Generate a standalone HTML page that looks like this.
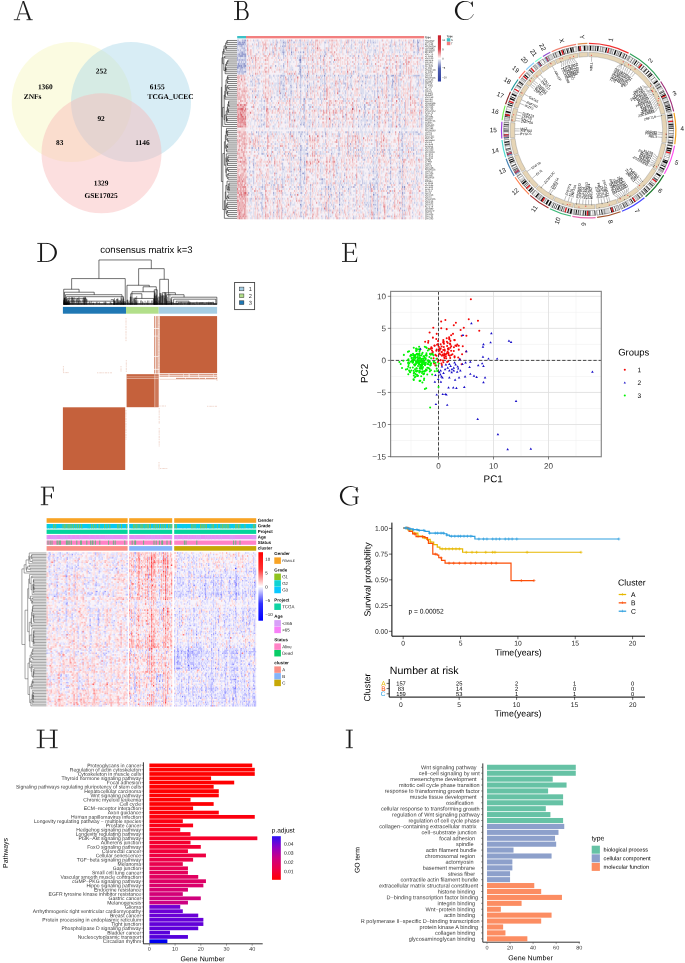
<!DOCTYPE html>
<html><head><meta charset="utf-8"><title>Figure</title>
<style>html,body{margin:0;padding:0;background:#fff}svg{display:block;will-change:transform}text{white-space:pre;text-rendering:geometricPrecision}</style></head>
<body><svg width="685" height="963" viewBox="0 0 685 963" font-family="Liberation Sans, sans-serif">
<rect width="685" height="963" fill="#fff"/>
<g id="panel_a">
<g>
<circle cx="71.7" cy="102" r="60" fill="#f7f7c0" fill-opacity="0.48"/>
<circle cx="131" cy="102" r="60" fill="#a8d8e8" fill-opacity="0.45"/>
<circle cx="101.5" cy="153.3" r="60" fill="#f8b8b8" fill-opacity="0.45"/>
</g>
<g font-family="Liberation Serif" font-weight="bold" font-size="7.4" text-anchor="middle">
<text x="45.3" y="89.2" transform="rotate(0.03 45.3 89.2)">1360</text>
<text x="32.6" y="98.9" transform="rotate(0.03 32.6 98.9)">ZNFs</text>
<text x="101.4" y="73.4" transform="rotate(0.03 101.4 73.4)">252</text>
<text x="157.2" y="89.2" transform="rotate(0.03 157.2 89.2)">6155</text>
<text x="170.6" y="98.9" transform="rotate(0.03 170.6 98.9)">TCGA_UCEC</text>
<text x="101.1" y="121.1" transform="rotate(0.03 101.1 121.1)">92</text>
<text x="59.8" y="144.9" transform="rotate(0.03 59.8 144.9)">83</text>
<text x="142.4" y="144.9" transform="rotate(0.03 142.4 144.9)">1146</text>
<text x="101.1" y="185.6" transform="rotate(0.03 101.1 185.6)">1329</text>
<text x="101.1" y="198" transform="rotate(0.03 101.1 198)">GSE17025</text>
</g>
</g>
<g id="panel_b">
<rect x="237.2" y="39.5" width="187" height="179.8" fill="#f6f0f6"/>
<path d="M239.2 42.43h1m2 0h1m1 0h1m38 0h1M291.2 52.2h1m11 0h1M324.2 56.11h1M299.2 60.02h2M300.2 61.98h1M238.2 63.93h1M239.2 65.88h1m1 0h1m3 0h1M237.2 67.84h1M300.2 69.79h1M307.2 75.66h1m16 0h1M280.2 93.24h1M304.2 99.11h1M389.2 132.33h1M307.2 153.83h1M300.2 159.69h1M300.2 169.46h1M328.2 187.05h1m73 0h1m1 0h1M402.2 192.92h1M373.2 194.87h1M300.2 204.64h1m38 0h1" stroke="#717cbe" stroke-width="1.99" fill="none"/>
<path d="M242.2 40.48h1m1 0h2m45 0h1m121 0h1m3 0h1M238.2 42.43h1m1 0h1m2 0h1m44 0h1m57 0h1m20 0h1m5 0h1m39 0h1m3 0h2M237.2 44.39h7m32 0h1m30 0h1m109 0h1M241.2 46.34h1m40 0h1m130 0h1m3 0h1M244.2 48.29h1m173 0h1M240.2 50.25h1m87 0h1m89 0h1M241.2 52.2h2m30 0h1m8 0h2m16 0h1M238.2 54.16h2m1 0h5m37 0h1m7 0h1m33 0h1M239.2 56.11h4m1 0h2m54 0h1m19 0h1m37 0h1M237.2 58.07h1m62 0h1M237.2 60.02h1m1 0h1m2 0h1M241.2 61.98h1m3 0h1M243.2 63.93h2M237.2 65.88h2m1 0h1m2 0h2m30 0h1m7 0h1m15 0h1M238.2 67.84h1m1 0h3m1 0h1m55 0h1m19 0h1M240.2 69.79h1M237.2 71.75h1m1 0h1m4 0h2m53 0h2m52 0h1M300.2 73.7h1m6 0h1m92 0h1M252.2 75.66h1m28 0h1m18 0h1m15 0h1m17 0h1m3 0h1m12 0h1m6 0h1m3 0h1m11 0h1m5 0h1m6 0h1m3 0h3m1 0h1m22 0h1M280.2 77.61h1m69 0h1m14 0h1m11 0h1M291.2 79.56h1m47 0h1m52 0h1M307.2 81.52h1m50 0h1m3 0h1m29 0h2M365.2 83.47h1m26 0h1m2 0h1M283.2 85.43h1m6 0h1m16 0h1m53 0h1m30 0h1M296.2 87.38h1m3 0h1m6 0h1m40 0h1M252.2 91.29h1m38 0h1m8 0h1m6 0h1m16 0h1m14 0h1m37 0h1M284.2 95.2h1m22 0h1m87 0h1m2 0h1M271.2 97.15h1M364.2 99.11h1M264.2 101.06h1m123 0h1M421.2 103.02h1M303.2 104.97h1m60 0h1M274.2 106.93h1m89 0h1m12 0h1M340.2 108.88h1m23 0h1M395.2 112.79h1m25 0h1M261.2 114.74h1m47 0h1m35 0h1m18 0h1m9 0h1M318.2 116.7h1m24 0h1m13 0h1m6 0h1M421.2 118.65h1M261.2 120.61h1m112 0h1m13 0h1m10 0h1m4 0h1M377.2 122.56h1M263.2 124.51h1m36 0h1m2 0h1m28 0h1m36 0h1m4 0h1m24 0h1m21 0h1M309.2 126.47h1m28 0h1m19 0h1M256.2 132.33h1m33 0h1m34 0h1m27 0h1m28 0h1m16 0h1M290.2 134.29h1m16 0h1m17 0h1m45 0h1m46 0h1M300.2 136.24h1m21 0h1m79 0h1M401.2 140.15h1M350.2 144.06h1M300.2 146.01h1M252.2 147.97h1m5 0h1M293.2 149.92h1m6 0h1m57 0h1m18 0h1m6 0h1m17 0h1m10 0h1M348.2 151.88h1m33 0h1M262.2 153.83h1m21 0h1m3 0h1m42 0h1m6 0h1m38 0h1m35 0h1M307.2 155.78h1m64 0h1M249.2 157.74h1m43 0h1m6 0h1m89 0h1m8 0h1M253.2 159.69h1m61 0h1m48 0h1m37 0h1M304.2 161.65h1M253.2 163.6h1m50 0h1m85 0h1M253.2 165.56h1m50 0h1m97 0h1M249.2 167.51h1m50 0h1m89 0h1m8 0h1m2 0h1M300.2 171.42h1m72 0h1m16 0h1m8 0h2m1 0h1M302.2 173.37h2m86 0h1m30 0h1M300.2 175.33h1m43 0h1M304.2 177.28h1M304.2 179.24h1m16 0h2m50 0h1m16 0h1M269.2 183.14h1m120 0h1m8 0h1m7 0h1M310.2 185.1h1m59 0h1M251.2 187.05h1m10 0h1m19 0h1m42 0h1m16 0h1m10 0h1m16 0h1m2 0h1m13 0h1M328.2 189.01h1m1 0h1m17 0h1m55 0h1M248.2 192.92h1m24 0h1m27 0h1m37 0h1m47 0h1M262.2 194.87h1m27 0h1m30 0h1m6 0h1m2 0h1m9 0h1m35 0h1m24 0h1M370.2 196.83h1M310.2 198.78h1m17 0h1m10 0h1m62 0h1M301.2 200.73h1m37 0h1m33 0h1M273.2 202.69h1M373.2 204.64h1m28 0h1M325.2 206.6h1M310.2 208.55h1m22 0h1m43 0h1m22 0h1M282.2 210.51h1m45 0h1m25 0h1m22 0h1m24 0h1m1 0h1M273.2 212.46h1m65 0h1M387.2 216.37h1M353.2 218.32h1m25 0h1m22 0h1" stroke="#99a0d0" stroke-width="1.99" fill="none"/>
<path d="M237.2 40.48h2m4 0h1m9 0h1m3 0h1m18 0h1m3 0h1m2 0h1m15 0h2m10 0h1m36 0h1m2 0h1m16 0h1m1 0h1m20 0h1m7 0h1m19 0h1m3 0h1M237.2 42.43h1m3 0h1m3 0h1m12 0h1m14 0h1m2 0h2m6 0h2m7 0h2m5 0h1m6 0h1m2 0h1m2 0h1m10 0h2m2 0h1m19 0h1m5 0h1m4 0h1m1 0h1m8 0h1m4 0h1m15 0h1m10 0h1m6 0h1M244.2 44.39h2m6 0h1m5 0h1m11 0h1m12 0h1m1 0h1m14 0h1m2 0h1m7 0h1m39 0h1m15 0h1m22 0h1m4 0h1m3 0h1m2 0h1m20 0h1M237.2 46.34h1m1 0h2m1 0h1m1 0h1m1 0h1m11 0h1m17 0h1m3 0h1m2 0h3m2 0h1m11 0h1m12 0h1m29 0h1m7 0h1m9 0h1m5 0h1m1 0h1m7 0h1m11 0h2m4 0h1m22 0h1M237.2 48.29h1m3 0h3m39 0h1m4 0h1m2 0h1m4 0h1m10 0h1m20 0h1m22 0h1m9 0h1m55 0h1m5 0h1M237.2 50.25h2m4 0h3m26 0h1m3 0h1m3 0h1m1 0h2m5 0h1m1 0h1m15 0h1m3 0h1m1 0h1m10 0h1m21 0h1m12 0h1m14 0h2m26 0h1m14 0h1M239.2 52.2h2m2 0h2m13 0h1m13 0h1m11 0h1m8 0h1m4 0h1m8 0h1m5 0h1m10 0h2m20 0h1m1 0h1m7 0h1m2 0h1m1 0h1m6 0h1m6 0h1m5 0h1m10 0h1m6 0h1m6 0h1m6 0h2m2 0h2m4 0h1M237.2 54.16h1m2 0h1m15 0h1m16 0h1m93 0h1m5 0h1m43 0h1m3 0h1M237.2 56.11h2m4 0h1m4 0h1m5 0h1m23 0h1m4 0h1m1 0h1m17 0h1m3 0h1m23 0h1m18 0h1m2 0h1m15 0h1m19 0h1m5 0h1m4 0h1M240.2 58.07h1m3 0h2m32 0h1m4 0h1m13 0h1m1 0h1m3 0h1m16 0h1m37 0h1M238.2 60.02h1m1 0h2m1 0h3m6 0h1m28 0h1m38 0h1m48 0h1m19 0h1m30 0h1M238.2 61.98h2m3 0h1m8 0h1m46 0h1m13 0h1m10 0h1m5 0h1m2 0h1m61 0h1m4 0h1M237.2 63.93h1m1 0h4m2 0h1m37 0h1m16 0h1m23 0h1m33 0h1m4 0h1m7 0h1m17 0h1M242.2 65.88h1m18 0h1m35 0h2m1 0h1m3 0h1m2 0h1m5 0h1m6 0h1m25 0h1m48 0h1m3 0h2m22 0h1M239.2 67.84h1m3 0h1m1 0h1m37 0h1m15 0h1m5 0h1m1 0h1m3 0h1m1 0h1m20 0h1m6 0h1m16 0h1m24 0h2m10 0h1m3 0h2m15 0h1m6 0h1M237.2 69.79h1m1 0h1m1 0h2m2 0h1m46 0h1m6 0h1m20 0h1m9 0h1m27 0h1M238.2 71.75h1m1 0h4m80 0h1m16 0h1m58 0h1M238.2 73.7h2m1 0h3m16 0h1m31 0h1m5 0h2m13 0h1m10 0h2m24 0h1m2 0h1m4 0h1m18 0h1m21 0h1M250.2 75.66h1m18 0h1m3 0h1m4 0h1m1 0h1m1 0h3m5 0h2m1 0h1m2 0h1m4 0h2m2 0h1m14 0h1m1 0h1m5 0h1m1 0h1m14 0h1m19 0h1m1 0h1m2 0h1m6 0h1m4 0h1m5 0h1m9 0h3m3 0h1m8 0h5m1 0h1M256.2 77.61h1m12 0h1m13 0h1m4 0h1m1 0h1m9 0h2m2 0h1m2 0h1m1 0h1m6 0h1m4 0h1m2 0h1m20 0h1m14 0h1m5 0h2m1 0h1m4 0h1m13 0h1m6 0h1m13 0h1m6 0h1M252.2 79.56h1m1 0h1m2 0h2m24 0h1m3 0h2m11 0h1m4 0h1m14 0h1m3 0h1m18 0h1m1 0h1m28 0h1m2 0h1m17 0h1m2 0h1m19 0h1m1 0h1m2 0h1M250.2 81.52h2m6 0h1m21 0h2m2 0h1m3 0h1m1 0h1m9 0h1m12 0h1m10 0h1m14 0h1m3 0h1m21 0h1m11 0h1m10 0h1m9 0h1m19 0h1m4 0h1M252.2 83.47h1m5 0h2m18 0h1m1 0h2m1 0h1m12 0h1m3 0h1m8 0h1m3 0h1m8 0h1m1 0h2m6 0h1m5 0h1m4 0h3m4 0h1m23 0h1m2 0h1m4 0h1m5 0h1m9 0h1m18 0h2m4 0h1M247.2 85.43h1m4 0h1m1 0h1m14 0h1m10 0h1m1 0h1m1 0h1m6 0h1m4 0h1m2 0h2m3 0h1m4 0h1m6 0h1m3 0h1m3 0h1m9 0h1m10 0h1m4 0h2m22 0h1m16 0h1m3 0h1m2 0h1m1 0h1m16 0h1M283.2 87.38h1m6 0h2m21 0h1m1 0h1m8 0h1m5 0h1m8 0h1m4 0h1m6 0h1m13 0h1m3 0h1m7 0h1m2 0h1m10 0h2M250.2 89.34h1m31 0h3m39 0h1m14 0h1m8 0h1m28 0h1m3 0h2m4 0h1m7 0h1M254.2 91.29h1m3 0h1m18 0h1m8 0h1m3 0h1m5 0h1m16 0h1m8 0h1m2 0h1m8 0h1m3 0h1m6 0h1m22 0h1m3 0h1m1 0h1m3 0h1m3 0h1m5 0h1m6 0h1m21 0h1m5 0h1M283.2 93.24h1m6 0h2m8 0h1m6 0h1m12 0h1m3 0h1m9 0h1m10 0h1m5 0h1m9 0h1m12 0h1m2 0h1m4 0h1m12 0h1m2 0h1M252.2 95.2h1m3 0h2m4 0h1m14 0h1m4 0h1m5 0h1m2 0h1m8 0h1m19 0h1m3 0h1m14 0h1m10 0h1m14 0h1m8 0h1m2 0h1m4 0h1m5 0h2m2 0h1m25 0h1M252.2 97.15h1m21 0h1m7 0h1m17 0h1m19 0h1m21 0h1m22 0h1m8 0h1m2 0h1m14 0h1m23 0h2M261.2 99.11h1m8 0h1m9 0h1m3 0h1m2 0h1m2 0h1m2 0h1m6 0h1m2 0h1m5 0h3m6 0h1m1 0h1m17 0h1m4 0h1m13 0h1m7 0h1m10 0h1m14 0h1m6 0h2m2 0h1M261.2 101.06h1m9 0h1m21 0h1m6 0h1m2 0h2m16 0h1m21 0h1m1 0h1m2 0h1m15 0h1m9 0h1m16 0h1m7 0h1m21 0h1M254.2 103.02h1m45 0h1m3 0h1m16 0h1m47 0h1m6 0h1m27 0h1M290.2 104.97h1m13 0h1m3 0h1m25 0h1m22 0h1m11 0h2m6 0h1m10 0h1m2 0h1m7 0h1m4 0h1m13 0h1m2 0h1M251.2 106.93h1m11 0h2m6 0h1m21 0h1m7 0h1m1 0h2m4 0h2m17 0h1m9 0h1m1 0h1m2 0h1m1 0h1m7 0h1m4 0h1m1 0h1m4 0h1m8 0h1m16 0h1m7 0h1m4 0h1m16 0h2M261.2 108.88h1m1 0h2m10 0h1m9 0h1m14 0h1m2 0h2m4 0h1m8 0h1m9 0h1m14 0h1m9 0h1m7 0h1m7 0h1m18 0h1m10 0h1M261.2 110.83h1m31 0h1m6 0h1m2 0h2m16 0h1m43 0h1m11 0h1m10 0h1m6 0h1m15 0h1m9 0h1M283.2 112.79h1m9 0h1m9 0h1m60 0h2m11 0h1M254.2 114.74h1m3 0h1m5 0h1m22 0h1m2 0h1m13 0h1m13 0h1m15 0h1m18 0h1m13 0h1m18 0h1m1 0h1m8 0h1m1 0h2m7 0h1m12 0h1M264.2 116.7h1m6 0h1m4 0h1m16 0h1m4 0h1m4 0h2m4 0h1m11 0h1m31 0h1m7 0h1m12 0h1m1 0h2m12 0h2m12 0h1M301.2 118.65h1m1 0h2m29 0h1m39 0h1m2 0h1m10 0h1m10 0h1m18 0h1M255.2 120.61h1m2 0h1m11 0h1m6 0h1m13 0h1m8 0h1m9 0h1m21 0h1m12 0h1m7 0h1m4 0h1m2 0h1m4 0h2m22 0h1m20 0h1m9 0h1M264.2 122.56h1m20 0h1m15 0h1m1 0h2m4 0h1m3 0h1m4 0h1m15 0h1m5 0h1m12 0h1m28 0h1m12 0h1m25 0h1M261.2 124.51h1m2 0h1m25 0h1m2 0h1m7 0h1m2 0h1m33 0h1m4 0h1m14 0h1m2 0h1m2 0h2m1 0h1m9 0h1m13 0h1m6 0h1m5 0h1M258.2 126.47h2m1 0h1m11 0h1m19 0h1m10 0h1m13 0h1m9 0h1m3 0h1m31 0h1m9 0h1m13 0h1m2 0h1m3 0h1m3 0h2m3 0h1m12 0h1m3 0h1M251.2 132.33h1m6 0h1m2 0h2m2 0h1m4 0h1m5 0h1m11 0h1m4 0h1m4 0h2m1 0h2m1 0h1m2 0h1m7 0h1m6 0h1m15 0h1m6 0h2m1 0h1m7 0h1m1 0h1m15 0h1m13 0h1m12 0h1m3 0h2m6 0h1m1 0h3m2 0h1M251.2 134.29h2m5 0h1m12 0h1m11 0h1m9 0h1m6 0h2m13 0h2m21 0h2m8 0h1m7 0h1m1 0h1m18 0h1m21 0h1m1 0h2m1 0h1m4 0h1m3 0h1m5 0h1M258.2 136.24h1m2 0h1m6 0h1m15 0h1m5 0h1m13 0h1m20 0h1m12 0h2m8 0h1m4 0h1m14 0h1m8 0h1M251.2 138.19h1m12 0h1m25 0h1m2 0h1m2 0h1m18 0h1m85 0h2m10 0h1M252.2 140.15h1m40 0h1m8 0h1m3 0h2m17 0h1m32 0h1m12 0h1m41 0h1M258.2 142.1h1m6 0h1m41 0h1m17 0h1m12 0h1m6 0h1m12 0h1m18 0h1m24 0h1m17 0h1M258.2 144.06h1m12 0h1m3 0h1m12 0h1m17 0h2m30 0h1m22 0h1m15 0h1m1 0h1m21 0h2m10 0h1M301.2 146.01h1m36 0h1m9 0h1m9 0h1m18 0h1m11 0h1m11 0h2m10 0h1M251.2 147.97h1m11 0h1m11 0h1m1 0h1m5 0h1m4 0h1m7 0h1m3 0h2m4 0h2m14 0h1m2 0h1m12 0h2m10 0h1m2 0h1m6 0h1m1 0h1m11 0h1m24 0h1m7 0h1m3 0h1m1 0h1M256.2 149.92h1m1 0h1m5 0h1m10 0h1m7 0h1m6 0h1m10 0h1m3 0h2m18 0h1m5 0h1m6 0h2m8 0h1m1 0h1m2 0h1m2 0h1m3 0h1m1 0h1m11 0h1m7 0h1m5 0h2m6 0h1m4 0h1m9 0h1m8 0h1M271.2 151.88h1m7 0h1m16 0h1m3 0h1m14 0h1m4 0h1m7 0h1m24 0h1m7 0h1m8 0h1m2 0h1m15 0h1m12 0h1m13 0h1M258.2 153.83h1m2 0h1m1 0h1m2 0h1m4 0h1m5 0h1m12 0h1m9 0h1m4 0h2m8 0h2m3 0h1m18 0h1m6 0h1m1 0h1m1 0h1m5 0h1m1 0h1m3 0h1m7 0h1m3 0h1m4 0h1m4 0h1m4 0h2m5 0h1m2 0h1m2 0h1m13 0h1M290.2 155.78h1m9 0h1m30 0h1m6 0h1m14 0h1m4 0h1m2 0h1m37 0h1m1 0h1m5 0h1m5 0h1M271.2 157.74h1m19 0h1m6 0h1m5 0h1m15 0h1m9 0h1m27 0h1m3 0h1m4 0h1m5 0h1m2 0h1m12 0h1m12 0h1m4 0h1m8 0h1M271.2 159.69h1m10 0h2m7 0h1m9 0h1m2 0h1m25 0h1m5 0h1m21 0h1m4 0h1m26 0h1m25 0h1m4 0h1M249.2 161.65h1m3 0h1m46 0h1m72 0h1m16 0h1M249.2 163.6h1m5 0h1m25 0h2m5 0h1m11 0h1m19 0h1m16 0h1m6 0h1m18 0h1m9 0h1m22 0h1m2 0h1m2 0h1M271.2 165.56h1m10 0h1m16 0h1m5 0h1m9 0h1m19 0h2m39 0h1m39 0h1M253.2 167.51h1m28 0h1m1 0h1m14 0h1m4 0h1m39 0h1m13 0h1m1 0h1m1 0h1m7 0h1m2 0h1m2 0h1m4 0h1m24 0h1M282.2 169.46h2m9 0h1m26 0h1m15 0h1m8 0h1m22 0h1m4 0h1m13 0h1m12 0h1m1 0h1M247.2 171.42h1m2 0h1m1 0h2m36 0h2m7 0h1m4 0h1m4 0h1m10 0h1m9 0h1m5 0h1m23 0h1m11 0h1m3 0h1m30 0h1m8 0h1m1 0h1m2 0h1M249.2 173.37h1m3 0h1m21 0h2m23 0h1m3 0h1m6 0h1m16 0h1m7 0h2m6 0h1m24 0h1m3 0h1m3 0h1m11 0h1m9 0h1m2 0h1M262.2 175.33h1m28 0h1m4 0h1m7 0h1m50 0h1m7 0h1m12 0h2m12 0h1m11 0h1M247.2 177.28h1m5 0h1m18 0h1m6 0h1m4 0h1m15 0h1m34 0h1m4 0h1m35 0h1m13 0h1m7 0h1m17 0h1M249.2 179.24h1m3 0h1m8 0h1m12 0h1m5 0h2m5 0h1m2 0h1m4 0h1m3 0h1m19 0h1m3 0h1m19 0h1m17 0h1m9 0h1m1 0h1m2 0h1m24 0h1m13 0h1M253.2 181.19h1m8 0h1m1 0h1m7 0h1m3 0h1m5 0h1m8 0h1m8 0h1m2 0h1m18 0h1m12 0h1m4 0h1m21 0h1m13 0h1m10 0h1m11 0h1m11 0h1m1 0h1m3 0h1M249.2 183.14h1m3 0h1m22 0h1m5 0h1m16 0h2m2 0h2m8 0h1m1 0h1m5 0h2m7 0h1m4 0h1m4 0h1m3 0h1m1 0h1m15 0h1m1 0h1m4 0h2m1 0h1m2 0h3m3 0h1m11 0h1m6 0h1m1 0h1m13 0h1m4 0h1M262.2 185.1h1m8 0h1m1 0h2m3 0h1m3 0h1m17 0h1m27 0h1m2 0h1m7 0h1m1 0h1m12 0h2m4 0h2m12 0h1m2 0h1m24 0h1m9 0h1m4 0h1M261.2 187.05h1m2 0h1m8 0h1m4 0h1m4 0h1m6 0h1m3 0h1m2 0h2m1 0h2m8 0h1m22 0h1m5 0h1m3 0h1m7 0h1m2 0h1m13 0h1m5 0h1m2 0h1m10 0h2m2 0h1M262.2 189.01h1m1 0h1m8 0h1m1 0h1m2 0h1m19 0h1m2 0h1m8 0h1m10 0h1m3 0h1m8 0h1m30 0h1m2 0h1m1 0h1m2 0h2m2 0h1m2 0h1m1 0h1m4 0h1m14 0h1m10 0h1M325.2 190.96h1m4 0h1m17 0h1m16 0h1m4 0h1m18 0h1m2 0h1m9 0h1M260.2 192.92h2m20 0h1m7 0h1m9 0h1m9 0h1m10 0h1m3 0h1m2 0h1m7 0h1m5 0h1m7 0h1m22 0h1m1 0h1m13 0h1m8 0h1m5 0h1m7 0h1m9 0h1M251.2 194.87h1m9 0h1m11 0h1m8 0h1m11 0h1m9 0h1m5 0h1m14 0h1m4 0h1m8 0h1m2 0h1m31 0h1M262.2 196.83h1m68 0h1m5 0h1m1 0h1m33 0h1m3 0h1m9 0h1m16 0h1M250.2 198.78h2m4 0h1m1 0h1m2 0h2m10 0h2m3 0h1m3 0h1m31 0h1m6 0h1m12 0h1m18 0h1m10 0h1m8 0h1m3 0h1m9 0h1m7 0h1m8 0h1m7 0h1M250.2 200.73h1m49 0h1m9 0h1m17 0h1m14 0h1m9 0h1m3 0h1m12 0h1m4 0h1m1 0h1m12 0h1m11 0h1M256.2 202.69h1m3 0h2m28 0h1m13 0h1m5 0h1m8 0h1m5 0h1m4 0h1m8 0h1m8 0h1m15 0h1m2 0h1m2 0h1m6 0h1m15 0h1m6 0h1m1 0h1m11 0h1m6 0h1M256.2 204.64h1m1 0h1m2 0h1m28 0h1m10 0h1m7 0h2m10 0h1m1 0h1m1 0h1m2 0h1m2 0h1m1 0h1m8 0h1m10 0h1m1 0h1m9 0h2m1 0h1m1 0h1m3 0h2m1 0h1m2 0h1m8 0h1m14 0h1m11 0h1m4 0h1M261.2 206.6h2m37 0h2m5 0h1m2 0h1m17 0h1m4 0h1m14 0h1m19 0h1m1 0h1m6 0h1m9 0h1m14 0h1m1 0h1M261.2 208.55h2m15 0h1m3 0h1m17 0h1m6 0h1m5 0h1m7 0h1m3 0h1m2 0h1m10 0h1m17 0h1m16 0h2m11 0h1m1 0h1M258.2 210.51h1m2 0h1m16 0h1m16 0h1m14 0h1m10 0h1m3 0h1m4 0h1m8 0h1m2 0h1m49 0h1M262.2 212.46h1m6 0h1m8 0h1m3 0h1m2 0h1m8 0h1m5 0h2m2 0h1m23 0h1m39 0h1m4 0h1m3 0h1m2 0h1m21 0h1m9 0h1M262.2 214.41h1m10 0h1m20 0h1m5 0h1m6 0h1m20 0h1m10 0h1m8 0h1m21 0h1m2 0h2m2 0h1m24 0h1m1 0h1M273.2 216.37h1m4 0h1m9 0h1m11 0h2m1 0h1m17 0h1m3 0h1m2 0h1m1 0h1m22 0h1m11 0h1m7 0h1m14 0h2m6 0h1m5 0h1m9 0h1m8 0h1M269.2 218.32h1m20 0h1m12 0h1m6 0h1m14 0h1m2 0h1m10 0h1m33 0h2m2 0h1m26 0h1" stroke="#bcc1e1" stroke-width="1.99" fill="none"/>
<path d="M240.2 40.48h2m14 0h1m1 0h1m10 0h1m2 0h2m7 0h2m2 0h1m2 0h1m7 0h1m10 0h2m16 0h2m1 0h1m11 0h2m4 0h1m6 0h1m5 0h1m7 0h1m4 0h2m1 0h1m1 0h1m3 0h1m27 0h1m4 0h1m3 0h1M254.2 42.43h1m5 0h1m9 0h1m1 0h1m7 0h3m3 0h1m3 0h2m4 0h1m1 0h2m2 0h2m1 0h2m1 0h1m2 0h1m21 0h2m5 0h2m9 0h1m1 0h1m4 0h1m1 0h1m2 0h1m4 0h1m2 0h2m1 0h1m2 0h1m7 0h1m3 0h2m4 0h2m2 0h1m5 0h2m7 0h2m4 0h1m2 0h1M267.2 44.39h1m4 0h2m6 0h1m1 0h1m5 0h1m2 0h1m6 0h1m3 0h1m1 0h1m15 0h1m3 0h1m3 0h1m11 0h1m7 0h1m12 0h1m9 0h1m1 0h1m17 0h1m21 0h1m4 0h1m2 0h1M238.2 46.34h1m4 0h1m1 0h1m3 0h1m3 0h1m2 0h2m2 0h2m7 0h1m2 0h1m17 0h2m1 0h1m3 0h3m3 0h2m2 0h2m2 0h1m12 0h1m3 0h2m3 0h1m7 0h1m4 0h1m1 0h1m1 0h1m2 0h1m5 0h1m6 0h1m3 0h1m2 0h2m1 0h1m5 0h1m1 0h1m6 0h2m3 0h1m1 0h3m1 0h1m1 0h1m16 0h1m1 0h1M239.2 48.29h2m11 0h2m2 0h1m1 0h1m8 0h1m1 0h1m3 0h1m2 0h1m3 0h3m10 0h1m6 0h1m2 0h1m4 0h1m2 0h1m4 0h1m7 0h2m11 0h1m2 0h2m1 0h1m2 0h1m3 0h1m3 0h1m2 0h1m1 0h1m7 0h2m2 0h1m3 0h1m4 0h1m9 0h2m3 0h1m4 0h1m1 0h1m10 0h2M239.2 50.25h1m1 0h2m3 0h1m6 0h1m15 0h1m3 0h1m5 0h1m1 0h1m2 0h2m2 0h1m11 0h1m2 0h1m2 0h1m7 0h1m10 0h1m15 0h1m9 0h1m1 0h1m2 0h1m4 0h1m6 0h4m1 0h1m3 0h1m11 0h4m2 0h5m13 0h1M237.2 52.2h2m6 0h1m7 0h1m9 0h2m2 0h1m2 0h1m5 0h1m3 0h2m3 0h1m2 0h1m7 0h1m5 0h1m5 0h1m1 0h2m8 0h1m1 0h1m3 0h1m1 0h1m10 0h3m7 0h2m3 0h1m3 0h1m6 0h1m1 0h1m2 0h1m2 0h2m3 0h1m1 0h1m6 0h1m1 0h1m1 0h1m3 0h1m1 0h1m4 0h1m1 0h1m2 0h2m7 0h1M260.2 54.16h1m3 0h1m2 0h1m2 0h1m1 0h1m3 0h1m4 0h2m1 0h1m8 0h1m5 0h2m2 0h1m3 0h2m11 0h1m2 0h2m18 0h1m4 0h1m2 0h1m3 0h1m5 0h1m6 0h1m6 0h2m1 0h1m12 0h1m7 0h1m13 0h2M252.2 56.11h1m10 0h1m8 0h1m17 0h1m1 0h1m1 0h1m2 0h3m1 0h1m9 0h1m1 0h1m2 0h1m5 0h1m2 0h1m4 0h1m1 0h1m16 0h1m2 0h1m9 0h1m7 0h1m1 0h2m3 0h1m5 0h2m2 0h2m2 0h1m7 0h1m1 0h2m4 0h1m4 0h2M238.2 58.07h2m1 0h3m6 0h1m9 0h1m14 0h1m4 0h1m4 0h1m4 0h2m15 0h1m3 0h1m1 0h1m2 0h1m7 0h1m5 0h2m21 0h1m8 0h2m5 0h2m3 0h1m4 0h1m9 0h1m4 0h1m18 0h1m2 0h1m1 0h3M246.2 60.02h1m44 0h1m4 0h1m1 0h1m4 0h2m2 0h1m3 0h1m1 0h1m2 0h1m7 0h1m6 0h1m5 0h1m8 0h1m11 0h1m4 0h1m6 0h1m6 0h1m5 0h1m11 0h1m3 0h2m3 0h1m5 0h1m12 0h1M237.2 61.98h1m2 0h1m1 0h1m1 0h1m1 0h1m13 0h1m2 0h1m10 0h2m1 0h2m5 0h2m3 0h2m2 0h1m10 0h1m2 0h1m3 0h1m4 0h1m3 0h1m1 0h1m12 0h1m14 0h1m2 0h1m4 0h1m3 0h4m3 0h1m1 0h1m5 0h1m11 0h1m9 0h1m2 0h1m4 0h1m11 0h1m3 0h1M246.2 63.93h1m31 0h1m5 0h1m4 0h1m8 0h2m9 0h1m1 0h1m4 0h1m13 0h2m5 0h1m11 0h1m3 0h1m30 0h1m2 0h1m12 0h3m17 0h1M247.2 65.88h2m1 0h1m1 0h3m5 0h1m9 0h2m6 0h1m1 0h2m7 0h1m1 0h1m9 0h3m1 0h1m10 0h2m6 0h2m2 0h1m10 0h1m10 0h1m2 0h1m3 0h2m3 0h1m1 0h1m1 0h1m2 0h4m2 0h1m1 0h1m6 0h1m5 0h1m10 0h1m2 0h2m6 0h2m4 0h1m1 0h1m1 0h1M252.2 67.84h1m1 0h1m6 0h1m7 0h1m5 0h1m5 0h1m2 0h1m5 0h3m11 0h1m4 0h1m4 0h1m2 0h1m3 0h2m1 0h1m5 0h1m8 0h1m2 0h1m3 0h1m3 0h1m2 0h2m2 0h1m1 0h1m1 0h1m2 0h1m4 0h1m3 0h1m15 0h1m12 0h1m11 0h1m5 0h1M238.2 69.79h1m4 0h2m1 0h1m1 0h1m29 0h1m1 0h2m1 0h1m5 0h3m6 0h1m2 0h1m1 0h1m3 0h1m14 0h1m1 0h2m9 0h1m5 0h1m4 0h1m10 0h1m1 0h2m1 0h3m5 0h1m6 0h1m10 0h2m11 0h1m14 0h1m1 0h1m1 0h2m1 0h1M252.2 71.75h1m8 0h1m13 0h1m4 0h1m2 0h1m4 0h1m14 0h1m3 0h1m3 0h1m8 0h1m4 0h1m4 0h1m14 0h1m8 0h1m3 0h1m4 0h1m5 0h2m13 0h1m2 0h1m11 0h1m1 0h2m2 0h1m14 0h1M237.2 73.7h1m2 0h1m4 0h1m6 0h1m14 0h1m14 0h3m5 0h1m5 0h1m7 0h1m4 0h1m6 0h1m13 0h1m1 0h1m12 0h2m2 0h1m2 0h1m6 0h1m1 0h1m19 0h1m2 0h1m17 0h1m15 0h1m2 0h2M246.2 75.66h1m9 0h4m2 0h1m1 0h1m5 0h1m3 0h1m1 0h2m9 0h3m14 0h1m4 0h1m1 0h1m1 0h1m4 0h1m2 0h1m3 0h1m6 0h1m2 0h1m3 0h5m2 0h1m1 0h3m6 0h1m3 0h1m2 0h1m1 0h1m5 0h2m5 0h1m10 0h1m6 0h1m10 0h2m1 0h2m8 0h3M252.2 77.61h1m1 0h1m6 0h1m8 0h2m2 0h1m2 0h1m3 0h1m2 0h1m6 0h1m1 0h1m2 0h1m5 0h1m2 0h1m5 0h1m1 0h1m18 0h3m3 0h2m1 0h1m1 0h2m3 0h1m12 0h1m17 0h1m2 0h2m3 0h1m1 0h1m2 0h2m4 0h1m15 0h1m2 0h2m2 0h1M246.2 79.56h1m3 0h1m8 0h1m11 0h1m3 0h1m1 0h2m1 0h3m1 0h1m5 0h1m2 0h1m7 0h1m2 0h1m2 0h1m1 0h1m1 0h1m1 0h1m1 0h3m3 0h2m2 0h1m4 0h1m3 0h1m15 0h2m9 0h1m3 0h2m3 0h1m9 0h1m7 0h2m7 0h1m1 0h1m7 0h1m8 0h2m3 0h1M252.2 81.52h1m1 0h1m11 0h1m2 0h1m3 0h1m3 0h2m3 0h1m6 0h1m1 0h1m1 0h1m2 0h1m2 0h1m20 0h3m2 0h1m2 0h1m5 0h1m2 0h2m10 0h3m2 0h1m5 0h2m1 0h1m2 0h1m1 0h3m2 0h2m4 0h1m7 0h1m2 0h2m3 0h1m4 0h2m4 0h1m8 0h1m5 0h1M246.2 83.47h1m3 0h1m3 0h1m1 0h2m4 0h1m6 0h1m1 0h1m2 0h4m4 0h1m1 0h1m3 0h4m1 0h1m1 0h1m2 0h1m3 0h1m1 0h1m6 0h1m4 0h1m3 0h1m2 0h1m6 0h2m2 0h1m4 0h1m2 0h1m8 0h1m6 0h1m3 0h1m5 0h3m8 0h2m6 0h1m1 0h1m3 0h1m5 0h2m3 0h2m2 0h2m6 0h1m4 0h2M250.2 85.43h2m6 0h1m3 0h1m8 0h1m1 0h3m1 0h2m22 0h2m2 0h1m5 0h1m1 0h1m1 0h1m5 0h1m9 0h1m1 0h1m4 0h3m7 0h2m6 0h1m1 0h1m6 0h1m1 0h1m4 0h2m1 0h1m1 0h1m1 0h1m1 0h1m2 0h1m2 0h2m10 0h1m4 0h1m3 0h2m3 0h1m2 0h1m1 0h1m4 0h1M257.2 87.38h2m12 0h1m2 0h1m2 0h2m1 0h1m1 0h1m6 0h1m3 0h1m5 0h1m5 0h1m3 0h1m1 0h1m4 0h1m8 0h1m5 0h2m1 0h1m3 0h1m4 0h1m6 0h1m7 0h1m1 0h2m4 0h1m3 0h2m2 0h1m7 0h1m4 0h3m3 0h1m1 0h1m2 0h1m10 0h1m3 0h1m1 0h2m1 0h1m1 0h1m1 0h2M252.2 89.34h1m9 0h1m9 0h2m1 0h1m1 0h2m1 0h2m6 0h4m4 0h1m3 0h1m3 0h4m3 0h1m1 0h1m6 0h2m3 0h1m7 0h2m8 0h1m14 0h1m1 0h4m6 0h2m18 0h4m4 0h2m2 0h1m3 0h1m6 0h1m4 0h1m3 0h1M256.2 91.29h1m3 0h1m1 0h1m6 0h1m3 0h1m2 0h1m1 0h1m1 0h5m3 0h1m4 0h1m7 0h1m2 0h2m3 0h1m1 0h1m3 0h2m16 0h1m8 0h1m1 0h1m5 0h1m9 0h4m1 0h1m5 0h1m8 0h1m10 0h2m5 0h1m1 0h1m7 0h2m4 0h1m1 0h1m1 0h1M248.2 93.24h1m5 0h1m2 0h2m12 0h1m1 0h2m1 0h2m3 0h2m1 0h1m3 0h1m4 0h1m11 0h1m5 0h1m13 0h1m4 0h1m7 0h1m4 0h1m11 0h1m2 0h1m1 0h1m1 0h2m1 0h3m4 0h1m6 0h1m7 0h1m3 0h2m6 0h1m2 0h1m10 0h1m3 0h2M248.2 95.2h1m5 0h1m3 0h1m12 0h1m4 0h1m1 0h1m1 0h1m2 0h1m3 0h1m1 0h2m2 0h1m2 0h1m4 0h1m3 0h1m6 0h1m3 0h1m4 0h2m2 0h1m4 0h1m2 0h2m3 0h1m1 0h2m2 0h2m2 0h1m2 0h1m1 0h1m7 0h2m3 0h1m1 0h3m9 0h1m9 0h2m1 0h1m6 0h1m4 0h1m3 0h1m3 0h2m1 0h2m5 0h1M257.2 97.15h2m2 0h1m16 0h1m1 0h1m2 0h1m3 0h1m2 0h2m1 0h1m10 0h2m1 0h1m16 0h1m5 0h1m3 0h1m4 0h1m1 0h1m3 0h1m5 0h1m1 0h1m4 0h1m2 0h3m4 0h1m1 0h2m10 0h1m4 0h2m2 0h1m3 0h1m2 0h1m1 0h1m8 0h1m4 0h2m6 0h1M248.2 99.11h1m3 0h1m1 0h1m9 0h1m9 0h1m6 0h1m3 0h1m8 0h1m1 0h3m2 0h1m5 0h2m4 0h1m3 0h1m3 0h3m1 0h1m8 0h1m9 0h2m7 0h1m4 0h2m1 0h1m4 0h2m1 0h3m1 0h2m2 0h1m3 0h1m1 0h1m2 0h1m1 0h1m15 0h1m3 0h2m7 0h1m2 0h3M249.2 101.06h1m1 0h1m1 0h3m3 0h2m2 0h1m13 0h1m2 0h1m1 0h4m4 0h1m5 0h1m11 0h2m5 0h1m2 0h1m6 0h1m2 0h1m5 0h1m9 0h1m4 0h1m3 0h1m3 0h3m10 0h1m6 0h1m9 0h1m2 0h1m11 0h1m5 0h1m13 0h1M261.2 103.02h1m2 0h1m4 0h1m2 0h1m12 0h1m4 0h1m12 0h1m9 0h1m1 0h1m2 0h1m9 0h1m14 0h1m1 0h1m7 0h1m6 0h1m1 0h1m2 0h1m5 0h2m4 0h1m6 0h1m3 0h1m2 0h1m3 0h1m2 0h1m1 0h1m7 0h1m7 0h3M259.2 104.97h4m1 0h1m4 0h1m1 0h1m7 0h2m1 0h1m8 0h1m1 0h1m4 0h1m1 0h1m8 0h3m1 0h1m14 0h1m3 0h1m5 0h1m6 0h1m7 0h1m6 0h1m1 0h1m2 0h1m1 0h1m6 0h1m1 0h1m9 0h1m8 0h1m2 0h1m9 0h1m8 0h1M254.2 106.93h1m3 0h1m1 0h2m7 0h1m2 0h1m2 0h1m4 0h1m3 0h2m1 0h1m2 0h1m4 0h1m1 0h1m13 0h1m1 0h1m1 0h2m1 0h2m1 0h1m12 0h1m9 0h1m6 0h1m11 0h1m6 0h1m2 0h1m7 0h1m2 0h1m2 0h1m2 0h1m4 0h1m2 0h1m1 0h1m1 0h1M246.2 108.88h1m7 0h1m3 0h1m9 0h3m2 0h1m2 0h2m2 0h1m1 0h1m3 0h2m2 0h4m4 0h1m2 0h1m6 0h1m1 0h1m2 0h1m1 0h1m1 0h1m1 0h2m2 0h1m7 0h1m2 0h1m10 0h1m2 0h1m1 0h1m3 0h1m12 0h2m3 0h3m2 0h1m4 0h1m7 0h2m3 0h1m7 0h2m3 0h2m1 0h1m6 0h1m2 0h1M255.2 110.83h1m2 0h1m5 0h1m6 0h1m12 0h1m3 0h1m12 0h1m7 0h1m7 0h2m6 0h1m2 0h1m9 0h2m5 0h1m1 0h2m9 0h1m2 0h1m2 0h1m11 0h1m14 0h1m7 0h1m2 0h1m1 0h1m12 0h2M254.2 112.79h1m8 0h1m16 0h1m7 0h1m1 0h1m9 0h1m3 0h1m2 0h1m2 0h1m7 0h1m15 0h1m8 0h1m14 0h1m15 0h1m1 0h1m17 0h1m4 0h1m2 0h3M248.2 114.74h1m7 0h1m2 0h2m15 0h2m2 0h1m4 0h1m2 0h1m2 0h1m1 0h1m2 0h1m1 0h1m1 0h1m12 0h1m18 0h1m4 0h1m12 0h1m7 0h1m3 0h1m7 0h1m10 0h1m7 0h1m1 0h1m3 0h1m11 0h1m3 0h1m4 0h2m2 0h1M258.2 116.7h1m1 0h2m1 0h1m13 0h1m1 0h1m5 0h1m4 0h1m5 0h2m2 0h1m7 0h1m2 0h1m1 0h1m1 0h1m3 0h1m5 0h1m1 0h2m5 0h1m3 0h1m5 0h2m14 0h1m1 0h1m2 0h2m2 0h2m9 0h1m3 0h1m3 0h1m9 0h3m1 0h1m6 0h1m7 0h2m2 0h3M251.2 118.65h2m1 0h1m5 0h1m3 0h1m15 0h1m2 0h1m3 0h1m2 0h1m2 0h1m1 0h1m1 0h2m16 0h1m9 0h1m2 0h1m9 0h1m5 0h2m7 0h1m1 0h1m2 0h1m3 0h4m3 0h1m1 0h1m26 0h1m21 0h1m2 0h1M251.2 120.61h1m2 0h1m5 0h1m1 0h1m8 0h2m1 0h1m5 0h1m4 0h1m1 0h1m5 0h1m1 0h1m1 0h1m3 0h4m2 0h3m3 0h1m1 0h1m2 0h1m9 0h1m2 0h1m4 0h1m1 0h2m14 0h1m5 0h1m1 0h4m3 0h3m4 0h2m3 0h2m3 0h1m2 0h1m5 0h1m2 0h1m1 0h1m1 0h1m3 0h1m1 0h1m7 0h2M248.2 122.56h1m1 0h1m3 0h1m5 0h1m2 0h1m7 0h1m4 0h1m3 0h1m3 0h1m2 0h1m3 0h1m1 0h1m6 0h1m1 0h1m4 0h2m1 0h2m3 0h1m12 0h1m9 0h1m4 0h2m13 0h1m1 0h2m2 0h2m4 0h2m2 0h1m1 0h1m11 0h1m2 0h1m7 0h1m2 0h1m1 0h1m3 0h1m8 0h1m4 0h2M250.2 124.51h1m3 0h1m4 0h1m2 0h1m11 0h2m4 0h1m10 0h1m5 0h1m8 0h1m2 0h2m2 0h1m1 0h1m2 0h2m1 0h1m3 0h1m2 0h1m18 0h1m2 0h1m2 0h1m1 0h2m11 0h1m7 0h1m11 0h3m4 0h1m20 0h2m4 0h1M252.2 126.47h1m3 0h1m3 0h1m3 0h1m4 0h1m2 0h1m1 0h1m12 0h1m2 0h2m5 0h2m1 0h1m5 0h3m6 0h1m4 0h2m12 0h1m5 0h1m2 0h1m1 0h1m2 0h2m3 0h1m6 0h1m1 0h2m2 0h1m2 0h1m3 0h1m2 0h2m5 0h1m5 0h2m12 0h1m2 0h1m1 0h1m9 0h1m3 0h1M250.2 128.42h1m1 0h1m11 0h1m4 0h1m3 0h2m1 0h1m2 0h1m1 0h2m2 0h2m1 0h1m4 0h1m3 0h1m1 0h1m6 0h2m1 0h1m1 0h2m1 0h2m8 0h2m3 0h1m1 0h1m4 0h1m1 0h1m9 0h1m4 0h1m2 0h1m3 0h1m1 0h1m2 0h1m7 0h2m2 0h1m12 0h1m4 0h1m2 0h1m2 0h6m5 0h1m8 0h1M253.2 130.38h1m14 0h1m38 0h1m3 0h1m12 0h2m10 0h1m11 0h1m11 0h2m3 0h1m3 0h1m3 0h1m3 0h1m2 0h2m6 0h1m1 0h1m1 0h1m8 0h1m2 0h1m6 0h1m2 0h1m2 0h1M247.2 132.33h1m16 0h1m1 0h1m2 0h1m1 0h1m1 0h3m2 0h2m1 0h1m4 0h2m4 0h1m1 0h1m1 0h1m3 0h1m4 0h1m5 0h1m4 0h1m2 0h1m4 0h1m2 0h1m1 0h1m1 0h1m7 0h1m17 0h1m2 0h3m1 0h3m1 0h3m6 0h3m4 0h1m2 0h1m4 0h1m9 0h1m4 0h1m1 0h4m1 0h1M260.2 134.29h2m1 0h2m4 0h2m3 0h1m1 0h2m1 0h1m2 0h1m13 0h1m1 0h1m3 0h1m2 0h2m12 0h1m2 0h1m5 0h1m2 0h1m1 0h2m2 0h1m2 0h1m9 0h1m10 0h2m2 0h1m1 0h1m4 0h1m1 0h1m4 0h1m4 0h1m4 0h1m10 0h1m6 0h1m3 0h1m3 0h3m2 0h3M251.2 136.24h1m4 0h1m12 0h1m1 0h1m2 0h1m1 0h1m11 0h1m4 0h1m2 0h1m4 0h1m27 0h1m1 0h1m1 0h1m16 0h1m7 0h1m2 0h2m3 0h1m7 0h1m12 0h1m2 0h1m8 0h1m1 0h1m1 0h1m3 0h1m5 0h1M258.2 138.19h1m15 0h2m1 0h1m1 0h1m3 0h2m3 0h1m9 0h1m1 0h2m2 0h2m1 0h1m10 0h1m3 0h1m5 0h1m5 0h1m2 0h3m5 0h2m1 0h1m1 0h1m2 0h1m4 0h1m2 0h1m12 0h1m4 0h1m19 0h1m4 0h2m1 0h1m7 0h1m3 0h1M251.2 140.15h1m9 0h1m28 0h1m7 0h1m1 0h1m3 0h1m10 0h2m12 0h1m8 0h1m6 0h1m2 0h1m12 0h2m11 0h1m13 0h2m12 0h1M252.2 142.1h1m7 0h3m10 0h1m1 0h1m3 0h1m2 0h3m10 0h2m1 0h1m1 0h1m2 0h1m42 0h1m1 0h1m7 0h1m5 0h1m11 0h2m3 0h1m21 0h1m3 0h1m3 0h1m1 0h1m1 0h1m1 0h3M262.2 144.06h1m1 0h1m9 0h1m2 0h1m1 0h1m4 0h1m5 0h1m2 0h1m4 0h1m1 0h1m18 0h1m2 0h4m4 0h1m1 0h1m12 0h1m2 0h1m4 0h1m2 0h1m1 0h1m5 0h1m3 0h2m2 0h1m1 0h1m7 0h1m1 0h1m1 0h1m1 0h2m6 0h1m2 0h1m4 0h2m1 0h1m7 0h1m4 0h1M251.2 146.01h2m13 0h1m4 0h1m7 0h1m4 0h1m3 0h1m7 0h1m1 0h1m5 0h1m2 0h1m8 0h1m3 0h1m1 0h1m1 0h1m25 0h1m2 0h1m2 0h1m4 0h1m12 0h1m9 0h1m5 0h1m8 0h1m5 0h1m1 0h1m7 0h1m2 0h1M246.2 147.97h1m7 0h1m6 0h1m2 0h2m5 0h1m2 0h1m1 0h1m2 0h1m2 0h1m10 0h1m1 0h1m3 0h1m2 0h1m1 0h1m6 0h1m7 0h1m8 0h1m2 0h4m6 0h1m3 0h1m2 0h1m7 0h1m1 0h1m2 0h1m3 0h2m1 0h1m3 0h2m1 0h1m1 0h1m1 0h1m4 0h1m3 0h3m5 0h1m3 0h1m1 0h2m1 0h1m3 0h2m1 0h1m2 0h2m5 0h1M251.2 149.92h2m1 0h1m6 0h2m2 0h1m5 0h1m2 0h1m1 0h1m1 0h2m4 0h1m4 0h1m6 0h1m1 0h1m3 0h3m6 0h1m1 0h1m1 0h3m4 0h1m1 0h1m3 0h2m4 0h1m2 0h1m3 0h1m3 0h1m5 0h1m9 0h1m3 0h1m4 0h3m2 0h1m3 0h1m7 0h1m3 0h2m1 0h1m4 0h2m4 0h3m4 0h1m2 0h1m1 0h1m1 0h1m2 0h2M251.2 151.88h1m6 0h1m2 0h2m14 0h1m6 0h1m3 0h1m9 0h2m1 0h1m1 0h2m2 0h1m8 0h1m2 0h1m2 0h1m2 0h1m5 0h2m1 0h1m3 0h2m5 0h1m10 0h1m1 0h1m3 0h2m13 0h1m9 0h1m2 0h1m8 0h1m1 0h1m3 0h1m14 0h1M251.2 153.83h1m12 0h1m4 0h1m9 0h1m3 0h1m14 0h2m1 0h4m3 0h1m2 0h1m7 0h1m1 0h5m6 0h2m3 0h1m2 0h1m12 0h1m7 0h1m1 0h2m1 0h1m1 0h1m3 0h2m1 0h1m6 0h1m2 0h1m2 0h1m4 0h1m7 0h1m2 0h4m1 0h1m1 0h1m5 0h4m1 0h1M256.2 155.78h1m7 0h2m5 0h1m1 0h2m1 0h1m11 0h1m4 0h1m2 0h1m4 0h1m2 0h1m20 0h1m17 0h1m1 0h1m2 0h1m1 0h1m5 0h1m11 0h1m8 0h1m6 0h1m4 0h1m10 0h1m1 0h1m6 0h1M247.2 157.74h2m4 0h2m10 0h1m3 0h1m3 0h1m2 0h1m5 0h1m5 0h1m1 0h1m10 0h1m1 0h1m17 0h2m8 0h1m4 0h2m2 0h1m1 0h1m1 0h1m6 0h1m1 0h1m10 0h2m3 0h1m7 0h1m16 0h1m3 0h1m1 0h1m5 0h1m10 0h1m1 0h1m1 0h1M248.2 159.69h1m15 0h1m4 0h1m11 0h1m4 0h1m3 0h1m2 0h1m1 0h2m1 0h2m3 0h1m1 0h1m3 0h1m1 0h1m8 0h1m18 0h1m4 0h1m3 0h1m8 0h1m4 0h1m9 0h2m1 0h2m4 0h1m5 0h1m18 0h1m2 0h1m5 0h1m4 0h1M251.2 161.65h2m18 0h1m25 0h1m4 0h1m28 0h1m4 0h2m6 0h1m21 0h1m5 0h1m1 0h2m1 0h1m20 0h2m2 0h1m13 0h1M261.2 163.6h1m14 0h1m13 0h2m1 0h1m5 0h1m1 0h1m13 0h1m5 0h2m12 0h1m4 0h1m4 0h1m13 0h2m11 0h1m2 0h1m1 0h1m3 0h1m2 0h1m21 0h1m9 0h1m4 0h1M248.2 165.56h1m9 0h1m5 0h1m4 0h1m3 0h1m2 0h1m13 0h2m9 0h1m1 0h1m9 0h1m6 0h2m2 0h1m6 0h1m5 0h2m5 0h1m3 0h1m13 0h1m4 0h1m1 0h1m2 0h1m1 0h1m9 0h1m5 0h1m5 0h1m2 0h1m21 0h1M254.2 167.51h1m3 0h1m1 0h1m2 0h1m5 0h4m8 0h1m1 0h1m4 0h1m1 0h2m1 0h2m1 0h1m5 0h2m1 0h1m5 0h1m1 0h1m1 0h1m4 0h3m1 0h2m6 0h1m2 0h3m2 0h1m4 0h1m2 0h1m2 0h1m2 0h2m1 0h1m1 0h1m1 0h1m2 0h1m1 0h2m1 0h1m5 0h1m7 0h1m2 0h2m5 0h1m4 0h1m1 0h1m3 0h1m2 0h1m7 0h3m2 0h2M248.2 169.46h1m4 0h1m18 0h1m3 0h1m7 0h1m5 0h2m4 0h1m7 0h1m10 0h1m6 0h1m1 0h1m5 0h2m3 0h1m2 0h1m19 0h1m13 0h1m2 0h2m13 0h1m8 0h1m6 0h1m8 0h3m3 0h1M249.2 171.42h1m9 0h1m2 0h1m6 0h2m1 0h2m2 0h1m5 0h2m1 0h2m6 0h1m2 0h1m5 0h1m12 0h1m6 0h1m19 0h1m5 0h1m8 0h3m2 0h2m5 0h1m5 0h1m1 0h1m3 0h1m1 0h1m14 0h1m10 0h1m1 0h1m1 0h1m3 0h1M252.2 173.37h1m12 0h1m4 0h3m8 0h2m1 0h1m6 0h1m1 0h1m11 0h1m9 0h1m4 0h3m7 0h1m8 0h2m7 0h1m10 0h1m2 0h2m1 0h1m2 0h1m1 0h1m1 0h1m1 0h3m4 0h1m5 0h2m8 0h2m1 0h1m6 0h1m3 0h3m2 0h1m5 0h1M249.2 175.33h1m3 0h1m4 0h1m2 0h1m2 0h1m11 0h1m5 0h1m1 0h1m8 0h1m5 0h1m1 0h1m11 0h1m1 0h1m4 0h1m9 0h1m1 0h1m3 0h2m1 0h2m19 0h1m1 0h1m10 0h1m19 0h1m2 0h2m1 0h2m6 0h1m7 0h1m1 0h1m3 0h1M252.2 177.28h1m6 0h1m2 0h1m6 0h1m1 0h1m3 0h2m4 0h2m7 0h1m6 0h1m3 0h2m12 0h1m4 0h2m9 0h1m4 0h1m2 0h1m4 0h1m5 0h1m3 0h1m2 0h1m3 0h2m3 0h1m2 0h1m4 0h2m1 0h1m3 0h1m2 0h1m2 0h1m12 0h1m1 0h1m6 0h1m11 0h1M247.2 179.24h2m2 0h1m6 0h1m2 0h1m2 0h1m4 0h1m1 0h1m4 0h1m1 0h1m4 0h2m2 0h1m2 0h1m2 0h1m5 0h1m3 0h1m7 0h1m3 0h1m7 0h1m4 0h1m1 0h2m5 0h1m1 0h1m7 0h1m5 0h3m2 0h1m2 0h1m13 0h1m5 0h1m13 0h1m2 0h4m2 0h1m1 0h1m2 0h1m8 0h1m1 0h1M248.2 181.19h4m18 0h2m9 0h1m1 0h2m5 0h1m1 0h2m2 0h1m2 0h1m1 0h1m2 0h1m4 0h1m3 0h1m1 0h1m5 0h1m1 0h2m6 0h1m4 0h1m4 0h1m2 0h1m2 0h2m8 0h4m3 0h1m1 0h1m2 0h2m2 0h1m1 0h1m1 0h2m4 0h1m4 0h1m1 0h1m1 0h1m5 0h1m3 0h1m3 0h1m9 0h1m3 0h1m2 0h1M247.2 183.14h2m6 0h1m2 0h2m2 0h1m1 0h1m3 0h1m2 0h2m2 0h1m1 0h1m5 0h2m3 0h1m1 0h2m1 0h1m4 0h1m6 0h1m13 0h2m3 0h2m2 0h1m2 0h1m5 0h3m2 0h1m4 0h2m1 0h1m4 0h1m1 0h3m3 0h1m1 0h2m6 0h2m14 0h1m8 0h1m9 0h1m4 0h1m3 0h1M251.2 185.1h1m1 0h1m4 0h1m5 0h1m26 0h1m1 0h1m7 0h1m2 0h1m6 0h1m8 0h1m4 0h1m4 0h1m2 0h1m4 0h1m4 0h1m4 0h1m1 0h1m14 0h2m1 0h1m4 0h1m1 0h1m6 0h1m4 0h1m10 0h1m5 0h1m9 0h2M248.2 187.05h1m1 0h1m5 0h1m1 0h3m9 0h2m2 0h1m5 0h1m8 0h1m12 0h2m3 0h1m5 0h1m7 0h1m1 0h2m2 0h1m2 0h2m2 0h1m10 0h1m2 0h3m6 0h1m2 0h3m1 0h3m8 0h2m3 0h1m9 0h1m5 0h1m2 0h1m11 0h5M250.2 189.01h2m6 0h1m2 0h1m9 0h1m10 0h2m2 0h1m4 0h2m2 0h1m4 0h1m2 0h1m10 0h1m4 0h1m2 0h2m3 0h1m3 0h1m1 0h1m4 0h2m1 0h2m3 0h1m2 0h2m4 0h1m2 0h1m1 0h2m2 0h1m1 0h1m8 0h1m12 0h1m9 0h1m18 0h1m4 0h1M250.2 190.96h2m4 0h1m3 0h1m12 0h1m10 0h1m15 0h2m1 0h1m6 0h1m3 0h1m3 0h1m2 0h1m6 0h1m2 0h1m2 0h1m3 0h2m3 0h1m3 0h1m2 0h1m2 0h3m1 0h1m10 0h1m5 0h1m2 0h1m2 0h1m19 0h1m3 0h1m7 0h1m3 0h1M251.2 192.92h3m2 0h1m1 0h2m2 0h1m6 0h1m4 0h2m2 0h1m5 0h2m11 0h2m3 0h1m4 0h1m1 0h1m3 0h1m4 0h1m1 0h1m9 0h1m2 0h1m7 0h1m4 0h1m1 0h1m6 0h1m4 0h1m3 0h2m2 0h1m1 0h1m3 0h1m2 0h1m4 0h1m9 0h2m6 0h1m13 0h1m1 0h2m3 0h1m1 0h1M248.2 194.87h1m4 0h2m1 0h1m3 0h1m2 0h1m10 0h2m9 0h3m3 0h2m5 0h1m2 0h1m4 0h1m8 0h1m2 0h1m14 0h1m4 0h1m4 0h1m6 0h2m1 0h1m1 0h1m2 0h1m1 0h1m3 0h3m1 0h1m6 0h2m5 0h1m4 0h1m2 0h1m7 0h1m11 0h1m1 0h1m3 0h1m4 0h1m1 0h1M251.2 196.83h1m8 0h1m2 0h1m26 0h1m4 0h1m4 0h1m3 0h1m4 0h2m10 0h3m4 0h1m9 0h1m3 0h2m3 0h2m6 0h1m4 0h1m5 0h1m1 0h2m4 0h1m4 0h2m1 0h1m6 0h1m6 0h1m3 0h1m1 0h1m3 0h1m9 0h1M249.2 198.78h1m3 0h1m9 0h2m4 0h1m1 0h1m8 0h1m3 0h1m3 0h1m6 0h1m4 0h3m1 0h1m4 0h1m3 0h1m11 0h1m4 0h2m1 0h1m7 0h2m3 0h1m1 0h1m1 0h1m3 0h1m5 0h1m5 0h1m1 0h1m1 0h1m3 0h1m1 0h1m2 0h1m12 0h1m13 0h1m6 0h2m2 0h1m2 0h2M249.2 200.73h1m1 0h1m2 0h1m3 0h1m2 0h2m1 0h1m3 0h1m3 0h1m1 0h1m7 0h1m9 0h1m25 0h1m12 0h1m10 0h1m5 0h1m5 0h1m5 0h2m2 0h2m2 0h1m5 0h1m1 0h1m10 0h1m16 0h1m9 0h1m6 0h1M248.2 202.69h1m1 0h2m10 0h1m19 0h2m3 0h1m3 0h1m2 0h1m5 0h2m1 0h1m14 0h1m9 0h1m4 0h2m6 0h1m1 0h1m1 0h1m3 0h1m5 0h1m1 0h1m2 0h1m4 0h2m1 0h2m3 0h3m4 0h1m1 0h1m2 0h1m1 0h1m1 0h1m14 0h1m1 0h1m5 0h1m3 0h2m2 0h1M248.2 204.64h2m1 0h1m2 0h1m7 0h1m6 0h1m3 0h1m4 0h1m5 0h1m7 0h3m7 0h2m14 0h3m20 0h1m6 0h1m1 0h1m6 0h2m1 0h1m3 0h1m11 0h1m2 0h1m1 0h1m10 0h1m3 0h1m1 0h1m1 0h1m11 0h1m4 0h1m2 0h1m1 0h1M256.2 206.6h1m16 0h1m4 0h1m11 0h1m22 0h1m7 0h1m8 0h1m1 0h1m1 0h1m4 0h1m2 0h1m10 0h2m9 0h2m1 0h1m5 0h2m1 0h1m3 0h1m8 0h1m22 0h1m3 0h1m3 0h1M250.2 208.55h2m1 0h2m5 0h1m12 0h1m10 0h1m7 0h1m8 0h1m6 0h1m10 0h1m2 0h2m10 0h1m6 0h1m6 0h1m1 0h2m14 0h2m2 0h1m2 0h1m5 0h2m9 0h1m11 0h1m1 0h1m1 0h1m7 0h1M253.2 210.51h1m8 0h1m1 0h1m4 0h1m3 0h3m9 0h1m6 0h1m1 0h1m5 0h1m1 0h1m4 0h1m3 0h1m6 0h1m4 0h1m7 0h1m2 0h1m3 0h1m2 0h1m6 0h2m3 0h1m1 0h1m4 0h1m3 0h1m2 0h2m1 0h1m2 0h3m2 0h1m1 0h1m1 0h1m3 0h3m9 0h1m7 0h1m5 0h1m2 0h1m5 0h1M248.2 212.46h4m1 0h1m10 0h1m19 0h1m25 0h2m1 0h1m7 0h1m9 0h1m1 0h1m8 0h2m3 0h2m4 0h1m3 0h2m1 0h2m3 0h1m3 0h2m3 0h3m9 0h2m12 0h1m3 0h1m11 0h1m3 0h1m1 0h1M250.2 214.41h1m2 0h1m4 0h1m2 0h1m16 0h1m3 0h1m7 0h1m10 0h1m8 0h1m7 0h1m6 0h1m4 0h1m1 0h1m10 0h1m21 0h1m2 0h1m16 0h1m6 0h1m13 0h1m6 0h1M251.2 216.37h1m1 0h2m1 0h1m4 0h2m1 0h1m5 0h1m3 0h1m9 0h1m1 0h1m3 0h1m1 0h1m2 0h1m35 0h1m16 0h1m6 0h2m7 0h1m1 0h1m3 0h1m3 0h1m2 0h1m4 0h1m7 0h1m1 0h1m7 0h1m2 0h2m10 0h1m1 0h1M250.2 218.32h2m2 0h1m1 0h1m1 0h1m3 0h1m10 0h1m8 0h2m11 0h1m17 0h1m7 0h2m10 0h1m8 0h2m4 0h1m1 0h1m3 0h2m4 0h1m7 0h1m7 0h1m3 0h1m1 0h1m8 0h2m19 0h1m4 0h1m3 0h1" stroke="#dbdeef" stroke-width="1.99" fill="none"/>
<path d="M250.2 40.48h1m4 0h1m5 0h1m2 0h4m7 0h1m14 0h1m6 0h1m3 0h2m3 0h1m5 0h1m6 0h1m1 0h3m3 0h1m2 0h1m2 0h3m3 0h1m5 0h1m3 0h1m2 0h1m2 0h1m1 0h1m4 0h1m23 0h2m6 0h1m3 0h1m2 0h1m1 0h1m4 0h1m1 0h2m8 0h1m1 0h1M247.2 42.43h1m11 0h1m3 0h1m11 0h1m3 0h1m9 0h1m14 0h1m4 0h1m2 0h1m4 0h1m3 0h1m5 0h1m3 0h2m3 0h2m4 0h1m1 0h2m9 0h1m6 0h1m16 0h1m8 0h1m23 0h1M248.2 44.39h1m5 0h1m5 0h1m1 0h1m3 0h1m1 0h1m18 0h1m2 0h1m1 0h1m1 0h2m1 0h1m1 0h1m1 0h1m3 0h1m4 0h1m2 0h1m5 0h1m9 0h3m2 0h1m2 0h2m6 0h1m1 0h1m6 0h1m2 0h1m2 0h1m7 0h2m9 0h1m2 0h1m2 0h1m6 0h2m6 0h2m6 0h1m3 0h1m3 0h1m3 0h1m1 0h1M250.2 46.34h2m16 0h1m17 0h2m6 0h1m10 0h2m7 0h2m2 0h1m13 0h1m4 0h1m1 0h1m4 0h1m17 0h1m5 0h1m10 0h1m3 0h1m4 0h1m8 0h1m7 0h1m4 0h1m1 0h1m2 0h1M259.2 48.29h1m2 0h1m15 0h1m6 0h3m4 0h1m4 0h1m3 0h2m3 0h1m6 0h1m13 0h1m1 0h2m1 0h1m2 0h2m10 0h1m1 0h1m10 0h1m1 0h1m10 0h1m2 0h1m2 0h1m3 0h1m1 0h2m1 0h1m5 0h1m3 0h1m4 0h1m1 0h2m4 0h1m3 0h1m3 0h1M248.2 50.25h1m2 0h1m5 0h1m5 0h1m10 0h1m18 0h1m2 0h2m6 0h2m3 0h1m5 0h2m1 0h2m1 0h1m1 0h1m2 0h2m3 0h2m6 0h1m2 0h1m4 0h2m1 0h1m1 0h1m5 0h1m3 0h1m16 0h1m2 0h1m11 0h1m5 0h1m9 0h3m3 0h1m5 0h1M249.2 52.2h1m1 0h1m7 0h1m2 0h1m2 0h1m3 0h1m1 0h1m2 0h1m3 0h1m10 0h1m5 0h1m9 0h1m3 0h1m2 0h1m6 0h1m7 0h1m1 0h1m2 0h1m9 0h1m12 0h1m4 0h1m1 0h2m15 0h1m3 0h2m3 0h1m5 0h1m27 0h1M248.2 54.16h1m2 0h1m3 0h1m1 0h1m4 0h1m8 0h1m3 0h1m3 0h1m14 0h2m8 0h1m4 0h1m5 0h1m1 0h3m1 0h1m9 0h1m1 0h2m3 0h2m2 0h1m4 0h1m4 0h1m1 0h1m3 0h1m4 0h3m8 0h1m2 0h1m1 0h1m3 0h1m2 0h1m1 0h1m3 0h3m13 0h1m1 0h1m8 0h1m2 0h1M250.2 56.11h2m1 0h1m5 0h1m6 0h1m6 0h1m3 0h1m1 0h1m7 0h1m7 0h1m6 0h1m9 0h1m1 0h2m2 0h1m4 0h1m3 0h1m9 0h1m1 0h1m5 0h1m15 0h1m2 0h2m24 0h1m2 0h1m10 0h1m1 0h1m1 0h3m4 0h1m6 0h1M248.2 58.07h2m7 0h1m3 0h2m2 0h2m1 0h1m2 0h2m3 0h1m7 0h1m1 0h2m5 0h2m10 0h2m3 0h1m4 0h1m1 0h2m7 0h1m7 0h1m1 0h1m1 0h1m6 0h1m2 0h1m8 0h1m1 0h1m7 0h1m8 0h1m4 0h1m3 0h2m3 0h1m2 0h1m2 0h1m1 0h1m12 0h1m3 0h1M251.2 60.02h1m1 0h1m2 0h3m1 0h1m2 0h2m1 0h1m1 0h1m5 0h1m1 0h1m6 0h1m1 0h1m9 0h1m6 0h1m3 0h1m3 0h1m6 0h1m4 0h1m2 0h1m13 0h2m3 0h2m1 0h1m1 0h1m10 0h1m5 0h1m1 0h1m3 0h2m1 0h1m2 0h1m2 0h2m4 0h2m2 0h1m1 0h2m1 0h1m1 0h1m4 0h1m4 0h1m2 0h1m5 0h1m1 0h1m2 0h1M249.2 61.98h2m2 0h1m2 0h1m2 0h1m5 0h1m2 0h1m4 0h1m2 0h1m19 0h1m9 0h1m5 0h1m8 0h1m5 0h1m9 0h2m1 0h1m1 0h1m1 0h1m10 0h1m1 0h1m10 0h1m7 0h1m9 0h1m3 0h1m3 0h1m3 0h1m12 0h1m1 0h1m2 0h1M249.2 63.93h2m2 0h1m3 0h3m1 0h2m1 0h1m1 0h3m3 0h2m5 0h1m5 0h1m10 0h1m11 0h1m1 0h1m1 0h1m1 0h2m2 0h1m3 0h1m3 0h2m1 0h1m3 0h2m1 0h1m3 0h1m1 0h1m1 0h2m2 0h1m11 0h2m2 0h1m4 0h1m10 0h1m1 0h1m2 0h1m7 0h1m2 0h2m6 0h1m2 0h1m2 0h1m2 0h3m3 0h1M251.2 65.88h1m5 0h1m1 0h1m2 0h1m5 0h1m3 0h1m22 0h2m11 0h1m6 0h1m5 0h1m1 0h1m3 0h1m7 0h1m2 0h1m1 0h1m6 0h1m3 0h2m2 0h1m17 0h1m2 0h1m11 0h1m3 0h1m4 0h2m4 0h1m6 0h2m5 0h1M246.2 67.84h2m3 0h1m4 0h1m1 0h1m5 0h1m3 0h1m2 0h1m5 0h1m1 0h1m7 0h1m1 0h1m18 0h1m3 0h1m2 0h1m2 0h1m8 0h1m5 0h1m9 0h2m2 0h1m1 0h1m10 0h1m7 0h1m2 0h1m4 0h1m1 0h1m6 0h1m4 0h1m7 0h1m4 0h2m5 0h2m5 0h1M247.2 69.79h1m3 0h1m1 0h1m1 0h1m1 0h2m6 0h1m5 0h1m4 0h2m4 0h1m3 0h2m20 0h1m8 0h3m16 0h3m1 0h1m14 0h1m12 0h1m4 0h1m1 0h2m9 0h1m4 0h1m11 0h1m5 0h2m2 0h1m8 0h1M249.2 71.75h1m1 0h1m3 0h1m1 0h1m4 0h3m2 0h1m4 0h1m6 0h1m5 0h1m1 0h1m2 0h2m1 0h1m8 0h1m2 0h1m4 0h1m3 0h1m2 0h1m3 0h1m4 0h2m1 0h1m3 0h1m2 0h4m2 0h3m12 0h1m8 0h3m2 0h1m3 0h2m6 0h1m1 0h1m5 0h2m3 0h1m16 0h1m1 0h1m5 0h1M247.2 73.7h1m5 0h1m2 0h1m2 0h1m3 0h1m1 0h2m1 0h1m19 0h1m6 0h1m10 0h1m7 0h1m6 0h1m1 0h1m15 0h2m1 0h3m3 0h1m7 0h1m8 0h2m9 0h1m1 0h1m3 0h1m2 0h1m4 0h1m1 0h1m1 0h1m3 0h1m2 0h1m3 0h2m2 0h3m2 0h1m2 0h1M237.2 75.66h1m1 0h1m2 0h1m1 0h2m9 0h1m5 0h1m1 0h1m1 0h1m29 0h1m7 0h1m4 0h1m18 0h1m1 0h1m29 0h1m26 0h1m7 0h1m1 0h1m4 0h1M242.2 77.61h2m3 0h2m2 0h1m1 0h1m11 0h1m2 0h1m10 0h1m12 0h1m2 0h1m2 0h1m9 0h1m3 0h1m2 0h1m1 0h1m9 0h1m1 0h1m5 0h1m1 0h1m14 0h1m6 0h1m3 0h1m4 0h1m1 0h2m4 0h1m1 0h1m18 0h1m5 0h1m1 0h1m6 0h1m2 0h1m3 0h2M237.2 79.56h1m2 0h1m2 0h1m1 0h1m1 0h1m5 0h1m1 0h1m7 0h1m2 0h3m10 0h1m15 0h1m14 0h1m1 0h1m1 0h1m8 0h1m5 0h1m1 0h2m2 0h1m1 0h1m8 0h2m6 0h2m7 0h1m17 0h1m1 0h2m9 0h1m11 0h1m1 0h1m1 0h2M240.2 81.52h2m1 0h2m3 0h1m7 0h2m6 0h1m2 0h1m11 0h1m5 0h3m15 0h1m2 0h1m1 0h1m17 0h2m1 0h1m3 0h1m8 0h1m4 0h1m5 0h1m2 0h1m10 0h1m7 0h2m20 0h1m13 0h1m7 0h1M238.2 83.47h2m2 0h2m11 0h1m14 0h1m14 0h1m11 0h1m5 0h1m3 0h1m6 0h1m11 0h1m9 0h1m9 0h1m7 0h2m3 0h1m4 0h1m19 0h2m4 0h1m3 0h1m1 0h1m6 0h1m3 0h1m11 0h2M237.2 85.43h1m5 0h2m4 0h1m13 0h3m2 0h1m10 0h1m17 0h1m16 0h1m2 0h1m4 0h2m5 0h1m6 0h1m17 0h1m31 0h1m2 0h1m4 0h1m2 0h1m3 0h1m1 0h1m1 0h1m1 0h1M238.2 87.38h3m1 0h2m1 0h1m8 0h1m1 0h1m6 0h1m2 0h3m3 0h1m2 0h1m9 0h2m10 0h1m14 0h1m1 0h1m2 0h2m2 0h1m4 0h1m6 0h1m2 0h1m4 0h1m4 0h1m5 0h1m2 0h1m3 0h1m3 0h1m4 0h1m3 0h1m2 0h1m2 0h2m1 0h1m2 0h1m9 0h1m6 0h3m3 0h2m2 0h1m9 0h1M238.2 89.34h1m2 0h2m2 0h3m1 0h1m1 0h1m1 0h2m8 0h1m1 0h1m1 0h2m1 0h1m5 0h1m8 0h1m11 0h1m10 0h1m5 0h1m2 0h3m8 0h1m2 0h2m2 0h2m1 0h1m16 0h1m3 0h1m7 0h1m1 0h1m3 0h1m9 0h2m12 0h1m6 0h2m1 0h1m4 0h1M238.2 91.29h2m7 0h2m4 0h1m12 0h3m3 0h1m21 0h2m1 0h1m10 0h1m1 0h1m3 0h1m2 0h1m5 0h1m5 0h1m5 0h1m11 0h1m6 0h4m18 0h1m6 0h3m10 0h2m3 0h1m1 0h1m1 0h1m1 0h1m4 0h1m6 0h1M241.2 93.24h1m1 0h2m4 0h1m1 0h1m1 0h1m10 0h1m2 0h1m2 0h1m1 0h1m19 0h1m2 0h1m1 0h1m1 0h1m2 0h1m9 0h1m1 0h1m8 0h1m8 0h1m2 0h1m6 0h1m4 0h1m2 0h1m3 0h1m1 0h2m23 0h1m1 0h4m7 0h1m1 0h1m4 0h1m1 0h4m3 0h1m8 0h1M238.2 95.2h1m1 0h1m4 0h2m8 0h1m3 0h1m4 0h1m3 0h3m39 0h1m6 0h2m10 0h1m1 0h1m3 0h1m11 0h1m6 0h4m20 0h1m18 0h1m3 0h1m5 0h2m6 0h1m3 0h1m2 0h1M242.2 97.15h1m2 0h1m2 0h1m10 0h1m4 0h1m1 0h3m1 0h1m14 0h1m6 0h1m1 0h1m2 0h2m4 0h1m4 0h1m1 0h2m7 0h1m3 0h1m3 0h3m7 0h1m9 0h1m4 0h1m14 0h1m5 0h1m6 0h1m23 0h2m1 0h1m4 0h1M241.2 99.11h1m1 0h1m5 0h1m7 0h1m7 0h1m13 0h1m12 0h1m19 0h1m1 0h1m14 0h1m3 0h1m12 0h1m2 0h1m1 0h1m4 0h1m18 0h1m2 0h2m5 0h1m19 0h3m4 0h3M237.2 101.06h2m4 0h1m3 0h1m8 0h1m8 0h1m12 0h2m1 0h1m4 0h1m5 0h1m1 0h1m4 0h1m12 0h1m1 0h1m1 0h1m6 0h1m7 0h1m1 0h1m2 0h2m1 0h3m5 0h1m3 0h1m11 0h1m2 0h1m2 0h1m2 0h1m5 0h2m5 0h2m20 0h1m2 0h1m4 0h1m3 0h2m2 0h1M237.2 103.02h1m2 0h2m1 0h3m1 0h1m2 0h3m2 0h1m1 0h1m8 0h1m1 0h1m1 0h1m2 0h1m2 0h1m4 0h3m4 0h1m3 0h1m1 0h2m3 0h1m14 0h1m1 0h1m5 0h1m1 0h1m5 0h1m2 0h1m1 0h2m5 0h1m4 0h1m8 0h1m6 0h1m4 0h1m4 0h1m1 0h1m2 0h1m1 0h1m4 0h3m6 0h1m6 0h2m4 0h1m5 0h1m5 0h1M239.2 104.97h1m15 0h1m10 0h1m3 0h1m4 0h1m1 0h1m3 0h1m3 0h2m5 0h1m3 0h1m17 0h1m1 0h1m2 0h1m2 0h1m4 0h1m2 0h1m4 0h1m1 0h1m1 0h1m2 0h1m4 0h1m2 0h1m4 0h2m1 0h1m16 0h1m2 0h1m4 0h2m2 0h1m13 0h1m5 0h1m14 0h1M267.2 106.93h1m5 0h1m8 0h1m6 0h1m4 0h1m4 0h1m5 0h1m17 0h1m5 0h1m3 0h1m5 0h1m2 0h1m40 0h1m8 0h1m3 0h2m9 0h1m2 0h1m3 0h1m4 0h1m3 0h1M244.2 108.88h1m8 0h1m8 0h1m11 0h1m4 0h1m3 0h1m13 0h1m16 0h1m1 0h1m10 0h1m1 0h2m6 0h1m1 0h1m2 0h1m1 0h1m1 0h1m28 0h1m2 0h2m12 0h1m4 0h1m3 0h1m5 0h1m2 0h1m1 0h4m3 0h1m3 0h1M246.2 110.83h1m2 0h1m1 0h2m4 0h1m1 0h2m7 0h1m1 0h1m4 0h1m3 0h1m1 0h1m4 0h1m2 0h1m2 0h1m1 0h1m2 0h1m7 0h1m5 0h1m3 0h2m2 0h1m2 0h1m4 0h1m4 0h1m13 0h1m3 0h1m12 0h1m3 0h2m4 0h1m1 0h1m2 0h1m1 0h3m1 0h2m4 0h1m1 0h1m1 0h1m2 0h2m2 0h1m21 0h1M246.2 112.79h4m2 0h2m4 0h1m12 0h1m2 0h2m1 0h1m3 0h2m1 0h1m1 0h1m18 0h2m1 0h2m2 0h3m2 0h1m2 0h1m4 0h1m5 0h2m4 0h1m1 0h1m8 0h1m1 0h1m3 0h1m1 0h1m12 0h1m3 0h1m12 0h1m1 0h1m3 0h1m3 0h2m15 0h4m6 0h1M249.2 114.74h1m3 0h1m3 0h1m7 0h2m1 0h1m9 0h1m2 0h1m4 0h1m5 0h1m1 0h1m4 0h1m5 0h1m6 0h1m1 0h1m2 0h1m9 0h1m2 0h1m20 0h1m2 0h1m4 0h1m3 0h1m8 0h1m2 0h1m2 0h2m2 0h1m2 0h1m6 0h2m2 0h1m8 0h1m3 0h2m1 0h4M247.2 116.7h2m1 0h1m1 0h1m1 0h1m1 0h2m9 0h1m1 0h1m4 0h1m11 0h1m7 0h1m10 0h2m5 0h1m1 0h1m1 0h1m3 0h1m2 0h1m5 0h2m4 0h2m14 0h2m1 0h1m8 0h1m4 0h1m4 0h1m4 0h1m8 0h1m1 0h1m2 0h2m11 0h1m1 0h1m5 0h1m5 0h1M247.2 118.65h1m8 0h1m8 0h1m2 0h1m1 0h1m1 0h1m2 0h1m1 0h2m2 0h1m12 0h1m4 0h1m2 0h1m3 0h1m5 0h1m1 0h1m4 0h2m6 0h1m7 0h2m2 0h1m2 0h2m3 0h1m6 0h1m4 0h1m8 0h1m12 0h1m3 0h1m7 0h1m6 0h1m6 0h1m2 0h1m1 0h1m1 0h2m6 0h1M249.2 120.61h1m6 0h1m2 0h1m3 0h1m41 0h2m5 0h1m16 0h1m3 0h1m7 0h2m3 0h1m5 0h1m22 0h1m3 0h1m5 0h1m1 0h1m4 0h1m14 0h1m5 0h1m5 0h1M247.2 122.56h1m9 0h1m1 0h1m13 0h1m14 0h2m2 0h1m1 0h1m4 0h1m5 0h1m8 0h1m10 0h1m3 0h1m3 0h1m2 0h1m5 0h1m3 0h2m2 0h3m3 0h1m9 0h1m5 0h1m5 0h1m1 0h1m2 0h2m8 0h1m2 0h1m1 0h1m1 0h1m5 0h2m1 0h2m1 0h4m3 0h1M248.2 124.51h1m8 0h1m9 0h1m1 0h2m7 0h2m12 0h1m14 0h1m9 0h1m4 0h3m1 0h1m3 0h1m2 0h1m5 0h1m6 0h1m2 0h1m29 0h1m4 0h2m7 0h1m2 0h1m5 0h1m9 0h1m6 0h2M246.2 126.47h2m2 0h1m2 0h1m31 0h1m8 0h1m10 0h1m8 0h1m1 0h1m5 0h3m2 0h1m2 0h1m4 0h1m1 0h1m4 0h1m3 0h1m7 0h1m16 0h1m12 0h2m8 0h1m6 0h1m3 0h1m4 0h1m1 0h1m2 0h1M237.2 128.42h1m3 0h5m10 0h1m2 0h1m12 0h1m68 0h1m30 0h1m5 0h1m4 0h1M237.2 130.38h8m14 0h1m2 0h1m28 0h1m13 0h1m3 0h1m7 0h1m9 0h1m7 0h1m1 0h1m3 0h2m9 0h1m19 0h1m10 0h2m35 0h1M241.2 132.33h2m10 0h1m13 0h1m4 0h1m35 0h1m3 0h1m5 0h1m2 0h1m4 0h1m13 0h1m2 0h1m7 0h1m3 0h1m16 0h1m35 0h1m12 0h1M238.2 134.29h1m1 0h1m5 0h1m1 0h1m1 0h1m30 0h1m3 0h1m5 0h2m16 0h1m3 0h1m3 0h2m8 0h1m7 0h1m6 0h1m4 0h1m3 0h1m2 0h2m1 0h1m6 0h1m4 0h1m6 0h1m3 0h1m2 0h1m2 0h1m1 0h1m2 0h1m11 0h1M238.2 136.24h1m6 0h3m2 0h1m3 0h2m1 0h1m2 0h1m9 0h1m1 0h1m5 0h1m3 0h1m2 0h1m3 0h1m24 0h1m11 0h2m4 0h1m2 0h2m5 0h1m1 0h1m6 0h1m4 0h1m2 0h1m7 0h1m1 0h4m2 0h1m4 0h2m22 0h1m3 0h1m1 0h1m1 0h1m5 0h1m2 0h1m1 0h1M237.2 138.19h2m1 0h1m5 0h3m5 0h1m1 0h2m1 0h1m6 0h1m1 0h1m1 0h2m1 0h1m4 0h1m2 0h1m4 0h1m2 0h1m2 0h1m1 0h1m2 0h1m18 0h2m1 0h1m7 0h1m5 0h1m7 0h2m1 0h1m14 0h1m10 0h1m5 0h1m1 0h1m1 0h1m5 0h1m7 0h1m8 0h1m2 0h1m3 0h1m3 0h1m1 0h1m1 0h1m2 0h3M238.2 140.15h1m3 0h1m2 0h1m2 0h1m1 0h1m8 0h1m2 0h1m7 0h1m11 0h1m2 0h2m2 0h1m1 0h2m2 0h1m1 0h1m7 0h1m2 0h1m4 0h1m9 0h1m2 0h1m3 0h1m6 0h1m1 0h2m3 0h1m4 0h1m1 0h1m1 0h2m2 0h1m5 0h1m14 0h1m6 0h1m1 0h1m5 0h1m1 0h1m1 0h1m8 0h1m2 0h1m11 0h1M241.2 142.1h1m3 0h2m1 0h1m5 0h1m4 0h1m3 0h1m5 0h1m2 0h1m5 0h1m6 0h3m1 0h1m1 0h1m5 0h1m7 0h2m2 0h6m1 0h1m1 0h1m4 0h1m2 0h1m1 0h1m3 0h1m1 0h1m2 0h1m2 0h1m1 0h1m1 0h1m4 0h1m2 0h1m7 0h1m2 0h1m3 0h1m10 0h1m4 0h1m1 0h1m5 0h1m1 0h3m4 0h1m3 0h1m1 0h1m1 0h1m1 0h1m1 0h1m8 0h1m1 0h1M238.2 144.06h1m8 0h1m2 0h1m1 0h1m2 0h1m1 0h1m1 0h1m10 0h1m9 0h3m2 0h1m8 0h2m1 0h1m10 0h1m1 0h1m1 0h1m2 0h1m1 0h1m10 0h1m2 0h1m9 0h2m1 0h1m6 0h2m1 0h1m4 0h2m2 0h1m16 0h2m1 0h1m3 0h1m2 0h1m19 0h1m1 0h1m5 0h1M237.2 146.01h2m2 0h1m1 0h1m2 0h1m2 0h1m4 0h1m2 0h3m2 0h2m5 0h2m1 0h2m3 0h1m8 0h1m5 0h2m1 0h1m9 0h1m3 0h1m9 0h1m3 0h1m2 0h1m3 0h1m6 0h1m2 0h2m4 0h1m4 0h2m2 0h1m6 0h1m3 0h2m12 0h1m4 0h1m2 0h1m2 0h1m1 0h1m3 0h2m4 0h1m4 0h3m3 0h1m1 0h1m6 0h1M237.2 147.97h2m3 0h2m4 0h1m10 0h1m8 0h1m16 0h2m5 0h1m4 0h1m20 0h1m2 0h1m13 0h2m5 0h1m1 0h1m12 0h1m5 0h1m12 0h1m3 0h2m1 0h1m2 0h1m19 0h1m14 0h1M237.2 149.92h1m2 0h1m4 0h1m20 0h2m12 0h1m11 0h1m1 0h2m1 0h1m12 0h1m1 0h1m1 0h1m15 0h1m9 0h1m1 0h1m4 0h1m4 0h1m23 0h1m18 0h1m1 0h1m16 0h1m3 0h1M238.2 151.88h3m4 0h1m4 0h1m6 0h1m5 0h1m14 0h1m1 0h1m1 0h1m3 0h2m4 0h1m16 0h1m3 0h1m3 0h2m4 0h1m3 0h1m14 0h1m1 0h1m4 0h1m1 0h1m5 0h1m1 0h2m4 0h1m1 0h2m7 0h1m1 0h1m2 0h1m3 0h1m7 0h1m1 0h1m1 0h1m8 0h1m5 0h1m5 0h1m2 0h1M240.2 153.83h3m1 0h1m1 0h1m3 0h1m16 0h2m4 0h1m6 0h1m4 0h1m31 0h1m18 0h1m5 0h1m1 0h1m9 0h2m11 0h1m1 0h1m6 0h1m3 0h1m14 0h1m1 0h1m10 0h1M237.2 155.78h2m1 0h3m2 0h1m1 0h3m3 0h1m1 0h1m12 0h1m3 0h1m4 0h1m3 0h1m7 0h1m1 0h1m11 0h1m2 0h1m6 0h1m4 0h1m2 0h1m1 0h1m2 0h1m2 0h2m1 0h1m3 0h1m5 0h1m1 0h1m6 0h2m1 0h1m9 0h1m1 0h1m2 0h1m4 0h3m5 0h1m2 0h1m7 0h1m9 0h1m1 0h1m4 0h1m1 0h1m1 0h1m6 0h1M237.2 157.74h1m5 0h1m13 0h1m2 0h1m7 0h1m8 0h1m2 0h1m5 0h1m2 0h1m4 0h1m11 0h1m5 0h1m1 0h1m2 0h1m9 0h1m1 0h1m4 0h1m6 0h1m1 0h1m4 0h1m1 0h1m4 0h2m11 0h1m9 0h2m2 0h1m1 0h1m1 0h1m9 0h2m11 0h1m3 0h2m8 0h1M239.2 159.69h2m2 0h1m2 0h1m5 0h1m6 0h2m14 0h1m3 0h1m5 0h1m3 0h1m4 0h1m2 0h1m8 0h1m3 0h1m1 0h1m3 0h1m2 0h1m7 0h1m4 0h1m1 0h1m8 0h1m10 0h1m1 0h1m10 0h2m2 0h1m8 0h1m1 0h2m1 0h1m3 0h1m1 0h4m5 0h1m9 0h1m1 0h2m8 0h1M246.2 161.65h1m3 0h1m5 0h4m1 0h1m1 0h4m3 0h1m4 0h3m3 0h1m5 0h1m1 0h1m2 0h1m3 0h1m1 0h1m2 0h1m11 0h1m2 0h2m1 0h1m1 0h1m1 0h1m1 0h1m16 0h2m2 0h1m2 0h2m10 0h1m2 0h1m2 0h2m11 0h1m2 0h1m1 0h2m6 0h1m1 0h1m1 0h1m2 0h2m7 0h4m5 0h1m2 0h1m1 0h1M237.2 163.6h3m12 0h1m3 0h2m1 0h2m4 0h1m4 0h1m4 0h1m1 0h1m1 0h2m13 0h1m3 0h1m4 0h1m4 0h1m17 0h2m3 0h2m1 0h1m3 0h1m2 0h1m10 0h3m15 0h1m3 0h1m3 0h2m5 0h3m3 0h2m8 0h1m1 0h2m7 0h1m1 0h1M237.2 165.56h1m7 0h2m8 0h2m2 0h3m1 0h1m14 0h2m9 0h1m2 0h1m1 0h1m12 0h2m1 0h1m1 0h1m4 0h1m7 0h1m6 0h1m1 0h1m6 0h1m3 0h1m1 0h1m2 0h4m1 0h1m5 0h1m2 0h1m15 0h1m4 0h2m10 0h1m7 0h1m3 0h1m1 0h2m2 0h1m2 0h2m3 0h1M238.2 167.51h3m3 0h1m11 0h1m18 0h1m3 0h2m5 0h1m8 0h1m2 0h1m7 0h1m5 0h1m13 0h2m13 0h1m4 0h2m8 0h1m23 0h1m13 0h1m8 0h1m19 0h1M240.2 169.46h1m5 0h1m8 0h3m2 0h1m4 0h1m2 0h1m5 0h1m2 0h1m1 0h1m7 0h3m7 0h1m3 0h1m5 0h1m1 0h1m3 0h2m3 0h1m4 0h1m5 0h1m4 0h1m6 0h1m1 0h1m3 0h1m4 0h1m6 0h1m11 0h1m2 0h1m2 0h1m10 0h1m2 0h1m1 0h4m4 0h1m1 0h3m2 0h1m9 0h1m3 0h1M239.2 171.42h4m2 0h1m15 0h1m4 0h3m6 0h1m1 0h1m9 0h1m6 0h1m11 0h1m10 0h2m4 0h1m7 0h1m1 0h1m12 0h1m9 0h1m4 0h1m9 0h1m6 0h2m2 0h1m5 0h1m6 0h1m5 0h1m3 0h2m7 0h1M238.2 173.37h1m1 0h1m3 0h3m9 0h1m2 0h2m7 0h1m29 0h1m7 0h1m7 0h1m1 0h1m2 0h1m5 0h1m3 0h1m11 0h1m3 0h2m3 0h1m28 0h1m5 0h1m5 0h3m7 0h1m1 0h2m5 0h1m3 0h1m2 0h1m1 0h1M239.2 175.33h1m4 0h1m1 0h1m9 0h1m3 0h1m2 0h1m3 0h2m10 0h2m8 0h1m2 0h1m4 0h1m8 0h2m4 0h1m3 0h1m1 0h1m4 0h2m1 0h1m2 0h1m11 0h1m4 0h1m2 0h1m1 0h2m15 0h1m2 0h1m6 0h2m6 0h2m4 0h1m2 0h1m5 0h1m3 0h1m3 0h1m2 0h1m1 0h1m4 0h1m3 0h1M243.2 177.28h1m13 0h2m1 0h2m1 0h1m4 0h1m17 0h1m2 0h1m4 0h2m31 0h1m1 0h1m8 0h1m2 0h1m18 0h1m7 0h1m11 0h1m1 0h1m2 0h1m6 0h1m2 0h1m7 0h1m4 0h1m1 0h1m3 0h1m8 0h1M242.2 179.24h1m13 0h2m2 0h1m5 0h3m1 0h1m8 0h1m6 0h1m15 0h1m4 0h1m4 0h1m16 0h1m3 0h1m7 0h1m1 0h1m2 0h1m4 0h2m15 0h1m11 0h1m5 0h1m1 0h1m14 0h1m1 0h1m5 0h4m8 0h1M259.2 181.19h1m5 0h2m7 0h1m2 0h1m2 0h1m8 0h1m4 0h1m12 0h2m7 0h1m10 0h1m1 0h2m3 0h1m3 0h1m7 0h1m2 0h1m1 0h2m3 0h1m23 0h1m5 0h1m2 0h1m4 0h1m8 0h2m10 0h1M239.2 183.14h1m6 0h1m7 0h1m2 0h1m2 0h1m19 0h1m8 0h1m7 0h1m12 0h1m1 0h1m1 0h1m1 0h1m10 0h1m1 0h1m2 0h1m8 0h1m29 0h1m7 0h2m1 0h1m3 0h1m8 0h1m5 0h1m1 0h1m1 0h1m3 0h1m2 0h1m2 0h1m2 0h2M243.2 185.1h1m2 0h1m3 0h1m6 0h1m1 0h1m6 0h1m1 0h2m10 0h1m7 0h1m3 0h1m3 0h1m8 0h1m2 0h1m7 0h1m9 0h2m4 0h1m2 0h1m1 0h1m8 0h1m2 0h1m6 0h1m2 0h1m7 0h1m3 0h1m6 0h2m5 0h1m7 0h1m7 0h1m8 0h2m6 0h1m4 0h1M247.2 187.05h1m7 0h1m11 0h1m4 0h1m2 0h1m3 0h1m16 0h1m8 0h1m2 0h1m3 0h1m2 0h1m19 0h2m15 0h1m6 0h1m3 0h1m3 0h1m1 0h1m1 0h1m6 0h1m4 0h2m6 0h1m9 0h1m3 0h1m1 0h4m6 0h2M239.2 189.01h1m2 0h1m1 0h1m1 0h1m23 0h1m1 0h1m6 0h1m1 0h1m2 0h1m11 0h1m2 0h1m8 0h1m7 0h1m7 0h1m10 0h2m3 0h1m3 0h1m11 0h1m2 0h1m3 0h1m8 0h1m5 0h1m4 0h1m1 0h1m17 0h1m1 0h2m1 0h1m1 0h1m4 0h1M246.2 190.96h2m11 0h1m8 0h3m5 0h1m1 0h1m1 0h1m7 0h1m7 0h1m2 0h1m2 0h1m13 0h1m2 0h2m3 0h1m1 0h2m1 0h1m5 0h1m1 0h1m4 0h1m2 0h1m3 0h1m9 0h1m3 0h1m5 0h1m12 0h1m1 0h1m8 0h1m7 0h1m3 0h1m1 0h3m1 0h1m6 0h1m1 0h1M239.2 192.92h1m2 0h1m4 0h1m6 0h1m2 0h1m9 0h1m2 0h1m5 0h2m1 0h2m10 0h1m1 0h1m1 0h1m10 0h1m5 0h1m2 0h1m1 0h1m8 0h2m3 0h1m11 0h1m5 0h1m9 0h1m3 0h1m7 0h1m4 0h1m1 0h1m2 0h1m12 0h2m1 0h1m3 0h1m9 0h1m6 0h1M237.2 194.87h2m16 0h1m1 0h1m10 0h2m7 0h1m1 0h1m1 0h1m23 0h1m2 0h1m3 0h1m6 0h1m2 0h1m3 0h1m2 0h1m2 0h1m2 0h3m2 0h1m3 0h1m4 0h1m12 0h1m8 0h1m9 0h1m14 0h1m4 0h1m7 0h1m4 0h1m4 0h1M240.2 196.83h1m5 0h1m7 0h1m4 0h1m7 0h1m7 0h1m1 0h1m1 0h1m1 0h1m7 0h1m6 0h1m5 0h2m1 0h1m1 0h2m2 0h2m1 0h1m5 0h1m5 0h1m32 0h1m3 0h1m8 0h1m12 0h1m7 0h1m1 0h1m3 0h1m8 0h1m3 0h1m1 0h1m4 0h1m3 0h1M238.2 198.78h1m7 0h1m5 0h1m4 0h1m2 0h1m7 0h1m3 0h1m3 0h1m4 0h1m11 0h1m5 0h1m5 0h4m6 0h1m1 0h1m1 0h1m4 0h1m1 0h2m1 0h1m5 0h1m1 0h1m6 0h1m7 0h1m3 0h1m1 0h1m4 0h1m7 0h1m8 0h1m2 0h1m4 0h1m4 0h2m1 0h1m2 0h1m1 0h1m5 0h2m2 0h1m3 0h1m2 0h2M246.2 200.73h1m5 0h2m1 0h1m1 0h1m7 0h1m4 0h1m4 0h1m5 0h1m3 0h1m1 0h2m15 0h2m2 0h1m3 0h1m2 0h1m4 0h1m3 0h1m1 0h1m2 0h1m2 0h1m1 0h2m1 0h1m6 0h1m4 0h1m2 0h1m6 0h1m2 0h2m2 0h1m4 0h1m9 0h1m1 0h2m13 0h1m2 0h1m3 0h1m1 0h1m1 0h2m5 0h1m2 0h1m2 0h2M244.2 202.69h1m2 0h1m7 0h1m1 0h1m6 0h1m2 0h2m1 0h1m1 0h1m2 0h2m3 0h1m5 0h1m1 0h1m8 0h1m1 0h1m5 0h2m1 0h2m2 0h1m9 0h3m4 0h1m2 0h1m2 0h3m21 0h1m1 0h1m9 0h2m5 0h1m2 0h1m2 0h1m24 0h3M255.2 204.64h1m1 0h1m10 0h1m3 0h1m6 0h3m4 0h2m17 0h2m15 0h1m1 0h1m7 0h1m11 0h1m4 0h1m2 0h1m3 0h1m5 0h2m14 0h1m6 0h1m7 0h1m1 0h1m3 0h1m1 0h1m6 0h2m3 0h1m4 0h1M247.2 206.6h1m1 0h2m3 0h2m1 0h1m12 0h1m8 0h1m5 0h1m3 0h1m5 0h1m7 0h1m2 0h1m4 0h1m10 0h3m20 0h1m6 0h1m3 0h1m4 0h1m7 0h1m2 0h1m5 0h1m6 0h1m2 0h1m3 0h2m1 0h1m1 0h2m2 0h1m1 0h1m1 0h1m1 0h2m10 0h1m3 0h1M239.2 208.55h1m24 0h1m1 0h2m2 0h1m5 0h2m2 0h1m6 0h2m4 0h1m3 0h2m3 0h3m1 0h1m2 0h1m5 0h2m1 0h1m8 0h1m1 0h1m5 0h1m1 0h1m6 0h2m1 0h1m1 0h1m6 0h1m14 0h2m5 0h1m4 0h1m7 0h1m4 0h2m9 0h1m5 0h1m5 0h1M243.2 210.51h1m2 0h2m7 0h1m1 0h1m5 0h1m1 0h3m2 0h1m1 0h1m3 0h1m4 0h1m11 0h1m2 0h1m8 0h1m10 0h1m3 0h1m3 0h1m2 0h1m4 0h2m1 0h2m3 0h1m6 0h1m4 0h1m5 0h2m9 0h1m13 0h1m1 0h1m5 0h1m5 0h1m3 0h1m7 0h1m3 0h1m3 0h2M242.2 212.46h2m2 0h2m6 0h2m1 0h1m5 0h1m15 0h1m7 0h1m1 0h1m2 0h1m2 0h1m2 0h1m3 0h1m3 0h1m5 0h1m1 0h1m1 0h1m3 0h1m3 0h1m2 0h1m1 0h1m11 0h1m3 0h1m16 0h1m4 0h1m10 0h2m5 0h1m8 0h1m4 0h1m3 0h1m3 0h1m9 0h1M246.2 214.41h1m7 0h2m10 0h1m1 0h1m3 0h1m2 0h2m2 0h1m4 0h1m3 0h1m2 0h2m2 0h1m2 0h1m10 0h1m5 0h2m19 0h3m1 0h1m8 0h1m2 0h1m3 0h1m1 0h2m2 0h1m6 0h1m6 0h1m1 0h2m8 0h1m8 0h1m3 0h1m5 0h1m7 0h1m2 0h1m2 0h1M247.2 216.37h1m4 0h1m2 0h1m3 0h1m3 0h1m2 0h1m5 0h1m4 0h1m9 0h1m3 0h1m2 0h1m1 0h2m17 0h1m1 0h1m4 0h1m14 0h1m5 0h1m1 0h1m1 0h1m1 0h1m11 0h1m5 0h1m1 0h1m1 0h2m5 0h1m2 0h1m1 0h4m8 0h1m1 0h3m1 0h1m8 0h1m9 0h1M243.2 218.32h1m2 0h2m4 0h1m2 0h1m3 0h1m3 0h1m2 0h2m2 0h1m1 0h1m3 0h2m10 0h1m4 0h1m2 0h1m14 0h1m3 0h1m1 0h2m7 0h1m2 0h1m8 0h1m8 0h1m4 0h1m3 0h1m1 0h2m3 0h2m7 0h1m20 0h1m1 0h2m2 0h1m3 0h1m5 0h2m7 0h1m4 0h1" stroke="#f6d8da" stroke-width="1.99" fill="none"/>
<path d="M287.2 40.48h1m7 0h1m8 0h1m10 0h3m11 0h1m1 0h2m3 0h1m10 0h1m16 0h1m17 0h1m22 0h1M262.2 42.43h1m2 0h1m21 0h1m27 0h1m3 0h1m27 0h1m16 0h1m29 0h1m13 0h1M247.2 44.39h1m8 0h1m6 0h3m5 0h1m3 0h1m13 0h1m19 0h1m2 0h1m2 0h1m1 0h1m14 0h1m3 0h1m7 0h1m10 0h1m6 0h1m20 0h1m2 0h1m7 0h1m10 0h1m4 0h2M247.2 46.34h1m15 0h1m1 0h1m8 0h1m14 0h1m27 0h1m13 0h1m2 0h1m29 0h1m46 0h1M263.2 48.29h1m1 0h1m6 0h1m1 0h2m3 0h1m15 0h1m8 0h2m6 0h1m2 0h1m3 0h1m6 0h1m4 0h1m10 0h1m1 0h1m10 0h1m8 0h1m17 0h1m27 0h1m9 0h1M250.2 50.25h1m11 0h1m2 0h1m9 0h1m10 0h1m30 0h1m2 0h1m15 0h1m28 0h1m39 0h1m13 0h1M247.2 52.2h1m2 0h1m36 0h1m27 0h1m14 0h2m15 0h1M247.2 54.16h1m2 0h1m12 0h1m10 0h1m3 0h1m8 0h1m1 0h1m15 0h1m6 0h1m13 0h1m5 0h1m3 0h1m45 0h1m20 0h1m1 0h1M255.2 56.11h1m8 0h2m2 0h1m5 0h1m35 0h1m22 0h1m20 0h1m12 0h1m6 0h1m3 0h1m3 0h1m3 0h1m9 0h2m13 0h1M253.2 58.07h1m4 0h1m8 0h1m27 0h1m6 0h1m1 0h1m3 0h1m3 0h1m6 0h1m3 0h1m5 0h1m7 0h1m2 0h1m1 0h1m4 0h1m4 0h1m2 0h1m8 0h1m1 0h1m8 0h1m2 0h1m13 0h1m10 0h1m2 0h1m1 0h3m3 0h1m2 0h1m3 0h2M247.2 60.02h1m1 0h1m17 0h1m11 0h1m7 0h1m20 0h1m27 0h1m1 0h1m16 0h1m24 0h1m5 0h1m3 0h1m14 0h2M255.2 61.98h1m61 0h1m5 0h1m5 0h1m17 0h1m4 0h1m14 0h1m10 0h1m6 0h1m19 0h2m2 0h1m7 0h1M247.2 63.93h1m7 0h1m9 0h1m21 0h1m18 0h1m10 0h1m5 0h1m23 0h1m6 0h1m11 0h2m18 0h1m5 0h1m15 0h1m8 0h1M255.2 65.88h1m31 0h1m24 0h1m13 0h1m10 0h1m40 0h1m1 0h1m15 0h1m9 0h1M253.2 67.84h1m1 0h1m9 0h2m35 0h1m26 0h1m25 0h1m11 0h1m24 0h1m3 0h1m9 0h1m1 0h1M249.2 69.79h1m14 0h1m3 0h1m10 0h1m32 0h1m2 0h1m10 0h1m2 0h1m17 0h1m1 0h1m28 0h1m6 0h1m4 0h1m15 0h1m1 0h1m2 0h1M259.2 71.75h1m6 0h1m1 0h1m5 0h1m9 0h1m1 0h1m8 0h1m16 0h1m2 0h1m7 0h1m10 0h1m16 0h1m3 0h1m17 0h2m7 0h1m3 0h1m3 0h1m12 0h1m2 0h1m1 0h1m1 0h2m5 0h1M249.2 73.7h1m7 0h1m29 0h1m3 0h1m16 0h1m3 0h1m20 0h1m13 0h1m3 0h1m44 0h1m6 0h1m4 0h1M238.2 75.66h1m1 0h2m1 0h1M238.2 77.61h2m1 0h1m2 0h1m61 0h1m11 0h2m6 0h1m20 0h1m9 0h1m36 0h1m1 0h1m5 0h1m5 0h1m1 0h1M238.2 79.56h1m26 0h1m19 0h2m7 0h1m2 0h1m28 0h1m32 0h1m15 0h1m20 0h1m3 0h2M237.2 81.52h3m2 0h1m12 0h1m5 0h1m1 0h1m1 0h1m2 0h1m25 0h1m2 0h1m19 0h2m16 0h2m3 0h1m14 0h1m1 0h1m23 0h1m4 0h1m7 0h1m1 0h1m6 0h1m6 0h1M237.2 83.47h1m2 0h1m3 0h2m19 0h1m2 0h1m3 0h1m6 0h1m6 0h1m50 0h1m3 0h1m5 0h1m27 0h1m10 0h1m23 0h1M238.2 85.43h2m2 0h1m12 0h1m70 0h1m8 0h1m11 0h1m62 0h1m8 0h1M237.2 87.38h1m6 0h1m1 0h1m32 0h1m30 0h1m16 0h1m1 0h1m17 0h1m38 0h1m9 0h1m13 0h1m1 0h1M240.2 89.34h1m2 0h2m10 0h1m23 0h1m6 0h1m23 0h1m12 0h1m3 0h1m9 0h1m8 0h1m9 0h2m28 0h1m7 0h1m1 0h1m6 0h1m4 0h1m1 0h1m4 0h1M237.2 91.29h1m3 0h3m1 0h2m8 0h1m7 0h1m6 0h1m41 0h1m14 0h1m9 0h1m43 0h1m4 0h1m23 0h1M237.2 93.24h3m2 0h1m2 0h1m17 0h1m1 0h1m2 0h1m10 0h1m26 0h1m3 0h1m6 0h1m8 0h2m1 0h1m77 0h1M239.2 95.2h1m1 0h4m2 0h1m17 0h1m19 0h1m11 0h1m8 0h1m7 0h1m8 0h1m2 0h2m31 0h1m25 0h2m9 0h1m6 0h1m6 0h1m1 0h1M237.2 97.15h5m1 0h2m2 0h1m1 0h1m13 0h1m15 0h1m6 0h1m8 0h1m3 0h1m6 0h1m7 0h1m11 0h1m13 0h1m43 0h1m9 0h1m1 0h2m3 0h1M237.2 99.11h4m3 0h2m20 0h1m22 0h1m57 0h1m4 0h1m39 0h1m25 0h1M241.2 101.06h2m1 0h2m6 0h1m13 0h2m19 0h1m17 0h1m23 0h2m11 0h1m11 0h1m1 0h1m14 0h1m20 0h1m8 0h1m3 0h1m6 0h1m1 0h1M238.2 103.02h2m27 0h1m18 0h1m2 0h1m15 0h1m6 0h1m13 0h2m1 0h1m1 0h1m7 0h1m1 0h1m4 0h1m2 0h1m17 0h1m11 0h1m2 0h1m13 0h1m8 0h1m4 0h1m1 0h1m1 0h2M242.2 104.97h2m2 0h1m6 0h1m35 0h1m12 0h1m17 0h1m5 0h1m6 0h1m17 0h2m15 0h1m10 0h1m5 0h1m6 0h2m11 0h1m8 0h1m5 0h1M237.2 106.93h5m2 0h2m6 0h1m13 0h1m12 0h1m46 0h1m19 0h1m5 0h1m3 0h1m21 0h2m5 0h1m19 0h1m9 0h1M247.2 108.88h1m9 0h1m44 0h1m23 0h1m8 0h1m20 0h1m39 0h1m8 0h1M238.2 110.83h2m3 0h1m23 0h1m4 0h1m4 0h2m4 0h1m22 0h1m5 0h1m7 0h1m8 0h1m5 0h2m3 0h3m8 0h2m1 0h1m1 0h1m15 0h1m13 0h1m9 0h1m8 0h1m4 0h1m1 0h1m6 0h2M238.2 112.79h2m1 0h1m2 0h2m20 0h3m3 0h1m6 0h1m14 0h2m3 0h1m24 0h1m11 0h1m3 0h1m1 0h1m3 0h1m2 0h1m1 0h2m6 0h1m3 0h1m8 0h1m5 0h3m12 0h1m7 0h1m3 0h1m1 0h1m2 0h3M237.2 114.74h1m1 0h1m2 0h2m1 0h1m1 0h1m19 0h1m21 0h1m32 0h2m5 0h1m3 0h1m8 0h1m41 0h1m34 0h1M239.2 116.7h1m4 0h1m21 0h1m14 0h1m20 0h1m23 0h1m19 0h1m3 0h1m21 0h1m12 0h1m10 0h2m14 0h1M253.2 118.65h1m3 0h1m8 0h2m37 0h1m16 0h2m2 0h1m6 0h1m3 0h1m8 0h1m1 0h1m2 0h1m4 0h1m15 0h1m5 0h2m12 0h1m3 0h1m6 0h1m1 0h1m13 0h1M239.2 120.61h1m3 0h1m1 0h1m20 0h2m21 0h1m2 0h1m21 0h1m11 0h1m3 0h1m53 0h1m11 0h1m8 0h1m8 0h1M237.2 122.56h1m28 0h1m1 0h1m9 0h1m2 0h1m30 0h1m9 0h2m2 0h1m3 0h1m18 0h1m29 0h1m12 0h1m12 0h1M238.2 124.51h2m1 0h2m23 0h1m22 0h1m39 0h1m5 0h1m6 0h1m9 0h1m25 0h1m13 0h1m12 0h1m1 0h1M243.2 126.47h2m22 0h2m9 0h1m10 0h1m2 0h1m3 0h1m15 0h1m13 0h1m2 0h1m38 0h1m9 0h2m12 0h1m20 0h1m5 0h1M237.2 132.33h2m1 0h1m2 0h3m68 0h1m32 0h1m28 0h1m4 0h1M239.2 134.29h1m1 0h5m3 0h1m3 0h1m13 0h1m4 0h1m2 0h1m13 0h1m36 0h1m5 0h1m48 0h1m13 0h1m2 0h1m11 0h1M237.2 136.24h1m2 0h3m1 0h1m14 0h1m13 0h1m38 0h1m5 0h1m2 0h1m15 0h1m9 0h1m1 0h1m2 0h1m1 0h1m2 0h1m18 0h1m21 0h1M241.2 138.19h3m1 0h1m3 0h1m5 0h1m29 0h1m23 0h2m1 0h1m1 0h1m25 0h1m6 0h1m4 0h1m2 0h1m11 0h1m13 0h1m1 0h2m12 0h2M240.2 140.15h2m1 0h2m1 0h1m2 0h1m3 0h1m3 0h1m9 0h2m8 0h1m3 0h1m12 0h1m14 0h2m6 0h2m28 0h1m4 0h1m2 0h1m3 0h1m5 0h1m1 0h1m1 0h1m5 0h2m4 0h1m4 0h1m7 0h1m5 0h1m22 0h1M237.2 142.1h3m2 0h3m4 0h1m3 0h1m1 0h1m1 0h1m9 0h2m25 0h1m22 0h1m17 0h1m11 0h1m3 0h1m7 0h1m16 0h1m3 0h2m4 0h1m11 0h1M237.2 144.06h1m1 0h1m1 0h3m1 0h2m2 0h1m3 0h2m12 0h1m31 0h1m14 0h1m11 0h1m28 0h1m15 0h1m4 0h1m21 0h1m9 0h1M240.2 146.01h1m1 0h1m1 0h2m7 0h1m1 0h1m4 0h1m7 0h1m12 0h2m2 0h1m8 0h1m2 0h1m12 0h1m1 0h1m1 0h1m3 0h1m8 0h1m8 0h1m5 0h1m1 0h1m2 0h1m1 0h1m7 0h1m5 0h1m12 0h1m6 0h1m2 0h1m19 0h1M239.2 147.97h1m1 0h1m3 0h1m3 0h1m5 0h1m16 0h1m41 0h1m11 0h1m20 0h1m6 0h2m42 0h1M239.2 149.92h1m2 0h1m1 0h1m136 0h1m1 0h1m14 0h1m9 0h1m12 0h1M237.2 151.88h1m3 0h4m1 0h1m2 0h1m4 0h1m12 0h1m17 0h1m3 0h1m22 0h1m1 0h1m11 0h1m20 0h1m7 0h1m24 0h1m2 0h1m10 0h1m8 0h1m6 0h1M238.2 153.83h2m51 0h1m22 0h1m32 0h1m35 0h1M239.2 155.78h1m4 0h1m9 0h1m2 0h1m24 0h1m2 0h1m1 0h1m4 0h1m1 0h2m14 0h1m6 0h1m1 0h1m27 0h1m1 0h1m7 0h1m1 0h1m21 0h1m9 0h1m3 0h1m1 0h1m10 0h1m14 0h1M238.2 157.74h2m2 0h1m1 0h2m10 0h1m17 0h1m51 0h1m5 0h2m18 0h1m8 0h1m8 0h1M242.2 159.69h1m1 0h1m16 0h1m6 0h1m5 0h1m12 0h1m26 0h1m11 0h1m2 0h1m3 0h1m7 0h1m4 0h1m2 0h1m28 0h2m23 0h3m5 0h1m7 0h1M237.2 161.65h3m1 0h2m2 0h1m14 0h1m6 0h1m11 0h1m27 0h1m1 0h2m1 0h1m1 0h1m12 0h1m4 0h1m8 0h1m10 0h1m3 0h1m14 0h1m6 0h2m4 0h1m3 0h1m15 0h1m3 0h1m5 0h1m4 0h1M241.2 163.6h6m21 0h1m20 0h1m7 0h1m8 0h2m4 0h1m3 0h2m5 0h1m9 0h1m12 0h1m2 0h1m60 0h1M238.2 165.56h4m1 0h2m12 0h1m9 0h1m6 0h1m2 0h1m28 0h1m2 0h1m8 0h1m10 0h1m3 0h1m9 0h1m12 0h1m22 0h1m23 0h1M237.2 167.51h1m3 0h2m2 0h1m43 0h1m27 0h1m11 0h1m3 0h1m4 0h1m13 0h1m25 0h1m12 0h1m5 0h1m21 0h1M237.2 169.46h3m1 0h3m23 0h1m12 0h1m17 0h1m9 0h1m1 0h1m1 0h1m4 0h1m7 0h3m4 0h2m15 0h1m6 0h1m22 0h1m3 0h1m2 0h1m5 0h1m17 0h1m3 0h1M237.2 171.42h2m4 0h1m16 0h1m28 0h1m20 0h1m1 0h1m21 0h1m68 0h1M237.2 173.37h1m3 0h3m17 0h1m4 0h1m59 0h1m6 0h1m18 0h1m3 0h1m4 0h1m24 0h1M237.2 175.33h2m2 0h3m1 0h1m4 0h2m5 0h1m1 0h1m6 0h1m7 0h1m12 0h1m29 0h1m16 0h1m34 0h1m15 0h1m17 0h1M237.2 177.28h1m2 0h3m1 0h3m9 0h1m8 0h1m1 0h1m19 0h2m17 0h3m8 0h1m8 0h1m6 0h1m15 0h1m2 0h1m25 0h1m22 0h1m3 0h1M237.2 179.24h2m1 0h1m3 0h2m28 0h1m2 0h1m41 0h1m36 0h1m28 0h1M240.2 181.19h2m1 0h3m10 0h1m28 0h1m1 0h1m18 0h1m19 0h1m58 0h1M238.2 183.14h1m2 0h2m1 0h1m21 0h1m7 0h1m31 0h1m10 0h1m8 0h1m6 0h2m17 0h1m3 0h1M237.2 185.1h1m1 0h2m1 0h1m4 0h1m17 0h1m1 0h1m9 0h1m3 0h1m3 0h1m13 0h1m12 0h1m59 0h1m11 0h1m6 0h1m2 0h1m13 0h2M237.2 187.05h3m1 0h1m23 0h1m11 0h1m3 0h1m137 0h1M241.2 189.01h1m10 0h1m2 0h1m3 0h1m5 0h1m10 0h2m11 0h1m15 0h1m6 0h1m13 0h1m67 0h1m6 0h1m16 0h1M238.2 190.96h2m1 0h2m1 0h1m10 0h1m1 0h1m8 0h1m10 0h1m16 0h1m11 0h1m5 0h1m31 0h1m11 0h1m15 0h1m5 0h1m2 0h1m1 0h1m2 0h1m12 0h1m10 0h1M246.2 192.92h1m18 0h1m15 0h1m23 0h1m29 0h1m20 0h1m31 0h1m20 0h2M242.2 194.87h1m3 0h1m48 0h1m21 0h1m2 0h1m42 0h1m30 0h1M238.2 196.83h1m4 0h1m1 0h1m9 0h1m1 0h1m7 0h2m9 0h1m47 0h1m11 0h1m19 0h1m5 0h1m8 0h1m6 0h1m2 0h1m1 0h1m10 0h1m6 0h1m1 0h1m5 0h1M237.2 198.78h1m1 0h1m1 0h2m1 0h1m2 0h1m11 0h1m5 0h3m19 0h1m8 0h1m23 0h1m51 0h1m11 0h1m1 0h1m22 0h1M240.2 200.73h3m1 0h1m2 0h1m29 0h1m12 0h1m7 0h2m27 0h1m8 0h1m8 0h1m10 0h1m15 0h1m5 0h1m15 0h1m2 0h1m13 0h1M238.2 202.69h1m1 0h2m1 0h1m33 0h1m1 0h1m76 0h1m5 0h1m20 0h1m10 0h1m2 0h1m3 0h1M237.2 204.64h2m1 0h4m1 0h1m19 0h1m11 0h1m34 0h1m13 0h1m44 0h1m11 0h2m9 0h1M237.2 206.6h1m1 0h4m1 0h1m21 0h1m9 0h1m4 0h1m4 0h1m18 0h1m20 0h1m8 0h1m11 0h1m23 0h1M237.2 208.55h1m3 0h3m1 0h1m9 0h1m1 0h1m5 0h1m1 0h1m15 0h1m30 0h1m4 0h1m8 0h1m35 0h1m31 0h1m3 0h1m9 0h3M240.2 210.51h1m1 0h1m2 0h1m3 0h1m27 0h1m1 0h1m7 0h1m18 0h1m10 0h1m8 0h1m2 0h1m7 0h1m6 0h1m11 0h1m14 0h1m36 0h1M237.2 212.46h2m2 0h1m3 0h1m19 0h1m4 0h1m5 0h2m3 0h1m23 0h1m11 0h1m18 0h1m7 0h1m27 0h1m32 0h1m3 0h1m9 0h1M240.2 214.41h3m2 0h1m11 0h1m1 0h1m7 0h1m2 0h1m6 0h1m3 0h1m3 0h1m10 0h1m6 0h1m1 0h2m5 0h2m3 0h1m17 0h1m9 0h1m17 0h1m7 0h1m12 0h1m9 0h1m4 0h1m3 0h1m1 0h1m3 0h1m9 0h1M238.2 216.37h1m2 0h1m2 0h1m1 0h1m10 0h1m2 0h1m6 0h2m7 0h1m2 0h1m1 0h1m7 0h1m9 0h1m5 0h1m10 0h1m9 0h1m8 0h2m22 0h1m3 0h1m27 0h1M237.2 218.32h2m1 0h1m1 0h1m2 0h1m11 0h1m7 0h1m13 0h1m1 0h1m5 0h1m20 0h1m3 0h1m14 0h1m8 0h2m8 0h1m15 0h1m15 0h1m4 0h1m10 0h1m6 0h1m3 0h1m13 0h1" stroke="#edb6ba" stroke-width="1.99" fill="none"/>
<path d="M247.2 40.48h1m41 0h1M247.2 48.29h1m18 0h1m22 0h1m132 0h1M247.2 50.25h1m47 0h1m87 0h1M334.2 52.2h1M269.2 54.16h1M251.2 58.07h1m3 0h1M255.2 60.02h1m9 0h1m46 0h1m10 0h1m43 0h1M287.2 61.98h1m108 0h1m11 0h1M375.2 63.93h1m27 0h1m2 0h1M249.2 67.84h1m9 0h1m10 0h1m115 0h2M323.2 69.79h1m72 0h1M265.2 71.75h1m42 0h1M255.2 73.7h1m33 0h1m4 0h1m91 0h1M237.2 77.61h1m47 0h1m100 0h1M244.2 79.56h1m141 0h1M335.2 83.47h1M265.2 87.38h1m53 0h1M237.2 89.34h1m1 0h1m86 0h1m25 0h1M244.2 91.29h1m34 0h1m46 0h1M285.2 93.24h1M237.2 95.2h1M265.2 97.15h1m120 0h1M267.2 99.11h1m56 0h1m1 0h1m83 0h1M240.2 101.06h1m48 0h1m45 0h1m39 0h1M246.2 103.02h1m31 0h1m73 0h1m13 0h1M238.2 104.97h1m2 0h1m3 0h1m83 0h1m80 0h1M242.2 106.93h2m9 0h1m58 0h1M237.2 108.88h3m3 0h1m22 0h2m10 0h1m10 0h1M237.2 110.83h1m2 0h2m3 0h1m68 0h1m8 0h1m2 0h1m6 0h1m45 0h1m34 0h1M237.2 112.79h1m4 0h2m45 0h1m2 0h1m30 0h1m2 0h1m2 0h1m3 0h1m1 0h1m32 0h1m16 0h1m1 0h1m31 0h1M244.2 114.74h1m101 0h1M238.2 116.7h1m1 0h1m2 0h1m45 0h1m52 0h1m36 0h1M237.2 118.65h6m1 0h1m44 0h1m62 0h1M237.2 120.61h2m1 0h2m2 0h1M238.2 122.56h8m139 0h1M237.2 124.51h1m2 0h1m2 0h2m67 0h1M237.2 126.47h3m1 0h2m2 0h1m20 0h1m85 0h1M239.2 132.33h1m155 0h1M239.2 136.24h1m27 0h1m23 0h2m62 0h1m27 0h1M244.2 138.19h1m22 0h1m89 0h1M237.2 140.15h1m1 0h1m15 0h1m56 0h1m1 0h1m21 0h1m61 0h1M250.2 142.1h1m85 0h1m18 0h1M244.2 144.06h1m102 0h1M239.2 146.01h1m27 0h1m12 0h1m100 0h1M244.2 147.97h1m22 0h1m44 0h1M238.2 149.92h1m2 0h1M272.2 151.88h1m135 0h1M237.2 153.83h1m5 0h1m68 0h1M243.2 155.78h1m26 0h1m41 0h1m1 0h1m40 0h1m27 0h1m14 0h1M240.2 157.74h2M237.2 159.69h1m7 0h1m71 0h1m34 0h1m65 0h1M243.2 161.65h2m24 0h1m4 0h1m51 0h1m2 0h1m3 0h2m68 0h1M274.2 163.6h1M266.2 165.56h1m59 0h1M244.2 169.46h2m13 0h1m34 0h1m11 0h1m39 0h1M244.2 171.42h1m81 0h1m2 0h1M274.2 173.37h1M240.2 175.33h1m92 0h1m22 0h1M238.2 177.28h2m106 0h1m9 0h1M239.2 179.24h1m1 0h1m1 0h1m51 0h1m10 0h1M237.2 181.19h3m103 0h1M237.2 183.14h1m2 0h1m4 0h1M238.2 185.1h1m2 0h1m2 0h1M240.2 187.05h1m1 0h4M240.2 189.01h1m2 0h1m1 0h1m125 0h1M237.2 190.96h1m2 0h1m2 0h1m1 0h1m8 0h1m10 0h1m13 0h1m1 0h1m89 0h1m18 0h1m3 0h1m24 0h1M237.2 192.92h2m1 0h2m1 0h1M240.2 194.87h1m2 0h3m1 0h1m17 0h1M237.2 196.83h1m1 0h1m1 0h2m1 0h1m46 0h1m37 0h1m54 0h1m25 0h1M240.2 198.78h1m2 0h1m1 0h1m9 0h1M238.2 200.73h1m6 0h1m21 0h1m11 0h1m16 0h1M237.2 202.69h1m1 0h1m2 0h1m2 0h1m19 0h1m50 0h1m9 0h1m72 0h1M239.2 204.64h1m4 0h1m43 0h1M238.2 206.6h1m4 0h1m1 0h1m19 0h1m11 0h1m81 0h1m23 0h2m9 0h1m14 0h1M238.2 208.55h1m1 0h1m3 0h1m139 0h1M237.2 210.51h3m1 0h1m2 0h1m67 0h1m71 0h1m14 0h1M240.2 212.46h1m3 0h1m48 0h1m38 0h1m38 0h1m12 0h1M238.2 214.41h1m4 0h2m20 0h1m106 0h1M237.2 216.37h1m1 0h2m1 0h2m1 0h1m19 0h1m46 0h1m81 0h1M241.2 218.32h1m2 0h1m126 0h1m12 0h1" stroke="#e49096" stroke-width="1.99" fill="none"/>
<path d="M317.2 48.29h1M334.2 60.02h1M347.2 71.75h1M297.2 77.61h1M241.2 79.56h1M337.2 93.24h1M255.2 97.15h1m122 0h1m31 0h1M396.2 101.06h1M237.2 104.97h1m2 0h1m3 0h1M240.2 108.88h3m2 0h1M242.2 110.83h1m1 0h1m21 0h1m92 0h1M240.2 112.79h1m9 0h1M238.2 114.74h1m1 0h2M237.2 116.7h1m3 0h2m2 0h1M243.2 118.65h1m1 0h1M242.2 120.61h1m51 0h1M245.2 124.51h1M240.2 126.47h1m155 0h1M309.2 136.24h1m7 0h1M363.2 138.19h1M383.2 140.15h1M267.2 155.78h1M240.2 161.65h1m65 0h1m11 0h1M310.2 163.6h1M242.2 181.19h1M237.2 189.01h1M244.2 192.92h2M239.2 194.87h1m1 0h1m55 0h1M237.2 200.73h1M324.2 208.55h1M239.2 212.46h1M239.2 214.41h1M239.2 218.32h1" stroke="#da656d" stroke-width="1.99" fill="none"/>
<path d="M352.2 108.88h1M329.2 118.65h1" stroke="#cc2e39" stroke-width="1.99" fill="none"/>
<rect x="237.2" y="36" width="8.8" height="2.4" fill="#3cc0c6"/>
<rect x="246" y="36" width="178.2" height="2.4" fill="#f27f7f"/>
<path d="M237 40.48H227.04V42.43H237M227.04 41.45H226.8V44.39H237M237 46.34H226.4V48.29H237M226.4 47.32H225.96V50.25H237M226.8 42.92H225.63V48.78H225.96M225.63 45.85H224.14V52.2H237M224.14 49.03H223.57V54.16H237M237 56.11H224.78V58.07H237M237 60.02H227.91V61.98H237M227.91 61H227.27V63.93H237M227.27 62.46H226.53V65.88H237M237 67.84H226.07V69.79H237M226.07 68.82H225.84V71.75H237M226.53 64.17H225.53V70.28H225.84M225.53 67.23H225.17V73.7H237M224.78 57.09H223.85V70.46H225.17M223.57 51.59H222.66V63.78H223.85M237 77.61H228.13V79.56H237M237 75.66H227.65V78.59H228.13M237 81.52H227.57V83.47H237M227.65 77.12H227.16V82.5H227.57M237 87.38H228.74V89.34H237M237 85.43H227.74V88.36H228.74M237 91.29H227.72V93.24H237M227.72 92.27H227.46V95.2H237M227.74 86.89H226.84V93.73H227.46M227.16 79.81H226.04V90.31H226.84M226.04 85.06H225.3V97.15H237M225.3 91.11H224.86V99.11H237M237 101.06H228.66V103.02H237M237 104.97H228.99V106.93H237M228.66 102.04H228.53V105.95H228.99M237 110.83H228.39V112.79H237M237 108.88H228.26V111.81H228.39M228.53 103.99H227.77V110.35H228.26M227.77 107.17H227.27V114.74H237M237 118.65H227.26V120.61H237M227.26 119.63H226.7V122.56H237M237 116.7H226.49V121.09H226.7M227.27 110.96H226.25V118.9H226.49M226.25 114.93H224.83V124.51H237M224.86 95.11H224.17V119.72H224.83M224.17 107.41H222.66V126.47H237M222.66 57.68H221.97V116.94H222.66M237 130.38H227.74V132.33H237M237 134.29H227.55V136.24H237M227.74 131.35H227.22V135.26H227.55M237 128.42H226.47V133.31H227.22M237 140.15H228.12V142.1H237M237 138.19H227.4V141.13H228.12M226.47 130.87H226.19V139.66H227.4M237 146.01H227.54V147.97H237M237 144.06H227.03V146.99H227.54M237 149.92H226.82V151.88H237M227.03 145.52H226.35V150.9H226.82M226.19 135.26H225.38V148.21H226.35M237 155.78H228.04V157.74H237M237 159.69H228.5V161.65H237M228.04 156.76H227.79V160.67H228.5M237 163.6H227.46V165.56H237M227.79 158.72H227.26V164.58H227.46M237 153.83H226.31V161.65H227.26M237 169.46H228.52V171.42H237M237 167.51H227.47V170.44H228.52M237 173.37H228.25V175.33H237M237 177.28H228.03V179.24H237M228.25 174.35H227.18V178.26H228.03M227.47 168.98H226.21V176.3H227.18M226.31 157.74H225.91V172.64H226.21M225.38 141.74H224.42V165.19H225.91M237 183.14H228.95V185.1H237M237 189.01H229.07V190.96H237M237 187.05H228.95V189.98H229.07M228.95 184.12H228.83V188.52H228.95M228.83 186.32H228.01V192.92H237M237 181.19H227.04V189.62H228.01M237 196.83H228.61V198.78H237M237 194.87H227.89V197.8H228.61M227.89 196.34H227.04V200.73H237M227.04 185.4H225.88V198.54H227.04M237 202.69H227.12V204.64H237M237 206.6H227.76V208.55H237M227.12 203.67H226.85V207.57H227.76M237 210.51H227.45V212.46H237M237 214.41H227.95V216.37H237M227.45 211.48H226.89V215.39H227.95M226.85 205.62H226.09V213.44H226.89M225.88 191.97H225.29V209.53H226.09M225.29 200.75H224.39V218.32H237M224.42 153.46H222.83V209.54H224.39M221.97 87.31H221.4V181.5H222.83" stroke="#111" stroke-width="0.55" fill="none"/>
<g font-family="Liberation Sans" font-size="2.3" fill="#1a1a1a">
<text x="424.9" y="38.2" font-weight="bold" font-size="2.7" transform="rotate(0.03 424.9 38.2)">Type</text>
<text x="424.9" y="41.38" transform="rotate(0.03 424.9 41.38)">PRDM50</text>
<text x="424.9" y="43.33" transform="rotate(0.03 424.9 43.33)">ZNF362</text>
<text x="424.9" y="45.29" transform="rotate(0.03 424.9 45.29)">KLF149</text>
<text x="424.9" y="47.24" transform="rotate(0.03 424.9 47.24)">PRDM304</text>
<text x="424.9" y="49.19" transform="rotate(0.03 424.9 49.19)">ZBTB842</text>
<text x="424.9" y="51.15" transform="rotate(0.03 424.9 51.15)">ZBTB399</text>
<text x="424.9" y="53.1" transform="rotate(0.03 424.9 53.1)">KLF697</text>
<text x="424.9" y="55.06" transform="rotate(0.03 424.9 55.06)">ZNF771</text>
<text x="424.9" y="57.01" transform="rotate(0.03 424.9 57.01)">ZFP413</text>
<text x="424.9" y="58.97" transform="rotate(0.03 424.9 58.97)">ZNF100</text>
<text x="424.9" y="60.92" transform="rotate(0.03 424.9 60.92)">ZBTB76</text>
<text x="424.9" y="62.88" transform="rotate(0.03 424.9 62.88)">ZIC788</text>
<text x="424.9" y="64.83" transform="rotate(0.03 424.9 64.83)">GLI172</text>
<text x="424.9" y="66.78" transform="rotate(0.03 424.9 66.78)">KLF680</text>
<text x="424.9" y="68.74" transform="rotate(0.03 424.9 68.74)">ZFP94</text>
<text x="424.9" y="70.69" transform="rotate(0.03 424.9 70.69)">PRDM708</text>
<text x="424.9" y="72.65" transform="rotate(0.03 424.9 72.65)">ZFP205</text>
<text x="424.9" y="74.6" transform="rotate(0.03 424.9 74.6)">ZNF41</text>
<text x="424.9" y="76.56" transform="rotate(0.03 424.9 76.56)">ZNF59</text>
<text x="424.9" y="78.51" transform="rotate(0.03 424.9 78.51)">PRDM156</text>
<text x="424.9" y="80.46" transform="rotate(0.03 424.9 80.46)">ZNF525</text>
<text x="424.9" y="82.42" transform="rotate(0.03 424.9 82.42)">GLI394</text>
<text x="424.9" y="84.37" transform="rotate(0.03 424.9 84.37)">ZNF28</text>
<text x="424.9" y="86.33" transform="rotate(0.03 424.9 86.33)">ZFP382</text>
<text x="424.9" y="88.28" transform="rotate(0.03 424.9 88.28)">KLF79</text>
<text x="424.9" y="90.24" transform="rotate(0.03 424.9 90.24)">ZIC76</text>
<text x="424.9" y="92.19" transform="rotate(0.03 424.9 92.19)">ZNF60</text>
<text x="424.9" y="94.14" transform="rotate(0.03 424.9 94.14)">ZFP402</text>
<text x="424.9" y="96.1" transform="rotate(0.03 424.9 96.1)">GLI532</text>
<text x="424.9" y="98.05" transform="rotate(0.03 424.9 98.05)">ZNF169</text>
<text x="424.9" y="100.01" transform="rotate(0.03 424.9 100.01)">GLI733</text>
<text x="424.9" y="101.96" transform="rotate(0.03 424.9 101.96)">GLI700</text>
<text x="424.9" y="103.92" transform="rotate(0.03 424.9 103.92)">PRDM106</text>
<text x="424.9" y="105.87" transform="rotate(0.03 424.9 105.87)">ZBTB483</text>
<text x="424.9" y="107.83" transform="rotate(0.03 424.9 107.83)">ZNF316</text>
<text x="424.9" y="109.78" transform="rotate(0.03 424.9 109.78)">ZNF706</text>
<text x="424.9" y="111.73" transform="rotate(0.03 424.9 111.73)">PRDM152</text>
<text x="424.9" y="113.69" transform="rotate(0.03 424.9 113.69)">SALL76</text>
<text x="424.9" y="115.64" transform="rotate(0.03 424.9 115.64)">ZNF78</text>
<text x="424.9" y="117.6" transform="rotate(0.03 424.9 117.6)">ZBTB94</text>
<text x="424.9" y="119.55" transform="rotate(0.03 424.9 119.55)">GLI358</text>
<text x="424.9" y="121.51" transform="rotate(0.03 424.9 121.51)">PRDM731</text>
<text x="424.9" y="123.46" transform="rotate(0.03 424.9 123.46)">GLI825</text>
<text x="424.9" y="125.41" transform="rotate(0.03 424.9 125.41)">SALL115</text>
<text x="424.9" y="127.37" transform="rotate(0.03 424.9 127.37)">ZNF363</text>
<text x="424.9" y="129.32" transform="rotate(0.03 424.9 129.32)">ZNF346</text>
<text x="424.9" y="131.28" transform="rotate(0.03 424.9 131.28)">PRDM569</text>
<text x="424.9" y="133.23" transform="rotate(0.03 424.9 133.23)">ZNF82</text>
<text x="424.9" y="135.19" transform="rotate(0.03 424.9 135.19)">ZNF83</text>
<text x="424.9" y="137.14" transform="rotate(0.03 424.9 137.14)">SALL332</text>
<text x="424.9" y="139.09" transform="rotate(0.03 424.9 139.09)">ZNF737</text>
<text x="424.9" y="141.05" transform="rotate(0.03 424.9 141.05)">ZBTB534</text>
<text x="424.9" y="143" transform="rotate(0.03 424.9 143)">ZNF60</text>
<text x="424.9" y="144.96" transform="rotate(0.03 424.9 144.96)">KLF444</text>
<text x="424.9" y="146.91" transform="rotate(0.03 424.9 146.91)">SALL61</text>
<text x="424.9" y="148.87" transform="rotate(0.03 424.9 148.87)">ZNF638</text>
<text x="424.9" y="150.82" transform="rotate(0.03 424.9 150.82)">ZNF360</text>
<text x="424.9" y="152.78" transform="rotate(0.03 424.9 152.78)">ZBTB504</text>
<text x="424.9" y="154.73" transform="rotate(0.03 424.9 154.73)">KLF461</text>
<text x="424.9" y="156.68" transform="rotate(0.03 424.9 156.68)">KLF652</text>
<text x="424.9" y="158.64" transform="rotate(0.03 424.9 158.64)">KLF491</text>
<text x="424.9" y="160.59" transform="rotate(0.03 424.9 160.59)">ZIC66</text>
<text x="424.9" y="162.55" transform="rotate(0.03 424.9 162.55)">ZFP69</text>
<text x="424.9" y="164.5" transform="rotate(0.03 424.9 164.5)">ZIC81</text>
<text x="424.9" y="166.46" transform="rotate(0.03 424.9 166.46)">ZNF22</text>
<text x="424.9" y="168.41" transform="rotate(0.03 424.9 168.41)">ZNF228</text>
<text x="424.9" y="170.36" transform="rotate(0.03 424.9 170.36)">PRDM105</text>
<text x="424.9" y="172.32" transform="rotate(0.03 424.9 172.32)">ZNF617</text>
<text x="424.9" y="174.27" transform="rotate(0.03 424.9 174.27)">ZNF308</text>
<text x="424.9" y="176.23" transform="rotate(0.03 424.9 176.23)">ZBTB97</text>
<text x="424.9" y="178.18" transform="rotate(0.03 424.9 178.18)">PRDM26</text>
<text x="424.9" y="180.14" transform="rotate(0.03 424.9 180.14)">ZIC77</text>
<text x="424.9" y="182.09" transform="rotate(0.03 424.9 182.09)">ZIC182</text>
<text x="424.9" y="184.04" transform="rotate(0.03 424.9 184.04)">ZFP618</text>
<text x="424.9" y="186" transform="rotate(0.03 424.9 186)">ZNF635</text>
<text x="424.9" y="187.95" transform="rotate(0.03 424.9 187.95)">KLF480</text>
<text x="424.9" y="189.91" transform="rotate(0.03 424.9 189.91)">SALL70</text>
<text x="424.9" y="191.86" transform="rotate(0.03 424.9 191.86)">KLF12</text>
<text x="424.9" y="193.82" transform="rotate(0.03 424.9 193.82)">GLI70</text>
<text x="424.9" y="195.77" transform="rotate(0.03 424.9 195.77)">ZNF818</text>
<text x="424.9" y="197.73" transform="rotate(0.03 424.9 197.73)">ZNF87</text>
<text x="424.9" y="199.68" transform="rotate(0.03 424.9 199.68)">PRDM156</text>
<text x="424.9" y="201.63" transform="rotate(0.03 424.9 201.63)">ZNF154</text>
<text x="424.9" y="203.59" transform="rotate(0.03 424.9 203.59)">ZNF642</text>
<text x="424.9" y="205.54" transform="rotate(0.03 424.9 205.54)">ZNF875</text>
<text x="424.9" y="207.5" transform="rotate(0.03 424.9 207.5)">KLF279</text>
<text x="424.9" y="209.45" transform="rotate(0.03 424.9 209.45)">ZBTB80</text>
<text x="424.9" y="211.41" transform="rotate(0.03 424.9 211.41)">SALL670</text>
<text x="424.9" y="213.36" transform="rotate(0.03 424.9 213.36)">ZNF26</text>
<text x="424.9" y="215.31" transform="rotate(0.03 424.9 215.31)">ZNF438</text>
<text x="424.9" y="217.27" transform="rotate(0.03 424.9 217.27)">ZNF116</text>
<text x="424.9" y="219.22" transform="rotate(0.03 424.9 219.22)">ZNF283</text>
</g>
<defs><linearGradient id="bg" x1="0" y1="0" x2="0" y2="1"><stop offset="0" stop-color="#c8202c"/><stop offset="0.3" stop-color="#d84048"/><stop offset="0.5" stop-color="#fff"/><stop offset="0.72" stop-color="#5060b0"/><stop offset="1" stop-color="#2e3ea0"/></linearGradient></defs>
<rect x="437.9" y="35.3" width="3.1" height="46.2" fill="url(#bg)"/>
<g font-family="Liberation Sans" font-size="2.6" fill="#111">
<text x="442.2" y="41.05" transform="rotate(0.03 442.2 41.05)">10</text>
<text x="442.2" y="50.35" transform="rotate(0.03 442.2 50.35)">5</text>
<text x="442.2" y="59.55" transform="rotate(0.03 442.2 59.55)">0</text>
<text x="442.2" y="68.85" transform="rotate(0.03 442.2 68.85)">−5</text>
<text x="442.2" y="78.15" transform="rotate(0.03 442.2 78.15)">−10</text>
<text x="446.8" y="37.3" font-weight="bold" font-size="2.7" transform="rotate(0.03 446.8 37.3)">Type</text>
<text x="451" y="40.9" transform="rotate(0.03 451 40.9)">N</text><text x="451" y="44.5" transform="rotate(0.03 451 44.5)">T</text>
</g>
<rect x="446.8" y="38.2" width="3.5" height="3.4" fill="#3cc0c6"/>
<rect x="446.8" y="41.8" width="3.5" height="3.4" fill="#f27f7f"/>
</g>
<g id="panel_c">
<path d="M588.87 43.45A87.2 87.2 0 0 1 628.58 53.13" stroke="#f03030" stroke-width="1.2" fill="none"/>
<path d="M629.9 53.82A87.2 87.2 0 0 1 659.8 80.24" stroke="#2e9e58" stroke-width="1.2" fill="none"/>
<path d="M660.66 81.47A87.2 87.2 0 0 1 673.69 111.36" stroke="#a0307a" stroke-width="1.2" fill="none"/>
<path d="M674.01 112.82A87.2 87.2 0 0 1 674.78 144.28" stroke="#f0a020" stroke-width="1.2" fill="none"/>
<path d="M674.53 145.75A87.2 87.2 0 0 1 664.41 173.82" stroke="#ff48f0" stroke-width="1.2" fill="none"/>
<path d="M663.66 175.11A87.2 87.2 0 0 1 645.55 196.73" stroke="#1e7a2e" stroke-width="1.2" fill="none"/>
<path d="M644.41 197.69A87.2 87.2 0 0 1 621.94 211.25" stroke="#4848ff" stroke-width="1.2" fill="none"/>
<path d="M620.55 211.8A87.2 87.2 0 0 1 597.11 217.44" stroke="#a0522d" stroke-width="1.2" fill="none"/>
<path d="M595.63 217.57A87.2 87.2 0 0 1 572.37 216.32" stroke="#e868b0" stroke-width="1.2" fill="none"/>
<path d="M570.91 216.03A87.2 87.2 0 0 1 549.83 208.73" stroke="#3cb878" stroke-width="1.2" fill="none"/>
<path d="M548.5 208.06A87.2 87.2 0 0 1 530.17 195.34" stroke="#a83232" stroke-width="1.2" fill="none"/>
<path d="M529.08 194.33A87.2 87.2 0 0 1 514.96 177.27" stroke="#ff8050" stroke-width="1.2" fill="none"/>
<path d="M514.17 176.01A87.2 87.2 0 0 1 506.11 158.78" stroke="#4682b4" stroke-width="1.2" fill="none"/>
<path d="M505.64 157.37A87.2 87.2 0 0 1 501.96 140.06" stroke="#48dcd0" stroke-width="1.2" fill="none"/>
<path d="M501.81 138.57A87.2 87.2 0 0 1 501.91 121.7" stroke="#a040e0" stroke-width="1.2" fill="none"/>
<path d="M502.08 120.22A87.2 87.2 0 0 1 505.11 105.64" stroke="#70f050" stroke-width="1.2" fill="none"/>
<path d="M505.55 104.22A87.2 87.2 0 0 1 510.59 91.79" stroke="#8b3030" stroke-width="1.2" fill="none"/>
<path d="M511.26 90.46A87.2 87.2 0 0 1 518.05 79.48" stroke="#209898" stroke-width="1.2" fill="none"/>
<path d="M518.93 78.28A87.2 87.2 0 0 1 525.23 70.81" stroke="#ff7060" stroke-width="1.2" fill="none"/>
<path d="M526.26 69.73A87.2 87.2 0 0 1 533.98 62.72" stroke="#87cefa" stroke-width="1.2" fill="none"/>
<path d="M535.15 61.79A87.2 87.2 0 0 1 541.64 57.2" stroke="#7fffd4" stroke-width="1.2" fill="none"/>
<path d="M542.91 56.41A87.2 87.2 0 0 1 550.3 52.33" stroke="#9050d0" stroke-width="1.2" fill="none"/>
<path d="M551.65 51.69A87.2 87.2 0 0 1 576.16 44.35" stroke="#f08070" stroke-width="1.2" fill="none"/>
<path d="M577.64 44.15A87.2 87.2 0 0 1 587.38 43.46" stroke="#e09050" stroke-width="1.2" fill="none"/>
<path d="M589.25 48.1A82.55 82.55 0 0 1 589.93 48.11M591.25 48.14A82.55 82.55 0 0 1 592.37 48.18M596.17 48.44A82.55 82.55 0 0 1 597.11 48.53M598.51 48.69A82.55 82.55 0 0 1 599.85 48.86M601.1 49.04A82.55 82.55 0 0 1 601.81 49.16M603.39 49.43A82.55 82.55 0 0 1 603.87 49.52M604.35 49.61A82.55 82.55 0 0 1 605.47 49.83M606.75 50.11A82.55 82.55 0 0 1 608.33 50.48M613.11 51.81A82.55 82.55 0 0 1 614.41 52.22M615.8 52.69A82.55 82.55 0 0 1 616.6 52.98M617.72 53.39A82.55 82.55 0 0 1 618.25 53.59M621.12 54.76A82.55 82.55 0 0 1 622.09 55.18M624.39 56.24A82.55 82.55 0 0 1 625.51 56.79M626.1 57.08A82.55 82.55 0 0 1 626.45 57.26M629.56 58.95A82.55 82.55 0 0 1 630.12 59.27M630.87 59.71A82.55 82.55 0 0 1 631.34 59.99M631.92 60.35A82.55 82.55 0 0 1 633.04 61.05M634.32 61.88A82.55 82.55 0 0 1 635.01 62.35M635.85 62.93A82.55 82.55 0 0 1 636.94 63.7M637.4 64.03A82.55 82.55 0 0 1 638.51 64.86M639.41 65.55A82.55 82.55 0 0 1 640.08 66.08M640.89 66.73A82.55 82.55 0 0 1 641.85 67.53M642.79 68.34A82.55 82.55 0 0 1 643.81 69.23M644.18 69.57A82.55 82.55 0 0 1 644.6 69.95M645.77 71.05A82.55 82.55 0 0 1 646.92 72.18M647.64 72.9A82.55 82.55 0 0 1 648.67 73.98M649.66 75.04A82.55 82.55 0 0 1 650.04 75.46M650.74 76.25A82.55 82.55 0 0 1 651.48 77.11M651.73 77.4A82.55 82.55 0 0 1 652.69 78.56M653.11 79.08A82.55 82.55 0 0 1 654.03 80.26M660.44 89.9A82.55 82.55 0 0 1 661.18 91.24M661.43 91.69A82.55 82.55 0 0 1 661.64 92.08M662.16 93.08A82.55 82.55 0 0 1 662.66 94.08M662.86 94.49A82.55 82.55 0 0 1 663.14 95.08M663.77 96.42A82.55 82.55 0 0 1 664.19 97.36M665.66 100.92A82.55 82.55 0 0 1 665.9 101.55M667.63 106.64A82.55 82.55 0 0 1 667.83 107.29M668.12 108.31A82.55 82.55 0 0 1 668.36 109.18M668.95 111.49A82.55 82.55 0 0 1 669.15 112.39M669.46 113.77A82.55 82.55 0 0 1 669.65 114.74M669.92 116.19A82.55 82.55 0 0 1 670.02 116.76M670.28 118.38A82.55 82.55 0 0 1 670.5 119.92M670.59 120.65A82.55 82.55 0 0 1 670.66 121.2M671.05 125.69A82.55 82.55 0 0 1 671.08 126.14M671.18 128.94A82.55 82.55 0 0 1 671.2 130.1M671.2 131.31A82.55 82.55 0 0 1 671.17 132.88M671.13 134.11A82.55 82.55 0 0 1 671.1 134.78M671.07 135.31A82.55 82.55 0 0 1 671.01 136.26M670.98 136.63A82.55 82.55 0 0 1 670.95 137.09M670.86 138.1A82.55 82.55 0 0 1 670.71 139.66M670.53 141.15A82.55 82.55 0 0 1 670.43 141.87M669.73 146.15A82.55 82.55 0 0 1 669.42 147.69M669.08 149.23A82.55 82.55 0 0 1 668.92 149.91M667.68 154.51A82.55 82.55 0 0 1 667.48 155.16M667.33 155.62A82.55 82.55 0 0 1 666.89 156.98M666.77 157.33A82.55 82.55 0 0 1 666.38 158.45M666.18 158.99A82.55 82.55 0 0 1 665.81 159.99M663.64 165.15A82.55 82.55 0 0 1 663.42 165.63M663.07 166.38A82.55 82.55 0 0 1 662.39 167.75M659.66 172.74A82.55 82.55 0 0 1 658.85 174.08M657.98 175.45A82.55 82.55 0 0 1 657.16 176.71M656.82 177.2A82.55 82.55 0 0 1 656.04 178.33M654.5 180.43A82.55 82.55 0 0 1 653.6 181.6M653.22 182.08A82.55 82.55 0 0 1 652.71 182.72M652.3 183.22A82.55 82.55 0 0 1 651.73 183.89M649.64 186.28A82.55 82.55 0 0 1 648.57 187.44M647.53 188.51A82.55 82.55 0 0 1 647.11 188.93M646.82 189.22A82.55 82.55 0 0 1 646.24 189.79M644.5 191.43A82.55 82.55 0 0 1 643.56 192.29M642.78 192.98A82.55 82.55 0 0 1 642.51 193.21M640.23 195.1A82.55 82.55 0 0 1 639.27 195.86M635.24 198.8A82.55 82.55 0 0 1 634.23 199.48M633.19 200.15A82.55 82.55 0 0 1 632.21 200.77M631.45 201.24A82.55 82.55 0 0 1 630.81 201.62M630.02 202.09A82.55 82.55 0 0 1 629.18 202.57M624.65 204.94A82.55 82.55 0 0 1 624.21 205.15M623.1 205.67A82.55 82.55 0 0 1 621.82 206.24M616.44 208.38A82.55 82.55 0 0 1 615.5 208.71M614.97 208.89A82.55 82.55 0 0 1 613.53 209.36M610.67 210.21A82.55 82.55 0 0 1 609.62 210.49M601.44 212.2A82.55 82.55 0 0 1 600.13 212.4M599.2 212.52A82.55 82.55 0 0 1 597.76 212.7M594.54 212.99A82.55 82.55 0 0 1 593.26 213.07M592.55 213.11A82.55 82.55 0 0 1 591.03 213.17M590.49 213.18A82.55 82.55 0 0 1 589.63 213.19M588.36 213.2A82.55 82.55 0 0 1 587.46 213.19M586.39 213.17A82.55 82.55 0 0 1 585.95 213.16M582.77 212.99A82.55 82.55 0 0 1 581.19 212.86M577.75 212.48A82.55 82.55 0 0 1 576.77 212.34M573.77 211.85A82.55 82.55 0 0 1 573.24 211.75M567.71 210.5A82.55 82.55 0 0 1 567.25 210.38M566.74 210.24A82.55 82.55 0 0 1 566.16 210.08M565.34 209.84A82.55 82.55 0 0 1 564.43 209.57M563.15 209.16A82.55 82.55 0 0 1 562.46 208.94M559.9 208.03A82.55 82.55 0 0 1 559.29 207.8M558.01 207.3A82.55 82.55 0 0 1 556.77 206.8M556.2 206.56A82.55 82.55 0 0 1 555.14 206.09M554.66 205.88A82.55 82.55 0 0 1 553.67 205.42M552.8 205.01A82.55 82.55 0 0 1 551.9 204.57M549.22 203.17A82.55 82.55 0 0 1 548.02 202.51M546.63 201.7A82.55 82.55 0 0 1 545.67 201.13M543.48 199.74A82.55 82.55 0 0 1 543.07 199.47M538.09 195.91A82.55 82.55 0 0 1 537.79 195.67M536.68 194.79A82.55 82.55 0 0 1 535.97 194.2M535.06 193.44A82.55 82.55 0 0 1 534.09 192.6M531.55 190.27A82.55 82.55 0 0 1 531 189.73M529.98 188.72A82.55 82.55 0 0 1 529.47 188.2M527.67 186.29A82.55 82.55 0 0 1 527 185.55M526.6 185.1A82.55 82.55 0 0 1 526.07 184.48M523.86 181.8A82.55 82.55 0 0 1 523.44 181.27M521.34 178.43A82.55 82.55 0 0 1 520.54 177.3M520.13 176.68A82.55 82.55 0 0 1 519.43 175.63M518.14 173.59A82.55 82.55 0 0 1 517.61 172.69M516.78 171.26A82.55 82.55 0 0 1 516.38 170.54M514.57 167.08A82.55 82.55 0 0 1 514 165.9M513.46 164.72A82.55 82.55 0 0 1 512.8 163.22M512.51 162.54A82.55 82.55 0 0 1 512.28 161.99M511.8 160.8A82.55 82.55 0 0 1 511.55 160.14M511.17 159.13A82.55 82.55 0 0 1 510.77 158.01M510.6 157.54A82.55 82.55 0 0 1 510.51 157.28M510.07 155.94A82.55 82.55 0 0 1 509.83 155.18M509.63 154.52A82.55 82.55 0 0 1 509.48 154.03M508.83 151.71A82.55 82.55 0 0 1 508.48 150.34M508.37 149.88A82.55 82.55 0 0 1 508.25 149.38M508 148.26A82.55 82.55 0 0 1 507.72 146.92M507.13 143.64A82.55 82.55 0 0 1 506.96 142.56M506.81 141.42A82.55 82.55 0 0 1 506.61 139.84M506.39 137.59A82.55 82.55 0 0 1 506.31 136.52M506.28 136.16A82.55 82.55 0 0 1 506.21 134.9M506.17 134.17A82.55 82.55 0 0 1 506.15 133.43M506.11 132.16A82.55 82.55 0 0 1 506.11 131.71M506.13 128.59A82.55 82.55 0 0 1 506.18 127.05M506.38 123.89A82.55 82.55 0 0 1 506.46 122.96M508.38 111.4A82.55 82.55 0 0 1 508.7 110.09M508.95 109.15A82.55 82.55 0 0 1 509.36 107.66M510.29 104.68A82.55 82.55 0 0 1 510.6 103.76M510.86 103.01A82.55 82.55 0 0 1 511.37 101.63M511.69 100.79A82.55 82.55 0 0 1 511.96 100.11M512.49 98.8A82.55 82.55 0 0 1 512.86 97.92M513.14 97.29A82.55 82.55 0 0 1 513.81 95.82M515.98 91.49A82.55 82.55 0 0 1 516.54 90.46M516.85 89.92A82.55 82.55 0 0 1 517.63 88.57M519.3 85.87A82.55 82.55 0 0 1 520 84.8M520.6 83.91A82.55 82.55 0 0 1 520.88 83.52M521.43 82.73A82.55 82.55 0 0 1 521.81 82.2M524.22 79.04A82.55 82.55 0 0 1 525.13 77.92M526.79 75.99A82.55 82.55 0 0 1 527.78 74.89M529.59 72.98A82.55 82.55 0 0 1 530.56 72M533.35 69.36A82.55 82.55 0 0 1 534.46 68.38M538 65.46A82.55 82.55 0 0 1 538.68 64.94M539.01 64.69A82.55 82.55 0 0 1 540.04 63.93M540.74 63.43A82.55 82.55 0 0 1 541.56 62.85M541.99 62.55A82.55 82.55 0 0 1 543.22 61.72M543.63 61.45A82.55 82.55 0 0 1 543.95 61.25M545.35 60.37A82.55 82.55 0 0 1 546.52 59.66M547.21 59.25A82.55 82.55 0 0 1 548.25 58.66M552.11 56.63A82.55 82.55 0 0 1 552.35 56.51M558.8 53.69A82.55 82.55 0 0 1 559.34 53.48M560.77 52.95A82.55 82.55 0 0 1 561.51 52.69M562.21 52.45A82.55 82.55 0 0 1 563.08 52.16M564.08 51.84A82.55 82.55 0 0 1 564.64 51.67M565.74 51.34A82.55 82.55 0 0 1 566.86 51.03M569.14 50.44A82.55 82.55 0 0 1 570.33 50.16M571.83 49.83A82.55 82.55 0 0 1 572.27 49.74M573.89 49.43A82.55 82.55 0 0 1 575.06 49.23M576.3 49.03A82.55 82.55 0 0 1 576.83 48.95M581.17 48.44A82.55 82.55 0 0 1 582.81 48.31" stroke="#ffffff" stroke-width="4.9" fill="none"/>
<path d="M592.77 48.2A82.55 82.55 0 0 1 593.43 48.24M593.83 48.26A82.55 82.55 0 0 1 595.11 48.35M608.78 50.59A82.55 82.55 0 0 1 610.16 50.95M611.62 51.36A82.55 82.55 0 0 1 612.68 51.67M618.84 53.82A82.55 82.55 0 0 1 620.02 54.29M622.61 55.41A82.55 82.55 0 0 1 623.26 55.7M608.9 50.62A82.55 82.55 0 0 1 611.27 51.26M627.7 57.92A82.55 82.55 0 0 1 628.26 58.22M630.12 59.27A82.55 82.55 0 0 1 630.87 59.71M654.03 80.26A82.55 82.55 0 0 1 654.32 80.63M654.32 80.63A82.55 82.55 0 0 1 655.17 81.77M655.96 82.86A82.55 82.55 0 0 1 656.01 82.93M656.82 84.09A82.55 82.55 0 0 1 657.4 84.96M657.9 85.72A82.55 82.55 0 0 1 658.74 87.04M659.39 88.11A82.55 82.55 0 0 1 659.84 88.86M659.84 88.86A82.55 82.55 0 0 1 660.44 89.9M664.67 98.48A82.55 82.55 0 0 1 665.08 99.46M665.08 99.46A82.55 82.55 0 0 1 665.66 100.92M666.39 102.88A82.55 82.55 0 0 1 666.55 103.33M666.85 104.2A82.55 82.55 0 0 1 667.13 105.05M667.26 105.46A82.55 82.55 0 0 1 667.39 105.87M668.6 110.11A82.55 82.55 0 0 1 668.83 111.02M670.5 119.92A82.55 82.55 0 0 1 670.59 120.65M670.73 121.84A82.55 82.55 0 0 1 670.84 122.95M670.88 123.39A82.55 82.55 0 0 1 670.92 123.82M670.99 124.79A82.55 82.55 0 0 1 671.02 125.23M671.13 127.37A82.55 82.55 0 0 1 671.17 128.26M670.22 143.3A82.55 82.55 0 0 1 670.19 143.55M668.6 151.2A82.55 82.55 0 0 1 668.42 151.89M668.26 152.5A82.55 82.55 0 0 1 668.09 153.1M668.09 153.1A82.55 82.55 0 0 1 667.68 154.51M666.38 158.45A82.55 82.55 0 0 1 666.18 158.99M665.42 161.01A82.55 82.55 0 0 1 665.25 161.43M664.66 162.85A82.55 82.55 0 0 1 664.09 164.17M661.82 168.86A82.55 82.55 0 0 1 661.44 169.58M660.72 170.91A82.55 82.55 0 0 1 660.37 171.52M655.22 179.46A82.55 82.55 0 0 1 654.8 180.03M653.6 181.6A82.55 82.55 0 0 1 653.22 182.08M650.77 185.02A82.55 82.55 0 0 1 650.23 185.63M645.58 190.43A82.55 82.55 0 0 1 644.95 191.02M638.25 196.64A82.55 82.55 0 0 1 637.43 197.25M636.71 197.77A82.55 82.55 0 0 1 635.67 198.5M629.18 202.57A82.55 82.55 0 0 1 628.1 203.16M628.1 203.16A82.55 82.55 0 0 1 626.87 203.82M626.36 204.09A82.55 82.55 0 0 1 625.71 204.41M621.46 206.4A82.55 82.55 0 0 1 620.16 206.95M618.43 207.64A82.55 82.55 0 0 1 617.02 208.17M612.22 209.76A82.55 82.55 0 0 1 611.66 209.93M609.62 210.49A82.55 82.55 0 0 1 608.7 210.73M608.7 210.73A82.55 82.55 0 0 1 607.51 211.02M607.51 211.02A82.55 82.55 0 0 1 606.4 211.27M606.4 211.27A82.55 82.55 0 0 1 605.27 211.51M603.78 211.8A82.55 82.55 0 0 1 602.37 212.05M597.76 212.7A82.55 82.55 0 0 1 596.66 212.81M585.09 213.12A82.55 82.55 0 0 1 583.62 213.05M579.86 212.73A82.55 82.55 0 0 1 578.81 212.61M575.85 212.2A82.55 82.55 0 0 1 575 212.06M586.8 213.18A82.55 82.55 0 0 1 584.35 213.09M570.26 211.13A82.55 82.55 0 0 1 568.76 210.77M567.25 210.38A82.55 82.55 0 0 1 566.74 210.24M561.81 208.72A82.55 82.55 0 0 1 560.9 208.4M544.73 200.55A82.55 82.55 0 0 1 543.99 200.08M541.85 198.65A82.55 82.55 0 0 1 540.71 197.86M539.6 197.05A82.55 82.55 0 0 1 538.76 196.42M535.97 194.2A82.55 82.55 0 0 1 535.06 193.44M533.65 192.21A82.55 82.55 0 0 1 533.29 191.89M529.47 188.2A82.55 82.55 0 0 1 529 187.71M529 187.71A82.55 82.55 0 0 1 528.25 186.92M525.55 183.87A82.55 82.55 0 0 1 524.85 183.04M522.84 180.48A82.55 82.55 0 0 1 522.09 179.48M522.09 179.48A82.55 82.55 0 0 1 521.34 178.43M516.04 169.92A82.55 82.55 0 0 1 515.73 169.34M515.44 168.8A82.55 82.55 0 0 1 514.84 167.62M509.83 155.18A82.55 82.55 0 0 1 509.63 154.52M509.24 153.19A82.55 82.55 0 0 1 508.94 152.12M507.72 146.92A82.55 82.55 0 0 1 507.54 146M507.54 146A82.55 82.55 0 0 1 507.4 145.26M506.31 136.52A82.55 82.55 0 0 1 506.28 136.16M506.15 133.43A82.55 82.55 0 0 1 506.11 132.16M506.1 130.15A82.55 82.55 0 0 1 506.11 129.24M506.2 126.6A82.55 82.55 0 0 1 506.28 125.21M506.69 120.78A82.55 82.55 0 0 1 506.82 119.78M506.82 119.78A82.55 82.55 0 0 1 506.95 118.86M507.01 118.45A82.55 82.55 0 0 1 507.21 117.15M507.33 116.48A82.55 82.55 0 0 1 507.44 115.83M507.71 114.41A82.55 82.55 0 0 1 508.05 112.79M508.7 110.09A82.55 82.55 0 0 1 508.95 109.15M507.72 114.35A82.55 82.55 0 0 1 508.24 111.96M511.37 101.63A82.55 82.55 0 0 1 511.69 100.79M514.44 94.48A82.55 82.55 0 0 1 514.75 93.86M515.39 92.6A82.55 82.55 0 0 1 515.59 92.22M515.59 92.22A82.55 82.55 0 0 1 515.98 91.49M517.63 88.57A82.55 82.55 0 0 1 518.41 87.28M518.41 87.28A82.55 82.55 0 0 1 518.68 86.84M522.65 81.07A82.55 82.55 0 0 1 523.43 80.04M525.57 77.41A82.55 82.55 0 0 1 526.12 76.75M531.58 71A82.55 82.55 0 0 1 532.53 70.11M532.53 70.11A82.55 82.55 0 0 1 533.35 69.36M535.26 67.69A82.55 82.55 0 0 1 535.87 67.18M536.52 66.64A82.55 82.55 0 0 1 536.9 66.34M538.68 64.94A82.55 82.55 0 0 1 539.01 64.69M543.22 61.72A82.55 82.55 0 0 1 543.63 61.45M549.54 57.95A82.55 82.55 0 0 1 550.95 57.21M550.95 57.21A82.55 82.55 0 0 1 552.11 56.63M554.22 55.62A82.55 82.55 0 0 1 555.73 54.95M556.17 54.76A82.55 82.55 0 0 1 557.41 54.24M557.41 54.24A82.55 82.55 0 0 1 558.8 53.69M567.83 50.77A82.55 82.55 0 0 1 568.47 50.6M575.06 49.23A82.55 82.55 0 0 1 576.3 49.03M579.68 48.59A82.55 82.55 0 0 1 580.35 48.52M583.2 48.28A82.55 82.55 0 0 1 583.91 48.24M585.39 48.16A82.55 82.55 0 0 1 586.93 48.12" stroke="#d4d4d4" stroke-width="4.9" fill="none"/>
<path d="M599.85 48.86A82.55 82.55 0 0 1 601.1 49.04M601.81 49.16A82.55 82.55 0 0 1 603.39 49.43M603.87 49.52A82.55 82.55 0 0 1 604.35 49.61M610.16 50.95A82.55 82.55 0 0 1 611.62 51.36M616.6 52.98A82.55 82.55 0 0 1 617.72 53.39M622.09 55.18A82.55 82.55 0 0 1 622.61 55.41M628.26 58.22A82.55 82.55 0 0 1 629.56 58.95M633.04 61.05A82.55 82.55 0 0 1 634.32 61.88M638.51 64.86A82.55 82.55 0 0 1 639.41 65.55M643.81 69.23A82.55 82.55 0 0 1 644.18 69.57M651.48 77.11A82.55 82.55 0 0 1 651.73 77.4M666.55 103.33A82.55 82.55 0 0 1 666.85 104.2M670.84 122.95A82.55 82.55 0 0 1 670.88 123.39M671.2 130.1A82.55 82.55 0 0 1 671.2 131.31M671.17 132.88A82.55 82.55 0 0 1 671.13 134.11M670.71 139.66A82.55 82.55 0 0 1 670.53 141.15M668.42 151.89A82.55 82.55 0 0 1 668.26 152.5M667.48 155.16A82.55 82.55 0 0 1 667.33 155.62M664.09 164.17A82.55 82.55 0 0 1 663.64 165.15M661.44 169.58A82.55 82.55 0 0 1 660.72 170.91M657.16 176.71A82.55 82.55 0 0 1 656.82 177.2M650.23 185.63A82.55 82.55 0 0 1 649.64 186.28M647.11 188.93A82.55 82.55 0 0 1 646.82 189.22M641.44 194.12A82.55 82.55 0 0 1 640.23 195.1M637.43 197.25A82.55 82.55 0 0 1 636.71 197.77M635.67 198.5A82.55 82.55 0 0 1 635.24 198.8M630.81 201.62A82.55 82.55 0 0 1 630.02 202.09M625.71 204.41A82.55 82.55 0 0 1 624.65 204.94M618.85 207.48A82.55 82.55 0 0 1 618.43 207.64M617.02 208.17A82.55 82.55 0 0 1 616.44 208.38M605.27 211.51A82.55 82.55 0 0 1 603.78 211.8M593.26 213.07A82.55 82.55 0 0 1 592.55 213.11M587.46 213.19A82.55 82.55 0 0 1 586.39 213.17M581.19 212.86A82.55 82.55 0 0 1 579.86 212.73M575 212.06A82.55 82.55 0 0 1 573.77 211.85M564.43 209.57A82.55 82.55 0 0 1 563.15 209.16M560.9 208.4A82.55 82.55 0 0 1 559.9 208.03M545.67 201.13A82.55 82.55 0 0 1 544.73 200.55M540.71 197.86A82.55 82.55 0 0 1 539.6 197.05M538.76 196.42A82.55 82.55 0 0 1 538.09 195.91M520.54 177.3A82.55 82.55 0 0 1 520.13 176.68M519.43 175.63A82.55 82.55 0 0 1 518.89 174.79M517.61 172.69A82.55 82.55 0 0 1 516.78 171.26M512.8 163.22A82.55 82.55 0 0 1 512.51 162.54M506.46 122.96A82.55 82.55 0 0 1 506.54 122.18M506.95 118.86A82.55 82.55 0 0 1 507.01 118.45M509.36 107.66A82.55 82.55 0 0 1 509.57 106.97M520 84.8A82.55 82.55 0 0 1 520.6 83.91M523.43 80.04A82.55 82.55 0 0 1 524.22 79.04M527.78 74.89A82.55 82.55 0 0 1 528.61 74M534.46 68.38A82.55 82.55 0 0 1 535.26 67.69M535.87 67.18A82.55 82.55 0 0 1 536.52 66.64M541.56 62.85A82.55 82.55 0 0 1 541.99 62.55M546.52 59.66A82.55 82.55 0 0 1 547.21 59.25M548.25 58.66A82.55 82.55 0 0 1 549.54 57.95M561.51 52.69A82.55 82.55 0 0 1 562.21 52.45M564.64 51.67A82.55 82.55 0 0 1 565.74 51.34M582.81 48.31A82.55 82.55 0 0 1 583.2 48.28" stroke="#9a9a9a" stroke-width="4.9" fill="none"/>
<path d="M588.86 48.1A82.55 82.55 0 0 1 589.25 48.1M592.37 48.18A82.55 82.55 0 0 1 592.77 48.2M593.43 48.24A82.55 82.55 0 0 1 593.83 48.26M595.11 48.35A82.55 82.55 0 0 1 596.17 48.44M608.33 50.48A82.55 82.55 0 0 1 608.78 50.59M612.68 51.67A82.55 82.55 0 0 1 613.11 51.81M618.25 53.59A82.55 82.55 0 0 1 618.84 53.82M623.26 55.7A82.55 82.55 0 0 1 624.39 56.24M631.34 59.99A82.55 82.55 0 0 1 631.92 60.35M641.85 67.53A82.55 82.55 0 0 1 642.79 68.34M644.6 69.95A82.55 82.55 0 0 1 645.77 71.05M648.67 73.98A82.55 82.55 0 0 1 649.66 75.04M652.69 78.56A82.55 82.55 0 0 1 653.11 79.08M657.4 84.96A82.55 82.55 0 0 1 657.9 85.72M658.74 87.04A82.55 82.55 0 0 1 659.39 88.11M661.18 91.24A82.55 82.55 0 0 1 661.43 91.69M661.64 92.08A82.55 82.55 0 0 1 662.16 93.08M664.19 97.36A82.55 82.55 0 0 1 664.67 98.48M665.9 101.55A82.55 82.55 0 0 1 666.39 102.88M670.02 116.76A82.55 82.55 0 0 1 670.28 118.38M671.08 126.14A82.55 82.55 0 0 1 671.13 127.37M671.1 134.78A82.55 82.55 0 0 1 671.07 135.31M670.43 141.87A82.55 82.55 0 0 1 670.22 143.3M669.95 144.94A82.55 82.55 0 0 1 669.73 146.15M656.04 178.33A82.55 82.55 0 0 1 655.22 179.46M652.71 182.72A82.55 82.55 0 0 1 652.3 183.22M651.73 183.89A82.55 82.55 0 0 1 650.77 185.02M648.57 187.44A82.55 82.55 0 0 1 647.53 188.51M643.56 192.29A82.55 82.55 0 0 1 642.78 192.98M639.27 195.86A82.55 82.55 0 0 1 638.25 196.64M624.21 205.15A82.55 82.55 0 0 1 623.1 205.67M621.82 206.24A82.55 82.55 0 0 1 621.46 206.4M613.53 209.36A82.55 82.55 0 0 1 612.22 209.76M600.13 212.4A82.55 82.55 0 0 1 599.2 212.52M591.03 213.17A82.55 82.55 0 0 1 590.49 213.18M578.81 212.61A82.55 82.55 0 0 1 577.75 212.48M566.16 210.08A82.55 82.55 0 0 1 565.34 209.84M553.67 205.42A82.55 82.55 0 0 1 552.8 205.01M543.99 200.08A82.55 82.55 0 0 1 543.48 199.74M534.09 192.6A82.55 82.55 0 0 1 533.65 192.21M532.25 190.93A82.55 82.55 0 0 1 531.55 190.27M527 185.55A82.55 82.55 0 0 1 526.6 185.1M526.07 184.48A82.55 82.55 0 0 1 525.55 183.87M523.44 181.27A82.55 82.55 0 0 1 522.84 180.48M516.38 170.54A82.55 82.55 0 0 1 516.04 169.92M514.84 167.62A82.55 82.55 0 0 1 514.57 167.08M514 165.9A82.55 82.55 0 0 1 513.46 164.72M508.48 150.34A82.55 82.55 0 0 1 508.37 149.88M508.25 149.38A82.55 82.55 0 0 1 508 148.26M507.4 145.26A82.55 82.55 0 0 1 507.13 143.64M506.61 139.84A82.55 82.55 0 0 1 506.58 139.56M506.21 134.9A82.55 82.55 0 0 1 506.17 134.17M506.11 131.71A82.55 82.55 0 0 1 506.1 130.15M506.28 125.21A82.55 82.55 0 0 1 506.38 123.89M518.68 86.84A82.55 82.55 0 0 1 519.3 85.87M530.56 72A82.55 82.55 0 0 1 531.58 71M553.62 55.9A82.55 82.55 0 0 1 554.22 55.62M568.47 50.6A82.55 82.55 0 0 1 569.14 50.44M572.27 49.74A82.55 82.55 0 0 1 573.89 49.43M580.35 48.52A82.55 82.55 0 0 1 581.17 48.44M586.93 48.12A82.55 82.55 0 0 1 587.45 48.11" stroke="#555555" stroke-width="4.9" fill="none"/>
<path d="M589.93 48.11A82.55 82.55 0 0 1 591.25 48.14M597.11 48.53A82.55 82.55 0 0 1 598.51 48.69M605.47 49.83A82.55 82.55 0 0 1 606.75 50.11M614.41 52.22A82.55 82.55 0 0 1 615.8 52.69M620.02 54.29A82.55 82.55 0 0 1 621.12 54.76M625.51 56.79A82.55 82.55 0 0 1 626.1 57.08M635.01 62.35A82.55 82.55 0 0 1 635.85 62.93M636.94 63.7A82.55 82.55 0 0 1 637.4 64.03M640.08 66.08A82.55 82.55 0 0 1 640.89 66.73M646.92 72.18A82.55 82.55 0 0 1 647.64 72.9M650.04 75.46A82.55 82.55 0 0 1 650.74 76.25M655.17 81.77A82.55 82.55 0 0 1 655.96 82.86M662.66 94.08A82.55 82.55 0 0 1 662.86 94.49M663.14 95.08A82.55 82.55 0 0 1 663.77 96.42M667.13 105.05A82.55 82.55 0 0 1 667.26 105.46M667.39 105.87A82.55 82.55 0 0 1 667.63 106.64M667.83 107.29A82.55 82.55 0 0 1 668.12 108.31M668.36 109.18A82.55 82.55 0 0 1 668.6 110.11M668.83 111.02A82.55 82.55 0 0 1 668.95 111.49M669.65 114.74A82.55 82.55 0 0 1 669.92 116.19M670.66 121.2A82.55 82.55 0 0 1 670.73 121.84M670.92 123.82A82.55 82.55 0 0 1 670.99 124.79M671.02 125.23A82.55 82.55 0 0 1 671.05 125.69M671.17 128.26A82.55 82.55 0 0 1 671.18 128.94M671.01 136.26A82.55 82.55 0 0 1 670.98 136.63M670.95 137.09A82.55 82.55 0 0 1 670.86 138.1M669.42 147.69A82.55 82.55 0 0 1 669.08 149.23M668.92 149.91A82.55 82.55 0 0 1 668.6 151.2M666.89 156.98A82.55 82.55 0 0 1 666.77 157.33M665.81 159.99A82.55 82.55 0 0 1 665.42 161.01M665.25 161.43A82.55 82.55 0 0 1 664.66 162.85M663.42 165.63A82.55 82.55 0 0 1 663.07 166.38M662.39 167.75A82.55 82.55 0 0 1 661.82 168.86M658.85 174.08A82.55 82.55 0 0 1 657.98 175.45M654.8 180.03A82.55 82.55 0 0 1 654.5 180.43M646.24 189.79A82.55 82.55 0 0 1 645.58 190.43M644.95 191.02A82.55 82.55 0 0 1 644.5 191.43M634.23 199.48A82.55 82.55 0 0 1 633.19 200.15M632.21 200.77A82.55 82.55 0 0 1 631.45 201.24M626.87 203.82A82.55 82.55 0 0 1 626.36 204.09M615.5 208.71A82.55 82.55 0 0 1 614.97 208.89M611.66 209.93A82.55 82.55 0 0 1 610.67 210.21M602.37 212.05A82.55 82.55 0 0 1 601.44 212.2M595.25 212.94A82.55 82.55 0 0 1 594.54 212.99M589.63 213.19A82.55 82.55 0 0 1 588.36 213.2M585.95 213.16A82.55 82.55 0 0 1 585.09 213.12M583.62 213.05A82.55 82.55 0 0 1 582.77 212.99M576.77 212.34A82.55 82.55 0 0 1 575.85 212.2M571.85 211.47A82.55 82.55 0 0 1 570.26 211.13M568.76 210.77A82.55 82.55 0 0 1 567.71 210.5M562.46 208.94A82.55 82.55 0 0 1 561.81 208.72M559.29 207.8A82.55 82.55 0 0 1 558.01 207.3M556.77 206.8A82.55 82.55 0 0 1 556.2 206.56M555.14 206.09A82.55 82.55 0 0 1 554.66 205.88M550.64 203.93A82.55 82.55 0 0 1 549.22 203.17M548.02 202.51A82.55 82.55 0 0 1 546.63 201.7M543.07 199.47A82.55 82.55 0 0 1 541.85 198.65M537.79 195.67A82.55 82.55 0 0 1 536.68 194.79M531 189.73A82.55 82.55 0 0 1 529.98 188.72M528.25 186.92A82.55 82.55 0 0 1 527.67 186.29M524.85 183.04A82.55 82.55 0 0 1 523.86 181.8M515.73 169.34A82.55 82.55 0 0 1 515.44 168.8M512.28 161.99A82.55 82.55 0 0 1 511.8 160.8M511.55 160.14A82.55 82.55 0 0 1 511.17 159.13M510.77 158.01A82.55 82.55 0 0 1 510.6 157.54M509.48 154.03A82.55 82.55 0 0 1 509.24 153.19M508.94 152.12A82.55 82.55 0 0 1 508.83 151.71M506.96 142.56A82.55 82.55 0 0 1 506.81 141.42M506.44 138.15A82.55 82.55 0 0 1 506.39 137.59M506.11 129.24A82.55 82.55 0 0 1 506.13 128.59M506.18 127.05A82.55 82.55 0 0 1 506.2 126.6M507.21 117.15A82.55 82.55 0 0 1 507.33 116.48M507.44 115.83A82.55 82.55 0 0 1 507.71 114.41M508.05 112.79A82.55 82.55 0 0 1 508.38 111.4M509.98 105.63A82.55 82.55 0 0 1 510.29 104.68M510.6 103.76A82.55 82.55 0 0 1 510.86 103.01M511.96 100.11A82.55 82.55 0 0 1 512.49 98.8M512.86 97.92A82.55 82.55 0 0 1 513.14 97.29M513.81 95.82A82.55 82.55 0 0 1 514.44 94.48M516.54 90.46A82.55 82.55 0 0 1 516.85 89.92M520.88 83.52A82.55 82.55 0 0 1 521.43 82.73M525.13 77.92A82.55 82.55 0 0 1 525.57 77.41M526.12 76.75A82.55 82.55 0 0 1 526.79 75.99M540.04 63.93A82.55 82.55 0 0 1 540.74 63.43M543.95 61.25A82.55 82.55 0 0 1 544.15 61.12M555.73 54.95A82.55 82.55 0 0 1 556.17 54.76M559.34 53.48A82.55 82.55 0 0 1 560.77 52.95M563.08 52.16A82.55 82.55 0 0 1 564.08 51.84M566.86 51.03A82.55 82.55 0 0 1 567.83 50.77M570.33 50.16A82.55 82.55 0 0 1 571.83 49.83M578.22 48.76A82.55 82.55 0 0 1 579.68 48.59M583.91 48.24A82.55 82.55 0 0 1 585.39 48.16" stroke="#0a0a0a" stroke-width="4.9" fill="none"/>
<path d="M607.57 50.3A82.55 82.55 0 0 1 608.83 50.6M639.59 65.69A82.55 82.55 0 0 1 640.6 66.5M663.54 95.93A82.55 82.55 0 0 1 664.08 97.11M670.61 120.81A82.55 82.55 0 0 1 670.76 122.1M668.45 151.79A82.55 82.55 0 0 1 668.1 153.05M654.82 180.01A82.55 82.55 0 0 1 654.04 181.04M634.57 199.25A82.55 82.55 0 0 1 633.48 199.96M612.76 209.6A82.55 82.55 0 0 1 611.52 209.97M588.17 213.2A82.55 82.55 0 0 1 586.87 213.18M566.31 210.12A82.55 82.55 0 0 1 565.07 209.76M543.88 200A82.55 82.55 0 0 1 542.79 199.29M528.69 187.39A82.55 82.55 0 0 1 527.81 186.44M517.1 171.82A82.55 82.55 0 0 1 516.46 170.69M517.37 172.29A82.55 82.55 0 0 1 517.05 171.73M509.47 154A82.55 82.55 0 0 1 509.11 152.75M509.62 154.5A82.55 82.55 0 0 1 509.44 153.88M506.26 135.77A82.55 82.55 0 0 1 506.19 134.47M506.32 136.64A82.55 82.55 0 0 1 506.27 136M507.47 115.7A82.55 82.55 0 0 1 507.71 114.42M511 102.63A82.55 82.55 0 0 1 511.45 101.41M516.35 90.8A82.55 82.55 0 0 1 516.99 89.67M524.82 78.3A82.55 82.55 0 0 1 525.65 77.31M532.23 70.39A82.55 82.55 0 0 1 533.18 69.51M539.16 64.58A82.55 82.55 0 0 1 540.21 63.81M539.21 64.55A82.55 82.55 0 0 1 539.73 64.16M546.78 59.51A82.55 82.55 0 0 1 547.9 58.86M546.64 59.59A82.55 82.55 0 0 1 547.2 59.26M561.8 52.59A82.55 82.55 0 0 1 563.03 52.18M579.51 48.61A82.55 82.55 0 0 1 580.8 48.47" stroke="#ee1c24" stroke-width="4.9" fill="none"/>
<path d="M517.77 172.97A82.55 82.55 0 0 1 517.41 172.35M516.97 171.6A82.55 82.55 0 0 1 516.69 171.1M509.85 155.26A82.55 82.55 0 0 1 509.64 154.57M509.39 153.74A82.55 82.55 0 0 1 509.24 153.19M506.38 137.43A82.55 82.55 0 0 1 506.32 136.72M506.26 135.85A82.55 82.55 0 0 1 506.23 135.28M538.57 65.02A82.55 82.55 0 0 1 539.15 64.59M539.84 64.07A82.55 82.55 0 0 1 540.31 63.73M545.96 60A82.55 82.55 0 0 1 546.58 59.63M547.32 59.19A82.55 82.55 0 0 1 547.82 58.9" stroke="#4a7fc0" stroke-width="4.9" fill="none"/>
<path d="M588.86 50.55A80.1 80.1 0 0 1 625.33 59.44M588.87 45.65A85 85 0 0 1 627.57 55.09M588.86 50.55L588.87 45.65M625.33 59.44L627.57 55.09M626.54 60.08A80.1 80.1 0 0 1 654.01 84.35M628.86 55.76A85 85 0 0 1 658.01 81.51M626.54 60.08L628.86 55.76M654.01 84.35L658.01 81.51M654.79 85.47A80.1 80.1 0 0 1 666.77 112.93M658.84 82.71A85 85 0 0 1 671.54 111.85M654.79 85.47L658.84 82.71M666.77 112.93L671.54 111.85M667.06 114.27A80.1 80.1 0 0 1 667.77 143.17M671.85 113.27A85 85 0 0 1 672.61 143.93M667.06 114.27L671.85 113.27M667.77 143.17L672.61 143.93M667.54 144.52A80.1 80.1 0 0 1 658.24 170.31M672.37 145.37A85 85 0 0 1 662.5 172.73M667.54 144.52L672.37 145.37M658.24 170.31L662.5 172.73M657.56 171.49A80.1 80.1 0 0 1 640.91 191.35M661.77 173.99A85 85 0 0 1 644.11 195.06M657.56 171.49L661.77 173.99M640.91 191.35L644.11 195.06M639.87 192.23A80.1 80.1 0 0 1 619.23 204.68M643 196A85 85 0 0 1 621.1 209.21M639.87 192.23L643 196M619.23 204.68L621.1 209.21M617.96 205.2A80.1 80.1 0 0 1 596.42 210.37M619.75 209.76A85 85 0 0 1 596.9 215.25M617.96 205.2L619.75 209.76M596.42 210.37L596.9 215.25M595.06 210.49A80.1 80.1 0 0 1 573.69 209.34M595.45 215.38A85 85 0 0 1 572.78 214.16M595.06 210.49L595.45 215.38M573.69 209.34L572.78 214.16M572.35 209.07A80.1 80.1 0 0 1 552.99 202.37M571.35 213.87A85 85 0 0 1 550.81 206.76M572.35 209.07L571.35 213.87M552.99 202.37L550.81 206.76M551.77 201.75A80.1 80.1 0 0 1 534.94 190.07M549.51 206.1A85 85 0 0 1 531.65 193.71M551.77 201.75L549.51 206.1M534.94 190.07L531.65 193.71M533.93 189.14A80.1 80.1 0 0 1 520.96 173.48M530.58 192.72A85 85 0 0 1 516.82 176.1M533.93 189.14L530.58 192.72M520.96 173.48L516.82 176.1M520.24 172.31A80.1 80.1 0 0 1 512.83 156.49M516.05 174.86A85 85 0 0 1 508.2 158.07M520.24 172.31L516.05 174.86M512.83 156.49L508.2 158.07M512.4 155.19A80.1 80.1 0 0 1 509.02 139.29M507.74 156.69A85 85 0 0 1 504.15 139.82M512.4 155.19L507.74 156.69M509.02 139.29L504.15 139.82M508.88 137.93A80.1 80.1 0 0 1 508.97 122.43M504 138.38A85 85 0 0 1 504.1 121.93M508.88 137.93L504 138.38M508.97 122.43L504.1 121.93M509.12 121.07A80.1 80.1 0 0 1 511.91 107.68M504.26 120.48A85 85 0 0 1 507.22 106.27M509.12 121.07L504.26 120.48M511.91 107.68L507.22 106.27M512.32 106.37A80.1 80.1 0 0 1 516.94 94.95M507.65 104.88A85 85 0 0 1 512.56 92.77M512.32 106.37L507.65 104.88M516.94 94.95L512.56 92.77M517.56 93.73A80.1 80.1 0 0 1 523.79 83.64M513.22 91.48A85 85 0 0 1 519.83 80.77M517.56 93.73L513.22 91.48M523.79 83.64L519.83 80.77M524.61 82.54A80.1 80.1 0 0 1 530.39 75.68M520.69 79.6A85 85 0 0 1 526.83 72.32M524.61 82.54L520.69 79.6M530.39 75.68L526.83 72.32M531.34 74.69A80.1 80.1 0 0 1 538.43 68.25M527.83 71.27A85 85 0 0 1 535.36 64.43M531.34 74.69L527.83 71.27M538.43 68.25L535.36 64.43M539.51 67.4A80.1 80.1 0 0 1 545.47 63.18M536.5 63.53A85 85 0 0 1 542.83 59.06M539.51 67.4L536.5 63.53M545.47 63.18L542.83 59.06M546.63 62.46A80.1 80.1 0 0 1 553.43 58.71M544.06 58.28A85 85 0 0 1 551.27 54.31M546.63 62.46L544.06 58.28M553.43 58.71L551.27 54.31M554.66 58.12A80.1 80.1 0 0 1 577.18 51.38M552.58 53.68A85 85 0 0 1 576.47 46.53M554.66 58.12L552.58 53.68M577.18 51.38L576.47 46.53M578.53 51.19A80.1 80.1 0 0 1 587.49 50.56M577.91 46.33A85 85 0 0 1 587.41 45.66M578.53 51.19L577.91 46.33M587.49 50.56L587.41 45.66" stroke="#222" stroke-width="0.3" fill="none"/>
<path d="M588.71 54.4A76.25 76.25 0 0 1 623.68 62.93M624.6 63.41A76.25 76.25 0 0 1 650.95 86.68M651.54 87.53A76.25 76.25 0 0 1 663.04 113.91M663.26 114.93A76.25 76.25 0 0 1 663.94 142.7M663.77 143.72A76.25 76.25 0 0 1 654.83 168.52M654.31 169.41A76.25 76.25 0 0 1 638.3 188.52M637.51 189.19A76.25 76.25 0 0 1 617.63 201.18M616.67 201.56A76.25 76.25 0 0 1 595.92 206.55M594.88 206.64A76.25 76.25 0 0 1 574.28 205.53M573.26 205.33A76.25 76.25 0 0 1 554.58 198.87M553.66 198.4A76.25 76.25 0 0 1 537.42 187.13M536.66 186.42A76.25 76.25 0 0 1 524.14 171.3M523.6 170.42A76.25 76.25 0 0 1 516.43 155.12M516.11 154.14A76.25 76.25 0 0 1 512.83 138.74M512.73 137.71A76.25 76.25 0 0 1 512.82 122.69M512.93 121.66A76.25 76.25 0 0 1 515.64 108.65M515.95 107.66A76.25 76.25 0 0 1 520.45 96.55M520.92 95.63A76.25 76.25 0 0 1 526.99 85.79M527.61 84.96A76.25 76.25 0 0 1 533.28 78.22M534 77.48A76.25 76.25 0 0 1 540.95 71.16M541.76 70.52A76.25 76.25 0 0 1 547.66 66.36M548.54 65.8A76.25 76.25 0 0 1 555.24 62.11M556.17 61.66A76.25 76.25 0 0 1 577.86 55.17M578.89 55.03A76.25 76.25 0 0 1 587.67 54.41" stroke="#e6d5b6" stroke-width="4.4" fill="none"/>
<path d="M588.71 56.6A74.05 74.05 0 0 1 622.67 64.88M588.71 52.2A78.45 78.45 0 0 1 624.7 60.97M588.71 56.6L588.71 52.2M622.67 64.88L624.7 60.97M623.57 65.35A74.05 74.05 0 0 1 649.15 87.95M625.64 61.47A78.45 78.45 0 0 1 652.74 85.41M623.57 65.35L625.64 61.47M649.15 87.95L652.74 85.41M649.72 88.78A74.05 74.05 0 0 1 660.89 114.4M653.35 86.29A78.45 78.45 0 0 1 665.19 113.43M649.72 88.78L653.35 86.29M660.89 114.4L665.19 113.43M661.11 115.38A74.05 74.05 0 0 1 661.77 142.35M665.41 114.47A78.45 78.45 0 0 1 666.11 143.05M661.11 115.38L665.41 114.47M661.77 142.35L666.11 143.05M661.6 143.35A74.05 74.05 0 0 1 652.92 167.42M665.94 144.1A78.45 78.45 0 0 1 656.74 169.61M661.6 143.35L665.94 144.1M652.92 167.42L656.74 169.61M652.42 168.29A74.05 74.05 0 0 1 636.87 186.85M656.21 170.53A78.45 78.45 0 0 1 639.73 190.19M652.42 168.29L656.21 170.53M636.87 186.85L639.73 190.19M636.1 187.5A74.05 74.05 0 0 1 616.8 199.14M638.92 190.88A78.45 78.45 0 0 1 618.47 203.21M636.1 187.5L638.92 190.88M616.8 199.14L618.47 203.21M615.86 199.52A74.05 74.05 0 0 1 595.71 204.36M617.48 203.61A78.45 78.45 0 0 1 596.13 208.74M615.86 199.52L617.48 203.61M595.71 204.36L596.13 208.74M594.7 204.45A74.05 74.05 0 0 1 574.7 203.37M595.06 208.84A78.45 78.45 0 0 1 573.87 207.69M594.7 204.45L595.06 208.84M574.7 203.37L573.87 207.69M573.71 203.18A74.05 74.05 0 0 1 555.57 196.9M572.82 207.49A78.45 78.45 0 0 1 553.6 200.84M573.71 203.18L572.82 207.49M555.57 196.9L553.6 200.84M554.67 196.44A74.05 74.05 0 0 1 538.9 185.5M552.65 200.35A78.45 78.45 0 0 1 535.94 188.75M554.67 196.44L552.65 200.35M538.9 185.5L535.94 188.75M538.16 184.81A74.05 74.05 0 0 1 526 170.13M535.16 188.03A78.45 78.45 0 0 1 522.28 172.48M538.16 184.81L535.16 188.03M526 170.13L522.28 172.48M525.47 169.28A74.05 74.05 0 0 1 518.52 154.42M521.72 171.57A78.45 78.45 0 0 1 514.35 155.83M525.47 169.28L521.72 171.57M518.52 154.42L514.35 155.83M518.2 153.46A74.05 74.05 0 0 1 515.02 138.51M514.02 154.82A78.45 78.45 0 0 1 510.64 138.98M518.2 153.46L514.02 154.82M515.02 138.51L510.64 138.98M514.92 137.51A74.05 74.05 0 0 1 515 122.92M510.54 137.92A78.45 78.45 0 0 1 510.63 122.46M514.92 137.51L510.54 137.92M515 122.92L510.63 122.46M515.12 121.92A74.05 74.05 0 0 1 517.75 109.29M510.75 121.4A78.45 78.45 0 0 1 513.54 108.02M515.12 121.92L510.75 121.4M517.75 109.29L513.54 108.02M518.05 108.33A74.05 74.05 0 0 1 522.42 97.54M513.85 107A78.45 78.45 0 0 1 518.48 95.57M518.05 108.33L513.85 107M522.42 97.54L518.48 95.57M522.87 96.64A74.05 74.05 0 0 1 528.77 87.09M518.97 94.62A78.45 78.45 0 0 1 525.21 84.5M522.87 96.64L518.97 94.62M528.77 87.09L525.21 84.5M529.37 86.28A74.05 74.05 0 0 1 534.88 79.74M525.84 83.64A78.45 78.45 0 0 1 531.69 76.71M529.37 86.28L525.84 83.64M534.88 79.74L531.69 76.71M535.58 79.01A74.05 74.05 0 0 1 542.33 72.88M532.42 75.94A78.45 78.45 0 0 1 539.57 69.45M535.58 79.01L532.42 75.94M542.33 72.88L539.57 69.45M543.12 72.25A74.05 74.05 0 0 1 548.84 68.21M540.41 68.78A78.45 78.45 0 0 1 546.48 64.5M543.12 72.25L540.41 68.78M548.84 68.21L546.48 64.5M549.69 67.67A74.05 74.05 0 0 1 556.2 64.09M547.38 63.93A78.45 78.45 0 0 1 554.27 60.13M549.69 67.67L547.38 63.93M556.2 64.09L554.27 60.13M557.11 63.65A74.05 74.05 0 0 1 578.17 57.35M555.24 59.67A78.45 78.45 0 0 1 577.55 52.99M557.11 63.65L555.24 59.67M578.17 57.35L577.55 52.99M579.17 57.21A74.05 74.05 0 0 1 587.7 56.61M578.61 52.85A78.45 78.45 0 0 1 587.65 52.21M579.17 57.21L578.61 52.85M587.7 56.61L587.65 52.21" stroke="#6a6a6a" stroke-width="0.3" fill="none"/>
<path d="M591.63 56.91L591.57 58.51L591.49 60.51L591.44 61.71M620.25 63.96L619.57 65.41L617.13 66.48L616.64 67.58M621.2 64.41L620.49 65.85L619.13 67.41L618.61 68.49M621.98 64.8L621.26 66.23L621.1 68.4L620.54 69.46M624.46 66.12L623.68 67.52L623.04 69.45L622.45 70.5M626.53 67.31L625.7 68.68L624.94 70.56L624.32 71.59M628.27 68.38L627.41 69.73L626.82 71.73L626.16 72.74M630.54 69.89L629.63 71.21L628.65 72.96L627.96 73.95M633.03 71.68L632.06 72.96L630.86 74.56L630.14 75.52M634.91 73.15L633.9 74.39L632.65 75.95L631.9 76.89M647.46 86.07L646.19 87.03L642.69 85.84L641.76 86.6M648.27 87.16L646.98 88.1L644.07 87.56L643.12 88.29M650.21 89.95L648.88 90.83L645.39 89.32L644.42 90.03M650.82 90.88L649.47 91.74L646.66 91.12L645.67 91.8M651.55 92.05L650.19 92.89L647.88 92.97L646.86 93.61M652.55 93.72L651.16 94.52L649.03 94.84L648 95.46M653.1 94.69L651.7 95.47L650.13 96.76L649.08 97.34M653.89 96.15L652.48 96.9L651.16 98.71L650.09 99.25M654.9 98.13L653.46 98.84L652.13 100.69L651.05 101.2M655.73 99.89L654.28 100.55L653.04 102.7L651.94 103.18M656.52 101.66L655.05 102.29L653.89 104.73L652.78 105.18M657.36 103.72L655.87 104.3L654.67 106.8L653.54 107.2M657.95 105.28L656.45 105.83L655.39 108.88L654.25 109.25M658.77 107.64L657.25 108.14L656.04 110.99L654.89 111.33M660.94 115.82L659.38 116.14L657.42 116.54L656.24 116.78M662.42 132.59L660.83 132.55L658.83 132.16L657.63 132.13M662.36 134.2L660.77 134.12L658.75 134.36L657.55 134.3M662.14 137.4L660.55 137.26L658.56 137.07L657.36 136.96M657.64 156.87L656.14 156.3L654.77 154.23L653.64 153.83M656.99 158.52L655.5 157.92L654 156.3L652.88 155.86M656.19 160.39L654.73 159.74L653.16 158.34L652.06 157.87M655.35 162.24L653.9 161.55L652.26 160.35L651.17 159.84M654.68 163.61L653.25 162.89L651.29 162.34L650.22 161.79M653.99 164.96L652.57 164.22L650.27 164.29L649.21 163.71M653.27 166.3L651.87 165.53L649.18 166.21L648.14 165.6M642.35 181.28L641.18 180.18L640.35 178.14L639.47 177.32M641.35 182.31L640.21 181.19L638.83 179.74L637.98 178.9M639.99 183.67L638.88 182.52L637.27 181.29L636.43 180.43M638.6 184.98L637.51 183.8L635.65 182.79L634.85 181.9M628.66 192.67L627.79 191.32L628.41 188.5L627.73 187.52M627.15 193.61L626.31 192.25L626.57 189.73L625.92 188.72M625.61 194.53L624.81 193.14L624.7 190.89L624.08 189.86M624.45 195.19L623.67 193.79L622.79 191.99L622.2 190.94M622.88 196.03L622.14 194.61L620.84 193.03L620.29 191.97M621.29 196.84L620.58 195.4L618.87 194.01L618.35 192.93M619.68 197.61L619.01 196.16L616.86 194.93L616.38 193.83M618.05 198.34L617.42 196.87L614.83 195.79L614.38 194.67M609.85 201.34L609.39 199.81L608.94 197.85L608.59 196.71M607.88 201.9L607.46 200.36L606.82 198.46L606.51 197.3M604.9 202.64L604.55 201.08L604.11 199.13L603.84 197.96M601.89 203.25L601.6 201.68L601.25 199.71L601.03 198.53M598.86 203.74L598.64 202.16L598.36 200.17L598.2 198.99M591.59 204.39L591.53 202.79L591.45 200.79L591.4 199.6M588.63 204.45L588.63 202.85L588.63 200.85L588.63 199.65M585.66 204.39L585.73 202.79L585.81 200.79L585.86 199.59M582.7 204.21L582.83 202.62L582.99 200.62L583.09 199.43M579.17 203.84L579.37 202.25L579.63 200.27L579.78 199.08M576.43 203.43L576.69 201.85L577.02 199.88L577.22 198.7M570.86 202.27L571.25 200.72L571.73 198.78L572.02 197.62M568.12 201.54L568.57 200L569.12 198.08L569.46 196.93M564.52 200.39L565.04 198.88L565.69 196.99L566.08 195.86M550.54 193.85L551.37 192.48L552.57 190.87L553.19 189.84M548.93 192.85L549.79 191.5L550.7 189.71L551.35 188.7M541.3 187.26L542.33 186.03L543.61 184.5L544.38 183.58M532.28 178.28L533.5 177.25L535.03 175.96L535.95 175.18M527.1 171.37L528.43 170.49L530.1 169.38L531.1 168.72M514.95 134.5L516.55 134.42L518.55 134.32L519.74 134.25M514.85 130.93L516.45 130.92L518.45 131L519.65 130.99M514.87 128.79L516.47 128.83L518.47 128.79L519.67 128.82M515.54 120.57L517.13 120.79L519.11 121.06L520.3 121.23M515.93 118.08L517.51 118.35L519.48 118.69L520.66 118.9M516.53 114.98L518.1 115.32L520.05 115.75L521.22 116M517.27 111.91L518.82 112.32L520.75 112.83L521.91 113.13M520.04 103.47L521.53 104.05L523.39 104.79L524.5 105.23M521.6 99.81L523.06 100.48L524.87 101.32L525.96 101.82M524.46 94.23L525.85 95.02L527.59 96.01L528.63 96.6M530.15 85.67L531.41 86.64L532.72 88.22L533.68 88.95M531.17 84.37L532.41 85.37L534.08 86.49L535.01 87.24M532.76 82.46L533.97 83.5L535.5 84.79L536.41 85.58M534.13 80.91L535.31 81.99L536.96 83.15L537.85 83.96M537.73 77.23L538.84 78.39L540.22 79.83L541.04 80.7M540.35 74.85L541.39 76.06L542.7 77.57L543.49 78.48M552.4 66.37L553.19 67.76L554.17 69.5L554.76 70.55M561.32 62.1L561.91 63.58L561.44 65.94L561.91 67.04M563.35 61.32L563.9 62.82L563.49 65.11L563.92 66.24M565.4 60.61L565.91 62.12L565.56 64.36L565.95 65.49M567.06 60.08L567.53 61.61L567.65 63.66L568.01 64.81M568.52 59.65L568.96 61.19L569.77 63.04L570.09 64.19M570.2 59.19L570.6 60.74L571.9 62.48L572.19 63.64M572.1 58.73L572.46 60.29L574.05 61.98L574.3 63.16M573.8 58.36L574.12 59.93L576.22 61.56L576.43 62.74" stroke="#222" stroke-width="0.3" fill="none"/>
<g font-family="Liberation Sans" font-size="3.35" fill="#000">
<text x="591.42" y="62.21" text-anchor="end" transform="rotate(-87.68 591.42 62.21)" dy="1.15">NBL1</text>
<text x="616.44" y="68.04" text-anchor="end" transform="rotate(-66.07 616.44 68.04)" dy="1.15">ZBTB623</text>
<text x="618.39" y="68.94" text-anchor="end" transform="rotate(-64.27 618.39 68.94)" dy="1.15">KLF226</text>
<text x="620.31" y="69.91" text-anchor="end" transform="rotate(-62.47 620.31 69.91)" dy="1.15">ZBTB637</text>
<text x="622.21" y="70.93" text-anchor="end" transform="rotate(-60.67 622.21 70.93)" dy="1.15">ZFP696</text>
<text x="624.06" y="72.02" text-anchor="end" transform="rotate(-58.87 624.06 72.02)" dy="1.15">ZNF645</text>
<text x="625.89" y="73.16" text-anchor="end" transform="rotate(-57.07 625.89 73.16)" dy="1.15">ZNF644</text>
<text x="627.68" y="74.36" text-anchor="end" transform="rotate(-55.27 627.68 74.36)" dy="1.15">ZNF318</text>
<text x="629.84" y="75.92" text-anchor="end" transform="rotate(-53.04 629.84 75.92)" dy="1.15">PRDM36</text>
<text x="631.59" y="77.28" text-anchor="end" transform="rotate(-51.19 631.59 77.28)" dy="1.15">KLF751</text>
<text x="641.38" y="86.92" text-anchor="end" transform="rotate(-39.67 641.38 86.92)" dy="1.15">ZNF94</text>
<text x="642.73" y="88.6" text-anchor="end" transform="rotate(-37.87 642.73 88.6)" dy="1.15">ZFP336</text>
<text x="644.02" y="90.32" text-anchor="end" transform="rotate(-36.07 644.02 90.32)" dy="1.15">ZSCAN181</text>
<text x="645.26" y="92.08" text-anchor="end" transform="rotate(-34.27 645.26 92.08)" dy="1.15">ZBTB137</text>
<text x="646.44" y="93.88" text-anchor="end" transform="rotate(-32.47 646.44 93.88)" dy="1.15">KLF545</text>
<text x="647.57" y="95.71" text-anchor="end" transform="rotate(-30.67 647.57 95.71)" dy="1.15">ZFP852</text>
<text x="648.64" y="97.58" text-anchor="end" transform="rotate(-28.87 648.64 97.58)" dy="1.15">ZNF265</text>
<text x="649.65" y="99.48" text-anchor="end" transform="rotate(-27.07 649.65 99.48)" dy="1.15">PRDM827</text>
<text x="650.6" y="101.41" text-anchor="end" transform="rotate(-25.26 650.6 101.41)" dy="1.15">ZFP766</text>
<text x="651.49" y="103.37" text-anchor="end" transform="rotate(-23.46 651.49 103.37)" dy="1.15">KLF825</text>
<text x="652.31" y="105.36" text-anchor="end" transform="rotate(-21.66 652.31 105.36)" dy="1.15">ZNF481</text>
<text x="653.07" y="107.37" text-anchor="end" transform="rotate(-19.86 653.07 107.37)" dy="1.15">ZNF146</text>
<text x="653.77" y="109.41" text-anchor="end" transform="rotate(-18.06 653.77 109.41)" dy="1.15">ZBTB882</text>
<text x="654.41" y="111.47" text-anchor="end" transform="rotate(-16.26 654.41 111.47)" dy="1.15">ZSCAN868</text>
<text x="655.75" y="116.88" text-anchor="end" transform="rotate(-11.59 655.75 116.88)" dy="1.15">ZNF718</text>
<text x="657.13" y="132.12" text-anchor="end" transform="rotate(1.23 657.13 132.12)" dy="1.15">PRDM5</text>
<text x="657.05" y="134.27" text-anchor="end" transform="rotate(3.03 657.05 134.27)" dy="1.15">PRDM8</text>
<text x="656.86" y="136.92" text-anchor="end" transform="rotate(5.25 656.86 136.92)" dy="1.15">RBL3</text>
<text x="653.17" y="153.66" text-anchor="end" transform="rotate(19.63 653.17 153.66)" dy="1.15">KLF94</text>
<text x="652.41" y="155.68" text-anchor="end" transform="rotate(21.43 652.41 155.68)" dy="1.15">ZSCAN16</text>
<text x="651.6" y="157.67" text-anchor="end" transform="rotate(23.23 651.6 157.67)" dy="1.15">ZFP551</text>
<text x="650.72" y="159.63" text-anchor="end" transform="rotate(25.03 650.72 159.63)" dy="1.15">ZNF467</text>
<text x="649.77" y="161.57" text-anchor="end" transform="rotate(26.83 649.77 161.57)" dy="1.15">KLF690</text>
<text x="648.77" y="163.47" text-anchor="end" transform="rotate(28.63 648.77 163.47)" dy="1.15">ZFP600</text>
<text x="647.71" y="165.35" text-anchor="end" transform="rotate(30.43 647.71 165.35)" dy="1.15">ZSCAN844</text>
<text x="639.1" y="176.99" text-anchor="end" transform="rotate(42.57 639.1 176.99)" dy="1.15">PLAGL1</text>
<text x="637.62" y="178.55" text-anchor="end" transform="rotate(44.37 637.62 178.55)" dy="1.15">ZBTB2</text>
<text x="636.09" y="180.06" text-anchor="end" transform="rotate(46.17 636.09 180.06)" dy="1.15">ZC3H12D</text>
<text x="634.51" y="181.53" text-anchor="end" transform="rotate(47.97 634.51 181.53)" dy="1.15">ZNF451</text>
<text x="627.45" y="187.1" text-anchor="end" transform="rotate(55.5 627.45 187.1)" dy="1.15">KLF112</text>
<text x="625.65" y="188.29" text-anchor="end" transform="rotate(57.3 625.65 188.29)" dy="1.15">ZBTB484</text>
<text x="623.83" y="189.43" text-anchor="end" transform="rotate(59.1 623.83 189.43)" dy="1.15">ZNF636</text>
<text x="621.96" y="190.5" text-anchor="end" transform="rotate(60.9 621.96 190.5)" dy="1.15">KLF626</text>
<text x="620.06" y="191.52" text-anchor="end" transform="rotate(62.7 620.06 191.52)" dy="1.15">ZBTB665</text>
<text x="618.14" y="192.48" text-anchor="end" transform="rotate(64.5 618.14 192.48)" dy="1.15">ZNF652</text>
<text x="616.18" y="193.38" text-anchor="end" transform="rotate(66.3 616.18 193.38)" dy="1.15">PRDM719</text>
<text x="614.19" y="194.21" text-anchor="end" transform="rotate(68.11 614.19 194.21)" dy="1.15">ZFP666</text>
<text x="608.45" y="196.23" text-anchor="end" transform="rotate(73.2 608.45 196.23)" dy="1.15">ZSCAN121</text>
<text x="606.38" y="196.82" text-anchor="end" transform="rotate(75 606.38 196.82)" dy="1.15">ZNF48</text>
<text x="603.73" y="197.47" text-anchor="end" transform="rotate(77.28 603.73 197.47)" dy="1.15">ZNF313</text>
<text x="600.94" y="198.04" text-anchor="end" transform="rotate(79.66 600.94 198.04)" dy="1.15">PRDM120</text>
<text x="598.13" y="198.49" text-anchor="end" transform="rotate(82.05 598.13 198.49)" dy="1.15">ZNF242</text>
<text x="591.38" y="199.1" text-anchor="end" transform="rotate(87.71 591.38 199.1)" dy="1.15">ZNF399</text>
<text x="588.63" y="199.15" text-anchor="start" transform="rotate(-89.98 588.63 199.15)" dy="1.15">PRDM381</text>
<text x="585.88" y="199.09" text-anchor="start" transform="rotate(-87.68 585.88 199.09)" dy="1.15">ZSCAN603</text>
<text x="583.13" y="198.93" text-anchor="start" transform="rotate(-85.38 583.13 198.93)" dy="1.15">ZNF426</text>
<text x="579.85" y="198.58" text-anchor="start" transform="rotate(-82.62 579.85 198.58)" dy="1.15">ZNF855</text>
<text x="577.31" y="198.2" text-anchor="start" transform="rotate(-80.47 577.31 198.2)" dy="1.15">PRDM632</text>
<text x="572.14" y="197.13" text-anchor="start" transform="rotate(-76.06 572.14 197.13)" dy="1.15">ZNF33A</text>
<text x="569.6" y="196.45" text-anchor="start" transform="rotate(-73.85 569.6 196.45)" dy="1.15">KLF6</text>
<text x="566.25" y="195.38" text-anchor="start" transform="rotate(-70.91 566.25 195.38)" dy="1.15">ZNF37A</text>
<text x="553.45" y="189.41" text-anchor="start" transform="rotate(-59.08 553.45 189.41)" dy="1.15">KLF3</text>
<text x="551.62" y="188.28" text-anchor="start" transform="rotate(-57.27 551.62 188.28)" dy="1.15">ZNF214</text>
<text x="544.7" y="183.19" text-anchor="start" transform="rotate(-50.09 544.7 183.19)" dy="1.15">ZC3H12C</text>
<text x="536.33" y="174.86" text-anchor="start" transform="rotate(-40.2 536.33 174.86)" dy="1.15">GLI1</text>
<text x="531.52" y="168.45" text-anchor="start" transform="rotate(-33.49 531.52 168.45)" dy="1.15">RNF10</text>
<text x="520.24" y="134.23" text-anchor="start" transform="rotate(-2.99 520.24 134.23)" dy="1.15">PYGO1</text>
<text x="520.15" y="130.99" text-anchor="start" transform="rotate(-0.29 520.15 130.99)" dy="1.15">ZNF592</text>
<text x="520.17" y="128.84" text-anchor="start" transform="rotate(1.52 520.17 128.84)" dy="1.15">MAZ</text>
<text x="520.79" y="121.3" text-anchor="start" transform="rotate(7.85 520.79 121.3)" dy="1.15">ZNF75A</text>
<text x="521.15" y="118.98" text-anchor="start" transform="rotate(9.81 521.15 118.98)" dy="1.15">SALL1</text>
<text x="521.71" y="116.11" text-anchor="start" transform="rotate(12.26 521.71 116.11)" dy="1.15">ZFPM1</text>
<text x="522.39" y="113.26" text-anchor="start" transform="rotate(14.71 522.39 113.26)" dy="1.15">ZNF423</text>
<text x="524.97" y="105.42" text-anchor="start" transform="rotate(21.61 524.97 105.42)" dy="1.15">IKZF3</text>
<text x="526.42" y="102.03" text-anchor="start" transform="rotate(24.7 526.42 102.03)" dy="1.15">ZNF750</text>
<text x="529.07" y="96.85" text-anchor="start" transform="rotate(29.57 529.07 96.85)" dy="1.15">GATA6</text>
<text x="534.08" y="89.25" text-anchor="start" transform="rotate(37.18 534.08 89.25)" dy="1.15">ZNF57</text>
<text x="535.4" y="87.56" text-anchor="start" transform="rotate(38.98 535.4 87.56)" dy="1.15">KLF1</text>
<text x="536.78" y="85.9" text-anchor="start" transform="rotate(40.79 536.78 85.9)" dy="1.15">ZNF536</text>
<text x="538.22" y="84.3" text-anchor="start" transform="rotate(42.59 538.22 84.3)" dy="1.15">ZNF677</text>
<text x="541.39" y="81.07" text-anchor="start" transform="rotate(46.37 541.39 81.07)" dy="1.15">ZNF217</text>
<text x="543.82" y="78.86" text-anchor="start" transform="rotate(49.12 543.82 78.86)" dy="1.15">SALL4</text>
<text x="555" y="70.98" text-anchor="start" transform="rotate(60.58 555 70.98)" dy="1.15">ARVCF</text>
<text x="562.1" y="67.5" text-anchor="start" transform="rotate(67.19 562.1 67.5)" dy="1.15">ZSCAN288</text>
<text x="564.1" y="66.7" text-anchor="start" transform="rotate(69 564.1 66.7)" dy="1.15">ZNF708</text>
<text x="566.12" y="65.96" text-anchor="start" transform="rotate(70.8 566.12 65.96)" dy="1.15">KLF224</text>
<text x="568.16" y="65.29" text-anchor="start" transform="rotate(72.6 568.16 65.29)" dy="1.15">PRDM457</text>
<text x="570.23" y="64.67" text-anchor="start" transform="rotate(74.4 570.23 64.67)" dy="1.15">ZBTB877</text>
<text x="572.31" y="64.13" text-anchor="start" transform="rotate(76.2 572.31 64.13)" dy="1.15">KLF103</text>
<text x="574.41" y="63.65" text-anchor="start" transform="rotate(78 574.41 63.65)" dy="1.15">KLF559</text>
<text x="576.52" y="63.23" text-anchor="start" transform="rotate(79.8 576.52 63.23)" dy="1.15">KLF64</text>
</g>
<g fill="#ee1c24"><circle cx="591.3" cy="55.37" r="0.5"/><circle cx="623.18" cy="61.82" r="0.5"/><circle cx="628.42" cy="64.75" r="0.5"/><circle cx="630.73" cy="65.5" r="0.5"/><circle cx="635.03" cy="69.18" r="0.5"/><circle cx="650.5" cy="86.12" r="0.5"/><circle cx="652.03" cy="90.36" r="0.5"/><circle cx="652.77" cy="91.46" r="0.5"/><circle cx="658.7" cy="98.41" r="0.5"/><circle cx="658.14" cy="100.69" r="0.5"/><circle cx="659.23" cy="105.08" r="0.5"/><circle cx="665.95" cy="133.88" r="0.5"/><circle cx="660.83" cy="157.93" r="0.5"/><circle cx="656.55" cy="166.82" r="0.5"/><circle cx="639.64" cy="185.58" r="0.5"/><circle cx="627.84" cy="195.26" r="0.5"/><circle cx="620.25" cy="198.82" r="0.5"/><circle cx="609.25" cy="205.07" r="0.5"/><circle cx="585.76" cy="206.26" r="0.5"/><circle cx="578.92" cy="207.01" r="0.5"/><circle cx="569.95" cy="204.82" r="0.5"/><circle cx="567.25" cy="204.58" r="0.5"/><circle cx="512.33" cy="119.96" r="0.5"/><circle cx="513.68" cy="114.87" r="0.5"/><circle cx="521.97" cy="93.02" r="0.5"/><circle cx="530.51" cy="81.03" r="0.5"/><circle cx="536.95" cy="76.1" r="0.5"/><circle cx="550.99" cy="63.86" r="0.5"/><circle cx="559.96" cy="58.71" r="0.5"/><circle cx="562.26" cy="58.31" r="0.5"/><circle cx="570.02" cy="57.68" r="0.5"/><circle cx="573.62" cy="56.33" r="0.5"/></g>
<g fill="#111"><circle cx="621.9" cy="64.21" r="0.42"/><circle cx="624.91" cy="65.8" r="0.42"/><circle cx="630.58" cy="69.32" r="0.42"/><circle cx="635.08" cy="68.35" r="0.42"/><circle cx="650.57" cy="83.72" r="0.42"/><circle cx="651.4" cy="84.83" r="0.42"/><circle cx="653.62" cy="88.03" r="0.42"/><circle cx="651.16" cy="90.49" r="0.42"/><circle cx="655.91" cy="91.74" r="0.42"/><circle cx="653.67" cy="94.69" r="0.42"/><circle cx="658.54" cy="96.7" r="0.42"/><circle cx="657.92" cy="103.78" r="0.42"/><circle cx="661.42" cy="115.65" r="0.42"/><circle cx="666.27" cy="134.26" r="0.42"/><circle cx="666.04" cy="137.54" r="0.42"/><circle cx="658.34" cy="165" r="0.42"/><circle cx="654.3" cy="165.45" r="0.42"/><circle cx="653.61" cy="166.71" r="0.42"/><circle cx="642.78" cy="181.55" r="0.42"/><circle cx="644.01" cy="185.17" r="0.42"/><circle cx="630.78" cy="195.94" r="0.42"/><circle cx="629.45" cy="196.78" r="0.42"/><circle cx="624.76" cy="195.58" r="0.42"/><circle cx="624.37" cy="199.65" r="0.42"/><circle cx="619.98" cy="198.02" r="0.42"/><circle cx="607.74" cy="202.46" r="0.42"/><circle cx="602.05" cy="203.73" r="0.42"/><circle cx="599.13" cy="207.64" r="0.42"/><circle cx="591.81" cy="204.88" r="0.42"/><circle cx="585.97" cy="204.9" r="0.42"/><circle cx="576.62" cy="203.97" r="0.42"/><circle cx="562.96" cy="203.98" r="0.42"/><circle cx="550.3" cy="194.29" r="0.42"/><circle cx="541.1" cy="187.74" r="0.42"/><circle cx="529.52" cy="181.06" r="0.42"/><circle cx="511.68" cy="120.04" r="0.42"/><circle cx="512.15" cy="117.03" r="0.42"/><circle cx="516.38" cy="102.11" r="0.42"/><circle cx="520.98" cy="92.46" r="0.42"/><circle cx="529.61" cy="80.14" r="0.42"/><circle cx="531.33" cy="78.2" r="0.42"/><circle cx="550.26" cy="63.1" r="0.42"/><circle cx="560.89" cy="61.73" r="0.42"/></g>
<g font-family="Liberation Sans" font-size="6.4" fill="#111">
<text x="610.39" y="41.46" text-anchor="start" transform="rotate(-76.3 610.39 41.46)" dy="2.25">1</text>
<text x="649.43" y="61.85" text-anchor="start" transform="rotate(-48.54 649.43 61.85)" dy="2.25">2</text>
<text x="672.8" y="93.96" text-anchor="start" transform="rotate(-23.56 672.8 93.96)" dy="2.25">3</text>
<text x="680.42" y="128.4" text-anchor="start" transform="rotate(-1.4 680.42 128.4)" dy="2.25">4</text>
<text x="675.01" y="161.78" text-anchor="start" transform="rotate(19.82 675.01 161.78)" dy="2.25">5</text>
<text x="659.01" y="189.61" text-anchor="start" transform="rotate(39.96 659.01 189.61)" dy="2.25">6</text>
<text x="636.06" y="209.26" text-anchor="start" transform="rotate(58.9 636.06 209.26)" dy="2.25">7</text>
<text x="610.1" y="219.91" text-anchor="start" transform="rotate(76.49 610.1 219.91)" dy="2.25">8</text>
<text x="583.71" y="222.32" text-anchor="end" transform="rotate(-86.91 583.71 222.32)" dy="2.25">9</text>
<text x="558.63" y="217.4" text-anchor="end" transform="rotate(-70.91 558.63 217.4)" dy="2.25">10</text>
<text x="536.31" y="206.06" text-anchor="end" transform="rotate(-55.24 536.31 206.06)" dy="2.25">11</text>
<text x="517.93" y="189.18" text-anchor="end" transform="rotate(-39.61 517.93 189.18)" dy="2.25">12</text>
<text x="505.51" y="169.56" text-anchor="end" transform="rotate(-25.08 505.51 169.56)" dy="2.25">13</text>
<text x="498.86" y="149.76" text-anchor="end" transform="rotate(-12.02 498.86 149.76)" dy="2.25">14</text>
<text x="496.85" y="130.11" text-anchor="end" transform="rotate(0.34 496.85 130.11)" dy="2.25">15</text>
<text x="498.78" y="111.93" text-anchor="end" transform="rotate(11.77 498.78 111.93)" dy="2.25">16</text>
<text x="503.57" y="96.18" text-anchor="end" transform="rotate(22.06 503.57 96.18)" dy="2.25">17</text>
<text x="510.54" y="82.43" text-anchor="end" transform="rotate(31.69 510.54 82.43)" dy="2.25">18</text>
<text x="518.46" y="71.49" text-anchor="end" transform="rotate(40.13 518.46 71.49)" dy="2.25">19</text>
<text x="526.92" y="62.7" text-anchor="end" transform="rotate(47.75 526.92 62.7)" dy="2.25">20</text>
<text x="535.69" y="55.67" text-anchor="end" transform="rotate(54.77 535.69 55.67)" dy="2.25">21</text>
<text x="544.33" y="50.25" text-anchor="end" transform="rotate(61.14 544.33 50.25)" dy="2.25">22</text>
<text x="562.31" y="42.71" text-anchor="end" transform="rotate(73.33 562.31 42.71)" dy="2.25">X</text>
<text x="582.18" y="39.08" text-anchor="end" transform="rotate(85.96 582.18 39.08)" dy="2.25">Y</text>
</g>
</g>
<g id="panel_d">
<text x="146.4" y="252.9" font-size="9.5" text-anchor="middle" transform="rotate(0.03 146.4 252.9)">consensus matrix k=3</text>
<rect x="62.9" y="306.9" width="63.1" height="6.8" fill="#1f78b4"/>
<rect x="126" y="306.9" width="32.7" height="6.8" fill="#b2df8a"/>
<rect x="158.7" y="306.9" width="58.4" height="6.8" fill="#a6cee3"/>
<rect x="159.7" y="316.1" width="57.4" height="57.1" fill="#c5613c"/>
<rect x="62.9" y="407.3" width="62.3" height="62.7" fill="#c5613c"/>
<rect x="126.6" y="374.2" width="32" height="33" fill="#c5613c"/>
<path d="M126.6 378.3H158.6M154.9 374.2V407.2" stroke="#fff" stroke-width="0.55" fill="none"/>
<path d="M126.6 376.4H158.6M157 374.2V407.2" stroke="#fff" stroke-width="0.3" fill="none"/>
<path d="M159.7 374.6H217.1M159.7 376.2H217.1M176 378.4H217.1" stroke="#c5613c" stroke-width="0.7" stroke-dasharray="9 0.6 14 0.4 5 0.8" fill="none"/>
<path d="M159.7 379.3H217.1" stroke="#c5613c" stroke-width="0.4" stroke-opacity="0.6" fill="none"/>
<path d="M154.6 316.1V373.5M156.3 316.1V373.5M157.8 316.1V373.5" stroke="#c5613c" stroke-width="0.7" stroke-dasharray="12 0.7 7 0.5 20 0.6" fill="none"/>
<path d="M126 318V342M126.3 360V372M63.4 366V372M63 372.6H69M97 372.8H112M121 366V372M159.3 406H166M207 406.3H217M126 410V440M159.2 408V424M159.2 428V447M159 462V470M160 468.5H168M158.9 316V373M217 377V381" stroke="#c5613c" stroke-width="0.45" stroke-opacity="0.55" stroke-dasharray="1.4 0.9 2.5 0.6" fill="none"/>
<path d="M98.93 259.96H151.3M98.93 259.96V278.58M151.3 259.96V268.65M71.63 278.58H125.24M71.63 278.58V289.25M125.24 278.58V304.64M63.69 289.25H79.08M63.69 289.25V304.64M79.08 289.25V292.23M64.43 292.23H94.22M94.22 292.23V294.71M64.43 292.23V304.64M65.42 294.71H122.01M122.01 294.71V304.64M65.42 294.71V304.64M66.42 296.7H123.5M123.5 296.7V304.64M66.42 296.7V304.64M67.41 298.68H86.03M86.03 298.68V301.17M69.89 301.17H114.57M114.57 301.17V304.64M113.58 299.68V304.64M110.85 299.68H113.58M138.64 268.65H164.21M138.64 268.65V285.28M164.21 268.65V279.32M126.98 285.28H149.32M126.98 285.28V304.64M149.32 285.28V286.77M143.11 286.77H156.27M143.11 286.77V291.73M156.27 286.77V304.64M131.94 291.73H154.78M131.94 291.73V304.64M154.78 291.73V304.64M130.7 293.72H141.87M130.7 293.72V304.64M141.87 293.72V298.44M134.42 298.44H153.78M134.42 298.44V304.64M153.78 298.44V304.64M154.28 289.75H157.26M154.28 289.75V304.64M157.26 289.75V304.64M159.74 279.32H168.43M159.74 279.32V304.64M168.43 279.32V292.73M162.22 292.73H175.38M162.22 292.73V304.64M175.38 292.73V294.71M166.69 294.71H184.06M166.69 294.71V304.64M184.06 294.71V297.19M171.65 297.19H216.83M171.65 297.19V304.64M216.83 297.19V304.64M173.64 299.18H215.83M173.64 299.18V304.64M215.83 299.18V304.64M176.12 301.17H189.03M176.12 301.17V304.64M189.03 301.17V304.64M177.86 302.65H213.85M177.86 302.65V304.64M213.85 302.65V304.64" stroke="#000" stroke-width="0.55" fill="none"/>
<path d="M63.69 299.78V304.64M63.86 301.89V304.64M64.02 301.15V304.64M64.25 298.06V304.64M64.53 297.93V304.64M64.79 298.14V304.64M64.95 300.43V304.64M65.32 298.49V304.64M65.52 301.74V304.64M65.93 301.41V304.64M66.17 303.99V304.64M66.32 303.23V304.64M66.54 298.62V304.64M66.7 299.68V304.64M67.07 298.86V304.64M67.37 301.81V304.64M67.61 301.23V304.64M67.76 298.08V304.64M67.95 302.08V304.64M68.21 299.72V304.64M68.51 300.61V304.64M68.73 302.82V304.64M69.07 299.27V304.64M69.37 301.08V304.64M69.75 302.4V304.64M63.69 304V304.64M64 299.81V304.64M64.66 297.83V304.64M65.17 296.99V304.64M65.78 302.39V304.64M66.34 303.22V304.64M66.76 301.87V304.64M67.33 301.02V304.64M67.83 302.95V304.64M68.59 300.23V304.64M69.2 297.15V304.64M69.83 301.52V304.64M70.61 302.82V304.64M71.02 299.57V304.64M71.63 296.87V304.64M72.13 297.95V304.64M72.44 297.14V304.64M73.1 297.66V304.64M73.49 299.61V304.64M74.21 297.3V304.64M74.7 300.79V304.64M75.43 302.8V304.64M76.15 298.77V304.64M76.62 299.37V304.64M77.35 303.83V304.64M77.68 298.01V304.64M78.05 298.44V304.64M78.56 301.08V304.64M78.95 296.73V304.64M79.43 299.45V304.64M79.99 303.79V304.64M80.61 300.54V304.64M81.19 301.73V304.64M81.47 303.4V304.64M82.14 303.21V304.64M82.82 299.62V304.64M83.29 297.47V304.64M83.88 297.16V304.64M84.16 298.25V304.64M84.5 299.23V304.64M84.78 296.7V304.64M85.11 297.45V304.64M85.55 296.89V304.64M86.28 301.27V304.64M86.61 298.58V304.64M87.04 299.41V304.64M87.27 303.69V304.64M88.67 302.55V304.64M89.57 301.42V304.64M90.11 302.19V304.64M90.81 303.63V304.64M91.41 301.23V304.64M92.77 302.74V304.64M93.35 302.78V304.64M93.82 302.74V304.64M95.2 303.74V304.64M96.32 301.94V304.64M97.11 301.66V304.64M98.3 302.75V304.64M99.49 302.15V304.64M100.15 303.58V304.64M101.54 303.7V304.64M102.76 303.6V304.64M103.91 301.84V304.64M104.85 302.22V304.64M105.32 301.25V304.64M106.04 301.94V304.64M107.14 304.01V304.64M108.02 303.96V304.64M109.41 304.01V304.64M110.21 301.82V304.64M110.87 301.75V304.64M111.5 303.02V304.64M112.81 303.67V304.64M113.72 303.11V304.64M114.93 301.42V304.64M116.01 303.87V304.64M117.21 303.4V304.64M118.11 301.7V304.64M119.31 302.16V304.64M120.53 304.06V304.64M121.35 302.36V304.64M122.71 303.32V304.64M123.31 301.54V304.64M123.9 303.86V304.64M125.12 301.6V304.64M113.58 304.01V304.64M114.06 299.63V304.64M114.5 298.1V304.64M114.7 303.94V304.64M115.18 300.85V304.64M115.79 300.21V304.64M116.36 302.94V304.64M116.65 298.94V304.64M116.98 298.87V304.64M117.43 299V304.64M117.81 298.11V304.64M118.41 299.65V304.64M118.8 301.25V304.64M119.4 300.12V304.64M119.99 300.68V304.64M120.42 300.83V304.64M120.63 300.25V304.64M120.91 297.22V304.64M121.45 298.39V304.64M121.86 302.23V304.64M122.3 299.46V304.64M122.72 301.05V304.64M123.26 297.93V304.64M123.7 298.92V304.64M124.02 302.56V304.64M124.44 301.1V304.64M124.97 303.54V304.64M125.36 301.45V304.64M126.98 300.15V304.64M127.48 299.66V304.64M127.91 299.87V304.64M128.52 301.68V304.64M129.09 303.67V304.64M129.41 300.54V304.64M130.01 302.83V304.64M130.27 296.95V304.64M130.66 296.55V304.64M130.97 296.55V304.64M131.46 302.37V304.64M132.04 297.22V304.64M132.55 301.36V304.64M132.81 303.18V304.64M133.43 297.75V304.64M134.04 299.22V304.64M134.46 304.06V304.64M135.02 297.28V304.64M135.4 300.18V304.64M135.75 297.56V304.64M136.08 301.87V304.64M136.29 300.49V304.64M136.68 296.1V304.64M136.91 302.65V304.64M137.84 300.43V304.64M139.23 303.3V304.64M140.61 300.59V304.64M141.31 300.33V304.64M142.5 301.25V304.64M143.07 301.85V304.64M144.39 303.42V304.64M145.08 300.77V304.64M146.41 302.44V304.64M147.53 300.53V304.64M148.02 302.91V304.64M148.88 300.46V304.64M150.22 302.69V304.64M151.44 300.51V304.64M152.71 300.44V304.64M153.98 301.97V304.64M153.78 298.82V304.64M154.28 295.42V304.64M154.5 298.51V304.64M154.75 293.53V304.64M154.97 292.83V304.64M155.21 295.95V304.64M155.49 301.28V304.64M155.76 298.19V304.64M155.99 296.36V304.64M156.16 295.21V304.64M156.33 300.96V304.64M156.7 294.49V304.64M157.03 303.37V304.64M157.24 301.99V304.64M157.56 298.13V304.64M158.03 296.91V304.64M158.37 300.42V304.64M158.9 296.31V304.64M159.36 300.65V304.64M159.76 297.05V304.64M160.05 292.88V304.64M160.26 293.07V304.64M160.7 295.28V304.64M160.92 293.24V304.64M161.39 302.6V304.64M161.8 295.59V304.64M162.05 295.72V304.64M162.38 294.11V304.64M162.71 295.37V304.64M163.22 303.82V304.64M163.59 295.14V304.64M164.1 295.92V304.64M164.4 292.24V304.64M164.7 297.88V304.64M165.05 294.62V304.64M165.4 292.29V304.64M165.66 293.3V304.64M165.97 292.73V304.64M166.14 295.85V304.64M166.39 299.21V304.64M166.75 301.17V304.64M167.15 300.76V304.64M167.63 296.87V304.64M167.92 303.96V304.64M168.14 300.86V304.64M168.54 292.75V304.64M169 302.86V304.64M169.4 300.97V304.64M169.86 293.89V304.64M170.21 298.24V304.64M170.68 301.82V304.64M171.14 299.19V304.64M171.63 300.37V304.64M171.65 302.23V304.64M172.18 301.99V304.64M173.07 301.92V304.64M174.48 303.05V304.64M175.65 303.22V304.64M176.89 302.88V304.64M177.39 303.64V304.64M178.7 302.91V304.64M179.78 303.3V304.64M180.34 303.49V304.64M181.12 301.85V304.64M181.9 303.47V304.64M182.62 303.5V304.64M184.17 302.89V304.64M185.09 302.85V304.64M186.33 303.57V304.64M187.49 303.26V304.64M188.07 302.03V304.64M188.84 303.51V304.64M189.67 303.07V304.64M190.18 301.81V304.64M190.97 303.33V304.64M192.22 303.34V304.64M193.03 302.94V304.64M194.03 302.82V304.64M194.66 303.88V304.64M195.37 304.09V304.64M196.88 301.71V304.64M197.88 303.7V304.64M199.42 302.78V304.64M200.21 302.18V304.64M201.74 302.18V304.64M202.86 302.01V304.64M203.93 304.03V304.64M204.57 303.7V304.64M205.62 303.86V304.64M206.88 302.24V304.64M208.35 302.87V304.64M208.87 301.67V304.64M209.9 302.78V304.64M210.73 302.01V304.64M211.6 302.45V304.64M213.01 301.67V304.64M214.32 303.74V304.64M214.94 303.96V304.64M216.22 303.9V304.64" stroke="#000" stroke-width="0.4" fill="none"/>
<path d="M63.69 304.02H216.83" stroke="#000" stroke-width="1.5" stroke-opacity="0.8"/>
<rect x="234.6" y="282.5" width="20" height="27.1" fill="#fff" stroke="#444" stroke-width="0.9"/>
<rect x="239.4" y="287.1" width="4.5" height="3.7" fill="#a6cee3" stroke="#222" stroke-width="0.45"/>
<text x="248.7" y="291.05" font-size="5.7" fill="#3a3a3a" transform="rotate(0.03 248.7 291.05)">1</text>
<rect x="239.4" y="293.95" width="4.5" height="3.7" fill="#b2df8a" stroke="#222" stroke-width="0.45"/>
<text x="248.7" y="297.9" font-size="5.7" fill="#3a3a3a" transform="rotate(0.03 248.7 297.9)">2</text>
<rect x="239.4" y="300.8" width="4.5" height="3.7" fill="#1f78b4" stroke="#222" stroke-width="0.45"/>
<text x="248.7" y="304.75" font-size="5.7" fill="#3a3a3a" transform="rotate(0.03 248.7 304.75)">3</text>
</g>
<g id="panel_e">
<path d="M411 291.4V456.7M466 291.4V456.7M521 291.4V456.7M576 291.4V456.7M390.6 440.52H601.3M390.6 408.47H601.3M390.6 376.42H601.3M390.6 344.38H601.3M390.6 312.32H601.3" stroke="#ececec" stroke-width="0.5" fill="none"/>
<path d="M438.5 291.4V456.7M493.5 291.4V456.7M548.5 291.4V456.7M390.6 456.55H601.3M390.6 424.5H601.3M390.6 392.45H601.3M390.6 360.4H601.3M390.6 328.35H601.3M390.6 296.3H601.3" stroke="#dfdfdf" stroke-width="0.85" fill="none"/>
<path d="M438.5 291.4V456.7 M390.6 360.4H601.3" stroke="#000" stroke-width="0.7" stroke-dasharray="3.3 1.9" fill="none"/>
<g fill="#f40808">
<circle cx="470.86" cy="299.18" r="1.02"/>
<circle cx="468.76" cy="319.15" r="1.02"/>
<circle cx="477.96" cy="320.73" r="1.02"/>
<circle cx="479.27" cy="330.71" r="1.02"/>
<circle cx="445.38" cy="319.94" r="1.02"/>
<circle cx="441.17" cy="321.51" r="1.02"/>
<circle cx="455.89" cy="322.83" r="1.02"/>
<circle cx="453.78" cy="325.19" r="1.02"/>
<circle cx="433.29" cy="327.82" r="1.02"/>
<circle cx="446.69" cy="329.13" r="1.02"/>
<circle cx="463.77" cy="327.82" r="1.02"/>
<circle cx="460.61" cy="329.92" r="1.02"/>
<circle cx="429.61" cy="332.55" r="1.02"/>
<circle cx="436.71" cy="333.86" r="1.02"/>
<circle cx="453" cy="333.86" r="1.02"/>
<circle cx="451.16" cy="335.18" r="1.02"/>
<circle cx="461.67" cy="335.7" r="1.02"/>
<circle cx="466.4" cy="335.7" r="1.02"/>
<circle cx="425.14" cy="341.74" r="1.02"/>
<circle cx="438.02" cy="340.96" r="1.02"/>
<circle cx="446.69" cy="338.33" r="1.02"/>
<circle cx="449.32" cy="339.12" r="1.02"/>
<circle cx="454.31" cy="339.91" r="1.02"/>
<circle cx="443.27" cy="342.53" r="1.02"/>
<circle cx="440.65" cy="344.37" r="1.02"/>
<circle cx="447.74" cy="343.06" r="1.02"/>
<circle cx="434.6" cy="345.69" r="1.02"/>
<circle cx="443.8" cy="347" r="1.02"/>
<circle cx="458.78" cy="345.69" r="1.02"/>
<circle cx="466.13" cy="351.47" r="1.02"/>
<circle cx="458.78" cy="349.63" r="1.02"/>
<circle cx="428.82" cy="348.84" r="1.02"/>
<circle cx="431.98" cy="350.42" r="1.02"/>
<circle cx="436.71" cy="349.63" r="1.02"/>
<circle cx="440.65" cy="348.84" r="1.02"/>
<circle cx="444.59" cy="349.63" r="1.02"/>
<circle cx="448.53" cy="348.31" r="1.02"/>
<circle cx="453.78" cy="350.94" r="1.02"/>
<circle cx="431.45" cy="353.57" r="1.02"/>
<circle cx="435.39" cy="354.88" r="1.02"/>
<circle cx="439.33" cy="353.57" r="1.02"/>
<circle cx="441.96" cy="355.67" r="1.02"/>
<circle cx="445.9" cy="354.36" r="1.02"/>
<circle cx="449.84" cy="355.67" r="1.02"/>
<circle cx="454.57" cy="356.2" r="1.02"/>
<circle cx="458.25" cy="357.51" r="1.02"/>
<circle cx="433.55" cy="358.3" r="1.02"/>
<circle cx="437.23" cy="358.82" r="1.02"/>
<circle cx="440.65" cy="360.14" r="1.02"/>
<circle cx="444.59" cy="358.3" r="1.02"/>
<circle cx="438.02" cy="361.98" r="1.02"/>
<circle cx="434.08" cy="363.55" r="1.02"/>
<circle cx="435.39" cy="365.39" r="1.02"/>
<circle cx="441.43" cy="363.55" r="1.02"/>
<circle cx="459.83" cy="359.35" r="1.02"/>
<circle cx="432.84" cy="352.11" r="1.02"/>
<circle cx="450.33" cy="344.39" r="1.02"/>
<circle cx="432.01" cy="348.27" r="1.02"/>
<circle cx="446.25" cy="358.36" r="1.02"/>
<circle cx="432.9" cy="337.63" r="1.02"/>
<circle cx="448.05" cy="352.95" r="1.02"/>
<circle cx="454.58" cy="357.36" r="1.02"/>
<circle cx="441.68" cy="346.46" r="1.02"/>
<circle cx="462.75" cy="346.33" r="1.02"/>
<circle cx="436.3" cy="338.97" r="1.02"/>
<circle cx="443.24" cy="350.1" r="1.02"/>
<circle cx="439.77" cy="348.3" r="1.02"/>
<circle cx="444.64" cy="354.84" r="1.02"/>
<circle cx="451.13" cy="350.66" r="1.02"/>
<circle cx="431.3" cy="347.35" r="1.02"/>
<circle cx="430.87" cy="348.86" r="1.02"/>
<circle cx="436.35" cy="350.69" r="1.02"/>
<circle cx="449.12" cy="337.36" r="1.02"/>
<circle cx="440.22" cy="354.58" r="1.02"/>
<circle cx="441.76" cy="352.05" r="1.02"/>
<circle cx="443.3" cy="340.11" r="1.02"/>
<circle cx="446.93" cy="341.8" r="1.02"/>
<circle cx="457.24" cy="344.46" r="1.02"/>
<circle cx="447.89" cy="348.86" r="1.02"/>
<circle cx="449.99" cy="343.62" r="1.02"/>
<circle cx="450.36" cy="347.76" r="1.02"/>
<circle cx="452.44" cy="354.25" r="1.02"/>
<circle cx="443.6" cy="342.07" r="1.02"/>
<circle cx="448.54" cy="352.9" r="1.02"/>
<circle cx="455.43" cy="345.57" r="1.02"/>
<circle cx="446.86" cy="353.24" r="1.02"/>
<circle cx="444.72" cy="350.65" r="1.02"/>
<circle cx="443.92" cy="343.65" r="1.02"/>
<circle cx="434.49" cy="345.4" r="1.02"/>
<circle cx="447.14" cy="361.94" r="1.02"/>
<circle cx="450.19" cy="357.97" r="1.02"/>
<circle cx="448.61" cy="354.89" r="1.02"/>
<circle cx="443.93" cy="355.53" r="1.02"/>
<circle cx="456.47" cy="346" r="1.02"/>
<circle cx="444.41" cy="357.26" r="1.02"/>
<circle cx="449.37" cy="338.99" r="1.02"/>
<circle cx="461.67" cy="364.24" r="1.02"/>
<circle cx="443.88" cy="355.36" r="1.02"/>
<circle cx="443.49" cy="341.17" r="1.02"/>
<circle cx="441.6" cy="352.08" r="1.02"/>
<circle cx="451.28" cy="354.99" r="1.02"/>
<circle cx="442.95" cy="360.59" r="1.02"/>
<circle cx="436.49" cy="355.71" r="1.02"/>
<circle cx="451.25" cy="346.31" r="1.02"/>
<circle cx="428.37" cy="340.98" r="1.02"/>
<circle cx="444.35" cy="353.42" r="1.02"/>
<circle cx="454.69" cy="340.13" r="1.02"/>
<circle cx="442.5" cy="354.46" r="1.02"/>
<circle cx="441.24" cy="328.29" r="1.02"/>
<circle cx="450.4" cy="340.88" r="1.02"/>
<circle cx="439.23" cy="350.76" r="1.02"/>
<circle cx="462.1" cy="354.19" r="1.02"/>
<circle cx="443.38" cy="362.34" r="1.02"/>
<circle cx="441.84" cy="364.98" r="1.02"/>
<circle cx="437.09" cy="344.72" r="1.02"/>
<circle cx="448.17" cy="361.19" r="1.02"/>
<circle cx="447.64" cy="351.45" r="1.02"/>
<circle cx="428.13" cy="342.66" r="1.02"/>
<circle cx="437.67" cy="344.21" r="1.02"/>
<circle cx="447.11" cy="345.93" r="1.02"/>
<circle cx="448.69" cy="349.55" r="1.02"/>
<circle cx="439.86" cy="349.86" r="1.02"/>
<circle cx="445.87" cy="356.28" r="1.02"/>
<circle cx="438.72" cy="346.82" r="1.02"/>
<circle cx="453.93" cy="347.29" r="1.02"/>
</g>
<g fill="#00f400">
<circle cx="424.88" cy="389.04" r="1.02"/>
<circle cx="426.2" cy="388.25" r="1.02"/>
<circle cx="438.54" cy="386.94" r="1.02"/>
<circle cx="430.14" cy="407.43" r="1.02"/>
<circle cx="399.4" cy="361.98" r="1.02"/>
<circle cx="400.71" cy="364.08" r="1.02"/>
<circle cx="403.86" cy="354.88" r="1.02"/>
<circle cx="402.02" cy="368.02" r="1.02"/>
<circle cx="438.81" cy="363.55" r="1.02"/>
<circle cx="416.9" cy="353.81" r="1.02"/>
<circle cx="421.67" cy="365.18" r="1.02"/>
<circle cx="436.47" cy="365.49" r="1.02"/>
<circle cx="430.78" cy="365.05" r="1.02"/>
<circle cx="408.58" cy="364.97" r="1.02"/>
<circle cx="428.65" cy="368.06" r="1.02"/>
<circle cx="419.13" cy="346.69" r="1.02"/>
<circle cx="419.49" cy="351.3" r="1.02"/>
<circle cx="424.8" cy="346.69" r="1.02"/>
<circle cx="413.74" cy="373.17" r="1.02"/>
<circle cx="432.51" cy="354.24" r="1.02"/>
<circle cx="409.13" cy="370.48" r="1.02"/>
<circle cx="426.69" cy="355.78" r="1.02"/>
<circle cx="415.31" cy="358.08" r="1.02"/>
<circle cx="411.66" cy="358.19" r="1.02"/>
<circle cx="429.62" cy="368.99" r="1.02"/>
<circle cx="435.55" cy="362.87" r="1.02"/>
<circle cx="419.42" cy="355.81" r="1.02"/>
<circle cx="419.5" cy="353.2" r="1.02"/>
<circle cx="407.34" cy="369.05" r="1.02"/>
<circle cx="431.01" cy="370.15" r="1.02"/>
<circle cx="430.22" cy="365.54" r="1.02"/>
<circle cx="415.13" cy="364.23" r="1.02"/>
<circle cx="417.66" cy="354.79" r="1.02"/>
<circle cx="407.96" cy="351.86" r="1.02"/>
<circle cx="420.37" cy="364.74" r="1.02"/>
<circle cx="416.92" cy="374.82" r="1.02"/>
<circle cx="421.73" cy="368.15" r="1.02"/>
<circle cx="429.38" cy="357.09" r="1.02"/>
<circle cx="405.92" cy="369.48" r="1.02"/>
<circle cx="415.35" cy="373.89" r="1.02"/>
<circle cx="422.9" cy="371.49" r="1.02"/>
<circle cx="426.03" cy="347.15" r="1.02"/>
<circle cx="425.71" cy="358.25" r="1.02"/>
<circle cx="414.85" cy="360.12" r="1.02"/>
<circle cx="426.07" cy="370.52" r="1.02"/>
<circle cx="427.85" cy="350.47" r="1.02"/>
<circle cx="419.66" cy="368.28" r="1.02"/>
<circle cx="414.79" cy="365.48" r="1.02"/>
<circle cx="422.12" cy="371.49" r="1.02"/>
<circle cx="414.37" cy="357.02" r="1.02"/>
<circle cx="414.8" cy="377.37" r="1.02"/>
<circle cx="428.44" cy="362.58" r="1.02"/>
<circle cx="422.07" cy="364.45" r="1.02"/>
<circle cx="421.91" cy="361.91" r="1.02"/>
<circle cx="417.96" cy="353.65" r="1.02"/>
<circle cx="415.69" cy="376.56" r="1.02"/>
<circle cx="424.36" cy="364.06" r="1.02"/>
<circle cx="418.83" cy="364.05" r="1.02"/>
<circle cx="423.01" cy="358.46" r="1.02"/>
<circle cx="421.86" cy="365.44" r="1.02"/>
<circle cx="414.91" cy="357.33" r="1.02"/>
<circle cx="413.07" cy="355.17" r="1.02"/>
<circle cx="418.45" cy="358.74" r="1.02"/>
<circle cx="415.86" cy="364.32" r="1.02"/>
<circle cx="428.71" cy="364.15" r="1.02"/>
<circle cx="419.38" cy="358.73" r="1.02"/>
<circle cx="419.47" cy="370.74" r="1.02"/>
<circle cx="417.52" cy="354.52" r="1.02"/>
<circle cx="411.12" cy="354.83" r="1.02"/>
<circle cx="410.19" cy="372.22" r="1.02"/>
<circle cx="423.03" cy="361.68" r="1.02"/>
<circle cx="431.15" cy="358.37" r="1.02"/>
<circle cx="425.95" cy="369.87" r="1.02"/>
<circle cx="409.04" cy="351.28" r="1.02"/>
<circle cx="413.59" cy="370.7" r="1.02"/>
<circle cx="429.95" cy="353.88" r="1.02"/>
<circle cx="428.13" cy="360.53" r="1.02"/>
<circle cx="417.52" cy="359.21" r="1.02"/>
<circle cx="418.03" cy="349.22" r="1.02"/>
<circle cx="413.05" cy="353.81" r="1.02"/>
<circle cx="424.02" cy="380.02" r="1.02"/>
<circle cx="407.75" cy="360.34" r="1.02"/>
<circle cx="413.51" cy="379.19" r="1.02"/>
<circle cx="424.62" cy="357.81" r="1.02"/>
<circle cx="427.3" cy="367.78" r="1.02"/>
<circle cx="408.46" cy="359.36" r="1.02"/>
<circle cx="418.65" cy="363.7" r="1.02"/>
<circle cx="421.39" cy="360.88" r="1.02"/>
<circle cx="421.81" cy="358.93" r="1.02"/>
<circle cx="413.82" cy="375.5" r="1.02"/>
<circle cx="423.07" cy="367.01" r="1.02"/>
<circle cx="408.68" cy="362.24" r="1.02"/>
<circle cx="426.44" cy="353.37" r="1.02"/>
<circle cx="428.49" cy="360.48" r="1.02"/>
<circle cx="423.38" cy="362.5" r="1.02"/>
<circle cx="422.02" cy="373.04" r="1.02"/>
<circle cx="417.45" cy="375.88" r="1.02"/>
<circle cx="414.66" cy="356.21" r="1.02"/>
<circle cx="425.65" cy="355.15" r="1.02"/>
<circle cx="417.69" cy="370.7" r="1.02"/>
<circle cx="429.32" cy="349.56" r="1.02"/>
<circle cx="424.14" cy="378.4" r="1.02"/>
<circle cx="429.21" cy="361.66" r="1.02"/>
<circle cx="416" cy="361.21" r="1.02"/>
<circle cx="411.93" cy="361.47" r="1.02"/>
<circle cx="419.04" cy="362.4" r="1.02"/>
<circle cx="429.11" cy="361.74" r="1.02"/>
<circle cx="409.69" cy="371.84" r="1.02"/>
<circle cx="412.52" cy="360.03" r="1.02"/>
<circle cx="419.43" cy="360.84" r="1.02"/>
<circle cx="413.04" cy="361.59" r="1.02"/>
<circle cx="436.48" cy="358.77" r="1.02"/>
<circle cx="419.41" cy="372.41" r="1.02"/>
<circle cx="425.89" cy="369.57" r="1.02"/>
<circle cx="426.76" cy="348.04" r="1.02"/>
<circle cx="414.06" cy="364.56" r="1.02"/>
<circle cx="424.09" cy="373.75" r="1.02"/>
<circle cx="423.87" cy="361.67" r="1.02"/>
<circle cx="420.7" cy="361.89" r="1.02"/>
<circle cx="422.23" cy="368.87" r="1.02"/>
<circle cx="417.92" cy="357.14" r="1.02"/>
<circle cx="414.13" cy="372.2" r="1.02"/>
<circle cx="429.84" cy="371.37" r="1.02"/>
<circle cx="426.72" cy="370.12" r="1.02"/>
<circle cx="420.4" cy="368.78" r="1.02"/>
<circle cx="412.68" cy="361.95" r="1.02"/>
<circle cx="415.02" cy="369.28" r="1.02"/>
<circle cx="416.15" cy="362.7" r="1.02"/>
<circle cx="423.36" cy="374.23" r="1.02"/>
<circle cx="414.59" cy="356.15" r="1.02"/>
<circle cx="426.43" cy="354.83" r="1.02"/>
<circle cx="423.74" cy="359.06" r="1.02"/>
<circle cx="419.64" cy="349.2" r="1.02"/>
<circle cx="425.66" cy="359.61" r="1.02"/>
<circle cx="413.8" cy="379.92" r="1.02"/>
<circle cx="423.42" cy="360.81" r="1.02"/>
<circle cx="421.21" cy="376.22" r="1.02"/>
<circle cx="420.22" cy="367.11" r="1.02"/>
<circle cx="424.22" cy="356.38" r="1.02"/>
<circle cx="421.36" cy="359.59" r="1.02"/>
<circle cx="411.25" cy="370.43" r="1.02"/>
<circle cx="425.31" cy="364.14" r="1.02"/>
<circle cx="413.74" cy="347.74" r="1.02"/>
<circle cx="423.99" cy="362.78" r="1.02"/>
<circle cx="408.03" cy="363.08" r="1.02"/>
<circle cx="409.22" cy="363.34" r="1.02"/>
<circle cx="421.47" cy="366.35" r="1.02"/>
<circle cx="422.01" cy="364.9" r="1.02"/>
<circle cx="412.03" cy="360.53" r="1.02"/>
<circle cx="416.65" cy="361.69" r="1.02"/>
<circle cx="422.4" cy="368.43" r="1.02"/>
<circle cx="423.37" cy="361.99" r="1.02"/>
<circle cx="437.16" cy="370.91" r="1.02"/>
<circle cx="408.25" cy="366.72" r="1.02"/>
<circle cx="416.58" cy="371.38" r="1.02"/>
<circle cx="412.65" cy="362.75" r="1.02"/>
<circle cx="419.45" cy="362.79" r="1.02"/>
<circle cx="416.12" cy="349.07" r="1.02"/>
<circle cx="423.8" cy="371.43" r="1.02"/>
<circle cx="419.91" cy="355.53" r="1.02"/>
<circle cx="421.91" cy="368.01" r="1.02"/>
<circle cx="419.12" cy="363.44" r="1.02"/>
<circle cx="430.78" cy="354.73" r="1.02"/>
<circle cx="416.31" cy="348.53" r="1.02"/>
<circle cx="415.27" cy="357.72" r="1.02"/>
<circle cx="413.35" cy="358.08" r="1.02"/>
<circle cx="433.64" cy="362" r="1.02"/>
<circle cx="419.57" cy="380.88" r="1.02"/>
<circle cx="419.97" cy="349.89" r="1.02"/>
<circle cx="423.38" cy="356.17" r="1.02"/>
<circle cx="432.47" cy="353.73" r="1.02"/>
<circle cx="416.14" cy="350.89" r="1.02"/>
<circle cx="421.13" cy="355.55" r="1.02"/>
<circle cx="419.93" cy="360.58" r="1.02"/>
<circle cx="415.91" cy="370.99" r="1.02"/>
<circle cx="427.3" cy="364.04" r="1.02"/>
<circle cx="413.79" cy="355.11" r="1.02"/>
<circle cx="422.4" cy="382.4" r="1.02"/>
<circle cx="417.05" cy="357.37" r="1.02"/>
<circle cx="415.28" cy="354.92" r="1.02"/>
<circle cx="413.26" cy="361.94" r="1.02"/>
<circle cx="430.96" cy="363.54" r="1.02"/>
<circle cx="416.66" cy="350.82" r="1.02"/>
<circle cx="421.98" cy="363.34" r="1.02"/>
<circle cx="411.39" cy="354.99" r="1.02"/>
<circle cx="420.1" cy="371.53" r="1.02"/>
<circle cx="425.03" cy="365.17" r="1.02"/>
<circle cx="418.04" cy="366.08" r="1.02"/>
<circle cx="420.33" cy="380.68" r="1.02"/>
<circle cx="412.08" cy="360.65" r="1.02"/>
<circle cx="429.74" cy="361.46" r="1.02"/>
<circle cx="430.9" cy="363.21" r="1.02"/>
<circle cx="421.49" cy="360.63" r="1.02"/>
<circle cx="410.26" cy="355.9" r="1.02"/>
<circle cx="436.71" cy="368.64" r="1.02"/>
<circle cx="424.87" cy="371.07" r="1.02"/>
<circle cx="424.6" cy="371.61" r="1.02"/>
<circle cx="418.46" cy="361.79" r="1.02"/>
<circle cx="427.65" cy="360.78" r="1.02"/>
<circle cx="410.63" cy="361.77" r="1.02"/>
<circle cx="416.41" cy="368.39" r="1.02"/>
<circle cx="415.12" cy="355.19" r="1.02"/>
<circle cx="417.97" cy="375.79" r="1.02"/>
<circle cx="420.06" cy="364.82" r="1.02"/>
<circle cx="420.48" cy="365.88" r="1.02"/>
<circle cx="427.24" cy="374.55" r="1.02"/>
<circle cx="408.32" cy="374.28" r="1.02"/>
<circle cx="420.39" cy="361.02" r="1.02"/>
<circle cx="434.72" cy="371.18" r="1.02"/>
<circle cx="412.84" cy="367.4" r="1.02"/>
<circle cx="425.84" cy="362.56" r="1.02"/>
<circle cx="403.29" cy="360.84" r="1.02"/>
<circle cx="419.01" cy="354.82" r="1.02"/>
<circle cx="433.85" cy="361.63" r="1.02"/>
<circle cx="417.52" cy="361.19" r="1.02"/>
<circle cx="414.65" cy="357.43" r="1.02"/>
<circle cx="421.11" cy="366.02" r="1.02"/>
<circle cx="416.68" cy="362.84" r="1.02"/>
<circle cx="410.19" cy="367.66" r="1.02"/>
<circle cx="414.9" cy="365.25" r="1.02"/>
<circle cx="413.74" cy="359.49" r="1.02"/>
<circle cx="422" cy="354.01" r="1.02"/>
<circle cx="419.88" cy="357.76" r="1.02"/>
<circle cx="432.15" cy="374.48" r="1.02"/>
<circle cx="422.62" cy="352.77" r="1.02"/>
<circle cx="416.71" cy="368.41" r="1.02"/>
<circle cx="416.65" cy="354.22" r="1.02"/>
<circle cx="411.68" cy="357.47" r="1.02"/>
<circle cx="420.52" cy="358.44" r="1.02"/>
<circle cx="433.46" cy="355.37" r="1.02"/>
<circle cx="422.94" cy="364.24" r="1.02"/>
<circle cx="419.4" cy="371.78" r="1.02"/>
<circle cx="417.97" cy="360.99" r="1.02"/>
<circle cx="417.66" cy="362.76" r="1.02"/>
</g>
<path d="M471.39 321.95l1.3 2.2h-2.6zM491.36 331.94l1.3 2.2h-2.6zM462.98 333.78l1.3 2.2h-2.6zM490.57 341.13l1.3 2.2h-2.6zM508.96 339.56l1.3 2.2h-2.6zM511.06 340.87l1.3 2.2h-2.6zM483.47 342.97l1.3 2.2h-2.6zM482.95 345.6l1.3 2.2h-2.6zM466.4 350.07l1.3 2.2h-2.6zM482.95 355.58l1.3 2.2h-2.6zM488.47 357.42l1.3 2.2h-2.6zM497.14 357.42l1.3 2.2h-2.6zM459.83 357.95l1.3 2.2h-2.6zM465.61 361.36l1.3 2.2h-2.6zM470.34 360.58l1.3 2.2h-2.6zM449.32 362.68l1.3 2.2h-2.6zM454.57 361.36l1.3 2.2h-2.6zM450.63 364.78l1.3 2.2h-2.6zM453.78 366.62l1.3 2.2h-2.6zM457.72 365.31l1.3 2.2h-2.6zM462.45 362.68l1.3 2.2h-2.6zM469.55 365.83l1.3 2.2h-2.6zM478.22 363.99l1.3 2.2h-2.6zM482.16 362.15l1.3 2.2h-2.6zM483.47 364.78l1.3 2.2h-2.6zM440.65 369.25l1.3 2.2h-2.6zM445.11 367.93l1.3 2.2h-2.6zM449.32 369.25l1.3 2.2h-2.6zM453.78 369.25l1.3 2.2h-2.6zM457.2 370.56l1.3 2.2h-2.6zM460.35 369.25l1.3 2.2h-2.6zM470.34 372.66l1.3 2.2h-2.6zM474.01 374.5l1.3 2.2h-2.6zM476.64 375.81l1.3 2.2h-2.6zM485.05 376.34l1.3 2.2h-2.6zM435.39 373.71l1.3 2.2h-2.6zM441.43 375.29l1.3 2.2h-2.6zM442.49 376.34l1.3 2.2h-2.6zM449.32 376.34l1.3 2.2h-2.6zM455.1 378.44l1.3 2.2h-2.6zM459.04 376.34l1.3 2.2h-2.6zM465.08 375.29l1.3 2.2h-2.6zM483.47 381.07l1.3 2.2h-2.6zM434.87 380.54l1.3 2.2h-2.6zM440.91 380.54l1.3 2.2h-2.6zM448.53 386.32l1.3 2.2h-2.6zM453.26 386.32l1.3 2.2h-2.6zM456.41 386.85l1.3 2.2h-2.6zM464.29 385.8l1.3 2.2h-2.6zM436.71 393.42l1.3 2.2h-2.6zM442.75 392.89l1.3 2.2h-2.6zM445.38 392.89l1.3 2.2h-2.6zM446.43 393.42l1.3 2.2h-2.6zM435.92 402.88l1.3 2.2h-2.6zM447.21 403.67l1.3 2.2h-2.6zM516.05 399.72l1.3 2.2h-2.6zM477.69 417.85l1.3 2.2h-2.6zM497.92 433.09l1.3 2.2h-2.6zM507.65 448.07l1.3 2.2h-2.6zM420.42 347.44l1.3 2.2h-2.6zM441.96 365.31l1.3 2.2h-2.6zM445.9 363.2l1.3 2.2h-2.6zM447.74 366.62l1.3 2.2h-2.6zM451.94 367.93l1.3 2.2h-2.6zM455.62 363.2l1.3 2.2h-2.6zM458.25 367.41l1.3 2.2h-2.6zM439.33 371.09l1.3 2.2h-2.6zM443.54 371.87l1.3 2.2h-2.6zM451.68 371.09l1.3 2.2h-2.6zM438.28 377.92l1.3 2.2h-2.6zM440.38 373.19l1.3 2.2h-2.6zM592.4 370.5l1.3 2.2h-2.6zM530.8 447.6l1.3 2.2h-2.6z" fill="#1a10c8"/>
<rect x="390.6" y="291.4" width="210.7" height="165.3" fill="none" stroke="#8a8a8a" stroke-width="1.2"/>
<path d="M438.5 456.7v2.8M493.5 456.7v2.8M548.5 456.7v2.8M390.6 456.55h-2.8M390.6 424.5h-2.8M390.6 392.45h-2.8M390.6 360.4h-2.8M390.6 328.35h-2.8M390.6 296.3h-2.8" stroke="#333" stroke-width="0.6" fill="none"/>
<g font-family="Liberation Sans" font-size="8.1" fill="#3c3c3c">
<text x="438.5" y="468.8" text-anchor="middle" transform="rotate(0.03 438.5 468.8)">0</text>
<text x="493.5" y="468.8" text-anchor="middle" transform="rotate(0.03 493.5 468.8)">10</text>
<text x="548.5" y="468.8" text-anchor="middle" transform="rotate(0.03 548.5 468.8)">20</text>
<text x="386" y="459.45" text-anchor="end" transform="rotate(0.03 386 459.45)">−15</text>
<text x="386" y="427.4" text-anchor="end" transform="rotate(0.03 386 427.4)">−10</text>
<text x="386" y="395.35" text-anchor="end" transform="rotate(0.03 386 395.35)">−5</text>
<text x="386" y="363.3" text-anchor="end" transform="rotate(0.03 386 363.3)">0</text>
<text x="386" y="331.25" text-anchor="end" transform="rotate(0.03 386 331.25)">5</text>
<text x="386" y="299.2" text-anchor="end" transform="rotate(0.03 386 299.2)">10</text>
</g>
<text x="493.2" y="482.3" font-size="9.9" text-anchor="middle" transform="rotate(0.03 493.2 482.3)">PC1</text>
<text x="367.8" y="373.4" font-size="9.9" text-anchor="middle" transform="rotate(-89.97 367.8 373.4)">PC2</text>
<text x="618.2" y="355.6" font-size="9.5" transform="rotate(0.03 618.2 355.6)">Groups</text>
<circle cx="624.8" cy="369.8" r="1.02" fill="#f40808"/>
<path d="M624.8 381.5l1.15 2h-2.3z" fill="#1a10c8"/>
<circle cx="624.8" cy="395.5" r="1.02" fill="#00f400"/>
<text x="637.6" y="372.2" font-size="6.6" transform="rotate(0.03 637.6 372.2)">1</text>
<text x="637.6" y="385.1" font-size="6.6" transform="rotate(0.03 637.6 385.1)">2</text>
<text x="637.6" y="398" font-size="6.6" transform="rotate(0.03 637.6 398)">3</text>
</g>
<g id="panel_f">
<rect x="46.6" y="518.2" width="81" height="4.6" fill="#f8a324"/>
<rect x="46.6" y="524" width="81" height="4.4" fill="#08c8f0"/>
<rect x="46.6" y="529.6" width="81" height="4.3" fill="#04d49c"/>
<rect x="46.6" y="535" width="81" height="4.3" fill="#e88df6"/>
<rect x="46.6" y="540.5" width="81" height="4.3" fill="#ff82c6"/>
<rect x="46.6" y="546.1" width="81" height="4.6" fill="#f98f86"/>
<path d="M53.57 524v4.4M55.27 524v4.4M63.07 524v4.4M64.57 524v4.4M65.87 524v4.4M67.87 524v4.4M68.97 524v4.4M70.07 524v4.4M71.77 524v4.4M73.57 524v4.4M75.77 524v4.4M77.67 524v4.4M79.37 524v4.4M81.37 524v4.4M91.67 524v4.4M93.57 524v4.4M95.87 524v4.4M99.17 524v4.4M104.47 524v4.4M107.17 524v4.4M109.87 524v4.4M117.67 524v4.4M118.97 524v4.4M121.57 524v4.4M126.57 524v4.4" stroke="#8cc63c" stroke-width="0.8" fill="none"/>
<path d="M47.57 524v4.4M49.67 524v4.4M56.77 524v4.4M82.67 524v4.4M88.07 524v4.4M89.47 524v4.4M100.87 524v4.4M102.37 524v4.4M106.07 524v4.4" stroke="#10d4cc" stroke-width="0.8" fill="none"/>
<path d="M47.8 535v4.3M51.8 535v4.3M53.8 535v4.3M55 535v4.3M56.2 535v4.3M61 535v4.3M62.2 535v4.3M63 535v4.3M64.6 535v4.3M66.2 535v4.3M67 535v4.3M71 535v4.3M71.8 535v4.3M75.8 535v4.3M79.4 535v4.3M81.8 535v4.3M89.8 535v4.3M95 535v4.3M99.8 535v4.3M105.4 535v4.3M107.8 535v4.3M109.8 535v4.3M112.2 535v4.3M123.4 535v4.3M126.6 535v4.3" stroke="#d8a4f8" stroke-width="0.7" fill="none"/>
<path d="M48 540.5v4.3M50.2 540.5v4.3M52 540.5v4.3M57 540.5v4.3M58 540.5v4.3M59.6 540.5v4.3M60.6 540.5v4.3M66.4 540.5v4.3M67.2 540.5v4.3M68.2 540.5v4.3M69.8 540.5v4.3M71.4 540.5v4.3M76.8 540.5v4.3M80.6 540.5v4.3M81.4 540.5v4.3M86.8 540.5v4.3M90.6 540.5v4.3M92.2 540.5v4.3M93 540.5v4.3M95.4 540.5v4.3M99.8 540.5v4.3M108.6 540.5v4.3M113.4 540.5v4.3M115.2 540.5v4.3M124.8 540.5v4.3" stroke="#40c070" stroke-width="0.75" fill="none"/>
<rect x="129.2" y="518.2" width="43" height="4.6" fill="#f8a324"/>
<rect x="129.2" y="524" width="43" height="4.4" fill="#08c8f0"/>
<rect x="129.2" y="529.6" width="43" height="4.3" fill="#04d49c"/>
<rect x="129.2" y="535" width="43" height="4.3" fill="#e88df6"/>
<rect x="129.2" y="540.5" width="43" height="4.3" fill="#ff82c6"/>
<rect x="129.2" y="546.1" width="43" height="4.6" fill="#84b4f9"/>
<path d="M133.53 524v4.4M134.83 524v4.4M136.33 524v4.4M137.93 524v4.4M140.13 524v4.4M141.73 524v4.4M142.93 524v4.4M145.83 524v4.4M147.33 524v4.4M148.63 524v4.4M150.43 524v4.4M153.93 524v4.4M155.53 524v4.4M157.23 524v4.4M159.43 524v4.4M161.73 524v4.4M163.23 524v4.4M165.43 524v4.4M168.43 524v4.4M170.13 524v4.4M171.83 524v4.4" stroke="#8cc63c" stroke-width="0.8" fill="none"/>
<path d="M132.03 524v4.4M144.43 524v4.4" stroke="#10d4cc" stroke-width="0.8" fill="none"/>
<path d="M134.8 535v4.3M146 535v4.3M148.8 535v4.3M151.6 535v4.3M152.8 535v4.3M154.4 535v4.3M158 535v4.3M160.8 535v4.3M162 535v4.3M171.2 535v4.3" stroke="#d8a4f8" stroke-width="0.7" fill="none"/>
<path d="M132.2 540.5v4.3M134.8 540.5v4.3M135.6 540.5v4.3M143.6 540.5v4.3M154 540.5v4.3M156.2 540.5v4.3M159.4 540.5v4.3M161.8 540.5v4.3M162.6 540.5v4.3M167 540.5v4.3M170.4 540.5v4.3" stroke="#40c070" stroke-width="0.75" fill="none"/>
<rect x="174.2" y="518.2" width="82" height="4.6" fill="#f8a324"/>
<rect x="174.2" y="524" width="82" height="4.4" fill="#08c8f0"/>
<rect x="174.2" y="529.6" width="82" height="4.3" fill="#04d49c"/>
<rect x="174.2" y="535" width="82" height="4.3" fill="#e88df6"/>
<rect x="174.2" y="540.5" width="82" height="4.3" fill="#ff82c6"/>
<rect x="174.2" y="546.1" width="82" height="4.6" fill="#c7a806"/>
<path d="M174.84 524v4.4M176.44 524v4.4M191.74 524v4.4M193.04 524v4.4M195.14 524v4.4M200.54 524v4.4M201.94 524v4.4M203.24 524v4.4M204.84 524v4.4M206.54 524v4.4M212.04 524v4.4M213.44 524v4.4M217.34 524v4.4M220.94 524v4.4M222.44 524v4.4M223.94 524v4.4M225.74 524v4.4M227.34 524v4.4M228.74 524v4.4M235.54 524v4.4M236.94 524v4.4M238.54 524v4.4M239.94 524v4.4M244.94 524v4.4M253.34 524v4.4M254.74 524v4.4" stroke="#8cc63c" stroke-width="0.8" fill="none"/>
<path d="M182.94 524v4.4M186.34 524v4.4M196.64 524v4.4M198.74 524v4.4M209.44 524v4.4M210.74 524v4.4M214.84 524v4.4M230.24 524v4.4M233.44 524v4.4M241.64 524v4.4M243.24 524v4.4M248.14 524v4.4M251.24 524v4.4" stroke="#10d4cc" stroke-width="0.8" fill="none"/>
<path d="M174.6 535v4.3M177.4 535v4.3M183 535v4.3M188.6 535v4.3M191 535v4.3M194.2 535v4.3M196.6 535v4.3M198.2 535v4.3M199 535v4.3M200.6 535v4.3M205.4 535v4.3M207.8 535v4.3M209 535v4.3M211.4 535v4.3M215 535v4.3M219 535v4.3M221.4 535v4.3M230.2 535v4.3M231.8 535v4.3M232.6 535v4.3M234.2 535v4.3M252.2 535v4.3M253.8 535v4.3M254.6 535v4.3M255.8 535v4.3" stroke="#d8a4f8" stroke-width="0.7" fill="none"/>
<path d="M184.4 540.5v4.3M186 540.5v4.3M196.8 540.5v4.3M233.6 540.5v4.3M235.8 540.5v4.3M240 540.5v4.3" stroke="#40c070" stroke-width="0.75" fill="none"/>
<rect x="46.6" y="552.2" width="81" height="154.4" fill="#f8f4fb"/>
<path d="M71.6 554.52h1M53.6 560.69h1M56.6 585.4h1m38 0h1M104.6 591.57h1M89.6 625.54h1M60.6 674.95h1m25 0h1" stroke="#6161ff" stroke-width="1.58" fill="none"/>
<path d="M59.6 552.97h1m6 0h1M49.6 554.52h1M66.6 557.6h1m44 0h1M48.6 559.15h1m17 0h1M77.6 560.69h1M89.6 563.78h1m26 0h1m9 0h1M53.6 565.32h1m12 0h1m10 0h1m16 0h1m26 0h1M66.6 566.87h1m8 0h1M58.6 568.41h1m12 0h1m22 0h1m20 0h2m4 0h1M111.6 569.96h1M53.6 571.5h1m12 0h1m20 0h1M65.6 574.59h1M56.6 576.13h1m8 0h2M65.6 577.68h1m13 0h1m32 0h1M56.6 579.22h1M56.6 582.31h1m17 0h1m20 0h1M50.6 583.85h1m44 0h1M48.6 585.4h1m49 0h1M56.6 586.94h1m17 0h1M74.6 588.48h1m49 0h1M95.6 591.57h2M56.6 593.12h1m30 0h1m3 0h1m10 0h1M65.6 594.66h1m8 0h1m20 0h1m6 0h1m23 0h1M53.6 596.2h2m1 0h1m50 0h1M65.6 599.29h1M66.6 602.38h1m48 0h1M65.6 603.92h2m7 0h1m46 0h1M65.6 608.56h1m23 0h1m32 0h1M65.6 610.1h1m8 0h1m23 0h1M56.6 611.64h1m40 0h1M71.6 614.73h1m25 0h1m4 0h1M89.6 616.28h1m7 0h1M71.6 617.82h1m25 0h1M58.6 619.36h1m6 0h1m23 0h1m7 0h2M89.6 620.91h1m23 0h1M98.6 622.45h1m12 0h1M97.6 624h1M49.6 625.54h1m47 0h1M77.6 627.08h1m41 0h1M56.6 628.63h1m20 0h1M104.6 631.72h1M119.6 634.8h1M90.6 636.35h1M77.6 637.89h1M104.6 642.52h1M104.6 644.07h1M89.6 647.16h1m14 0h1M67.6 650.24h1M77.6 651.79h1m22 0h1M46.6 653.33h1m13 0h1m19 0h1m14 0h1m9 0h1m20 0h1M75.6 654.88h1M97.6 656.42h1M67.6 665.68h1M88.6 668.77h1M65.6 674.95h1M49.6 676.49h1m15 0h1M60.6 679.58h1m25 0h1M49.6 681.12h1M60.6 684.21h1M67.6 687.3h1m51 0h1M81.6 688.84h1m21 0h1M66.6 704.28h1m38 0h1M100.6 705.83h1" stroke="#9494ff" stroke-width="1.58" fill="none"/>
<path d="M48.6 552.97h2m25 0h1m6 0h1m11 0h2m1 0h1m18 0h1m4 0h1M52.6 554.52h2m5 0h1m3 0h1m4 0h1m5 0h1m2 0h1m2 0h1m13 0h2m2 0h1m4 0h1M48.6 556.06h2m3 0h1m5 0h1m11 0h1m26 0h1m17 0h1m2 0h1m6 0h1M47.6 557.6h2m3 0h1m3 0h2m2 0h1m8 0h1m5 0h1m2 0h1m11 0h1m3 0h1m3 0h1m2 0h1m7 0h1m2 0h1m12 0h1M53.6 559.15h1m2 0h1m6 0h1m13 0h1m12 0h1m3 0h1m6 0h1m5 0h1m7 0h1m5 0h1M48.6 560.69h1m7 0h1m6 0h1m49 0h1m12 0h1M53.6 562.24h1m12 0h1m10 0h1m33 0h1m1 0h1M59.6 563.78h1m11 0h1m5 0h1m16 0h1m6 0h1m10 0h1M74.6 565.32h1m16 0h1m17 0h1m5 0h1M48.6 566.87h2m18 0h1m2 0h1M56.6 568.41h1m12 0h1m4 0h1m2 0h2m8 0h1m7 0h1m7 0h1m8 0h1m12 0h1M53.6 569.96h1m5 0h1m6 0h2m6 0h1m1 0h1m3 0h1m3 0h1m5 0h1m7 0h1m8 0h1m1 0h1m5 0h1m2 0h1m7 0h1M48.6 571.5h2m13 0h1m10 0h1m6 0h1m16 0h2m7 0h1m8 0h1m4 0h1M48.6 573.04h1m10 0h1m6 0h1m21 0h2m8 0h1m10 0h1m6 0h1m9 0h1M49.6 574.59h1m5 0h2m13 0h2m2 0h1M54.6 576.13h1m19 0h1m4 0h1m15 0h1m6 0h1m2 0h1M49.6 577.68h1m4 0h1m1 0h1m17 0h1m2 0h1m5 0h2m1 0h1m8 0h2m5 0h1m1 0h1m2 0h1m3 0h1M65.6 579.22h1m8 0h1m25 0h1M65.6 580.76h1m18 0h1m4 0h1m1 0h1M55.6 582.31h1m31 0h2M53.6 583.85h1m1 0h1m4 0h1m4 0h2m4 0h1m2 0h1m8 0h2m2 0h1m16 0h1m20 0h1M53.6 585.4h1m12 0h1m7 0h1m10 0h1m8 0h1m12 0h1m4 0h1m13 0h1M48.6 586.94h1m36 0h1m21 0h1m18 0h1M54.6 588.48h1m11 0h1m19 0h1m7 0h1m5 0h1m22 0h1M50.6 590.03h1m2 0h1m2 0h1m8 0h1m5 0h1m11 0h1m31 0h1M56.6 591.57h1m7 0h2m4 0h1m3 0h1m6 0h1m1 0h1m10 0h1m4 0h1m3 0h1m8 0h1m12 0h1M61.6 593.12h1m1 0h1m1 0h1m6 0h1m8 0h1m6 0h1m1 0h1m4 0h1m2 0h1m4 0h1m3 0h1m4 0h1m2 0h1M48.6 594.66h1m1 0h1m2 0h1m1 0h2m1 0h1m10 0h1m2 0h1m10 0h1m2 0h1m1 0h3m3 0h1m3 0h1m8 0h1m4 0h1m12 0h1M60.6 596.2h1m51 0h2M56.6 597.75h1m17 0h1m22 0h1M98.6 599.29h1m27 0h1M60.6 600.84h1M47.6 602.38h1m10 0h1m4 0h1m1 0h1m8 0h1m13 0h1m8 0h1M100.6 603.92h1m9 0h1m4 0h1M66.6 605.47h1m27 0h1M56.6 607.01h1m20 0h1m9 0h2m37 0h1M49.6 608.56h1m21 0h1m14 0h1m10 0h1m4 0h1m4 0h1m6 0h1M58.6 610.1h2m11 0h1m17 0h1m7 0h1m4 0h1m19 0h1M49.6 611.64h1m15 0h2m20 0h1m1 0h1m1 0h1m6 0h1m17 0h1M49.6 613.19h1m6 0h1m8 0h2m4 0h1m26 0h1M51.6 614.73h1m4 0h1m2 0h1m3 0h1m1 0h1m23 0h1m4 0h1m3 0h1m13 0h1M56.6 616.28h1m8 0h2m4 0h1m2 0h1m2 0h1m13 0h1m19 0h1m3 0h1m9 0h1M54.6 617.82h1m3 0h1m6 0h1m3 0h1m7 0h1m46 0h1M59.6 619.36h1m11 0h1m21 0h1m2 0h1m5 0h1m19 0h1m2 0h1M49.6 620.91h1m2 0h1m5 0h1m4 0h1m1 0h1m31 0h2m8 0h1M56.6 622.45h1m14 0h1m17 0h1m7 0h1M48.6 624h1m16 0h1m8 0h1m14 0h1M65.6 625.54h1m5 0h1m14 0h1m20 0h1m4 0h2M59.6 627.08h1m30 0h1m13 0h2m20 0h1M46.6 628.63h1m13 0h1m29 0h1m6 0h1m6 0h1m7 0h1m13 0h1M55.6 630.17h1m41 0h1M56.6 631.72h1m6 0h1m2 0h1m9 0h2m3 0h1m7 0h1m13 0h1m15 0h1m6 0h1M51.6 633.26h1m15 0h1m3 0h1m5 0h1m3 0h1m7 0h2m8 0h1m4 0h1m14 0h1M65.6 634.8h1m5 0h1m41 0h1m12 0h1M65.6 636.35h1m11 0h1m5 0h1m20 0h1M46.6 637.89h1m43 0h1m7 0h1m27 0h1M90.6 639.44h1m31 0h1M71.6 640.98h1m5 0h1m12 0h1M48.6 642.52h1m7 0h1m14 0h1m11 0h1m21 0h1m7 0h1m12 0h1M59.6 644.07h1m3 0h1m7 0h1m11 0h1m5 0h2m6 0h1m3 0h1M77.6 645.61h1m3 0h1m15 0h1M77.6 647.16h1m30 0h1m10 0h1M49.6 648.7h1m11 0h1m26 0h1m9 0h1m1 0h1M46.6 650.24h1m2 0h1m15 0h1m6 0h1m11 0h1m4 0h2m7 0h1m3 0h1m2 0h1m6 0h1m3 0h1m6 0h1m2 0h1M56.6 651.79h1m3 0h2m4 0h1m1 0h1m6 0h1m12 0h1m18 0h2m3 0h1m8 0h1M51.6 653.33h1m5 0h1m7 0h1m8 0h1m6 0h1m7 0h1m2 0h1m9 0h2M100.6 654.88h1m2 0h2m7 0h1M60.6 656.42h2m6 0h1m5 0h1m23 0h1m1 0h1m4 0h1M60.6 657.96h1m37 0h1m6 0h1m10 0h1M81.6 659.51h1m7 0h1M88.6 661.05h1m11 0h1m1 0h1M81.6 662.6h1m21 0h1m2 0h1m5 0h1M60.6 664.14h1m39 0h1m2 0h1m1 0h1m10 0h1M61.6 665.68h1m3 0h1m10 0h1m28 0h1M77.6 667.23h1m22 0h1M78.6 668.77h1m15 0h1m21 0h1M61.6 670.32h1m5 0h1m6 0h1m2 0h1m11 0h1m12 0h1m10 0h1M60.6 673.4h1m39 0h1m12 0h1M53.6 674.95h1m2 0h1m10 0h1m9 0h1m19 0h1m5 0h1m7 0h1M59.6 676.49h2m5 0h1m11 0h1m12 0h1m8 0h1m12 0h1M47.6 678.04h1m20 0h1m9 0h2M49.6 679.58h1m2 0h2m2 0h1m8 0h1m1 0h1m9 0h1m3 0h1m12 0h1m3 0h1m12 0h1m3 0h1m1 0h1m5 0h1M78.6 681.12h2m3 0h1m13 0h1m2 0h1m10 0h1m3 0h1M56.6 682.67h1m8 0h3m9 0h1m2 0h1m26 0h1m14 0h1M49.6 684.21h1m31 0h1m44 0h1M49.6 685.76h1m6 0h1m21 0h1m2 0h1M65.6 687.3h2m10 0h2m7 0h1m16 0h1m7 0h1M60.6 688.84h1m2 0h1m13 0h2m4 0h1m2 0h1m10 0h1m15 0h1m1 0h1M56.6 690.39h1m57 0h1m11 0h1M47.6 691.93h1m19 0h1M60.6 693.48h1M48.6 695.02h1m36 0h1m40 0h1M77.6 696.56h2M66.6 698.11h1m23 0h1m28 0h1M78.6 699.65h1M48.6 701.2h1m50 0h2m2 0h1M85.6 704.28h1m17 0h1M78.6 705.83h1m6 0h1m4 0h1m7 0h1" stroke="#bdbdff" stroke-width="1.58" fill="none"/>
<path d="M57.6 552.97h2m2 0h1m6 0h1m3 0h1m1 0h1m2 0h1m9 0h4m7 0h1m1 0h1m10 0h1m1 0h1m1 0h1m10 0h1M48.6 554.52h1m7 0h2m3 0h2m2 0h1m3 0h2m2 0h1m4 0h1m20 0h3m8 0h4m1 0h2m4 0h4M66.6 556.06h1m1 0h2m4 0h1m19 0h1m4 0h3m7 0h1m1 0h1m1 0h1m7 0h1m1 0h1M49.6 557.6h1m4 0h1m9 0h1m3 0h1m1 0h2m12 0h1m3 0h2m10 0h1m9 0h1m3 0h3m4 0h1m1 0h1m2 0h1M49.6 559.15h1m7 0h1m1 0h2m8 0h1m2 0h1m1 0h1m13 0h2m2 0h1m5 0h3m7 0h1m4 0h2m9 0h1M47.6 560.69h1m1 0h1m11 0h1m9 0h1m12 0h1m6 0h2m1 0h1m4 0h1m8 0h1m2 0h1m3 0h1m2 0h1M49.6 562.24h1m7 0h1m10 0h2m4 0h1m3 0h1m1 0h1m1 0h1m8 0h1m2 0h1m7 0h1m6 0h1m4 0h1m3 0h2m1 0h1M48.6 563.78h3m2 0h1m3 0h1m8 0h3m1 0h1m12 0h2m6 0h1m7 0h1m7 0h1m7 0h1m5 0h1M48.6 565.32h1m7 0h2m1 0h1m1 0h1m6 0h1m1 0h1m1 0h1m12 0h1m13 0h2m12 0h2m9 0h1m1 0h1M53.6 566.87h1m2 0h1m2 0h1m3 0h1m5 0h1m4 0h1m2 0h1m8 0h2m6 0h1m3 0h1m14 0h1m7 0h2M48.6 568.41h1m4 0h1m7 0h1m3 0h2m12 0h2m1 0h2m1 0h1m2 0h2m2 0h1m6 0h2m6 0h1m1 0h1m4 0h1m8 0h2m1 0h1M47.6 569.96h4m5 0h2m3 0h1m2 0h1m3 0h1m1 0h2m10 0h1m6 0h1m4 0h1m4 0h1m1 0h1m2 0h2m10 0h1m4 0h1m3 0h1M56.6 571.5h1m4 0h1m3 0h1m2 0h1m2 0h1m8 0h1m16 0h1m2 0h1m7 0h1m4 0h1m1 0h1m2 0h1m4 0h2M49.6 573.04h3m2 0h1m3 0h1m1 0h2m2 0h2m4 0h1m3 0h1m2 0h1m12 0h1m3 0h1m18 0h2m3 0h2M50.6 574.59h1m2 0h1m3 0h2m4 0h1m2 0h1m23 0h1m3 0h1m7 0h2m3 0h1M51.6 576.13h1m31 0h1m6 0h1m3 0h1m1 0h1m1 0h1m4 0h1m3 0h1m10 0h1m7 0h1M46.6 577.68h1m3 0h1m2 0h1m1 0h1m2 0h1m5 0h1m1 0h1m4 0h2m5 0h1m2 0h1m5 0h3m1 0h1m2 0h1m10 0h1m7 0h1m1 0h1m1 0h1m5 0h2m1 0h1M48.6 579.22h2m10 0h1m5 0h1m4 0h1m16 0h1m2 0h1m2 0h1m3 0h2m2 0h1m4 0h1m1 0h1M47.6 580.76h1m1 0h2m3 0h1m1 0h1m9 0h1m3 0h1m3 0h1m3 0h2m3 0h1m4 0h1m6 0h1m4 0h1m1 0h1m1 0h1m2 0h1m1 0h1M50.6 582.31h2m1 0h2m3 0h1m6 0h2m3 0h1m1 0h1m4 0h1m2 0h2m1 0h1m5 0h1m1 0h1m10 0h3m2 0h1m2 0h1m4 0h1m5 0h1m4 0h1M48.6 583.85h2m6 0h1m4 0h1m5 0h1m2 0h1m14 0h2m1 0h1m4 0h1m2 0h3m1 0h1m5 0h2m1 0h1m2 0h1m2 0h1m1 0h1m1 0h1M49.6 585.4h1m5 0h1m3 0h1m3 0h1m1 0h1m5 0h1m9 0h1m7 0h1m3 0h1m2 0h2m1 0h1m4 0h1m5 0h1m4 0h1m1 0h1M57.6 586.94h1m6 0h1m1 0h1m12 0h1m7 0h1m7 0h1m6 0h1m1 0h2m3 0h1m5 0h1m9 0h1M56.6 588.48h1m2 0h1m1 0h1m8 0h3m16 0h2m11 0h1m1 0h1m2 0h1m4 0h1m12 0h2M49.6 590.03h1m4 0h1m11 0h1m3 0h1m6 0h2m1 0h2m9 0h1m1 0h1m1 0h1m3 0h1m12 0h2m3 0h1M50.6 591.57h1m1 0h2m6 0h1m2 0h1m8 0h1m4 0h1m1 0h1m5 0h1m2 0h1m1 0h1m11 0h1m3 0h2m5 0h1m10 0h1m1 0h1M48.6 593.12h2m2 0h1m5 0h2m2 0h1m3 0h1m3 0h2m3 0h1m3 0h1m9 0h1m6 0h1m7 0h1m6 0h1m14 0h1M51.6 594.66h2m1 0h1m6 0h1m8 0h2m3 0h1m1 0h1m6 0h1m11 0h1m3 0h1m3 0h2m5 0h1m1 0h1m1 0h1M47.6 596.2h2m3 0h1m5 0h1m2 0h1m3 0h2m3 0h2m9 0h1m3 0h5m12 0h1m7 0h1m4 0h1m3 0h1M55.6 597.75h1m27 0h1m7 0h1m10 0h1M48.6 599.29h1m5 0h1m11 0h1m7 0h1m8 0h1m10 0h1m16 0h1m11 0h1M52.6 600.84h1m5 0h1m4 0h1m1 0h3m2 0h1m3 0h1m2 0h1m6 0h1m3 0h1m5 0h1m3 0h1m3 0h1m9 0h1m2 0h1m2 0h1m3 0h1m1 0h1M52.6 602.38h1m4 0h1m6 0h1m4 0h3m7 0h1m4 0h1m2 0h1m8 0h1m6 0h1m1 0h1m4 0h2m5 0h3M46.6 603.92h1m5 0h1m9 0h2m7 0h1m5 0h2m9 0h2m6 0h2m22 0h1m2 0h1M63.6 605.47h1m1 0h1m6 0h1m13 0h1m1 0h1m13 0h1m2 0h1m6 0h1m11 0h1m1 0h1M63.6 607.01h1m2 0h1m1 0h1m2 0h2m1 0h1m3 0h1m5 0h1m1 0h1m9 0h1m3 0h1m1 0h2m1 0h1m4 0h1m1 0h1m2 0h1m3 0h1M47.6 608.56h1m3 0h1m4 0h1m1 0h2m6 0h1m3 0h1m14 0h1m4 0h5m13 0h1m2 0h1m3 0h1M49.6 610.1h1m41 0h2m1 0h1m12 0h1m3 0h1m6 0h1m6 0h1M74.6 611.64h2m12 0h1m1 0h1m3 0h2m5 0h1m5 0h1m4 0h1m1 0h1m7 0h1M52.6 613.19h1m1 0h1m4 0h1m12 0h2m7 0h1m7 0h1m7 0h1m2 0h1m10 0h1m1 0h1M47.6 614.73h3m3 0h2m7 0h1m1 0h1m1 0h1m1 0h1m6 0h1m7 0h1m6 0h3m8 0h1m1 0h1m7 0h1m2 0h1m7 0h1M49.6 616.28h1m1 0h1m6 0h1m29 0h1m1 0h1m3 0h1m3 0h1m1 0h3m4 0h1M48.6 617.82h2m1 0h2m2 0h2m6 0h1m8 0h1m13 0h1m9 0h1m5 0h1m4 0h1m3 0h1m3 0h1m5 0h2M49.6 619.36h1m2 0h3m5 0h1m2 0h1m2 0h1m10 0h1m6 0h1m9 0h1m6 0h1m5 0h1m2 0h2m3 0h1M56.6 620.91h1m2 0h1m2 0h1m8 0h1m1 0h1m19 0h1m6 0h1m1 0h1m8 0h2m2 0h1m7 0h2M52.6 622.45h1m12 0h1m9 0h1m26 0h1m1 0h1m2 0h1m2 0h1m1 0h2m8 0h1m2 0h1M56.6 624h1m1 0h3m5 0h1m4 0h1m1 0h1m3 0h1m9 0h1m4 0h3m17 0h2m8 0h1m2 0h1M48.6 625.54h1m17 0h1m9 0h2m16 0h1m5 0h2m19 0h1M47.6 627.08h1m7 0h2m14 0h1m6 0h1m5 0h1m6 0h2m20 0h2m7 0h1M47.6 628.63h1m7 0h1m1 0h1m1 0h1m4 0h2m5 0h1m2 0h1m3 0h1m2 0h1m5 0h1m1 0h1m1 0h4m12 0h1m6 0h1m4 0h1m2 0h1M51.6 630.17h1m5 0h1m1 0h1m5 0h1m11 0h1m5 0h1m5 0h2m10 0h1m3 0h1m8 0h1m4 0h1M46.6 631.72h1m6 0h1m4 0h1m1 0h1m10 0h1m11 0h1m8 0h2m5 0h1M46.6 633.26h1m2 0h1m6 0h2m1 0h1m3 0h1m19 0h2m6 0h1m4 0h2m3 0h1m3 0h1m1 0h1m5 0h1m7 0h1m4 0h1M49.6 634.8h1m6 0h1m3 0h1m1 0h2m3 0h1m9 0h2m4 0h1m6 0h1m6 0h1m3 0h1m2 0h1m6 0h1m9 0h1M47.6 636.35h1m1 0h1m6 0h1m4 0h1m1 0h1m17 0h1m7 0h1m3 0h1m3 0h1m1 0h1m13 0h1m12 0h1M51.6 637.89h1m15 0h1m15 0h2m4 0h1m1 0h1m22 0h1M51.6 639.44h1m4 0h1m14 0h1m17 0h1m36 0h1M51.6 640.98h1m1 0h1m13 0h1m13 0h1m6 0h2m2 0h1m18 0h2m3 0h1M49.6 642.52h1m2 0h1m7 0h1m1 0h1m5 0h1m3 0h1m4 0h1m7 0h1m8 0h1m6 0h1m12 0h1m4 0h1m2 0h1m1 0h1M49.6 644.07h1m6 0h1m3 0h1m1 0h1m2 0h1m1 0h1m9 0h1m3 0h1m10 0h1m12 0h1m7 0h1m12 0h1M78.6 645.61h1m26 0h1m6 0h1m1 0h1m11 0h1M59.6 647.16h1m2 0h2m21 0h1m4 0h1m14 0h2m6 0h2m3 0h1m5 0h1M60.6 648.7h1m1 0h1m4 0h1m4 0h1m3 0h1m3 0h2m8 0h1m3 0h1m7 0h1m9 0h1m11 0h1M47.6 650.24h1m5 0h3m4 0h2m6 0h2m7 0h1m2 0h2m1 0h1m1 0h1m2 0h1m5 0h1m5 0h1m2 0h1m3 0h1m1 0h1m3 0h1m5 0h1m1 0h1m3 0h1M46.6 651.79h1m4 0h1m12 0h2m5 0h2m3 0h1m7 0h1m5 0h1m14 0h1m3 0h1m5 0h2M47.6 653.33h3m2 0h1m6 0h1m1 0h1m10 0h1m3 0h1m11 0h1m9 0h1m1 0h1m6 0h1m2 0h1m9 0h1m4 0h1M53.6 654.88h1m3 0h1m3 0h1m14 0h2m2 0h1m3 0h1m2 0h1m5 0h1m1 0h1m15 0h1m4 0h1m4 0h1m3 0h2M52.6 656.42h1m2 0h1m1 0h1m7 0h1m5 0h1m9 0h1m7 0h1m1 0h1m1 0h1m8 0h1m4 0h2m12 0h1m3 0h2M51.6 657.96h4m6 0h1m4 0h1m1 0h1m3 0h1m4 0h1m3 0h1m7 0h1m2 0h1m9 0h1m4 0h1m4 0h2m1 0h1m8 0h1m1 0h1M57.6 659.51h1m2 0h2m14 0h1m23 0h1m1 0h1m9 0h1M49.6 661.05h1m3 0h1m5 0h1m5 0h1m10 0h1m4 0h2m2 0h1m3 0h2m12 0h1m1 0h1m2 0h1m6 0h2m9 0h1M46.6 662.6h1m1 0h1m3 0h3m21 0h1m3 0h1m2 0h1m6 0h1m7 0h1m1 0h1m1 0h1m2 0h1m5 0h1m13 0h2M46.6 664.14h1m1 0h1m5 0h1m6 0h1m16 0h1m2 0h1m2 0h1m4 0h1m2 0h1m19 0h1m7 0h1m4 0h2M77.6 665.68h1m6 0h1m9 0h1m7 0h2m8 0h1m11 0h1M56.6 667.23h1m4 0h1m3 0h1m8 0h1m6 0h1m7 0h1m4 0h1m3 0h1m4 0h1m1 0h1m8 0h1m7 0h1M46.6 668.77h1m4 0h1m2 0h2m5 0h1m3 0h1m2 0h1m2 0h1m2 0h1m6 0h1m2 0h1m5 0h1m4 0h1m1 0h2m1 0h1m1 0h1m16 0h1M46.6 670.32h1m4 0h1m1 0h1m11 0h1m6 0h1m2 0h1m2 0h1m2 0h1m3 0h1m1 0h2m5 0h1m5 0h1m2 0h1m16 0h1m2 0h1m2 0h1M85.6 671.86h1M49.6 673.4h1m5 0h2m5 0h1m14 0h2m13 0h1m2 0h1m6 0h2m3 0h1m14 0h1M47.6 674.95h1m3 0h1m11 0h1m2 0h1m12 0h1m16 0h1m10 0h1m4 0h2m7 0h2M47.6 676.49h1m3 0h1m1 0h2m9 0h1m2 0h1m1 0h1m7 0h1m1 0h1m1 0h1m8 0h1m6 0h1m3 0h1m1 0h1m3 0h1m6 0h2m5 0h2m3 0h1M49.6 678.04h1m3 0h1m2 0h1m3 0h1m5 0h2m12 0h1m16 0h1m4 0h2m8 0h2m8 0h1m3 0h1M50.6 679.58h1m3 0h1m2 0h1m1 0h1m6 0h1m1 0h1m1 0h1m7 0h1m4 0h1m1 0h1m10 0h1m3 0h1m2 0h1m3 0h1m2 0h1m8 0h1m2 0h1m1 0h1M48.6 681.12h1m4 0h2m1 0h1m2 0h3m4 0h1m2 0h1m1 0h1m2 0h1m6 0h1m4 0h1m4 0h1m4 0h1m1 0h1m4 0h1m6 0h1m11 0h1M47.6 682.67h1m1 0h1m4 0h1m5 0h1m10 0h1m2 0h1m3 0h1m2 0h1m4 0h1m3 0h1m7 0h1m1 0h1m14 0h1m4 0h1m4 0h2M52.6 684.21h1m5 0h1m5 0h1m1 0h2m9 0h2m7 0h1m7 0h1m1 0h1m6 0h1m11 0h1M60.6 685.76h1m1 0h1m2 0h1m4 0h1m18 0h2m6 0h1m10 0h1m13 0h1M48.6 687.3h3m5 0h1m3 0h1m19 0h1m2 0h1m7 0h1m6 0h1m1 0h1m11 0h1M66.6 688.84h1m27 0h1m5 0h1m8 0h1m2 0h1m5 0h1m1 0h1M59.6 690.39h2m9 0h1m3 0h1m16 0h1m10 0h1m9 0h2m1 0h1M64.6 691.93h3m10 0h1m1 0h1m9 0h1M56.6 693.48h1m2 0h1m5 0h1m12 0h1m2 0h1m4 0h1m2 0h1m17 0h1m5 0h1M51.6 695.02h2m4 0h1m8 0h1m4 0h1m5 0h3m12 0h1m7 0h1m2 0h2M66.6 696.56h1m4 0h1m2 0h1m4 0h1m10 0h2m3 0h1m4 0h1m1 0h2m3 0h1M52.6 698.11h1m2 0h1m22 0h1m9 0h1m2 0h1m8 0h1m6 0h1m18 0h1M74.6 699.65h1m2 0h1m41 0h1M50.6 701.2h3m3 0h1m9 0h1m11 0h1m5 0h1m3 0h1m6 0h1m13 0h1m1 0h1M46.6 702.74h1m2 0h1m6 0h1m17 0h1m15 0h1m8 0h1M50.6 704.28h1m5 0h1m15 0h1m1 0h1m20 0h1m2 0h1m1 0h1m10 0h1m7 0h1m6 0h1M56.6 705.83h1m8 0h1m4 0h2m2 0h1m19 0h1m4 0h1m3 0h1m15 0h1m1 0h2m3 0h1" stroke="#dedeff" stroke-width="1.58" fill="none"/>
<path d="M51.6 552.97h2m2 0h1m25 0h1m1 0h1m2 0h1m5 0h1m9 0h3m1 0h2m4 0h1m4 0h4m1 0h1M86.6 554.52h1m6 0h1m2 0h1m9 0h2m1 0h1m7 0h2M46.6 556.06h1m3 0h2m3 0h1m11 0h1m2 0h1m2 0h1m2 0h1m1 0h2m22 0h1m4 0h1m2 0h1m3 0h1m7 0h1M80.6 557.6h1m4 0h2m4 0h1m11 0h1m16 0h1M51.6 559.15h2m5 0h1m14 0h1m1 0h1m10 0h1m6 0h1m12 0h1m10 0h1m1 0h1m5 0h1M46.6 560.69h1m3 0h3m9 0h1m1 0h1m4 0h1m2 0h1m8 0h2m18 0h1m1 0h1m2 0h1m3 0h1m1 0h1m10 0h1M60.6 562.24h1m1 0h1m9 0h1m10 0h2m5 0h1m2 0h1m5 0h1m6 0h2m2 0h1m9 0h1m3 0h1m1 0h1M46.6 563.78h1m4 0h1m4 0h1m7 0h1m4 0h1m2 0h1m8 0h1m13 0h3m7 0h2m2 0h1m10 0h1m1 0h2M47.6 565.32h1m7 0h1m6 0h1m18 0h1m5 0h1m15 0h1m1 0h1m1 0h1m11 0h1M47.6 566.87h1m2 0h1m3 0h1m3 0h1m19 0h1m1 0h1m1 0h1m2 0h1m2 0h1m3 0h1m2 0h1m3 0h1m3 0h2m1 0h1m3 0h1m4 0h1m3 0h1m5 0h1M46.6 568.41h1m7 0h1m7 0h1m10 0h1m19 0h1m3 0h1m7 0h1m11 0h1M73.6 569.96h1m7 0h1m11 0h1m1 0h1m1 0h1m10 0h1m8 0h1m2 0h1M50.6 571.5h1m1 0h1m9 0h1m13 0h1m1 0h2m5 0h1m7 0h1m8 0h3m1 0h1m15 0h1M47.6 573.04h1m9 0h1m15 0h1m1 0h1m15 0h1m1 0h1m2 0h1m7 0h1m1 0h1M47.6 574.59h1m11 0h1m1 0h1m15 0h1m8 0h1m5 0h2m2 0h1m13 0h1m3 0h2m2 0h2m2 0h3M47.6 576.13h1m7 0h1m1 0h1m1 0h3m5 0h1m7 0h1m2 0h1m7 0h1m22 0h1m7 0h1m4 0h2M57.6 577.68h1m1 0h1m2 0h1m4 0h1m12 0h1m16 0h1m8 0h1m1 0h1m7 0h1m3 0h1M46.6 579.22h1m3 0h1m1 0h1m10 0h2m8 0h1m3 0h1m2 0h1m2 0h1m2 0h1m10 0h1m3 0h1m9 0h1m3 0h2m2 0h1m2 0h1m1 0h1M52.6 580.76h1m10 0h1m11 0h2m4 0h2m18 0h1m12 0h1m1 0h1m4 0h1m1 0h1m1 0h2M61.6 582.31h1m6 0h2m3 0h1m2 0h1m7 0h1m5 0h1m1 0h1m1 0h1m2 0h1m3 0h1m14 0h1m3 0h1m2 0h1m1 0h1M52.6 583.85h1m1 0h1m3 0h1m9 0h1m8 0h1m3 0h1m29 0h1m1 0h2m3 0h1m7 0h1M47.6 585.4h1m4 0h1m23 0h1m5 0h1m9 0h1m15 0h1m5 0h1m3 0h1m6 0h1M47.6 586.94h1m4 0h1m9 0h2m4 0h2m10 0h1m18 0h1m6 0h1m1 0h1m2 0h2m5 0h4m1 0h1M47.6 588.48h1m1 0h1m7 0h2m3 0h1m1 0h2m7 0h1m1 0h4m1 0h1m29 0h1m2 0h2m1 0h1m1 0h1m1 0h2M47.6 590.03h2m11 0h1m2 0h1m8 0h1m2 0h1m13 0h2m1 0h1m3 0h1m7 0h2m4 0h2m4 0h1m1 0h1m3 0h1M46.6 591.57h1m2 0h1m4 0h1m27 0h1m1 0h1m7 0h2m22 0h2m5 0h1M47.6 593.12h1m2 0h1m16 0h1m25 0h1m6 0h1m9 0h1m3 0h1m1 0h1m1 0h2m2 0h1M67.6 594.66h1m5 0h1m2 0h1m8 0h1m15 0h1m8 0h1m3 0h1m6 0h1m1 0h1M62.6 596.2h2m4 0h1m3 0h1m1 0h1m5 0h1m11 0h1m5 0h1m6 0h1m10 0h1m1 0h1m2 0h1M67.6 597.75h1m3 0h1m3 0h1m5 0h1m3 0h1m15 0h1m4 0h1m2 0h3m3 0h3m1 0h1m3 0h1M57.6 599.29h1m4 0h1m5 0h1m1 0h2m1 0h1m1 0h1m4 0h1m14 0h1m5 0h2m1 0h2m2 0h1m4 0h3m2 0h2m1 0h1m2 0h1M46.6 600.84h2m7 0h1m1 0h1m3 0h2m5 0h1m3 0h2m2 0h1m1 0h2m3 0h1m5 0h1m14 0h1m2 0h1m1 0h1m6 0h1m4 0h1m4 0h1M48.6 602.38h1m1 0h1m4 0h1m19 0h2m5 0h2m11 0h1m4 0h1m13 0h1m9 0h2M54.6 603.92h1m6 0h1m14 0h1m4 0h1m3 0h1m20 0h1m4 0h4m2 0h1M46.6 605.47h2m1 0h3m2 0h2m4 0h1m3 0h1m3 0h1m1 0h2m1 0h1m1 0h2m2 0h3m3 0h1m1 0h1m4 0h1m8 0h1m4 0h2m2 0h1m6 0h2m2 0h1M49.6 607.01h1m4 0h2m6 0h1m1 0h1m11 0h1m4 0h2m2 0h1m15 0h1m4 0h1m6 0h1m3 0h1m3 0h2M48.6 608.56h1m4 0h1m10 0h1m7 0h1m3 0h1m1 0h1m1 0h2m13 0h2m3 0h1m3 0h1m1 0h1m2 0h1m7 0h1m6 0h1m1 0h1M46.6 610.1h1m3 0h1m2 0h3m1 0h1m6 0h1m1 0h1m3 0h1m5 0h1m3 0h1m2 0h3m1 0h1m5 0h1m2 0h1m2 0h1m3 0h3m4 0h1m5 0h1m6 0h1M47.6 611.64h1m9 0h1m12 0h1m2 0h1m3 0h1m4 0h2m1 0h1m6 0h1m11 0h2m4 0h1m7 0h1m1 0h2m1 0h2M48.6 613.19h1m1 0h1m11 0h1m4 0h2m7 0h1m1 0h1m1 0h1m1 0h1m1 0h2m5 0h3m11 0h4m8 0h1m5 0h2M69.6 614.73h1m6 0h1m1 0h1m6 0h1m9 0h1m12 0h2m3 0h1m2 0h6m1 0h1m1 0h1M53.6 616.28h1m1 0h1m3 0h1m1 0h1m6 0h1m9 0h1m26 0h1m3 0h2m5 0h1m1 0h1M53.6 617.82h1m3 0h1m2 0h1m1 0h1m12 0h2m1 0h1m1 0h2m6 0h1m3 0h1m12 0h2m2 0h1m6 0h1m1 0h1M47.6 619.36h2m1 0h2m16 0h1m7 0h1m1 0h1m1 0h2m10 0h1m6 0h1m17 0h1M67.6 620.91h2m1 0h1m4 0h2m2 0h1m15 0h2m4 0h1m2 0h2m2 0h2m7 0h1M53.6 622.45h1m1 0h1m1 0h1m2 0h2m5 0h1m1 0h1m3 0h1m2 0h1m2 0h2m9 0h1m1 0h1m2 0h2m2 0h1m6 0h1m2 0h1m4 0h1m5 0h2m1 0h2M47.6 624h1m2 0h1m1 0h1m2 0h1m6 0h1m17 0h1m1 0h1m2 0h1m18 0h1m4 0h1m5 0h1m1 0h2m2 0h1m1 0h1M46.6 625.54h1m13 0h2m2 0h1m10 0h1m17 0h1m15 0h1m4 0h1m3 0h1M48.6 627.08h1m1 0h1m1 0h2m3 0h2m5 0h1m1 0h1m1 0h1m10 0h1m16 0h1m4 0h2m3 0h1m3 0h1m7 0h1m2 0h1m1 0h1M48.6 628.63h1m5 0h1m3 0h1m7 0h1m9 0h1m5 0h1m3 0h1m1 0h1m7 0h1m11 0h1m1 0h1m10 0h1m3 0h1M48.6 630.17h1m1 0h1m2 0h2m3 0h1m7 0h2m1 0h1m1 0h1m8 0h1m3 0h1m1 0h2m8 0h1m2 0h2m2 0h1m2 0h6m1 0h1m1 0h1m1 0h1m3 0h1m2 0h1M47.6 631.72h1m2 0h1m4 0h1m1 0h1m3 0h1m6 0h1m1 0h1m16 0h1m8 0h1m1 0h1m6 0h2m3 0h1m2 0h1m1 0h4m4 0h1M50.6 633.26h1m4 0h1m2 0h1m6 0h1m4 0h1m2 0h2m7 0h1m5 0h1m3 0h1m5 0h1m4 0h1m5 0h2m3 0h1M48.6 634.8h1m1 0h1m2 0h2m3 0h1m13 0h2m1 0h1m4 0h1m1 0h1m2 0h2m23 0h1m6 0h1M48.6 636.35h1m3 0h3m7 0h1m1 0h1m3 0h3m4 0h2m2 0h1m8 0h1m5 0h3m1 0h1m1 0h1m8 0h1m4 0h1m3 0h1m6 0h1M48.6 637.89h1m1 0h1m2 0h2m2 0h2m11 0h1m5 0h1m1 0h1m7 0h1m1 0h1m6 0h1m9 0h1m4 0h1m4 0h2m5 0h1m1 0h1M49.6 639.44h1m2 0h1m2 0h1m2 0h2m1 0h1m3 0h1m1 0h1m1 0h2m1 0h1m2 0h1m3 0h1m6 0h1m4 0h1m1 0h1m4 0h2m3 0h1m2 0h1m11 0h1m2 0h1m1 0h1m1 0h1M46.6 640.98h1m2 0h1m2 0h1m1 0h2m1 0h1m10 0h2m10 0h1m12 0h1m1 0h2m5 0h2m10 0h2m2 0h1m4 0h1m1 0h1M50.6 642.52h1m2 0h1m10 0h1m2 0h1m2 0h1m2 0h1m5 0h1m4 0h1m3 0h1m2 0h1m3 0h2m6 0h1m2 0h1m8 0h2m1 0h1m6 0h1M47.6 644.07h2m1 0h1m1 0h3m17 0h1m2 0h1m17 0h2m3 0h1m4 0h1m5 0h1m2 0h1m3 0h2m5 0h1M52.6 645.61h1m5 0h1m5 0h1m3 0h1m3 0h2m1 0h1m3 0h1m3 0h2m6 0h2m2 0h1m2 0h1m3 0h1m7 0h1m11 0h1M51.6 647.16h1m1 0h3m8 0h2m1 0h1m10 0h1m1 0h1m1 0h1m3 0h1m4 0h4m1 0h1m2 0h1m9 0h1m5 0h3m4 0h1M51.6 648.7h1m7 0h1m3 0h1m5 0h1m7 0h1m4 0h1m10 0h1m3 0h1m1 0h1m14 0h1M50.6 650.24h1m5 0h1m14 0h1m1 0h1m19 0h1m7 0h1m9 0h1m6 0h1M63.6 651.79h1m5 0h2m20 0h1m1 0h2m4 0h1m1 0h1m12 0h1m4 0h1M69.6 653.33h1m7 0h1m5 0h1m17 0h1m7 0h1m13 0h2M56.6 654.88h1m10 0h1m1 0h1m9 0h1m3 0h1m8 0h1m1 0h1m1 0h1m4 0h1m8 0h1m7 0h1m4 0h1M51.6 656.42h1m7 0h1m3 0h1m11 0h2m2 0h1m4 0h1m25 0h1m4 0h1m6 0h1M46.6 657.96h1m1 0h1m7 0h1m1 0h1m3 0h1m7 0h1m11 0h1m3 0h1m8 0h2m12 0h1m11 0h1M47.6 659.51h1m1 0h1m5 0h1m6 0h2m6 0h1m4 0h1m1 0h1m2 0h1m2 0h1m2 0h3m3 0h1m1 0h2m1 0h1m3 0h1m2 0h1m3 0h1m1 0h1m15 0h1M46.6 661.05h1m1 0h1m2 0h1m2 0h1m2 0h1m5 0h2m1 0h1m4 0h1m11 0h2m1 0h1m5 0h2m3 0h1m24 0h2M47.6 662.6h1m9 0h1m4 0h1m2 0h1m1 0h1m4 0h1m2 0h1m9 0h1m7 0h1m28 0h1M59.6 664.14h1m4 0h1m1 0h1m1 0h2m5 0h1m4 0h1m4 0h1m5 0h1m3 0h1m8 0h1m5 0h1m3 0h1m4 0h1m3 0h1M47.6 665.68h1m2 0h2m1 0h1m1 0h1m2 0h1m3 0h3m3 0h3m8 0h1m6 0h1m5 0h1m4 0h1m6 0h1m3 0h2m7 0h2m1 0h1M49.6 667.23h1m2 0h1m5 0h1m7 0h1m8 0h2m1 0h1m3 0h2m1 0h2m1 0h1m3 0h2m3 0h1m1 0h1m4 0h1m1 0h1m3 0h2m1 0h1m1 0h1m1 0h1m1 0h1M47.6 668.77h1m1 0h1m2 0h1m3 0h1m2 0h1m2 0h1m12 0h1m3 0h1m3 0h1m3 0h1m3 0h1m1 0h1m2 0h1m7 0h1m2 0h1m5 0h1m1 0h1m1 0h2m3 0h1m1 0h1M49.6 670.32h1m2 0h1m5 0h2m2 0h1m1 0h1m1 0h1m3 0h1m11 0h2m15 0h1m6 0h1m1 0h2m1 0h1m3 0h1m2 0h1m2 0h1m3 0h1M57.6 671.86h2m1 0h1m4 0h1m1 0h2m3 0h2m3 0h1m1 0h1m3 0h1m2 0h3m1 0h1m3 0h1m14 0h1m1 0h1m4 0h2m1 0h1m2 0h1m2 0h1M59.6 673.4h1m1 0h1m9 0h1m1 0h1m1 0h1m5 0h1m2 0h1m5 0h1m8 0h1m6 0h1m3 0h2m2 0h1m1 0h1m1 0h1m6 0h1M46.6 674.95h1m5 0h1m2 0h1m19 0h1m6 0h1m2 0h1m1 0h1m5 0h2m4 0h1m2 0h1m5 0h3m4 0h1m7 0h2M50.6 676.49h1m4 0h1m1 0h2m3 0h1m11 0h2m8 0h2m9 0h1m3 0h1m6 0h1m1 0h1m3 0h1m5 0h3M52.6 678.04h1m1 0h1m14 0h2m2 0h1m1 0h1m6 0h3m1 0h1m1 0h1m3 0h2m1 0h1m2 0h1m2 0h1m2 0h1m2 0h1m12 0h1m4 0h1M48.6 679.58h1m6 0h1m13 0h1m4 0h2m6 0h1m23 0h1m1 0h2m15 0h1M50.6 681.12h1m6 0h1m17 0h1m1 0h1m11 0h1m2 0h1m2 0h1m5 0h1m4 0h1m1 0h1m5 0h1m5 0h2m1 0h1m1 0h1M48.6 682.67h1m8 0h1m4 0h3m4 0h1m14 0h2m17 0h1m5 0h1m3 0h2M62.6 684.21h1m2 0h1m7 0h4m24 0h1m3 0h1m2 0h2m3 0h1m2 0h2m6 0h2M53.6 685.76h1m15 0h1m4 0h2m3 0h1m4 0h1m7 0h2m22 0h1m1 0h4m1 0h1m1 0h2M53.6 687.3h1m3 0h1m11 0h1m2 0h2m2 0h1m5 0h1m2 0h1m2 0h2m3 0h1m24 0h1M46.6 688.84h1m4 0h1m2 0h3m1 0h1m13 0h1m2 0h1m11 0h1m3 0h1m3 0h1m5 0h2m1 0h1m2 0h2m5 0h1m2 0h1m4 0h2M52.6 690.39h1m1 0h2m2 0h1m4 0h1m2 0h1m4 0h3m1 0h1m1 0h1m1 0h2m4 0h1m4 0h1m1 0h1m1 0h1m6 0h1m2 0h1m2 0h2m2 0h1m4 0h2m3 0h1m3 0h1M46.6 691.93h1m1 0h1m2 0h1m1 0h2m7 0h1m10 0h1m1 0h1m2 0h1m3 0h2m4 0h1m1 0h1m3 0h3m8 0h1m2 0h1m12 0h1m1 0h1m1 0h1M48.6 693.48h1m1 0h2m2 0h2m7 0h1m6 0h1m2 0h2m1 0h1m5 0h1m1 0h1m3 0h1m7 0h4m5 0h1m3 0h1m9 0h1m2 0h1m1 0h1m1 0h1M47.6 695.02h1m2 0h1m4 0h1m7 0h1m3 0h1m16 0h1m1 0h1m6 0h1m3 0h1m3 0h1m4 0h3m2 0h1m1 0h1m1 0h1m9 0h1M54.6 696.56h1m5 0h1m2 0h2m7 0h1m2 0h1m7 0h1m1 0h2m10 0h2m9 0h1m2 0h2m1 0h2m2 0h1m2 0h2m3 0h1M49.6 698.11h1m3 0h2m3 0h1m4 0h1m6 0h1m1 0h1m7 0h2m1 0h1m18 0h1m1 0h1m5 0h1m1 0h1m3 0h1M46.6 699.65h1m2 0h2m4 0h1m6 0h2m5 0h4m11 0h1m1 0h1m2 0h1m4 0h1m2 0h1m1 0h4m4 0h1m5 0h3m5 0h1M47.6 701.2h1m7 0h1m5 0h2m5 0h2m1 0h2m2 0h1m15 0h2m1 0h1m2 0h1m6 0h1m10 0h1m7 0h1m1 0h1M50.6 702.74h2m1 0h1m3 0h2m2 0h1m2 0h1m2 0h2m3 0h1m19 0h1m1 0h1m2 0h1m4 0h2m1 0h1m7 0h1m7 0h1m2 0h1m1 0h1M47.6 704.28h2m8 0h1m2 0h5m2 0h1m2 0h1m4 0h1m7 0h2m2 0h3m3 0h1m2 0h1m15 0h1m4 0h1m4 0h1m1 0h2M46.6 705.83h1m7 0h1m4 0h1m4 0h1m2 0h1m1 0h1m10 0h2m4 0h2m3 0h2m2 0h1m1 0h1m3 0h1m2 0h1m6 0h1m6 0h1m1 0h1m3 0h1" stroke="#ffdede" stroke-width="1.58" fill="none"/>
<path d="M93.6 552.97h1m2 0h1m2 0h1M46.6 554.52h1m17 0h1m2 0h1m29 0h1m22 0h1m4 0h1M52.6 556.06h1m28 0h1m3 0h1m4 0h1m1 0h1m3 0h1m9 0h1m5 0h1m7 0h1M106.6 557.6h1m1 0h1M65.6 559.15h1M54.6 560.69h1m10 0h1m10 0h1m8 0h1m1 0h1m10 0h1m5 0h2m16 0h1M46.6 562.24h1m3 0h1m1 0h1m5 0h1m5 0h1m10 0h1m5 0h1m3 0h1m10 0h1m3 0h1m7 0h1m14 0h1M117.6 563.78h1M50.6 565.32h1m42 0h1m2 0h1m15 0h1m4 0h1m5 0h1M46.6 566.87h1m46 0h1m15 0h1m4 0h1M81.6 568.41h1m14 0h1M55.6 569.96h1m9 0h1m20 0h1m19 0h1M73.6 571.5h1m12 0h1m18 0h1M46.6 573.04h1m8 0h1m6 0h1m5 0h1m7 0h1m9 0h1m21 0h1M46.6 574.59h1m5 0h1m20 0h1m2 0h1m1 0h1m3 0h1m33 0h1m3 0h2m3 0h1M46.6 576.13h1m15 0h2m4 0h2m10 0h1m1 0h1m23 0h1m12 0h1m1 0h1M68.6 577.68h1m4 0h1m18 0h1m25 0h1M54.6 579.22h1m2 0h1m3 0h1m6 0h2m6 0h1m1 0h1m5 0h1m7 0h1m13 0h1m6 0h1m3 0h1m2 0h1M69.6 580.76h1m3 0h1m12 0h1m5 0h2m11 0h1m12 0h1m1 0h1M57.6 582.31h1m6 0h1m17 0h1m28 0h1m10 0h1M46.6 583.85h1m4 0h1m21 0h1m1 0h1m6 0h1m9 0h1m15 0h1m14 0h1M54.6 585.4h1m17 0h1m5 0h1M54.6 586.94h1m18 0h1m2 0h1m26 0h1m10 0h1m2 0h1m6 0h1M69.6 588.48h1m17 0h1m4 0h1m13 0h1m10 0h1M46.6 590.03h1m15 0h1m4 0h1m14 0h1m26 0h1m10 0h2M62.6 591.57h1m10 0h1m2 0h1m3 0h1m28 0h1M57.6 593.12h1m15 0h1m43 0h1m2 0h1M46.6 594.66h1m13 0h1m7 0h1m13 0h1M46.6 596.2h1m10 0h1m15 0h1m2 0h1m5 0h1m16 0h1m6 0h1m7 0h1M52.6 597.75h1m4 0h1m2 0h1m1 0h3m3 0h2m3 0h1m6 0h1m11 0h2m5 0h1m22 0h1m2 0h1M47.6 599.29h1m3 0h2m14 0h1m1 0h1m21 0h3m6 0h1m8 0h1m2 0h1m4 0h1m2 0h1M54.6 600.84h1m16 0h1m10 0h1m2 0h1m11 0h1m8 0h1m7 0h1M75.6 603.92h1M48.6 605.47h1m12 0h1m5 0h1m14 0h2m30 0h1m5 0h1M46.6 607.01h1M46.6 608.56h1m3 0h1m10 0h2m10 0h1m10 0h1m25 0h1m12 0h1M67.6 610.1h1m4 0h1m2 0h1m3 0h1m8 0h1m6 0h1m23 0h1M46.6 611.64h1m14 0h2m4 0h1m1 0h1m9 0h1m29 0h1m7 0h1M46.6 613.19h1m6 0h1m4 0h1m4 0h1m5 0h1m9 0h1m7 0h1m11 0h1m3 0h1m11 0h1m10 0h1M46.6 614.73h1m20 0h1m13 0h1m4 0h1m12 0h1m10 0h1m13 0h1M46.6 616.28h1m10 0h1m11 0h1m9 0h2m1 0h1m16 0h1m3 0h1m2 0h1m12 0h1M61.6 617.82h1m20 0h2m1 0h1m7 0h1m14 0h1m8 0h1M46.6 619.36h1m10 0h1m27 0h1m18 0h1m4 0h1M46.6 620.91h2m16 0h1m7 0h1m12 0h1m20 0h1m13 0h1M46.6 622.45h1m15 0h1m20 0h2m20 0h1M46.6 624h1m29 0h1m2 0h1m4 0h1m21 0h1m12 0h1M52.6 625.54h1m4 0h1m12 0h1m8 0h1m3 0h2m11 0h1m7 0h1m5 0h1m6 0h1m5 0h1M61.6 627.08h1m7 0h2m4 0h2m5 0h1m3 0h2m1 0h1m8 0h2M53.6 628.63h1m18 0h2m10 0h1m10 0h1m19 0h1m4 0h1m2 0h1M52.6 630.17h1m11 0h1m5 0h1m2 0h2m1 0h1m5 0h1m9 0h1m5 0h1m17 0h1M48.6 631.72h1m20 0h1m25 0h1M47.6 633.26h1m28 0h1m18 0h1m24 0h1M61.6 634.8h1m6 0h2m19 0h1m8 0h2m9 0h1m8 0h1m4 0h1M50.6 636.35h1m22 0h1m8 0h1m1 0h1m35 0h1m2 0h1M59.6 637.89h1m3 0h1m9 0h1m8 0h1m13 0h1m11 0h2m11 0h1M46.6 639.44h2m6 0h1m2 0h1m10 0h1m4 0h1m8 0h1m13 0h1m3 0h1m7 0h2m4 0h1m2 0h1m2 0h1M70.6 640.98h1m11 0h1m1 0h1m13 0h1m7 0h1m1 0h1m8 0h1m2 0h1m3 0h1M57.6 642.52h1m17 0h1m23 0h1m8 0h1M55.6 644.07h1m12 0h1m10 0h2m15 0h1m11 0h1m1 0h1m13 0h1M47.6 645.61h1m6 0h2m14 0h1m5 0h1m9 0h1m1 0h1m10 0h2m14 0h1m1 0h2m1 0h1m4 0h1M47.6 647.16h1m2 0h1m1 0h1m8 0h1m4 0h1m6 0h1m2 0h1m18 0h1m2 0h1m3 0h2m16 0h1M48.6 648.7h1m21 0h1m2 0h1m1 0h1m9 0h1m20 0h1m3 0h1m6 0h1M82.6 650.24h1m3 0h1m10 0h1m1 0h1m4 0h1m12 0h1M55.6 651.79h1m17 0h1m48 0h1M62.6 653.33h1m10 0h1m8 0h1m2 0h1m5 0h1m1 0h1M50.6 654.88h1m7 0h1m11 0h1m2 0h1m8 0h1m14 0h1m16 0h1M50.6 656.42h1m11 0h1m1 0h1m4 0h1m3 0h1m6 0h1m5 0h1m8 0h2m9 0h1m2 0h1m13 0h1M69.6 657.96h1m3 0h1m10 0h2m5 0h1m1 0h1m3 0h1m3 0h1m4 0h1m3 0h2m6 0h1M46.6 659.51h1m3 0h2m6 0h1m6 0h2m6 0h1m5 0h1m5 0h1m5 0h1m1 0h1m17 0h1m2 0h1m3 0h2m2 0h2M50.6 661.05h1m22 0h1m4 0h1m12 0h1m12 0h1m5 0h1m6 0h1m3 0h1m2 0h1M51.6 662.6h1m7 0h1m3 0h1m9 0h1m12 0h2m3 0h1m7 0h1m9 0h1m4 0h1M50.6 664.14h1m11 0h2m6 0h1m1 0h1m6 0h1m7 0h1m5 0h1m2 0h2m3 0h1m16 0h1M46.6 665.68h1m9 0h1m9 0h1m4 0h1m2 0h2m6 0h1m4 0h1m3 0h1m18 0h1m2 0h1M50.6 667.23h2m10 0h1m1 0h1m3 0h1m1 0h1m1 0h1m6 0h1m11 0h1m3 0h1m5 0h1m16 0h1m5 0h2M50.6 668.77h1m7 0h1m4 0h1m18 0h1m3 0h1M50.6 670.32h1m3 0h1m8 0h1m9 0h1m6 0h1m20 0h1m8 0h1m3 0h1m2 0h1M52.6 671.86h1m2 0h1m3 0h1m1 0h2m3 0h1m2 0h1m8 0h1m3 0h1m1 0h1m6 0h1m3 0h2m2 0h1m1 0h1m6 0h1m1 0h1m2 0h1m4 0h1m4 0h2M46.6 673.4h1m4 0h1m20 0h1m12 0h1m1 0h1m5 0h1m11 0h1m11 0h1m3 0h1m1 0h1M50.6 674.95h1m21 0h1m1 0h1m1 0h1m27 0h1m12 0h2M46.6 676.49h1m26 0h1m2 0h1m5 0h1m4 0h1m5 0h1m10 0h1m5 0h1M62.6 678.04h2m1 0h1m10 0h1m8 0h1m1 0h1m2 0h1m15 0h1m3 0h1m5 0h1m1 0h2M46.6 679.58h1m16 0h1m12 0h1m10 0h1m5 0h1M46.6 681.12h1m25 0h2m11 0h1m8 0h1m21 0h1M46.6 682.67h1m8 0h1m16 0h1m14 0h1m6 0h1m4 0h1m11 0h1m4 0h2m1 0h1M50.6 684.21h2m1 0h1m3 0h1m12 0h2m12 0h2m2 0h1m1 0h1m2 0h1m5 0h1m2 0h1m1 0h1m9 0h1m3 0h1M46.6 685.76h1m1 0h1m1 0h1m6 0h1m13 0h1m4 0h1m8 0h1m2 0h1m12 0h1m2 0h3m2 0h2m13 0h1M58.6 687.3h1m28 0h1m22 0h1m3 0h1m2 0h1m5 0h1M73.6 688.84h1m18 0h2m5 0h1m6 0h1m18 0h1M48.6 690.39h1m8 0h1m10 0h1m7 0h1m10 0h1m7 0h2m1 0h2m6 0h1m3 0h1m7 0h1M55.6 691.93h1m1 0h2m9 0h1m7 0h1m8 0h1m1 0h1m11 0h1m1 0h2m1 0h1m1 0h1m3 0h1m1 0h1m1 0h1m1 0h1m2 0h1m4 0h1M46.6 693.48h1m2 0h1m3 0h1m7 0h1m9 0h2m2 0h1m4 0h1m6 0h1m4 0h1m1 0h2m20 0h1m3 0h1m2 0h1m1 0h1M59.6 695.02h4m1 0h1m11 0h1m11 0h1m20 0h2m12 0h2M47.6 696.56h1m7 0h1m20 0h1m3 0h1m12 0h2m1 0h1m12 0h1m6 0h1m6 0h1M47.6 698.11h2m12 0h1m2 0h1m2 0h1m8 0h1m5 0h1m1 0h1m1 0h2m1 0h1m3 0h2m1 0h2m11 0h1m10 0h1m1 0h2m1 0h1M48.6 699.65h1m5 0h1m5 0h2m3 0h1m9 0h1m3 0h1m2 0h2m3 0h1m4 0h1m3 0h1m1 0h1m6 0h2m2 0h1m6 0h2m5 0h1M57.6 701.2h3m7 0h1m5 0h1m2 0h1m2 0h2m1 0h1m3 0h1m14 0h1m4 0h1m1 0h1m1 0h1m1 0h1M47.6 702.74h1m11 0h1m3 0h1m5 0h1m12 0h1m1 0h2m1 0h3m1 0h1m3 0h2m1 0h1m7 0h1m1 0h2m1 0h2m1 0h1m1 0h1m1 0h1m1 0h1m2 0h1M55.6 704.28h1m2 0h2m20 0h2m4 0h1m4 0h2m1 0h1m2 0h1m4 0h1m1 0h1m2 0h1M50.6 705.83h1m4 0h1m4 0h3m10 0h1m2 0h1m6 0h2m8 0h1m23 0h1" stroke="#ffbdbd" stroke-width="1.58" fill="none"/>
<path d="M62.6 556.06h1M78.6 559.15h1M74.6 560.69h1m18 0h1m26 0h1M86.6 562.24h1m17 0h1m12 0h1M106.6 565.32h1M117.6 571.5h1M117.6 573.04h1M64.6 576.13h1m8 0h1m2 0h1m37 0h1M76.6 577.68h1M114.6 579.22h1m3 0h1m4 0h1M122.6 580.76h1M117.6 582.31h1M68.6 585.4h1m4 0h1M61.6 586.94h1m39 0h1M68.6 588.48h1m13 0h1M68.6 590.03h1m4 0h1m2 0h1M68.6 593.12h1m15 0h1M108.6 594.66h1M46.6 597.75h2m28 0h1m5 0h1m35 0h1m1 0h1M63.6 599.29h1m12 0h1m5 0h1m33 0h1M120.6 602.38h1M79.6 608.56h1M106.6 610.1h1m2 0h1M52.6 611.64h1m53 0h1M57.6 613.19h1M80.6 614.73h1m25 0h1M124.6 616.28h1M46.6 617.82h1M106.6 619.36h1M57.6 620.91h1M81.6 622.45h1m26 0h1m8 0h1M72.6 624h1m47 0h1M106.6 625.54h1M120.6 627.08h1M52.6 628.63h1M120.6 630.17h1m4 0h1M73.6 631.72h1m46 0h1M120.6 634.8h1M108.6 636.35h1M66.6 637.89h1m18 0h1m34 0h1M48.6 639.44h1m4 0h1m62 0h1M72.6 640.98h2M69.6 642.52h1m50 0h1M73.6 644.07h1m21 0h1m10 0h1m13 0h1M59.6 645.61h1m22 0h1m13 0h1m9 0h1M68.6 647.16h1M50.6 648.7h1m28 0h1M50.6 651.79h1M58.6 653.33h1M59.6 654.88h1m3 0h1M124.6 656.42h1M71.6 657.96h1M69.6 659.51h1m2 0h1m9 0h1m26 0h1m14 0h1M62.6 661.05h1m6 0h1m44 0h1m3 0h1M69.6 662.6h2m3 0h1m7 0h1m27 0h1m12 0h1M82.6 664.14h1M59.6 665.68h1m13 0h1m15 0h1m3 0h1M87.6 667.23h1M73.6 668.77h1m36 0h1M79.6 670.32h1m11 0h1m1 0h1m30 0h1M50.6 671.86h1m12 0h1m6 0h1m22 0h1m9 0h1M58.6 673.4h1m4 0h1m12 0h1M57.6 674.95h2m12 0h1M117.6 676.49h1M57.6 678.04h1m14 0h1m50 0h1M47.6 679.58h1m57 0h1M58.6 681.12h1m17 0h1m10 0h1M50.6 682.67h1m7 0h1m34 0h1m12 0h1m14 0h1M46.6 684.21h1m1 0h1m38 0h1m23 0h1M66.6 685.76h1m1 0h1m3 0h1m9 0h1m16 0h1M106.6 687.3h1M76.6 688.84h1m39 0h1M46.6 690.39h1m3 0h1m31 0h1m1 0h1M50.6 691.93h1m21 0h1m20 0h1M58.6 693.48h1m20 0h1m5 0h1m18 0h1m1 0h1M80.6 695.02h1m2 0h1m10 0h1M58.6 696.56h2m8 0h1m4 0h1m13 0h1m29 0h1M73.6 698.11h1m43 0h1M47.6 699.65h1m9 0h1m1 0h1m13 0h1m2 0h1m16 0h1m1 0h1m14 0h1m7 0h1M49.6 701.2h1m4 0h1m28 0h1m9 0h1m23 0h1M55.6 702.74h1m14 0h1m2 0h1m1 0h2m3 0h1m2 0h1m9 0h1m10 0h1m5 0h1m6 0h1m7 0h1M54.6 704.28h1m21 0h2m32 0h1m7 0h1m4 0h1M58.6 705.83h1m51 0h1" stroke="#ff9494" stroke-width="1.58" fill="none"/>
<path d="M51.6 562.24h1M122.6 599.29h1M78.6 611.64h1M82.6 631.72h1M66.6 634.8h1M84.6 647.16h1M62.6 654.88h1M101.6 661.05h1M49.6 665.68h1M58.6 678.04h1M93.6 690.39h1M93.6 693.48h1M73.6 695.02h1M58.6 699.65h1m21 0h1M73.6 704.28h1" stroke="#ff6161" stroke-width="1.58" fill="none"/>
<path d="M92.6 684.21h1m13 0h1" stroke="#ff1a1a" stroke-width="1.58" fill="none"/>
<rect x="129.2" y="552.2" width="43" height="154.4" fill="#f8f4fb"/>
<path d="M148.2 577.68h1M160.2 674.95h1M157.2 676.49h1M159.2 681.12h1" stroke="#6161ff" stroke-width="1.58" fill="none"/>
<path d="M134.2 552.97h2m23 0h1m2 0h1M166.2 557.6h1M134.2 560.69h1M134.2 569.96h1m31 0h1M135.2 571.5h1M148.2 574.59h1M148.2 576.13h1M130.2 580.76h1M159.2 585.4h1M135.2 586.94h1M159.2 590.03h1M148.2 591.57h1M135.2 593.12h1m23 0h1M148.2 594.66h1M130.2 596.2h1m9 0h1M162.2 610.1h1M160.2 614.73h1M130.2 619.36h1M148.2 624h1M130.2 633.26h1M162.2 642.52h1M130.2 650.24h1m15 0h1m9 0h1M166.2 651.79h1M130.2 653.33h1m35 0h1M148.2 656.42h1M140.2 657.96h1M130.2 662.6h1M130.2 674.95h1M135.2 678.04h1m12 0h1m7 0h1M134.2 679.58h1m21 0h1m5 0h1M162.2 681.12h1M156.2 684.21h1M134.2 687.3h1m27 0h1M134.2 688.84h1m21 0h1m7 0h1m4 0h1M157.2 690.39h1M152.2 695.02h1M130.2 696.56h1M130.2 698.11h1m35 0h1M135.2 701.2h1m26 0h1M162.2 705.83h1" stroke="#9494ff" stroke-width="1.58" fill="none"/>
<path d="M135.2 554.52h1m4 0h1m18 0h1M135.2 557.6h1m12 0h1M148.2 559.15h1m13 0h1M135.2 562.24h1M162.2 563.78h1M134.2 565.32h2M134.2 566.87h2m26 0h1M135.2 568.41h1m4 0h1m7 0h1m17 0h1M148.2 569.96h1m11 0h1m1 0h1M142.2 573.04h1m16 0h1m6 0h1M159.2 576.13h1M130.2 577.68h1m5 0h1m6 0h1m15 0h1m6 0h1M135.2 580.76h1m14 0h1M130.2 582.31h1m19 0h1m5 0h1m2 0h1M135.2 583.85h1m12 0h1M130.2 585.4h1m12 0h1m4 0h1m9 0h1m7 0h1M135.2 588.48h1m12 0h1m13 0h1M130.2 590.03h1m17 0h1m17 0h1M134.2 591.57h1m21 0h1m2 0h1M130.2 593.12h1m35 0h1M130.2 594.66h1m28 0h1M148.2 596.2h1m10 0h1M134.2 599.29h1m13 0h1m9 0h1M136.2 602.38h1m13 0h1m5 0h2m1 0h1m6 0h1m2 0h1M135.2 603.92h1m12 0h1m13 0h1m7 0h1M160.2 605.47h1M134.2 607.01h2m14 0h1m6 0h2M135.2 608.56h1m14 0h1m15 0h1M140.2 610.1h1m18 0h1M130.2 611.64h1m3 0h1m24 0h1m2 0h1M132.2 613.19h1m1 0h2m23 0h1m6 0h1M162.2 614.73h1m3 0h1M130.2 616.28h1m3 0h1M159.2 617.82h1m2 0h1m7 0h1M132.2 619.36h1m1 0h1m24 0h1m2 0h1M132.2 620.91h1m1 0h1m27 0h1M134.2 622.45h1M134.2 624h1m24 0h1M132.2 625.54h1m33 0h1M143.2 627.08h1M162.2 628.63h1M146.2 630.17h1m14 0h1M159.2 631.72h1m9 0h1M140.2 634.8h1M134.2 636.35h1m9 0h1M145.2 637.89h1M150.2 640.98h1M141.2 642.52h1M146.2 644.07h1M135.2 645.61h1m7 0h1M135.2 647.16h1m26 0h1M130.2 648.7h1m17 0h1m1 0h1M139.2 650.24h1m2 0h1m5 0h1M130.2 651.79h2m13 0h1m10 0h1m10 0h1M134.2 653.33h1m10 0h1m2 0h1m14 0h1M134.2 654.88h1m13 0h1M134.2 656.42h1m27 0h1M130.2 657.96h1m17 0h1M130.2 659.51h1m25 0h1m5 0h1M130.2 661.05h1m17 0h1M135.2 662.6h1m10 0h1m9 0h2m4 0h1m3 0h1M148.2 665.68h1m17 0h1M134.2 668.77h1m4 0h1m6 0h1m1 0h1m7 0h1m12 0h1M134.2 670.32h1m15 0h1m11 0h1M132.2 673.4h1m1 0h1m21 0h1M134.2 674.95h1m9 0h1m7 0h1m3 0h2m1 0h1m2 0h1M134.2 676.49h2m10 0h1m1 0h1m7 0h1m2 0h2m1 0h1M134.2 678.04h1m22 0h1m2 0h1m8 0h1M137.2 679.58h1m2 0h2m2 0h1m14 0h1M134.2 681.12h1m21 0h1M134.2 682.67h1M134.2 684.21h2m12 0h1m10 0h1m2 0h1M134.2 685.76h2M131.2 687.3h1m3 0h1m1 0h1m18 0h1m2 0h2M130.2 688.84h2m3 0h1m21 0h1m2 0h1m1 0h1M135.2 690.39h1m20 0h1M134.2 691.93h2m26 0h1M143.2 693.48h1m12 0h1M130.2 695.02h1m4 0h2m11 0h1m7 0h1m1 0h1m3 0h1M134.2 696.56h1m1 0h1m6 0h1m13 0h1m4 0h1m3 0h1M140.2 698.11h1M134.2 699.65h1m20 0h1M134.2 701.2h1m5 0h1m9 0h1m1 0h1m2 0h2m2 0h1m8 0h1m2 0h1M155.2 702.74h1M130.2 704.28h1m4 0h1m3 0h1m8 0h1M135.2 705.83h1m22 0h1m1 0h1m9 0h1" stroke="#bdbdff" stroke-width="1.58" fill="none"/>
<path d="M148.2 552.97h1m1 0h1m15 0h1M134.2 554.52h1m21 0h1m9 0h1M134.2 556.06h1m5 0h1m21 0h1m1 0h1m1 0h1M130.2 557.6h1m1 0h1m1 0h1m10 0h1m4 0h1m9 0h1m1 0h1M135.2 559.15h1m16 0h1m6 0h1m6 0h1m2 0h1M166.2 560.69h1M140.2 562.24h1m5 0h1m15 0h1M135.2 563.78h1m30 0h1m2 0h1M146.2 565.32h1m3 0h1M159.2 566.87h1M134.2 568.41h1m24 0h1m11 0h1M132.2 569.96h2m1 0h1M142.2 571.5h1m3 0h1m15 0h1m3 0h1M148.2 573.04h1M130.2 574.59h1m10 0h1m24 0h1M130.2 576.13h1m12 0h1m12 0h1m5 0h1M134.2 577.68h2m19 0h4m1 0h1M130.2 579.22h1m3 0h1m21 0h1m9 0h1M143.2 580.76h1m2 0h1m1 0h1m9 0h1M134.2 582.31h1m13 0h1m3 0h1m13 0h1M130.2 583.85h1m9 0h1m17 0h1M162.2 585.4h1M130.2 586.94h1m3 0h1m13 0h1m13 0h1M130.2 588.48h1m3 0h1m17 0h1m6 0h1m6 0h1M157.2 590.03h1m10 0h1M130.2 591.57h1m4 0h1m22 0h1m3 0h1m3 0h1M133.2 593.12h2m1 0h1m6 0h1m4 0h1M134.2 594.66h2m7 0h2m7 0h1m13 0h1m3 0h1M143.2 596.2h1m22 0h1M130.2 597.75h1m17 0h1m10 0h1M130.2 599.29h1m13 0h1m25 0h1M134.2 600.84h1m1 0h1m4 0h1m6 0h1m7 0h1m3 0h1M131.2 602.38h1m2 0h2m4 0h2m4 0h1m1 0h1m5 0h1m3 0h1m1 0h1m1 0h1M134.2 603.92h1m1 0h1m6 0h1m7 0h1m4 0h2m2 0h1m5 0h1m2 0h1M134.2 605.47h3m19 0h1m1 0h2m1 0h1m4 0h1m3 0h1M136.2 607.01h1m6 0h1m4 0h1m13 0h2m2 0h1m3 0h1M130.2 608.56h1m3 0h1m21 0h1m2 0h1M130.2 610.1h1m3 0h1m25 0h1M140.2 611.64h1m5 0h1m19 0h1M140.2 613.19h1m7 0h1m13 0h1M130.2 614.73h1m3 0h2m23 0h1M132.2 616.28h1m7 0h1m18 0h1m2 0h1m7 0h1M134.2 617.82h2m3 0h2M135.2 619.36h1m14 0h1M140.2 620.91h1m7 0h1m10 0h1m10 0h1M130.2 622.45h1m14 0h1m13 0h2m9 0h1M130.2 624h1m4 0h1m4 0h1m4 0h1M130.2 625.54h1m4 0h1m10 0h1m15 0h1m7 0h1M130.2 627.08h1m9 0h1m1 0h1m5 0h1m1 0h1m5 0h1m2 0h1M140.2 628.63h1m5 0h1m12 0h1M130.2 631.72h1m3 0h1m1 0h1m4 0h1m4 0h1m9 0h1m1 0h1M135.2 633.26h1m7 0h1m6 0h1m9 0h1m1 0h1M143.2 634.8h2m1 0h1m15 0h1m3 0h1M148.2 636.35h1m6 0h1m6 0h1M143.2 637.89h1m2 0h1M143.2 639.44h1m15 0h1M134.2 640.98h2m10 0h1m9 0h1m1 0h1M143.2 642.52h2m21 0h1M156.2 644.07h1M142.2 647.16h1m5 0h1M131.2 648.7h1m3 0h1m3 0h1m14 0h1m5 0h1m3 0h1m1 0h1m3 0h1M138.2 650.24h1m1 0h1m20 0h1m2 0h1m4 0h1M134.2 651.79h1m4 0h2m1 0h1m5 0h1m9 0h2M139.2 653.33h2m9 0h1m2 0h1m1 0h1m5 0h2M130.2 654.88h1m12 0h1m8 0h1m4 0h1M135.2 656.42h1m3 0h1m4 0h1m5 0h1m5 0h1M132.2 657.96h1m33 0h2m2 0h1M134.2 659.51h1m10 0h1M134.2 661.05h1m27 0h1m6 0h1M134.2 662.6h1m15 0h1m18 0h1M130.2 664.14h1m4 0h1m12 0h1m1 0h1m6 0h1M130.2 665.68h1m3 0h1m5 0h1m2 0h1m26 0h1M134.2 667.23h1m9 0h1m1 0h1m15 0h1M132.2 668.77h1m22 0h1m4 0h1m5 0h1M130.2 670.32h1m4 0h1m3 0h1m6 0h1m1 0h1m7 0h1m9 0h1m2 0h1M148.2 673.4h1m6 0h1m1 0h1M132.2 674.95h1m7 0h1m2 0h1m20 0h1m1 0h1M132.2 676.49h1m7 0h1m2 0h1m3 0h1m1 0h1M159.2 678.04h1m2 0h1M130.2 679.58h2m3 0h1m12 0h1m8 0h1m2 0h1m3 0h1M135.2 681.12h1m5 0h1m1 0h1m5 0h1m7 0h1m6 0h1m3 0h1M130.2 682.67h2m9 0h1m8 0h1m5 0h2m8 0h1M132.2 684.21h1m17 0h1M140.2 685.76h2m6 0h1m7 0h1m2 0h2m1 0h1M130.2 687.3h1m14 0h1m4 0h1m1 0h1m16 0h1M142.2 688.84h2m1 0h1m1 0h1m2 0h1m8 0h1m10 0h1M134.2 690.39h1m8 0h2m2 0h2m3 0h2m5 0h1m2 0h1m1 0h1m1 0h1m3 0h1M140.2 691.93h2m2 0h1m4 0h1m6 0h2M140.2 693.48h2m5 0h2m10 0h1m10 0h1M132.2 695.02h3m5 0h2m1 0h1m11 0h1m10 0h1M135.2 696.56h1m4 0h1m3 0h1m1 0h1m8 0h1m3 0h2m6 0h3m1 0h1M134.2 698.11h2m10 0h1m3 0h1m1 0h1m6 0h2M136.2 699.65h1m15 0h1m9 0h1M130.2 701.2h1m8 0h1m2 0h2m2 0h1m10 0h2m7 0h1m2 0h1M139.2 702.74h1m3 0h1m13 0h1m1 0h2M132.2 704.28h1m3 0h1m5 0h3m1 0h1m5 0h1m3 0h1m2 0h1m2 0h1M132.2 705.83h1m3 0h1m6 0h1m8 0h1m1 0h2" stroke="#dedeff" stroke-width="1.58" fill="none"/>
<path d="M129.2 552.97h1m2 0h1m7 0h2m1 0h2m9 0h1m3 0h1m1 0h1M132.2 554.52h1m3 0h1m7 0h1m2 0h1m1 0h2m1 0h1m5 0h1m1 0h1m7 0h1M129.2 556.06h1m6 0h1m4 0h2m2 0h2m2 0h1m6 0h2M131.2 557.6h1m1 0h1m12 0h1m17 0h1m4 0h3M129.2 559.15h1m13 0h1m10 0h1m2 0h1m10 0h1m1 0h1M137.2 560.69h1m6 0h1m14 0h2m1 0h1m6 0h2M141.2 562.24h1m1 0h2m7 0h1m3 0h1m9 0h1m4 0h1M131.2 563.78h1m4 0h2m5 0h1m6 0h1m6 0h1m3 0h1m8 0h1M132.2 565.32h1m3 0h1m15 0h1m1 0h1m6 0h1m2 0h1M137.2 566.87h1m4 0h1m3 0h1m17 0h1m5 0h1M129.2 568.41h1m1 0h1m4 0h1m5 0h2m1 0h2m2 0h1m4 0h2m6 0h1m1 0h1M159.2 569.96h1m10 0h1M130.2 571.5h1m3 0h1m1 0h1m3 0h1m2 0h2m11 0h1m2 0h1m1 0h1m2 0h1m3 0h1m1 0h1M129.2 573.04h1m13 0h5m4 0h1m2 0h1m5 0h2m1 0h1m4 0h1M129.2 574.59h1m6 0h2m4 0h3m15 0h1m3 0h1m3 0h1m1 0h1M129.2 576.13h1m1 0h1m7 0h1m6 0h1m5 0h1m7 0h1M133.2 577.68h1m5 0h1m12 0h1M131.2 579.22h3m3 0h1m2 0h1m1 0h2m5 0h2m4 0h1m13 0h2M132.2 580.76h2m3 0h1m1 0h1m4 0h1m8 0h1m1 0h3m6 0h1m3 0h1M129.2 582.31h1m6 0h2m2 0h2m2 0h3m2 0h1m3 0h1m15 0h1M139.2 583.85h1m6 0h2m7 0h1m4 0h1m1 0h1M131.2 585.4h1m8 0h2m3 0h1m8 0h1m5 0h1M133.2 586.94h1m2 0h1m5 0h1m1 0h1m12 0h1m6 0h1m5 0h1M145.2 588.48h1m3 0h1m3 0h1m1 0h4m2 0h1m7 0h1M129.2 590.03h1m3 0h1m3 0h1m5 0h1m5 0h1m6 0h1m5 0h1m6 0h1M131.2 591.57h1m4 0h2m16 0h1m8 0h1M132.2 593.12h1m4 0h1m3 0h1m13 0h1m14 0h1M154.2 594.66h3m10 0h1M131.2 596.2h1m5 0h3m4 0h1m9 0h2m1 0h1m2 0h2m1 0h1m3 0h2M134.2 597.75h2m5 0h1m1 0h2m5 0h1m1 0h1m13 0h1M129.2 599.29h1m12 0h1m7 0h1m5 0h1m4 0h1m2 0h1m6 0h1M131.2 600.84h1m1 0h1m3 0h2m1 0h1m1 0h1m1 0h1m4 0h1m11 0h1m5 0h2M129.2 602.38h1m8 0h1m8 0h1m1 0h1m11 0h1M129.2 603.92h1m7 0h2m3 0h1m1 0h1m1 0h1m2 0h1m18 0h1m2 0h1M130.2 605.47h4m5 0h1m2 0h1m2 0h1m6 0h1m11 0h2m1 0h2M130.2 607.01h3m4 0h2m5 0h1m1 0h1m2 0h1m1 0h1m1 0h1m1 0h1m4 0h1M139.2 608.56h1m1 0h1m1 0h1m2 0h2m7 0h1m5 0h1m3 0h1M133.2 610.1h1m12 0h1m1 0h1m1 0h1m2 0h1m3 0h2m2 0h1m6 0h1M133.2 611.64h1m2 0h1m2 0h1m5 0h1m3 0h2m2 0h1m2 0h1m1 0h1m12 0h1M142.2 613.19h1m1 0h3m2 0h1m2 0h1m1 0h3m1 0h1m1 0h1M133.2 614.73h1m3 0h1m1 0h1m1 0h1m3 0h3m10 0h1m4 0h1M141.2 616.28h1m1 0h2m1 0h1m2 0h1m2 0h1m1 0h1m2 0h1m2 0h1m7 0h2m1 0h1M129.2 617.82h1m7 0h1m12 0h1m1 0h1m1 0h2m10 0h1M129.2 619.36h1m3 0h1m5 0h1m1 0h2m1 0h2m2 0h1m5 0h1m9 0h1M133.2 620.91h1m2 0h1m6 0h1m13 0h1M129.2 622.45h1m5 0h7m4 0h1m6 0h1m2 0h1m4 0h1m4 0h1m2 0h1M137.2 624h1m3 0h1m10 0h1m2 0h1m2 0h1m3 0h1m1 0h1m6 0h1M137.2 625.54h1m3 0h1m5 0h2m4 0h1m3 0h1m6 0h1m2 0h1M129.2 627.08h1m7 0h1m1 0h1m5 0h1m1 0h1m6 0h1M131.2 628.63h1m1 0h1m8 0h1m4 0h3m3 0h1m1 0h1m2 0h1m2 0h1m1 0h1m7 0h1M131.2 630.17h1m1 0h1m6 0h1m4 0h1m3 0h1m2 0h1m3 0h3m7 0h1m1 0h1M129.2 631.72h1m3 0h1m4 0h1m1 0h1m1 0h2m11 0h1m4 0h1m6 0h2M129.2 633.26h1m7 0h2m1 0h1m4 0h1m2 0h1m9 0h1m2 0h1m1 0h1m3 0h1m3 0h1M147.2 634.8h1m11 0h1m1 0h1m2 0h1m6 0h1M130.2 636.35h1m11 0h1m4 0h1m11 0h1m1 0h1m2 0h1M132.2 637.89h1m3 0h1m2 0h1m1 0h1m2 0h1m3 0h2m4 0h2m4 0h2m6 0h1m1 0h2M132.2 639.44h1m8 0h1m6 0h1m8 0h2m1 0h3m3 0h1m2 0h1m1 0h1M142.2 640.98h2m4 0h1m5 0h1m6 0h1m2 0h1m3 0h2M129.2 642.52h1m18 0h1m5 0h1m2 0h2m1 0h2m6 0h1M134.2 644.07h1m1 0h1m1 0h1m5 0h1m4 0h1m9 0h1m4 0h1m6 0h1M130.2 645.61h1m2 0h2m6 0h1m2 0h3m11 0h1m2 0h1M130.2 647.16h1m3 0h1m9 0h1m1 0h1m10 0h1m1 0h1m6 0h1m3 0h1M132.2 648.7h1m4 0h1m3 0h1m3 0h1m9 0h1m5 0h1m5 0h1M136.2 650.24h2m7 0h1m1 0h1m6 0h1m5 0h1m2 0h1m4 0h1M133.2 651.79h1m9 0h1m3 0h1m13 0h1m2 0h1M131.2 653.33h1m11 0h1m10 0h1m4 0h1m5 0h1m1 0h1m2 0h1M138.2 654.88h1m1 0h1m12 0h1m10 0h2m5 0h1M132.2 656.42h1m4 0h1m14 0h1m4 0h1m1 0h1m4 0h1m3 0h1m2 0h1M131.2 657.96h1m1 0h1m2 0h3m2 0h1m1 0h3m6 0h1m7 0h1m7 0h1m2 0h1M131.2 659.51h1m8 0h1m6 0h1m4 0h1m2 0h1m1 0h1m1 0h1m9 0h1M132.2 661.05h1m7 0h1m1 0h1m2 0h1m4 0h2m5 0h2m1 0h1m7 0h1m1 0h1M131.2 662.6h1m1 0h1m6 0h2m13 0h1m4 0h2m1 0h1m6 0h1M132.2 664.14h1m3 0h3m3 0h1m3 0h1m7 0h1m4 0h1m3 0h1m6 0h2M129.2 665.68h1m2 0h1m4 0h1m4 0h1m2 0h1m9 0h1m3 0h1m3 0h1m4 0h1M130.2 667.23h2m1 0h1m2 0h1m15 0h1m1 0h1m2 0h1m1 0h1M131.2 668.77h1m4 0h1m6 0h1m1 0h1m4 0h1m7 0h2m2 0h4m1 0h1m3 0h1M133.2 670.32h1m2 0h1m6 0h1m1 0h1m6 0h1m7 0h1m7 0h1M132.2 671.86h1m2 0h1m2 0h1m1 0h2m6 0h1m4 0h1m3 0h1m1 0h1m4 0h1m2 0h1M141.2 673.4h1m8 0h2m1 0h1M136.2 674.95h1m4 0h1m4 0h1m1 0h1m4 0h1m14 0h2M133.2 676.49h1m3 0h3m4 0h1m19 0h1m4 0h1m1 0h1M132.2 678.04h1m8 0h1m1 0h1m6 0h1m12 0h2m1 0h1m3 0h1M129.2 679.58h1m3 0h1m2 0h1m2 0h1m2 0h2m1 0h3m10 0h1m2 0h1m5 0h1m2 0h1M131.2 681.12h1m4 0h1m5 0h1m1 0h1m1 0h2m4 0h3m8 0h1m7 0h1M132.2 682.67h1m5 0h1m1 0h1m1 0h1m3 0h2m7 0h1m5 0h1m9 0h1M129.2 684.21h1m7 0h2m4 0h2m2 0h1m5 0h2m9 0h2m3 0h1m1 0h1M144.2 685.76h2m12 0h1M133.2 687.3h1m4 0h1m5 0h1m6 0h1m2 0h2m12 0h1M139.2 688.84h1m6 0h1m2 0h1m3 0h1m11 0h1M129.2 690.39h2m2 0h1m3 0h1m2 0h1m9 0h2m9 0h1M133.2 691.93h1m3 0h1m4 0h2m1 0h1m1 0h1m2 0h1m1 0h1m5 0h1m2 0h1m2 0h2M131.2 693.48h1m5 0h2m3 0h1m8 0h1m5 0h1m13 0h1M138.2 695.02h1m6 0h1m14 0h2m2 0h1m4 0h1M131.2 696.56h1m6 0h1m2 0h1m10 0h1m3 0h1M132.2 698.11h2m4 0h1m9 0h1m5 0h1m3 0h1m11 0h1M132.2 699.65h2m3 0h1m3 0h1m22 0h1m3 0h4M133.2 701.2h1m4 0h1m25 0h1m2 0h1M134.2 702.74h2m2 0h1m2 0h2m1 0h2m8 0h1m3 0h1m8 0h1m1 0h1M129.2 704.28h1m1 0h1m1 0h2m2 0h1m2 0h1m4 0h1m17 0h2m4 0h3M129.2 705.83h1m3 0h1m7 0h2m1 0h1m5 0h1m10 0h1m1 0h1m3 0h1m1 0h1" stroke="#ffdede" stroke-width="1.58" fill="none"/>
<path d="M130.2 552.97h2m1 0h1m2 0h2m1 0h1m2 0h1m2 0h3m1 0h1m3 0h1m7 0h1m8 0h1M129.2 554.52h1m1 0h1m1 0h1m3 0h1m1 0h1m3 0h1m1 0h1m9 0h1m1 0h1m3 0h1m1 0h2m2 0h1m2 0h2M131.2 556.06h1m5 0h1m6 0h1m2 0h1m2 0h1m1 0h1m2 0h1m2 0h1m2 0h1m3 0h1m2 0h1M139.2 557.6h1m3 0h2m7 0h2m11 0h1M131.2 559.15h1m5 0h1m6 0h3m8 0h1m2 0h1M129.2 560.69h3m1 0h1m9 0h1m1 0h1m3 0h1m6 0h2m6 0h1m3 0h1M129.2 562.24h1m1 0h1m1 0h1m3 0h2m3 0h1m2 0h1m11 0h1m1 0h2m3 0h1m3 0h1m1 0h1M129.2 563.78h2m2 0h1m4 0h1m2 0h1m2 0h1m2 0h1m6 0h2m8 0h1m3 0h1m2 0h1M129.2 565.32h1m3 0h1m3 0h1m1 0h1m2 0h1m6 0h1m7 0h1m4 0h2m1 0h1m4 0h1M129.2 566.87h1m1 0h2m10 0h1m1 0h1m3 0h2m1 0h1m1 0h2m1 0h2m2 0h1m6 0h1M133.2 568.41h1m7 0h1m10 0h2m14 0h1m1 0h1M130.2 569.96h2m4 0h1m1 0h1m7 0h1m6 0h1m7 0h1m1 0h1m3 0h1M137.2 571.5h1m3 0h1m3 0h1m3 0h1m5 0h1m4 0h1m10 0h1M131.2 573.04h3m2 0h1m4 0h1m15 0h2M132.2 574.59h1m6 0h1m14 0h2M133.2 576.13h1m2 0h2m3 0h1m5 0h1m5 0h1m4 0h1m10 0h1m1 0h1M129.2 577.68h1m1 0h1m13 0h1m1 0h1m1 0h1m11 0h1m1 0h1m3 0h2m2 0h1M129.2 579.22h1m11 0h1m3 0h2m7 0h1m3 0h1m1 0h1m2 0h1M129.2 580.76h1m8 0h1m2 0h2m4 0h1m1 0h1m4 0h1M139.2 582.31h1m2 0h1m4 0h1m3 0h1m2 0h2m5 0h1M137.2 583.85h2m5 0h2m3 0h1m1 0h1m1 0h1m7 0h1m5 0h1m2 0h1M129.2 585.4h1m2 0h1m4 0h1m9 0h1m2 0h1m18 0h1M131.2 586.94h1m5 0h2m2 0h1m4 0h1m6 0h1m6 0h1m2 0h1m3 0h2m2 0h1M131.2 588.48h3m13 0h1m2 0h1m3 0h1m8 0h1m7 0h1M131.2 590.03h2m6 0h1m2 0h1m1 0h1m1 0h2m3 0h2m1 0h2m8 0h1M129.2 591.57h1m8 0h2m1 0h1m3 0h1m3 0h1m10 0h2m9 0h1M129.2 593.12h1m1 0h1m10 0h1m1 0h1m7 0h3m6 0h1m5 0h1m1 0h1M132.2 594.66h1m6 0h1m2 0h1m2 0h1m1 0h1m5 0h1m3 0h1m3 0h1m9 0h1M129.2 596.2h1m2 0h1m9 0h1m2 0h2m4 0h3M133.2 597.75h1m2 0h1m1 0h1m3 0h1m4 0h1m1 0h1m4 0h2m4 0h2m6 0h3M131.2 599.29h1m1 0h1m2 0h3m2 0h1m7 0h1m2 0h1m1 0h2m4 0h1m8 0h1M145.2 600.84h1m5 0h1m3 0h1m9 0h1m5 0h1M145.2 602.38h1m5 0h1m13 0h1M131.2 603.92h1m23 0h1m9 0h1M129.2 605.47h1m8 0h1m10 0h1m3 0h1m9 0h1m7 0h1M129.2 607.01h1m37 0h1M129.2 608.56h1m3 0h1m2 0h1m1 0h1m10 0h1m3 0h1M137.2 610.1h1m4 0h1m2 0h1m8 0h3m8 0h1m5 0h1M129.2 611.64h1m8 0h1m8 0h1m7 0h1m1 0h1m3 0h1m7 0h1M133.2 613.19h1m3 0h1m1 0h1m1 0h1m1 0h1m9 0h1m11 0h1m2 0h1m2 0h1M129.2 614.73h1m1 0h1m4 0h1m1 0h1m1 0h1m8 0h1m2 0h2m1 0h1m1 0h1m3 0h1m3 0h1m2 0h2M129.2 616.28h1m1 0h1m1 0h1m5 0h1m5 0h1m1 0h1m2 0h1m10 0h1m5 0h1M133.2 617.82h1m2 0h1m5 0h1m10 0h1m11 0h1m1 0h1m1 0h1M136.2 619.36h1m10 0h1m1 0h1m3 0h1m1 0h1m2 0h1m6 0h1m1 0h2m2 0h1M131.2 620.91h1m9 0h2m2 0h1m1 0h1m7 0h2m6 0h3m1 0h2m2 0h1M133.2 622.45h1m8 0h1m4 0h1m1 0h1m2 0h1m2 0h1m1 0h2m4 0h1m1 0h1m5 0h1M129.2 624h1m3 0h1m2 0h1m1 0h1m3 0h1m6 0h1m4 0h1m1 0h2m9 0h1M129.2 625.54h1m1 0h1m22 0h1M131.2 627.08h1m6 0h1m10 0h1m2 0h2m13 0h2m1 0h1M129.2 628.63h1m6 0h1m1 0h1m18 0h1m2 0h1M129.2 630.17h1m2 0h1m3 0h1m7 0h1m8 0h1m9 0h1m7 0h1M145.2 631.72h1m1 0h1m1 0h1m4 0h1m8 0h1m6 0h2M132.2 633.26h1m16 0h1m3 0h2m13 0h1m1 0h1M137.2 634.8h1m7 0h1m2 0h1m2 0h1m2 0h1m3 0h1m6 0h1m1 0h2M131.2 636.35h1m1 0h1m2 0h1m1 0h1m6 0h1m6 0h1m4 0h1m5 0h1m2 0h1m3 0h1M131.2 637.89h1m6 0h1m13 0h2m9 0h2m1 0h2m1 0h1M130.2 639.44h1m2 0h1m2 0h1m5 0h1m2 0h1m8 0h1m1 0h1m6 0h1m3 0h1M129.2 640.98h2m1 0h1m3 0h1m1 0h1m1 0h2m5 0h1m4 0h1m2 0h1m4 0h1m1 0h2m2 0h1M132.2 642.52h2m2 0h1m1 0h2m9 0h1m2 0h1m12 0h1m4 0h2M132.2 644.07h2m5 0h1m2 0h1m4 0h2m3 0h1m2 0h1m1 0h1m10 0h1m1 0h1M131.2 645.61h2m7 0h1m6 0h2m5 0h2m4 0h1m3 0h1M131.2 647.16h1m1 0h1m5 0h3m7 0h2m1 0h1m2 0h1m7 0h2m6 0h1M136.2 648.7h1m1 0h1m1 0h1m1 0h1m4 0h1m4 0h1m5 0h1m4 0h1m4 0h1m2 0h1M133.2 650.24h1m25 0h1m5 0h1m1 0h1M129.2 651.79h1m7 0h1m27 0h1m2 0h1M141.2 653.33h1m5 0h1m1 0h1m1 0h1m4 0h1m1 0h1m5 0h1M135.2 654.88h2m5 0h1m2 0h1m1 0h1m1 0h1m8 0h1m9 0h1m1 0h1M133.2 656.42h1m4 0h1m2 0h2m2 0h1m7 0h1m4 0h1m1 0h2m3 0h1M129.2 657.96h1m23 0h1m7 0h1m2 0h1M132.2 659.51h2m2 0h1m5 0h3m4 0h1m3 0h2m5 0h1m2 0h3m1 0h1m2 0h2M129.2 661.05h1m7 0h2m4 0h2m8 0h1m7 0h1m9 0h1M129.2 662.6h1m6 0h2m14 0h1m11 0h2m2 0h1m2 0h1M141.2 664.14h1m16 0h1m2 0h1m2 0h1M131.2 665.68h1m6 0h1m8 0h1m1 0h1m3 0h2m3 0h1m1 0h2m2 0h1m6 0h1M129.2 667.23h1m2 0h1m4 0h1m9 0h1m1 0h1m11 0h1m3 0h1m2 0h1m2 0h1M129.2 668.77h1m5 0h1m2 0h1m8 0h1m9 0h1m3 0h1M149.2 670.32h1m1 0h1m1 0h1m4 0h1m4 0h1m1 0h1m4 0h2M129.2 671.86h1m1 0h1m1 0h1m3 0h1m4 0h2m8 0h1m1 0h1m6 0h1m1 0h1m1 0h1m5 0h1M133.2 673.4h1m2 0h1m1 0h2m4 0h2m8 0h1m9 0h2m3 0h1m1 0h1M129.2 674.95h1m3 0h1m5 0h1m23 0h1m3 0h1M136.2 676.49h1m14 0h1m1 0h2m8 0h1m1 0h1m4 0h1M131.2 678.04h1m1 0h1m3 0h1m6 0h2m3 0h1m2 0h2m4 0h1m6 0h1m2 0h1m2 0h1M149.2 679.58h1m3 0h1m9 0h1m1 0h1m2 0h1M133.2 681.12h1m4 0h2m25 0h1M139.2 682.67h1m3 0h2m6 0h1m13 0h1M133.2 684.21h1m2 0h1m2 0h1m12 0h1m2 0h1m2 0h1m4 0h1m3 0h2M133.2 685.76h1m4 0h1m3 0h1m8 0h1m13 0h1m2 0h1M129.2 687.3h1m28 0h1m2 0h1M129.2 688.84h1m6 0h1m26 0h1M136.2 690.39h1m1 0h2m5 0h1m9 0h1m2 0h1m4 0h1m7 0h1M139.2 691.93h1m11 0h1m11 0h1M130.2 693.48h1m8 0h1m13 0h2m3 0h1m3 0h2m1 0h1m2 0h1M129.2 695.02h1m1 0h1m21 0h1M129.2 696.56h1m24 0h1m6 0h1m1 0h1M143.2 698.11h1m9 0h1m7 0h1m1 0h1m4 0h1M129.2 699.65h1m9 0h1m5 0h1m1 0h1m1 0h1m6 0h1m6 0h1m2 0h1M131.2 701.2h1m19 0h1m1 0h2m6 0h1m1 0h1M129.2 702.74h1m3 0h1m16 0h1m5 0h1M147.2 704.28h1m5 0h1m7 0h1m3 0h1m1 0h1M139.2 705.83h1m5 0h1m1 0h1m1 0h1m1 0h1m1 0h1m11 0h1" stroke="#ffbdbd" stroke-width="1.58" fill="none"/>
<path d="M138.2 552.97h1m12 0h1m3 0h1m9 0h1m1 0h1M138.2 554.52h1m2 0h1m9 0h1m1 0h2m10 0h1M133.2 556.06h1m4 0h2m13 0h1m16 0h1M129.2 557.6h1m17 0h1m1 0h1m4 0h2m11 0h1M132.2 559.15h1m3 0h1m1 0h1m8 0h1m1 0h1m3 0h1m10 0h1m2 0h1m3 0h1M136.2 560.69h1m1 0h2m1 0h1m11 0h1m4 0h1m2 0h1m9 0h1M139.2 562.24h1m7 0h1m1 0h1m5 0h1m2 0h1m2 0h1m3 0h1M139.2 563.78h1m9 0h1m2 0h2m4 0h1M138.2 565.32h1m6 0h1m1 0h1m5 0h1m13 0h1M133.2 566.87h1m2 0h1m1 0h2m4 0h1m8 0h1m6 0h1m2 0h1M138.2 568.41h2m23 0h1m1 0h1m1 0h1M129.2 569.96h1m11 0h1m5 0h1m1 0h1m8 0h1m6 0h1M129.2 571.5h1m1 0h1m1 0h1m5 0h1m7 0h1m5 0h2m3 0h1m8 0h1M137.2 573.04h3m9 0h1m3 0h2m8 0h1m3 0h1m2 0h2M131.2 574.59h1m6 0h1m7 0h2m2 0h1m2 0h1m9 0h1m1 0h1m1 0h1m1 0h1m1 0h1M138.2 576.13h1m6 0h1m9 0h1m5 0h1m1 0h1M138.2 577.68h1m12 0h1M138.2 579.22h2m4 0h1m8 0h1m7 0h1m5 0h1m3 0h1M145.2 580.76h1m6 0h1m8 0h1m1 0h1m3 0h1M131.2 582.31h1m33 0h1m5 0h1M131.2 583.85h1m1 0h1m29 0h1M138.2 585.4h2m11 0h1m3 0h1m5 0h1m5 0h1m3 0h1M129.2 586.94h1m9 0h1m5 0h1m3 0h1m4 0h2m13 0h1M138.2 588.48h2m1 0h2m8 0h1m15 0h1M138.2 590.03h1m6 0h1m7 0h1m6 0h2m1 0h1m3 0h1m3 0h1M147.2 591.57h1m19 0h1m1 0h1M138.2 593.12h1m6 0h1m1 0h1m3 0h1m11 0h1M129.2 594.66h1m8 0h1m12 0h1m13 0h1m3 0h1M141.2 596.2h1m5 0h1M129.2 597.75h1m1 0h2m4 0h1m1 0h1m13 0h1m9 0h1m3 0h1m3 0h1M139.2 599.29h1m7 0h1m3 0h1m11 0h1M129.2 600.84h1m23 0h1M153.2 602.38h1M153.2 603.92h1M151.2 605.47h1M165.2 607.01h1M151.2 608.56h1m16 0h1M131.2 610.1h1m6 0h1m5 0h1m22 0h1M131.2 611.64h1m19 0h1m11 0h1m4 0h1M129.2 613.19h1m1 0h1m19 0h1m9 0h1m1 0h1m3 0h1M171.2 614.73h1M137.2 616.28h1m15 0h1m11 0h1M138.2 617.82h1m8 0h1m13 0h1m1 0h1m7 0h1M137.2 619.36h2m13 0h1m8 0h1m1 0h1M151.2 622.45h1M131.2 624h1m14 0h1m4 0h1m1 0h1m9 0h1m1 0h1m2 0h2M136.2 625.54h1m1 0h2m2 0h1m15 0h1m6 0h1m3 0h1m1 0h1M163.2 627.08h1m1 0h1M151.2 628.63h1m2 0h1m12 0h2M137.2 630.17h1m13 0h1m2 0h1m10 0h1m1 0h1M131.2 631.72h1m25 0h1m7 0h1M136.2 633.26h1m14 0h1m3 0h1M129.2 634.8h1m19 0h1m3 0h1m16 0h1M132.2 636.35h1m20 0h2m10 0h1m1 0h1m3 0h1M147.2 637.89h1m3 0h1m13 0h1M131.2 639.44h1m5 0h2m8 0h1m1 0h1m1 0h3m11 0h1m2 0h1m1 0h1M133.2 640.98h1m5 0h1m5 0h1m7 0h1m11 0h1m4 0h2M131.2 642.52h1m13 0h1m1 0h1m3 0h1m1 0h1m9 0h2m2 0h1M129.2 644.07h1m1 0h1m5 0h1m7 0h1m7 0h2m3 0h1m4 0h1M129.2 645.61h1m6 0h3m3 0h1m6 0h1m2 0h1m4 0h1m5 0h1m1 0h1m4 0h2M129.2 647.16h1m2 0h1m3 0h1m1 0h1m6 0h1m1 0h1m3 0h1m1 0h1m2 0h1m1 0h1m6 0h1m2 0h1M151.2 650.24h1M171.2 651.79h1M129.2 653.33h1M129.2 654.88h1m1 0h1m1 0h1m17 0h1m9 0h1M129.2 656.42h1m17 0h1m1 0h1m4 0h1M147.2 657.96h1m1 0h1m13 0h1m1 0h1M137.2 659.51h1m8 0h1m11 0h1M133.2 661.05h1m13 0h1m1 0h1M147.2 662.6h1m1 0h1m1 0h1m1 0h2m4 0h1M147.2 664.14h1m1 0h1m3 0h1m11 0h1m2 0h1M151.2 665.68h2M138.2 667.23h1m12 0h1m15 0h1M137.2 668.77h1m11 0h1m1 0h1m2 0h1M129.2 670.32h1m17 0h1m6 0h1M145.2 671.86h3m1 0h1m5 0h1m2 0h1m9 0h1M129.2 673.4h1m19 0h1m17 0h1M151.2 674.95h1m6 0h1m6 0h1M129.2 676.49h1m37 0h1M129.2 678.04h2m5 0h1m2 0h1m7 0h1m3 0h1m2 0h1M151.2 679.58h1M129.2 681.12h1m20 0h2m15 0h1M129.2 682.67h1m23 0h1m13 0h1M146.2 684.21h1m4 0h1M129.2 685.76h1m6 0h1m2 0h1m6 0h1m16 0h1m3 0h1m3 0h1M139.2 687.3h1m6 0h1m18 0h1m1 0h1M167.2 688.84h1M165.2 690.39h1m1 0h1M129.2 691.93h1m23 0h1m13 0h1m3 0h1M133.2 693.48h1m33 0h1M147.2 695.02h1m15 0h1m1 0h1M149.2 696.56h1m1 0h1m1 0h1m11 0h1M147.2 698.11h1m3 0h1m13 0h1M138.2 699.65h1m12 0h1m1 0h1M149.2 702.74h1m3 0h1m9 0h1M151.2 704.28h1" stroke="#ff9494" stroke-width="1.58" fill="none"/>
<path d="M163.2 552.97h1M151.2 556.06h1m2 0h1m8 0h1m3 0h1M138.2 557.6h1m24 0h1M139.2 559.15h1m23 0h1m1 0h1M147.2 560.69h1m3 0h1m2 0h1m10 0h1m1 0h1M153.2 562.24h2m8 0h1m3 0h1M151.2 563.78h1m11 0h1m1 0h1m1 0h1M131.2 565.32h1M141.2 566.87h1m5 0h1m17 0h1M147.2 568.41h1m3 0h1M151.2 569.96h1m2 0h1M138.2 571.5h1m12 0h1m13 0h1M151.2 573.04h1m13 0h1M145.2 574.59h1m3 0h1m1 0h1m9 0h1M151.2 576.13h1M165.2 577.68h1M147.2 579.22h1m17 0h1M151.2 580.76h1m13 0h1m5 0h1M138.2 582.31h1M132.2 583.85h1m9 0h1m22 0h1m5 0h1M165.2 585.4h1M147.2 586.94h1m3 0h1m9 0h1m3 0h1M129.2 588.48h1m35 0h1M151.2 591.57h1m13 0h1M165.2 593.12h1m5 0h1M137.2 594.66h1M165.2 596.2h1M145.2 597.75h1m5 0h1m13 0h1M167.2 599.29h1M145.2 603.92h1M167.2 608.56h1M129.2 610.1h1m17 0h1m3 0h1m11 0h1M147.2 613.19h1M167.2 614.73h1M138.2 616.28h1m12 0h1m11 0h1M131.2 617.82h1m19 0h1M151.2 619.36h1M138.2 620.91h1m7 0h1m4 0h1M167.2 622.45h1M147.2 624h1M151.2 625.54h1m11 0h1M151.2 627.08h1M151.2 631.72h1m1 0h1M131.2 633.26h1m33 0h1M131.2 634.8h1m6 0h1M151.2 636.35h1M129.2 639.44h1M131.2 640.98h1m17 0h1M151.2 644.07h1m13 0h1M151.2 645.61h1m1 0h1M154.2 647.16h1m12 0h1M149.2 648.7h1M149.2 650.24h1M151.2 651.79h1M151.2 656.42h1M135.2 657.96h1m15 0h1M129.2 659.51h1m21 0h1M151.2 664.14h1M165.2 665.68h1M151.2 671.86h1M163.2 673.4h1M167.2 678.04h1M136.2 682.67h1M129.2 693.48h1M149.2 695.02h1m1 0h1M165.2 699.65h1M165.2 701.2h1M147.2 702.74h1m3 0h1M138.2 704.28h1m10 0h1" stroke="#ff6161" stroke-width="1.58" fill="none"/>
<path d="M151.2 557.6h1M151.2 559.15h1M163.2 560.69h1M151.2 562.24h1M151.2 565.32h1m19 0h1M151.2 566.87h1m15 0h1M163.2 571.5h1M165.2 576.13h1M151.2 579.22h1M152.2 585.4h1M165.2 590.03h1M165.2 599.29h1M163.2 608.56h1M167.2 611.64h1M151.2 614.73h1M165.2 628.63h1M149.2 636.35h1M151.2 640.98h1M151.2 648.7h1M153.2 685.76h1M165.2 702.74h1" stroke="#ff1a1a" stroke-width="1.58" fill="none"/>
<rect x="174.2" y="552.2" width="82" height="154.4" fill="#f8f4fb"/>
<path d="M235.2 568.41h1M188.2 665.68h1" stroke="#1a1aff" stroke-width="1.58" fill="none"/>
<path d="M208.2 573.04h1M254.2 582.31h1M204.2 585.4h1M236.2 593.12h1M205.2 594.66h1m48 0h1M199.2 596.2h1M196.2 634.8h1M188.2 650.24h1m29 0h1M181.2 651.79h1m6 0h1M177.2 656.42h1M191.2 668.77h1m23 0h1M235.2 679.58h1M235.2 687.3h1M235.2 688.84h1m13 0h1M235.2 691.93h1M182.2 696.56h1" stroke="#6161ff" stroke-width="1.58" fill="none"/>
<path d="M177.2 552.97h1M208.2 556.06h1M235.2 557.6h1M208.2 565.32h1M236.2 568.41h1M224.2 569.96h1m28 0h1M177.2 571.5h1m47 0h1m23 0h1m1 0h1M190.2 573.04h1m62 0h1M205.2 574.59h1M200.2 576.13h1m3 0h1m8 0h1m22 0h1M174.2 577.68h1m2 0h1m1 0h1m25 0h1m4 0h1m10 0h1m7 0h2m5 0h1m1 0h1M236.2 579.22h1M205.2 580.76h1m7 0h1m7 0h1m7 0h1m4 0h1m7 0h1M229.2 582.31h1m4 0h2M205.2 583.85h1m7 0h1m21 0h2m1 0h1M181.2 585.4h1m6 0h1m4 0h2m18 0h1m1 0h1m19 0h2m17 0h1M235.2 586.94h1m16 0h1M205.2 588.48h1m23 0h1M205.2 590.03h1m7 0h1m2 0h1m19 0h1M188.2 591.57h1m16 0h1m22 0h1m16 0h1m6 0h1m1 0h1M205.2 593.12h1m7 0h1m3 0h1m11 0h1m5 0h1m2 0h1M213.2 594.66h1m4 0h1m1 0h2m13 0h2m1 0h1m11 0h1M205.2 596.2h1m15 0h1m14 0h1m15 0h1m1 0h1M205.2 597.75h1m15 0h1M236.2 599.29h1M174.2 608.56h1m4 0h1m13 0h1m41 0h1M201.2 610.1h1m47 0h1M179.2 611.64h1m21 0h1m16 0h1m16 0h1m12 0h1M223.2 614.73h1m5 0h1M181.2 616.28h1M235.2 617.82h1M189.2 619.36h1m28 0h1m24 0h1M181.2 620.91h1m36 0h1m5 0h1m17 0h1M179.2 622.45h1m38 0h1m5 0h1m21 0h1m2 0h1M211.2 624h1m34 0h1m2 0h1M179.2 625.54h1m1 0h1m8 0h1m38 0h1m24 0h1M213.2 628.63h1m23 0h1M196.2 631.72h1m44 0h1M186.2 633.26h1m26 0h1m1 0h1m13 0h1m24 0h1M211.2 634.8h1m1 0h1M196.2 637.89h1M229.2 640.98h1M200.2 642.52h1m10 0h1m37 0h1M196.2 644.07h1m1 0h1m14 0h1m1 0h1M196.2 645.61h1m32 0h1m19 0h1M174.2 647.16h1m5 0h1m7 0h1m24 0h1M177.2 648.7h1m10 0h1m22 0h1m14 0h1m14 0h1m12 0h1M174.2 650.24h1m2 0h1m9 0h1m23 0h1m23 0h1m18 0h1M174.2 651.79h1m2 0h2m12 0h2m8 0h1m34 0h1m7 0h1m1 0h1m2 0h1M181.2 653.33h1m3 0h1m1 0h1m4 0h1m20 0h1m8 0h1m2 0h1m7 0h1m2 0h2m3 0h1m12 0h1M177.2 654.88h1m9 0h2m4 0h1m46 0h1m13 0h1M174.2 656.42h1m12 0h2m7 0h1m29 0h1m13 0h1m3 0h1M174.2 657.96h1m2 0h2m2 0h1m3 0h1m1 0h1m5 0h1m17 0h2m18 0h1m4 0h1M174.2 659.51h1m13 0h1m18 0h1M174.2 661.05h1m2 0h2m32 0h1m29 0h1M174.2 662.6h1m1 0h2m9 0h1m27 0h1m10 0h1M174.2 664.14h1m2 0h1m10 0h1m4 0h1m24 0h1m13 0h2m14 0h2M181.2 665.68h1m11 0h1m32 0h1m27 0h1M196.2 667.23h1M174.2 668.77h1m1 0h4m8 0h1m4 0h1m4 0h1m4 0h1m7 0h1m5 0h1m16 0h1m6 0h1M224.2 670.32h1m8 0h1m3 0h1m16 0h1M225.2 673.4h1m15 0h1M205.2 674.95h1m19 0h1m18 0h1m8 0h1M208.2 676.49h1m18 0h1m5 0h1m1 0h1m1 0h1m15 0h1M211.2 679.58h1m1 0h1m16 0h1m2 0h2M181.2 681.12h1m31 0h1m30 0h1m8 0h1M188.2 682.67h1m46 0h1m12 0h1M225.2 684.21h1M235.2 685.76h1m17 0h1M201.2 687.3h1m31 0h1M186.2 688.84h1m1 0h1m22 0h1m5 0h1m6 0h1m8 0h2m18 0h2M188.2 690.39h1m12 0h1m3 0h1m5 0h1m3 0h1m28 0h1m3 0h1M179.2 691.93h1m33 0h1m10 0h2M225.2 693.48h1m23 0h1m3 0h1M193.2 695.02h1m21 0h1m7 0h1m11 0h1m10 0h1M184.2 696.56h1m13 0h1m6 0h1m5 0h1m23 0h1m18 0h1M200.2 698.11h1m23 0h1m7 0h2m10 0h1m9 0h1M232.2 699.65h2M190.2 701.2h1m20 0h1m1 0h1m30 0h1m1 0h1m6 0h1M205.2 702.74h1M206.2 704.28h1m47 0h1M193.2 705.83h1m2 0h1m14 0h1m36 0h1m5 0h1" stroke="#9494ff" stroke-width="1.58" fill="none"/>
<path d="M180.2 552.97h1m19 0h1m44 0h1m7 0h1M179.2 554.52h1m4 0h1m23 0h1m4 0h1m15 0h1m5 0h1M177.2 556.06h1m1 0h1m9 0h1m3 0h1m42 0h1M180.2 557.6h1m3 0h1m2 0h2m4 0h1m2 0h1m29 0h1m26 0h1M178.2 559.15h1m2 0h1m1 0h1m8 0h1m8 0h1m6 0h1m7 0h1m19 0h1m16 0h1M177.2 560.69h1m3 0h1m6 0h1m4 0h1m2 0h1m56 0h1M177.2 562.24h1m14 0h1m1 0h1m58 0h1M184.2 563.78h1m3 0h1m5 0h1m1 0h1m4 0h1m4 0h1m1 0h1m4 0h1m9 0h1m22 0h1m1 0h1M177.2 565.32h1m1 0h1m8 0h1m7 0h1m4 0h1m16 0h1m16 0h1m9 0h1m7 0h1M181.2 566.87h1m41 0h1M177.2 568.41h3m8 0h1m4 0h1m10 0h1m3 0h1m16 0h1m20 0h1m3 0h2m1 0h2M181.2 569.96h2m1 0h1m11 0h1m7 0h1m8 0h1m11 0h1m1 0h1m18 0h1m8 0h1M184.2 571.5h1m3 0h2m3 0h1m2 0h1m1 0h1m2 0h1m3 0h1m2 0h2m1 0h2m1 0h1m5 0h1m14 0h2m8 0h2m3 0h1m2 0h3M175.2 573.04h1m3 0h1m8 0h2m3 0h1m7 0h1m23 0h1m1 0h1m7 0h1m10 0h1m1 0h1m6 0h1M188.2 574.59h1m4 0h2m5 0h1m12 0h1m1 0h1m4 0h2m4 0h1m8 0h2m17 0h2M188.2 576.13h2m15 0h1m2 0h1m1 0h1m7 0h1m1 0h1m4 0h1m4 0h1m4 0h1m1 0h1m16 0h1M180.2 577.68h1m1 0h2m4 0h1m1 0h1m2 0h2m2 0h2m2 0h2m1 0h1m1 0h3m4 0h1m1 0h3m2 0h1m2 0h1m9 0h1m1 0h1m7 0h3m2 0h1m4 0h2M177.2 579.22h1m2 0h1m19 0h1m12 0h1m7 0h1m13 0h1m2 0h1m11 0h1M174.2 580.76h1m2 0h1m2 0h1m7 0h2m3 0h2m5 0h1m10 0h1m5 0h2m3 0h1m12 0h2m8 0h2m8 0h1M177.2 582.31h1m2 0h1m1 0h2m4 0h2m7 0h1m3 0h1m3 0h1m4 0h4m1 0h1m1 0h1m2 0h2m1 0h1m4 0h1m7 0h1m2 0h1m8 0h1m1 0h1m1 0h1m2 0h1M177.2 583.85h3m2 0h2m4 0h1m1 0h1m2 0h1m10 0h1m1 0h1m8 0h2m1 0h1m1 0h2m7 0h2m1 0h1m1 0h1m19 0h2M174.2 585.4h1m5 0h1m21 0h1m2 0h1m2 0h1m11 0h2m7 0h1m8 0h1m3 0h1m7 0h1m1 0h1m2 0h1M174.2 586.94h1m1 0h1m2 0h1m6 0h1m2 0h2m9 0h1m4 0h1m1 0h1m4 0h2m3 0h2m1 0h1m2 0h1m5 0h1m4 0h1m3 0h1m15 0h2M174.2 588.48h1m2 0h1m10 0h2m3 0h1m6 0h1m1 0h1m1 0h1m2 0h1m5 0h1m2 0h1m4 0h1m13 0h1m3 0h1m4 0h1m3 0h1m3 0h1m1 0h1M182.2 590.03h1m6 0h1m3 0h1m2 0h1m1 0h1m3 0h1m1 0h1m12 0h2m16 0h1m6 0h1m5 0h1m1 0h1m3 0h1M174.2 591.57h2m1 0h3m2 0h1m3 0h2m1 0h2m2 0h1m19 0h1m3 0h1m3 0h1m1 0h1m1 0h1m3 0h2m2 0h3m2 0h1m3 0h1m1 0h1m3 0h1m1 0h1m4 0h1M174.2 593.12h1m1 0h1m3 0h2m6 0h1m1 0h1m2 0h1m1 0h1m3 0h1m1 0h2m1 0h1m4 0h1m1 0h2m2 0h2m1 0h1m1 0h2m1 0h1m4 0h1m5 0h1m7 0h2m1 0h1m2 0h1m1 0h1m2 0h3M174.2 594.66h1m4 0h2m1 0h2m1 0h2m5 0h2m6 0h1m9 0h2m3 0h3m6 0h1m5 0h1m1 0h2m5 0h1m2 0h1m2 0h2m5 0h1M174.2 596.2h1m1 0h1m1 0h3m5 0h1m2 0h1m3 0h1m4 0h1m3 0h1m3 0h1m4 0h1m3 0h2m1 0h1m10 0h3m3 0h1m6 0h1m2 0h2m4 0h1M174.2 597.75h1m3 0h1m1 0h1m8 0h1m3 0h1m2 0h1m11 0h1m1 0h1m9 0h1m8 0h2m4 0h2m5 0h1m11 0h1M204.2 599.29h2m1 0h1m5 0h1m6 0h1m8 0h1m3 0h3m6 0h1m9 0h1m1 0h1M202.2 600.84h1m10 0h1m10 0h1m4 0h1m5 0h1m7 0h1M187.2 602.38h1m13 0h1m23 0h1m22 0h1m5 0h1M184.2 603.92h1m4 0h1m6 0h1m16 0h1m34 0h1M201.2 605.47h1m11 0h1M213.2 607.01h1m21 0h1M185.2 608.56h1m8 0h1m3 0h1m16 0h1m2 0h1m5 0h1m2 0h1m13 0h1m2 0h1m1 0h1m2 0h2m4 0h1M189.2 610.1h1m3 0h2m16 0h1m5 0h1m11 0h2m4 0h1m12 0h1m4 0h2M181.2 611.64h1m3 0h1m7 0h2m14 0h1m3 0h1m10 0h1m8 0h1m8 0h2m8 0h1M179.2 613.19h1m29 0h1m21 0h1m3 0h2m5 0h2m2 0h1m2 0h2M174.2 614.73h2m1 0h1m12 0h1m2 0h1m2 0h2m13 0h1m6 0h1m5 0h1m8 0h1m1 0h2m1 0h1m4 0h1m2 0h1m2 0h1m2 0h2M175.2 616.28h1m3 0h1m5 0h1m8 0h1m1 0h1m20 0h2m7 0h2m1 0h1m6 0h1m5 0h1m5 0h2m3 0h1M177.2 617.82h1m1 0h1m7 0h1m2 0h1m2 0h1m4 0h1m5 0h1m9 0h2m7 0h1m3 0h1m6 0h1m7 0h2m4 0h1m1 0h1M179.2 619.36h1m1 0h1m5 0h1m5 0h2m10 0h1m3 0h1m1 0h1m3 0h1m1 0h1m7 0h2m2 0h1m5 0h1m6 0h1m3 0h1m3 0h1m1 0h1m1 0h1M174.2 620.91h1m18 0h1m7 0h1m7 0h1m19 0h1m3 0h1m6 0h1m2 0h1m4 0h3m3 0h1M189.2 622.45h1m11 0h2m2 0h1m5 0h1m3 0h1m19 0h1m1 0h1m6 0h1m9 0h1M177.2 624h1m1 0h1m5 0h1m8 0h1m6 0h1m4 0h1m8 0h1m8 0h1m8 0h1m9 0h1m4 0h1m5 0h1M187.2 625.54h1m1 0h1m3 0h2m6 0h1m11 0h1m1 0h1m2 0h1m4 0h2m3 0h1m4 0h1m6 0h1m3 0h1m1 0h1m1 0h1m4 0h1M177.2 627.08h1m1 0h2m17 0h1m14 0h1m1 0h1m6 0h1m1 0h1m2 0h1m8 0h1m2 0h1m3 0h1m10 0h1M188.2 628.63h2m6 0h1m4 0h1m3 0h1m5 0h1m3 0h1m15 0h1m1 0h1m13 0h3m4 0h1M174.2 630.17h1m2 0h1m9 0h1m5 0h1m2 0h1m16 0h1m23 0h1m2 0h1m8 0h1m4 0h1M174.2 631.72h1m2 0h1m15 0h1m6 0h2m7 0h1m1 0h1m3 0h1m13 0h1m13 0h2m4 0h1m1 0h1M177.2 633.26h1m10 0h1m4 0h1m2 0h1m1 0h1m1 0h1m4 0h1m18 0h2m2 0h1m3 0h2m1 0h1m3 0h1m13 0h1M177.2 634.8h1m8 0h1m1 0h1m4 0h1m6 0h1m16 0h1m9 0h1m1 0h1m12 0h1M174.2 636.35h1m36 0h1m9 0h1m7 0h1m14 0h1M177.2 637.89h1m30 0h1m4 0h1m1 0h1m9 0h1m2 0h1m2 0h1M177.2 639.44h1m31 0h1m1 0h1m3 0h1M177.2 640.98h1m9 0h2m26 0h1m23 0h1M177.2 642.52h1m2 0h1m11 0h1m3 0h1m20 0h1m11 0h1m18 0h1m5 0h1M188.2 644.07h1m5 0h1m8 0h1m1 0h2m4 0h1m9 0h1m2 0h1m16 0h1m1 0h1m5 0h1M177.2 645.61h1m10 0h1m3 0h1m16 0h1m3 0h1m1 0h1m21 0h1m6 0h1M177.2 647.16h1m8 0h1m6 0h2m1 0h2m1 0h2m2 0h1m5 0h1m17 0h1m1 0h1m3 0h1m5 0h1m6 0h1m7 0h1M178.2 648.7h1m6 0h1m3 0h2m1 0h1m5 0h4m16 0h1m11 0h1m1 0h1m3 0h1m3 0h1m2 0h1m1 0h1m6 0h2M178.2 650.24h1m1 0h3m7 0h1m1 0h5m1 0h1m1 0h2m1 0h1m3 0h1m16 0h4m1 0h1m3 0h1m2 0h2m2 0h2m2 0h1m1 0h1m6 0h1M176.2 651.79h1m6 0h3m1 0h1m1 0h2m2 0h1m3 0h3m3 0h1m2 0h2m1 0h1m1 0h1m6 0h1m4 0h4m2 0h1m1 0h3m6 0h1m9 0h6M174.2 653.33h1m2 0h2m1 0h1m3 0h1m3 0h4m1 0h2m1 0h4m1 0h1m3 0h2m1 0h1m2 0h1m6 0h1m4 0h2m1 0h2m2 0h3m1 0h2m4 0h1m3 0h1m3 0h3M174.2 654.88h1m3 0h1m4 0h1m5 0h2m1 0h1m1 0h4m3 0h1m9 0h1m1 0h1m4 0h1m5 0h1m6 0h1m2 0h1m9 0h1m4 0h1m3 0h1M176.2 656.42h1m1 0h2m1 0h1m2 0h2m3 0h2m2 0h1m1 0h1m2 0h1m1 0h2m3 0h1m2 0h1m4 0h1m4 0h1m5 0h2m3 0h1m1 0h2m3 0h1m12 0h1m4 0h1M176.2 657.96h1m2 0h1m8 0h2m1 0h1m2 0h1m5 0h1m5 0h2m15 0h2m7 0h4m1 0h1m2 0h1m1 0h1m1 0h1m9 0h1M176.2 659.51h1m4 0h1m2 0h1m2 0h1m2 0h1m2 0h1m4 0h1m4 0h1m11 0h1m2 0h1m6 0h1m9 0h1m1 0h1m8 0h1m7 0h1M181.2 661.05h1m2 0h2m1 0h3m3 0h1m2 0h1m5 0h1m5 0h1m4 0h1m4 0h1m3 0h1m7 0h1m3 0h2m4 0h1m2 0h1m6 0h2m2 0h1M178.2 662.6h3m3 0h1m4 0h5m4 0h2m1 0h1m2 0h1m2 0h1m3 0h1m1 0h1m4 0h1m13 0h1m1 0h1m1 0h2m11 0h1M178.2 664.14h3m3 0h2m4 0h3m2 0h1m2 0h2m1 0h1m3 0h1m5 0h1m5 0h1m7 0h2m4 0h1m8 0h2m2 0h1M174.2 665.68h1m12 0h1m1 0h1m6 0h1m4 0h2m3 0h1m4 0h1m1 0h1m11 0h1m23 0h1m1 0h1M174.2 667.23h1m1 0h4m3 0h1m1 0h1m1 0h3m1 0h1m1 0h3m1 0h1m1 0h1m2 0h1m3 0h1m1 0h1m2 0h1m3 0h1m2 0h1m3 0h1m1 0h1m1 0h1m3 0h3m1 0h1m1 0h2m3 0h1m12 0h1M180.2 668.77h2m3 0h1m3 0h1m4 0h2m5 0h1m7 0h1m3 0h1m4 0h1m5 0h3m6 0h1m1 0h3m8 0h1m3 0h1m1 0h2m1 0h1M174.2 670.32h1m2 0h1m7 0h1m1 0h3m11 0h1m4 0h1m4 0h1m6 0h1m2 0h1m4 0h1m2 0h1m1 0h2m1 0h1m1 0h1m5 0h1m3 0h1m6 0h1M191.2 671.86h1m19 0h1m13 0h1m5 0h1m2 0h1m6 0h1m2 0h1m9 0h1M179.2 673.4h1m1 0h1m20 0h1m2 0h2m3 0h3m2 0h1m1 0h1m3 0h1m12 0h1m13 0h2m3 0h1M178.2 674.95h1m2 0h1m15 0h1m3 0h1m2 0h1m5 0h1m4 0h1m1 0h1m2 0h3m8 0h2m1 0h3m4 0h1m6 0h1M178.2 676.49h2m8 0h2m3 0h1m2 0h2m7 0h1m7 0h1m1 0h1m5 0h1m3 0h1m4 0h1m7 0h1m2 0h2m1 0h1m9 0h1M176.2 678.04h1m6 0h2m3 0h2m16 0h1m1 0h1m2 0h2m7 0h1m3 0h2m4 0h1m4 0h1m17 0h1M177.2 679.58h2m2 0h1m2 0h1m1 0h1m1 0h1m3 0h1m8 0h1m7 0h1m2 0h1m2 0h1m9 0h1m5 0h2m9 0h1m1 0h1m4 0h1m3 0h1M188.2 681.12h1m4 0h1m3 0h1m1 0h1m1 0h1m18 0h1m3 0h1m6 0h1m2 0h2m1 0h2m1 0h1m13 0h1M203.2 682.67h1m7 0h2m14 0h1m2 0h2m5 0h1m3 0h1m2 0h1m9 0h1M179.2 684.21h1m1 0h1m4 0h1m5 0h1m11 0h2m4 0h3m14 0h1m7 0h1m2 0h1m14 0h1M179.2 685.76h1m1 0h1m6 0h1m5 0h1m7 0h1m2 0h1m4 0h2m9 0h1m3 0h1m18 0h1m4 0h1m4 0h1M177.2 687.3h1m1 0h1m1 0h3m2 0h1m1 0h1m3 0h2m1 0h1m1 0h1m7 0h2m1 0h1m1 0h2m1 0h1m1 0h2m15 0h1m1 0h1m3 0h1m5 0h1m3 0h1m5 0h1M174.2 688.84h1m2 0h1m1 0h1m1 0h1m8 0h1m1 0h2m2 0h1m3 0h2m3 0h2m1 0h3m1 0h2m1 0h1m9 0h1m1 0h2m8 0h1m1 0h1m2 0h1m3 0h1m5 0h1M178.2 690.39h1m2 0h1m3 0h1m6 0h1m3 0h1m2 0h1m2 0h1m3 0h1m3 0h1m1 0h1m8 0h1m2 0h2m1 0h1m2 0h1m2 0h3m5 0h1m9 0h1M181.2 691.93h2m3 0h1m1 0h1m3 0h3m2 0h1m1 0h1m5 0h2m1 0h1m1 0h1m1 0h1m9 0h1m3 0h1m4 0h1m1 0h2m2 0h1m10 0h1M174.2 693.48h1m2 0h2m2 0h1m6 0h2m2 0h1m8 0h1m9 0h1m5 0h1m2 0h1m3 0h1m2 0h1m5 0h3m8 0h2m2 0h1m5 0h1M176.2 695.02h1m3 0h1m3 0h1m3 0h1m3 0h1m2 0h2m4 0h1m4 0h2m2 0h2m2 0h1m6 0h1m2 0h1m7 0h1m10 0h3m2 0h2m2 0h1M174.2 696.56h1m5 0h1m4 0h1m13 0h1m1 0h1m1 0h1m4 0h1m10 0h1m3 0h2m7 0h1m3 0h1m3 0h1m1 0h1m3 0h1m2 0h1m2 0h2M184.2 698.11h2m7 0h1m2 0h1m1 0h1m2 0h1m4 0h1m4 0h2m1 0h3m4 0h3m1 0h1m3 0h1m6 0h1m5 0h2m5 0h1m2 0h2M176.2 699.65h1m3 0h1m3 0h1m4 0h1m3 0h1m17 0h1m6 0h1m6 0h1m3 0h1m5 0h2m5 0h1m1 0h1m9 0h1M180.2 701.2h1m3 0h3m2 0h1m9 0h1m1 0h1m3 0h1m18 0h2m2 0h2m2 0h1m3 0h1m3 0h1m2 0h1m4 0h2m4 0h2M184.2 702.74h1m1 0h1m6 0h1m4 0h1m8 0h1m3 0h1m7 0h1m1 0h2m6 0h1m3 0h1m2 0h1m3 0h1m1 0h1m3 0h1m1 0h2m3 0h3M181.2 704.28h1m4 0h1m9 0h1m1 0h1m12 0h1m12 0h1m7 0h2m3 0h1m4 0h1m3 0h3m3 0h1m2 0h1M174.2 705.83h1m1 0h1m7 0h2m14 0h1m4 0h1m4 0h1m2 0h2m7 0h1m1 0h1m4 0h1m2 0h2m1 0h1m9 0h2m3 0h1m1 0h1m2 0h1" stroke="#bdbdff" stroke-width="1.58" fill="none"/>
<path d="M178.2 552.97h2m1 0h1m3 0h2m5 0h2m35 0h1m5 0h2m9 0h3M178.2 554.52h1m1 0h1m6 0h2m3 0h1m3 0h1m1 0h1m2 0h1m8 0h1m16 0h1m8 0h1m7 0h1m4 0h1m1 0h1m2 0h2M178.2 556.06h1m2 0h1m2 0h1m3 0h1m9 0h2m20 0h1m6 0h1m7 0h1m5 0h1m11 0h1m1 0h1M179.2 557.6h1m1 0h2m6 0h1m4 0h1m13 0h2m1 0h1m1 0h2m6 0h1m5 0h1m1 0h1m3 0h1m2 0h1m3 0h1m2 0h1m4 0h1M175.2 559.15h1m3 0h1m4 0h1m3 0h2m3 0h1m1 0h2m1 0h1m15 0h1m3 0h1m16 0h1m5 0h1m6 0h1m5 0h1M179.2 560.69h1m9 0h1m1 0h1m19 0h1m3 0h1m7 0h1m1 0h1m22 0h1m6 0h1M178.2 562.24h1m2 0h1m11 0h1m5 0h1m24 0h1m4 0h1m6 0h1m6 0h1m4 0h1M178.2 563.78h2m10 0h1m1 0h2m6 0h1m8 0h1m5 0h1m4 0h1m4 0h1m3 0h1m5 0h2m6 0h1m7 0h3M181.2 565.32h1m2 0h2m3 0h2m1 0h1m12 0h1m3 0h1m4 0h2m5 0h1m1 0h1m1 0h1m4 0h1m2 0h2m9 0h1m1 0h1m1 0h1m6 0h1M177.2 566.87h1m9 0h1m1 0h2m2 0h1m2 0h1m4 0h1m11 0h1m4 0h1m5 0h1m2 0h1m2 0h1m4 0h2m8 0h2m3 0h1m2 0h1M181.2 568.41h1m5 0h1m1 0h2m3 0h3m8 0h1m3 0h1m9 0h1m9 0h1m1 0h1m7 0h2m2 0h1m1 0h1m3 0h1m5 0h1M177.2 569.96h1m2 0h1m5 0h3m4 0h1m3 0h1m2 0h1m4 0h1m2 0h1m6 0h1m5 0h1m7 0h1m6 0h1m3 0h1m7 0h1M179.2 571.5h1m10 0h1m9 0h1m17 0h1m4 0h2m1 0h2m2 0h2m1 0h1m5 0h2m3 0h1m3 0h1M177.2 573.04h1m5 0h1m1 0h1m10 0h5m4 0h1m3 0h1m1 0h1m11 0h2m1 0h1m3 0h2m1 0h1m3 0h1m1 0h1m3 0h1m10 0h1M174.2 574.59h1m2 0h1m1 0h1m4 0h1m4 0h2m8 0h1m4 0h1m3 0h1m2 0h1m5 0h2m3 0h1m7 0h1m1 0h2m4 0h1m5 0h1m1 0h1m2 0h1M174.2 576.13h4m1 0h1m1 0h1m3 0h1m4 0h1m2 0h2m1 0h1m1 0h2m2 0h1m4 0h1m1 0h1m1 0h1m3 0h2m4 0h1m1 0h1m4 0h2m4 0h1m4 0h1m1 0h2m1 0h1m10 0h1M176.2 577.68h1m1 0h1m2 0h1m3 0h3m1 0h1m6 0h1m2 0h2m2 0h1m5 0h1m1 0h2m5 0h2m2 0h1m1 0h1m1 0h3m3 0h1m1 0h1m4 0h2m5 0h1m3 0h1m4 0h1M179.2 579.22h1m1 0h4m3 0h1m1 0h1m3 0h1m1 0h1m5 0h1m1 0h2m6 0h1m2 0h4m7 0h2m1 0h1m7 0h1m1 0h1m4 0h2m2 0h2m2 0h1m1 0h2M179.2 580.76h1m2 0h1m1 0h1m7 0h1m4 0h2m3 0h1m1 0h1m1 0h1m5 0h1m1 0h1m5 0h1m9 0h1m2 0h1m3 0h2m5 0h1m2 0h1m1 0h1m2 0h1M176.2 582.31h1m1 0h2m12 0h2m6 0h1m1 0h1m5 0h1m5 0h1m3 0h1m11 0h1m2 0h1m4 0h1m1 0h1m1 0h1m1 0h1M175.2 583.85h1m4 0h1m4 0h1m6 0h1m3 0h1m2 0h2m1 0h2m4 0h1m1 0h2m2 0h1m8 0h2m3 0h1m13 0h1m1 0h1m1 0h1m3 0h2M177.2 585.4h3m5 0h2m2 0h2m5 0h1m1 0h1m1 0h1m5 0h2m6 0h1m1 0h2m5 0h1m3 0h2m2 0h2m8 0h1m2 0h5M178.2 586.94h1m1 0h1m1 0h1m1 0h2m2 0h1m5 0h1m4 0h1m1 0h2m1 0h1m10 0h1m5 0h1m6 0h1m2 0h3m2 0h1m5 0h2m4 0h3m2 0h1M176.2 588.48h1m2 0h1m2 0h3m2 0h1m4 0h1m15 0h1m1 0h3m2 0h1m1 0h4m3 0h1m2 0h2m1 0h1m1 0h1m1 0h1m1 0h1m1 0h1m6 0h1m5 0h1m1 0h1M177.2 590.03h1m2 0h1m4 0h2m1 0h1m5 0h1m13 0h1m1 0h1m3 0h1m5 0h2m1 0h3m2 0h3m2 0h2m3 0h1m6 0h1m1 0h1m4 0h1m2 0h1M176.2 591.57h1m3 0h2m1 0h1m8 0h1m1 0h1m3 0h4m1 0h2m2 0h1m3 0h2m2 0h2m1 0h1m7 0h2m4 0h1m3 0h2m1 0h1m3 0h1m2 0h1M177.2 593.12h1m1 0h1m2 0h2m1 0h1m1 0h1m1 0h1m7 0h1m2 0h1m6 0h2m5 0h1m4 0h1m13 0h1m5 0h2m3 0h1m7 0h1M175.2 594.66h4m2 0h1m5 0h2m5 0h1m3 0h2m3 0h2m1 0h4m13 0h1m2 0h1m2 0h1m14 0h1m4 0h1m3 0h1m1 0h1M177.2 596.2h1m3 0h2m1 0h2m2 0h1m1 0h1m17 0h1m1 0h1m2 0h1m3 0h1m1 0h2m4 0h4m3 0h1m1 0h1m5 0h1m3 0h1m3 0h1m4 0h1m1 0h1M177.2 597.75h1m5 0h1m4 0h1m1 0h1m1 0h1m1 0h1m4 0h1m2 0h1m10 0h1m1 0h1m1 0h1m7 0h1m12 0h2m3 0h3m2 0h1m6 0h1M174.2 599.29h1m5 0h1m1 0h2m2 0h1m6 0h1m6 0h1m17 0h1m2 0h1m1 0h1m3 0h1m10 0h2m3 0h2m10 0h1M176.2 600.84h1m7 0h1m3 0h2m16 0h2m4 0h1m2 0h1m32 0h1m2 0h1M175.2 602.38h1m1 0h1m2 0h2m7 0h1m6 0h1m6 0h2m1 0h2m2 0h6m12 0h1m6 0h2m3 0h1m2 0h3m4 0h1M174.2 603.92h1m2 0h1m3 0h1m4 0h1m15 0h1m1 0h2m1 0h1m4 0h1m2 0h1m1 0h2m6 0h1m1 0h2m6 0h1m7 0h2m4 0h1m2 0h1M176.2 605.47h2m14 0h1m3 0h1m2 0h1m23 0h3M177.2 607.01h1m6 0h1m4 0h1m6 0h1m1 0h2m2 0h2m1 0h1m3 0h1m1 0h1m3 0h1m9 0h1m2 0h1m4 0h1m8 0h1m1 0h2m2 0h2M178.2 608.56h1m1 0h2m5 0h3m2 0h1m3 0h1m3 0h2m2 0h3m1 0h1m1 0h2m1 0h1m3 0h1m5 0h1m1 0h1m3 0h2m2 0h1m2 0h1m1 0h1m3 0h2m1 0h1m2 0h1m2 0h4M177.2 610.1h1m3 0h1m3 0h1m4 0h1m4 0h2m16 0h1m4 0h1m5 0h1m6 0h2m3 0h1m5 0h3m5 0h2M175.2 611.64h3m10 0h3m6 0h1m5 0h2m6 0h2m2 0h3m2 0h1m2 0h1m1 0h2m2 0h1m1 0h1m8 0h1m3 0h3m2 0h1m3 0h2M178.2 613.19h1m2 0h1m8 0h1m2 0h1m2 0h1m5 0h2m1 0h2m5 0h1m2 0h2m1 0h1m5 0h1m2 0h2m4 0h1m3 0h1m10 0h1m3 0h1M176.2 614.73h1m2 0h1m1 0h1m7 0h1m2 0h1m1 0h1m4 0h1m2 0h3m8 0h1m1 0h1m1 0h1m3 0h2m2 0h1m2 0h1m3 0h1m8 0h2m5 0h1m1 0h1m3 0h1M174.2 616.28h1m2 0h1m2 0h1m6 0h2m1 0h1m1 0h1m5 0h1m4 0h4m5 0h2m1 0h1m6 0h1m1 0h2m7 0h1m1 0h1m14 0h2m2 0h2M181.2 617.82h1m6 0h1m5 0h1m7 0h1m6 0h1m3 0h1m4 0h1m1 0h1m3 0h2m7 0h1m4 0h1m2 0h1m3 0h2m2 0h1m2 0h1m2 0h1M175.2 619.36h1m2 0h1m5 0h2m2 0h1m1 0h1m5 0h1m1 0h1m2 0h2m1 0h1m16 0h1m1 0h1m3 0h2m2 0h1m1 0h1m2 0h1m7 0h1m3 0h2m3 0h1m1 0h1M177.2 620.91h1m7 0h1m1 0h1m1 0h3m4 0h1m3 0h1m4 0h1m4 0h1m2 0h1m1 0h1m4 0h1m1 0h2m1 0h2m1 0h1m1 0h1m3 0h4m14 0h1M175.2 622.45h1m2 0h1m1 0h2m6 0h1m4 0h1m4 0h1m5 0h1m1 0h1m1 0h1m4 0h1m12 0h1m1 0h1m4 0h1m4 0h1m1 0h2m1 0h1m6 0h1m2 0h1M174.2 624h1m14 0h2m1 0h2m1 0h2m1 0h1m3 0h1m1 0h1m4 0h1m3 0h1m3 0h1m7 0h1m3 0h2m4 0h1m2 0h1m3 0h1m7 0h1m2 0h1m1 0h1M174.2 625.54h1m9 0h1m10 0h2m14 0h1m2 0h1m10 0h1m1 0h1m2 0h2m2 0h2m6 0h2M184.2 627.08h3m1 0h1m7 0h2m2 0h3m2 0h1m1 0h1m2 0h1m8 0h1m3 0h1m1 0h1m2 0h2m4 0h2m1 0h1m2 0h2m2 0h1m1 0h1m8 0h1M174.2 628.63h2m1 0h3m3 0h1m3 0h1m2 0h3m10 0h1m2 0h1m3 0h1m3 0h1m3 0h1m4 0h1m1 0h1m1 0h3m5 0h1m3 0h6M180.2 630.17h2m3 0h1m3 0h1m2 0h1m2 0h1m4 0h2m7 0h3m12 0h2m3 0h1m1 0h3m1 0h2m2 0h1m4 0h1m1 0h1m6 0h1M186.2 631.72h1m1 0h1m3 0h1m6 0h1m3 0h1m1 0h1m4 0h1m2 0h1m10 0h1m5 0h1m1 0h1m3 0h1m3 0h1m7 0h1m4 0h2M174.2 633.26h1m3 0h2m5 0h1m3 0h2m1 0h1m1 0h2m1 0h1m5 0h1m2 0h1m1 0h2m8 0h3m13 0h1m2 0h1m2 0h1m1 0h1m1 0h1m3 0h2m2 0h1M176.2 634.8h1m4 0h1m3 0h1m6 0h1m1 0h1m2 0h1m7 0h1m9 0h1m8 0h1m8 0h1m10 0h1m1 0h1m1 0h2m3 0h1M175.2 636.35h1m3 0h1m6 0h1m1 0h1m1 0h1m2 0h1m7 0h1m1 0h1m1 0h2m6 0h1m4 0h1m5 0h1m3 0h1m4 0h2m2 0h1m5 0h1m8 0h1m1 0h1M175.2 637.89h1m12 0h3m2 0h1m3 0h1m2 0h1m4 0h2m9 0h1m7 0h1m2 0h1m1 0h1m3 0h1m2 0h2m5 0h1m5 0h1m4 0h1M180.2 639.44h2m4 0h1m1 0h1m7 0h1m1 0h1m6 0h1m4 0h1m2 0h1m5 0h1m3 0h1m5 0h1m2 0h1m4 0h1m2 0h1m13 0h1M174.2 640.98h1m19 0h1m1 0h1m1 0h1m2 0h1m3 0h1m4 0h2m1 0h2m6 0h1m3 0h1m2 0h1m15 0h1m9 0h1M176.2 642.52h1m4 0h2m4 0h2m1 0h1m2 0h1m4 0h2m3 0h1m1 0h1m2 0h1m1 0h1m2 0h2m7 0h2m3 0h2m3 0h1m4 0h1m2 0h1m12 0h1M176.2 644.07h1m1 0h1m1 0h1m1 0h1m2 0h1m1 0h1m2 0h1m2 0h1m7 0h1m10 0h1m1 0h1m2 0h1m9 0h3m4 0h1m1 0h1m3 0h1m6 0h1m2 0h2m2 0h1M174.2 645.61h1m3 0h3m3 0h1m2 0h1m5 0h2m2 0h5m9 0h1m8 0h1m2 0h1m1 0h1m1 0h1m4 0h3m4 0h1m3 0h1m10 0h1M176.2 647.16h1m2 0h1m1 0h1m1 0h1m1 0h1m1 0h1m1 0h1m2 0h1m2 0h1m2 0h1m2 0h1m6 0h1m2 0h1m3 0h1m1 0h1m1 0h1m4 0h2m5 0h1m5 0h1m5 0h2m4 0h1m3 0h1M176.2 648.7h1m3 0h3m8 0h1m1 0h1m1 0h2m5 0h2m2 0h1m8 0h1m6 0h1m1 0h1m2 0h1m1 0h1m1 0h1m1 0h3m1 0h1m10 0h3M179.2 650.24h1m3 0h1m1 0h1m3 0h1m1 0h1m5 0h1m1 0h1m2 0h1m1 0h1m1 0h1m5 0h2m1 0h1m1 0h1m4 0h1m5 0h1m1 0h3m1 0h1m3 0h1m4 0h1m1 0h1m2 0h1m1 0h1M175.2 651.79h1m4 0h1m5 0h1m7 0h3m5 0h1m2 0h1m6 0h1m2 0h1m3 0h2m1 0h1m7 0h1m3 0h2m1 0h1m3 0h3m4 0h1M175.2 653.33h2m2 0h1m3 0h1m11 0h1m4 0h1m1 0h3m2 0h1m2 0h1m1 0h1m2 0h2m12 0h1m15 0h2m4 0h1m1 0h1M179.2 654.88h2m3 0h2m12 0h1m1 0h1m1 0h4m2 0h2m2 0h1m2 0h1m3 0h3m1 0h1m2 0h2m2 0h1m1 0h1m2 0h1m1 0h1m1 0h1m2 0h2m1 0h1m4 0h2M175.2 656.42h1m4 0h1m2 0h1m7 0h1m2 0h1m2 0h1m1 0h1m3 0h1m2 0h1m2 0h3m9 0h1m1 0h1m9 0h3m5 0h1m1 0h1m1 0h1m2 0h1M175.2 657.96h1m4 0h1m9 0h1m1 0h1m2 0h5m1 0h1m11 0h1m1 0h1m2 0h2m1 0h2m2 0h2m2 0h2m12 0h1m4 0h2m3 0h1m1 0h1M177.2 659.51h3m2 0h1m2 0h1m3 0h1m1 0h2m1 0h3m2 0h1m1 0h1m3 0h1m6 0h2m7 0h2m1 0h1m4 0h2m2 0h2m1 0h1m2 0h2M175.2 661.05h1m10 0h1m3 0h3m2 0h1m1 0h2m1 0h2m2 0h4m1 0h1m2 0h1m6 0h1m5 0h1m3 0h1m1 0h2m3 0h2m6 0h1M175.2 662.6h1m5 0h1m6 0h1m5 0h1m1 0h1m6 0h1m2 0h1m2 0h1m2 0h1m4 0h1m3 0h1m2 0h1m3 0h4m1 0h1m5 0h2m4 0h1m2 0h1m6 0h1M175.2 664.14h2m5 0h1m3 0h2m1 0h1m4 0h1m1 0h2m2 0h1m2 0h1m2 0h1m6 0h1m8 0h1m6 0h2m6 0h1m5 0h1m6 0h2m1 0h1M176.2 665.68h5m1 0h1m2 0h1m5 0h1m2 0h1m2 0h3m3 0h2m5 0h1m4 0h1m2 0h2m1 0h1m2 0h1m4 0h1m1 0h3m1 0h2m2 0h2m2 0h1m1 0h1m4 0h1M184.2 667.23h1m1 0h1m3 0h1m1 0h1m5 0h1m1 0h1m2 0h1m1 0h1m3 0h1m13 0h1m1 0h1m3 0h1m3 0h1m1 0h1m4 0h1m1 0h1m1 0h3m2 0h2M182.2 668.77h1m1 0h1m11 0h2m6 0h2m2 0h1m3 0h1m6 0h1m1 0h1m5 0h1m1 0h3m8 0h1m1 0h1m1 0h2m2 0h2m1 0h1M179.2 670.32h1m1 0h2m8 0h3m2 0h1m7 0h1m2 0h2m3 0h1m2 0h1m3 0h1m2 0h1m2 0h1m14 0h1m2 0h3m4 0h2M174.2 671.86h1m4 0h1m10 0h1m3 0h1m4 0h1m3 0h1m3 0h1m5 0h1m1 0h1m7 0h2m4 0h2m1 0h2m6 0h1m4 0h1m6 0h1M174.2 673.4h1m1 0h2m4 0h1m1 0h1m3 0h2m2 0h2m3 0h1m10 0h1m7 0h1m1 0h1m4 0h2m4 0h1m1 0h1m1 0h1m2 0h2m2 0h1m2 0h3m6 0h1m1 0h1M174.2 674.95h1m2 0h1m1 0h2m1 0h2m2 0h3m3 0h2m2 0h1m5 0h1m5 0h2m1 0h2m16 0h1m3 0h1m3 0h2m10 0h1m4 0h1M174.2 676.49h1m5 0h2m2 0h1m5 0h1m8 0h1m1 0h1m4 0h1m2 0h4m3 0h2m2 0h1m1 0h1m5 0h1m2 0h2m1 0h1m8 0h1m4 0h2m2 0h1m2 0h1M177.2 678.04h3m12 0h1m7 0h3m13 0h1m5 0h1m13 0h1m6 0h2m1 0h1m2 0h1m4 0h1M176.2 679.58h1m2 0h1m2 0h1m6 0h2m2 0h2m2 0h1m7 0h2m1 0h1m1 0h1m3 0h1m2 0h1m1 0h1m4 0h1m1 0h2m1 0h1m10 0h1m2 0h1m4 0h1m3 0h1m1 0h1M174.2 681.12h1m2 0h1m6 0h1m1 0h1m5 0h1m1 0h3m5 0h1m2 0h2m1 0h5m2 0h1m2 0h1m2 0h3m1 0h1m1 0h1m5 0h1m2 0h1m4 0h3m4 0h3m1 0h1M174.2 682.67h1m2 0h1m1 0h1m1 0h1m2 0h3m2 0h1m2 0h1m8 0h1m2 0h2m2 0h3m3 0h1m6 0h1m2 0h2m7 0h1m9 0h1m2 0h1m2 0h1M182.2 684.21h1m12 0h2m1 0h4m6 0h2m6 0h1m3 0h1m12 0h2m2 0h1m2 0h2m2 0h1m1 0h1m2 0h1M177.2 685.76h2m3 0h1m2 0h1m7 0h1m2 0h1m3 0h2m6 0h2m2 0h2m13 0h1m1 0h1m1 0h2m4 0h1m2 0h4M174.2 687.3h1m1 0h1m1 0h1m10 0h1m14 0h1m7 0h1m4 0h1m2 0h2m2 0h2m1 0h1m2 0h1m8 0h1m1 0h1m3 0h1m3 0h1m1 0h2m2 0h1M178.2 688.84h1m4 0h1m3 0h1m6 0h2m1 0h3m2 0h1m4 0h1m6 0h1m1 0h1m1 0h1m1 0h2m8 0h3m3 0h1m1 0h1m1 0h2m2 0h2m2 0h1m6 0h1M176.2 690.39h2m1 0h2m1 0h1m3 0h1m6 0h1m15 0h1m3 0h2m2 0h1m4 0h2m4 0h2m1 0h1m5 0h2m7 0h1m2 0h1m3 0h2M175.2 691.93h1m1 0h2m4 0h1m1 0h1m4 0h1m4 0h2m4 0h1m9 0h1m7 0h3m5 0h3m10 0h7m2 0h1m2 0h2M182.2 693.48h1m7 0h1m2 0h1m1 0h1m1 0h1m7 0h1m3 0h1m2 0h2m1 0h1m2 0h2m1 0h2m3 0h1m1 0h1m1 0h2m6 0h1m2 0h2m9 0h1M178.2 695.02h1m3 0h2m2 0h2m2 0h1m7 0h1m4 0h1m5 0h1m3 0h1m3 0h1m2 0h1m4 0h1m2 0h2m3 0h1m2 0h1m1 0h1m3 0h1m10 0h3M176.2 696.56h1m2 0h1m3 0h1m2 0h1m1 0h5m2 0h2m5 0h1m3 0h1m7 0h2m1 0h2m2 0h2m2 0h1m1 0h3m14 0h1m3 0h1m1 0h2m3 0h1M174.2 698.11h1m1 0h1m4 0h1m8 0h1m1 0h1m10 0h3m3 0h1m8 0h3m9 0h1m4 0h1m5 0h1m4 0h3m6 0h1M174.2 699.65h1m3 0h2m2 0h1m2 0h1m9 0h1m1 0h1m3 0h1m3 0h2m10 0h1m3 0h2m16 0h1m3 0h1m2 0h1m5 0h2m1 0h1M174.2 701.2h5m2 0h2m5 0h1m4 0h1m1 0h2m1 0h1m1 0h1m1 0h1m3 0h2m1 0h2m4 0h9m9 0h3m5 0h2m2 0h1m4 0h1M174.2 702.74h1m4 0h3m5 0h1m2 0h1m1 0h1m2 0h2m3 0h3m3 0h1m1 0h1m4 0h1m10 0h2m2 0h1m23 0h1M175.2 704.28h2m3 0h1m1 0h1m2 0h1m4 0h1m1 0h1m4 0h1m1 0h1m1 0h1m1 0h3m1 0h2m4 0h1m3 0h4m4 0h1m1 0h1m3 0h1m3 0h2m2 0h2m2 0h2m4 0h3m1 0h1M178.2 705.83h3m7 0h4m3 0h1m1 0h2m3 0h1m4 0h1m7 0h1m1 0h2m2 0h1m1 0h1m1 0h1m10 0h3m1 0h1m1 0h3m4 0h1m3 0h1" stroke="#dedeff" stroke-width="1.58" fill="none"/>
<path d="M199.2 552.97h1m2 0h1m10 0h1m5 0h2m18 0h1M186.2 554.52h1m16 0h1m11 0h1m1 0h1m4 0h1m5 0h1m1 0h1m1 0h1m1 0h1m7 0h1M175.2 556.06h1m10 0h1m15 0h2m3 0h1m1 0h1m12 0h1m2 0h2m4 0h4m4 0h1m3 0h1m1 0h1M174.2 557.6h1m25 0h1m1 0h1m4 0h1m8 0h2m10 0h1m3 0h1M180.2 559.15h1m5 0h1m15 0h1m3 0h1m5 0h2m5 0h1m2 0h2m2 0h1m1 0h2m2 0h1m10 0h1m8 0h1M175.2 560.69h1m22 0h2m2 0h1m3 0h1m1 0h1m4 0h1m8 0h1m9 0h1m4 0h2m1 0h1m1 0h1m1 0h1m2 0h1m3 0h2M174.2 562.24h1m12 0h1m1 0h1m5 0h1m7 0h2m2 0h2m3 0h2m2 0h1m1 0h1m11 0h1m1 0h1m1 0h1m2 0h5m3 0h1m3 0h1m5 0h1M174.2 563.78h3m10 0h1m3 0h1m10 0h1m9 0h1m3 0h1m9 0h1m1 0h1m5 0h1m5 0h1M174.2 565.32h1m1 0h1m9 0h1m8 0h1m3 0h1m6 0h1m10 0h1m4 0h1m3 0h1m11 0h1m4 0h1M176.2 566.87h1m6 0h1m7 0h1m3 0h1m1 0h1m5 0h1m2 0h1m5 0h1m6 0h1m1 0h2m3 0h1m10 0h1m1 0h1m1 0h1m2 0h1m6 0h2M174.2 568.41h3m25 0h1m4 0h1m7 0h4m7 0h2m9 0h1M175.2 569.96h1m7 0h1m7 0h2m13 0h1m24 0h1m2 0h1m6 0h1m5 0h1m2 0h2M219.2 571.5h1m2 0h1m15 0h1m4 0h1M174.2 573.04h1m12 0h1m19 0h1m7 0h2M181.2 574.59h1m3 0h1m1 0h1m18 0h1m2 0h1m9 0h1m30 0h1M182.2 576.13h1m9 0h1m4 0h1m5 0h1m15 0h1m20 0h1m2 0h1m3 0h2m2 0h1M191.2 577.68h1M185.2 579.22h1m3 0h1m1 0h1m1 0h1m1 0h1m7 0h1m5 0h1m14 0h1m15 0h1m6 0h1M175.2 580.76h1m11 0h1m15 0h1m5 0h1m9 0h1m7 0h1m12 0h1M203.2 582.31h1m12 0h1m7 0h1m2 0h1M187.2 583.85h1m3 0h1m41 0h1m3 0h1m11 0h1M191.2 585.4h1m59 0h1M175.2 586.94h1m20 0h1m17 0h1m30 0h1M201.2 588.48h1m20 0h1m3 0h1m20 0h1M195.2 590.03h1m13 0h1m9 0h1m2 0h1m3 0h1m26 0h1M206.2 591.57h1m24 0h1m19 0h1M194.2 593.12h1m35 0h2m15 0h1M191.2 594.66h1m20 0h1m9 0h1m4 0h1m23 0h1M195.2 596.2h2m17 0h1m9 0h1m16 0h1M175.2 597.75h1m11 0h1m7 0h1m7 0h1m12 0h1m2 0h1m12 0h1m4 0h1M175.2 599.29h1m8 0h1m9 0h2m1 0h1m11 0h2m11 0h1m1 0h1m6 0h1m5 0h1m9 0h1m3 0h1M178.2 600.84h1m4 0h1m1 0h1m13 0h2m13 0h1m16 0h2m9 0h1m4 0h1M197.2 602.38h1m2 0h1m15 0h1m15 0h1m1 0h1m7 0h1M183.2 603.92h1m11 0h1m1 0h1m2 0h1m31 0h2m4 0h1M175.2 605.47h1m2 0h2m6 0h1m4 0h1m3 0h1m4 0h1m9 0h1m5 0h1m1 0h1m1 0h1m1 0h1m8 0h1m10 0h1m10 0h1M174.2 607.01h1m3 0h2m36 0h1m1 0h1m1 0h1m26 0h1M182.2 608.56h2m7 0h1m20 0h1m34 0h1M174.2 610.1h1m11 0h1m1 0h1m10 0h2m1 0h3m5 0h1m1 0h1m6 0h2m6 0h1m6 0h1M200.2 611.64h1m4 0h1m1 0h1m11 0h1m35 0h1M176.2 613.19h1m14 0h1m6 0h1m1 0h1m21 0h1m3 0h1m13 0h1m6 0h1M183.2 614.73h1m2 0h1m1 0h1m2 0h1m15 0h1m12 0h1m5 0h1m10 0h1M182.2 616.28h1m16 0h2m10 0h1m20 0h1m6 0h1m5 0h1M184.2 617.82h1m1 0h1m8 0h1m14 0h1m10 0h1m10 0h1M176.2 619.36h2m2 0h1m1 0h1m17 0h1m19 0h1m11 0h1m5 0h1m2 0h1M207.2 620.91h1m4 0h1m3 0h1m2 0h1m1 0h1m16 0h2m7 0h1M176.2 622.45h1m6 0h1m15 0h2m2 0h1m3 0h1m11 0h1m5 0h1m8 0h1m17 0h1M176.2 624h1m7 0h1m14 0h1m16 0h1m24 0h1m3 0h1m5 0h1M176.2 625.54h1m5 0h1m17 0h1m35 0h1m1 0h2m15 0h1M178.2 627.08h1m2 0h1m34 0h1m4 0h1m20 0h1m4 0h1M222.2 628.63h1m7 0h1m1 0h1m3 0h1m8 0h1M175.2 630.17h1m23 0h1m6 0h1m7 0h1m5 0h1m5 0h1m3 0h1m10 0h1m8 0h1M178.2 631.72h1m3 0h1m1 0h1m4 0h1m12 0h1m1 0h1m17 0h1m8 0h1m2 0h1M182.2 633.26h1m1 0h1m6 0h1M178.2 634.8h1m1 0h1m3 0h1m4 0h1m8 0h1m2 0h1m5 0h1m11 0h1m2 0h1m7 0h1m1 0h1m2 0h1m1 0h1m17 0h1M198.2 636.35h1m21 0h1m17 0h1m8 0h2m1 0h1M182.2 637.89h1m3 0h1m8 0h1m8 0h1m13 0h1m27 0h1M175.2 639.44h1m2 0h2m4 0h1m9 0h1m19 0h1m1 0h2m4 0h1m27 0h1M182.2 640.98h3m1 0h1m2 0h1m13 0h1m2 0h1m2 0h1m12 0h1m9 0h1m5 0h1m8 0h1m2 0h2M179.2 642.52h1m11 0h1m2 0h1m12 0h1m44 0h1M174.2 644.07h1m29 0h1m14 0h2m1 0h1m7 0h1m6 0h1m7 0h1m2 0h1m6 0h1M183.2 645.61h1m22 0h2m18 0h1m18 0h1m1 0h1m4 0h1M190.2 647.16h1m29 0h1m21 0h1M175.2 648.7h1m28 0h1m9 0h1m1 0h1m11 0h1M214.2 650.24h1m1 0h1m30 0h1M210.2 651.79h1m27 0h1M238.2 653.33h1M216.2 654.88h1m12 0h1m6 0h1M216.2 656.42h1m30 0h1m4 0h1M216.2 657.96h1m30 0h1M183.2 659.51h1m2 0h1m21 0h1m1 0h1m3 0h1m4 0h2m5 0h1m4 0h1m13 0h1m4 0h1m4 0h1M210.2 661.05h1m6 0h1m3 0h1m5 0h1m11 0h1m7 0h1m5 0h1m1 0h1M216.2 662.6h1m25 0h1m9 0h1M183.2 664.14h1m32 0h1m3 0h1m31 0h1m2 0h1M200.2 665.68h1m7 0h2m4 0h1m2 0h1m2 0h1m17 0h1m14 0h1M227.2 667.23h2M216.2 668.77h1m22 0h1M175.2 670.32h1m7 0h1m15 0h1m20 0h1m6 0h1m19 0h1M180.2 671.86h1m1 0h1m13 0h1m3 0h1m15 0h2m17 0h1m3 0h1m6 0h1m3 0h1m2 0h1M185.2 673.4h1m9 0h1m5 0h1m26 0h1m21 0h1M189.2 674.95h1m13 0h1m10 0h1m3 0h1M191.2 676.49h1m6 0h1m20 0h1M182.2 678.04h1m38 0h1m7 0h1m11 0h1M216.2 679.58h1M176.2 681.12h1m14 0h1m8 0h1m6 0h1m11 0h1m27 0h1M191.2 682.67h1m7 0h2m27 0h1M176.2 684.21h2m5 0h1m7 0h1m2 0h1m12 0h1m9 0h1m1 0h1m4 0h1m14 0h1m8 0h1M204.2 685.76h1m2 0h1m6 0h1m13 0h1m7 0h1m2 0h1M180.2 687.3h1m9 0h2m4 0h1m2 0h1m7 0h1m11 0h1m16 0h1m10 0h1m2 0h1M219.2 688.84h1m3 0h1m5 0h1m21 0h1M175.2 690.39h1m22 0h1m41 0h1M191.2 691.93h1m6 0h1m3 0h1m1 0h1m2 0h1m43 0h1m3 0h1M183.2 693.48h1m19 0h1m28 0h1m14 0h1M194.2 695.02h1m36 0h1M226.2 696.56h1m11 0h1M210.2 698.11h1m23 0h1M175.2 699.65h1m11 0h1m15 0h2m7 0h1m3 0h1m17 0h1m12 0h1m3 0h1M187.2 701.2h1m24 0h1m13 0h1m4 0h1m6 0h1M188.2 702.74h1m5 0h1m21 0h1m17 0h1m3 0h1m6 0h1M188.2 704.28h1m11 0h1m15 0h1M175.2 705.83h1m50 0h1" stroke="#ffdede" stroke-width="1.58" fill="none"/>
<path d="M174.2 552.97h2m6 0h1m8 0h1m18 0h1m11 0h1m15 0h1M206.2 554.52h1m9 0h1m21 0h1M176.2 556.06h1m28 0h1m24 0h1m7 0h1m13 0h1M191.2 557.6h1m27 0h1m2 0h1m19 0h1M176.2 559.15h1m22 0h1m7 0h1m3 0h1m9 0h1m18 0h1m1 0h1m2 0h1M174.2 560.69h1m28 0h1m3 0h1m10 0h1M175.2 562.24h2m6 0h1m7 0h1m23 0h1m1 0h1m1 0h1m3 0h1m7 0h1m10 0h1m7 0h1M199.2 563.78h1m14 0h1m23 0h1M175.2 565.32h1m27 0h1m12 0h1m2 0h1m22 0h1M174.2 566.87h1m7 0h1m2 0h1m6 0h1m6 0h1m16 0h2m20 0h1M209.2 569.96h1m10 0h1m5 0h1m6 0h1M237.2 571.5h1m3 0h1M175.2 574.59h1m15 0h1m55 0h1M191.2 576.13h1m9 0h1m12 0h1M231.2 579.22h1m9 0h1M201.2 580.76h1m52 0h1M219.2 583.85h1M222.2 585.4h1M192.2 586.94h1m2 0h1m13 0h1m16 0h1M195.2 588.48h1M191.2 590.03h1M191.2 591.57h1M250.2 596.2h1M191.2 597.75h1m5 0h1m8 0h1m34 0h1m9 0h1M191.2 599.29h1m27 0h1M221.2 600.84h1M216.2 603.92h1M230.2 605.47h1m3 0h1m12 0h1M182.2 610.1h1m64 0h1M186.2 611.64h1m12 0h1m6 0h1M199.2 613.19h1m20 0h1M182.2 614.73h1M186.2 616.28h1m60 0h1M199.2 617.82h1m19 0h1m20 0h1m6 0h1M183.2 619.36h1M203.2 620.91h1M216.2 622.45h1M182.2 624h1m27 0h1m36 0h1M220.2 627.08h1m17 0h1M204.2 628.63h1m2 0h1m12 0h1m5 0h1M184.2 630.17h1m60 0h1M191.2 631.72h1m15 0h1m11 0h1m25 0h1m4 0h1M236.2 633.26h1M182.2 634.8h1m8 0h1m58 0h1M204.2 636.35h1M191.2 637.89h1m7 0h1m7 0h1M191.2 639.44h1m15 0h1m39 0h1m4 0h1M191.2 640.98h1m34 0h1m3 0h1m12 0h1m1 0h1m7 0h1M197.2 642.52h1m28 0h1m18 0h1M226.2 644.07h1M222.2 645.61h1m28 0h1M207.2 647.16h1m18 0h1m7 0h1m10 0h1M250.2 656.42h1M216.2 659.51h1M253.2 662.6h1M247.2 665.68h1M182.2 667.23h1m33 0h1m3 0h1M186.2 670.32h1m11 0h1M175.2 671.86h1m7 0h1m2 0h1m10 0h1m49 0h1M226.2 673.4h1M247.2 676.49h1M191.2 678.04h1m3 0h1m3 0h1m38 0h1M183.2 679.58h1m14 0h1M203.2 681.12h1m42 0h1M187.2 684.21h1m59 0h1M175.2 693.48h1m4 0h1M202.2 699.65h1m23 0h1m21 0h1M203.2 702.74h1m8 0h1m5 0h1m7 0h1M216.2 705.83h1" stroke="#ffbdbd" stroke-width="1.58" fill="none"/>
<path d="M226.2 552.97h1M233.2 554.52h1M242.2 556.06h1m4 0h1M175.2 566.87h1m66 0h1M197.2 605.47h1M219.2 608.56h1M219.2 616.28h1M182.2 617.82h1M182.2 622.45h1M191.2 630.17h1M220.2 634.8h1M242.2 636.35h1M245.2 639.44h1M191.2 647.16h1m38 0h1M202.2 659.51h1M197.2 670.32h1M245.2 674.95h1M247.2 685.76h1M212.2 705.83h1" stroke="#ff9494" stroke-width="1.58" fill="none"/>
<path d="M183.2 634.8h1M230.2 637.89h1M242.2 653.33h1" stroke="#ff6161" stroke-width="1.58" fill="none"/>
<path d="M46.4 554.52H31.76V556.06H46.4M46.4 557.6H31.98V559.15H46.4M31.76 555.29H31.48V558.38H31.98M46.4 560.69H32.07V562.24H46.4M31.48 556.83H29.97V561.46H32.07M46.4 552.97H29.27V559.15H29.97M29.27 556.06H28.87V563.78H46.4M46.4 565.32H29.51V566.87H46.4M46.4 568.41H29.99V569.96H46.4M29.51 566.1H27.78V569.18H29.99M27.78 567.64H26.56V571.5H46.4M28.87 559.92H26.05V569.57H26.56M26.05 564.75H24.16V573.04H46.4M46.4 576.13H31.92V577.68H46.4M46.4 580.76H33.71V582.31H46.4M46.4 579.22H33.52V581.54H33.71M46.4 583.85H33.9V585.4H46.4M46.4 588.48H34.09V590.03H46.4M46.4 586.94H33.9V589.26H34.09M33.9 584.62H33.71V588.1H33.9M46.4 591.57H33.71V593.12H46.4M33.71 586.36H33.52V592.34H33.71M33.52 580.38H33.32V589.35H33.52M33.32 584.87H32.17V594.66H46.4M31.92 576.9H31.13V589.76H32.17M46.4 574.59H29.48V583.33H31.13M46.4 597.75H32.68V599.29H46.4M46.4 600.84H32.56V602.38H46.4M32.56 601.61H31.97V603.92H46.4M32.68 598.52H31.77V602.77H31.97M46.4 596.2H30.49V600.64H31.77M29.48 578.96H28.76V598.42H30.49M46.4 605.47H32.92V607.01H46.4M32.92 606.24H32.71V608.56H46.4M46.4 610.1H32.52V611.64H46.4M32.71 607.4H32.5V610.87H32.52M46.4 614.73H33.88V616.28H46.4M33.88 615.5H33.69V617.82H46.4M46.4 620.91H33.88V622.45H46.4M46.4 619.36H33.69V621.68H33.88M33.69 616.66H33.49V620.52H33.69M46.4 613.19H33.3V618.59H33.49M32.5 609.13H32.17V615.89H33.3M32.17 612.51H31.56V624H46.4M46.4 625.54H31.83V627.08H46.4M31.56 618.25H31.04V626.31H31.83M46.4 631.72H33.96V633.26H46.4M46.4 630.17H33.77V632.49H33.96M46.4 636.35H33.96V637.89H46.4M46.4 634.8H33.77V637.12H33.96M33.77 631.33H33.57V635.96H33.77M46.4 642.52H33.96V644.07H46.4M46.4 640.98H33.77V643.3H33.96M46.4 639.44H33.57V642.14H33.77M33.57 633.65H33.38V640.79H33.57M33.38 637.22H33.18V645.61H46.4M46.4 628.63H31.83V641.41H33.18M31.83 635.02H29.85V647.16H46.4M31.04 622.28H29.27V641.09H29.85M28.76 588.69H27.68V631.69H29.27M46.4 648.7H32.88V650.24H46.4M32.88 649.47H32.68V651.79H46.4M46.4 653.33H32.63V654.88H46.4M32.68 650.63H32.14V654.1H32.63M46.4 657.96H32.88V659.51H46.4M46.4 656.42H32.07V658.74H32.88M32.14 652.37H31.32V657.58H32.07M46.4 661.05H30.99V662.6H46.4M31.32 654.97H30.16V661.82H30.99M46.4 665.68H31.94V667.23H46.4M46.4 668.77H33.92V670.32H46.4M46.4 671.86H33.92V673.4H46.4M33.92 669.54H33.73V672.63H33.92M33.73 671.09H33.54V674.95H46.4M33.54 673.02H33.34V676.49H46.4M33.34 674.76H33.15V678.04H46.4M31.94 666.46H31.85V676.4H33.15M46.4 664.14H31.12V671.43H31.85M30.16 658.4H29.41V667.78H31.12M46.4 681.12H33.04V682.67H46.4M33.04 681.9H32.84V684.21H46.4M46.4 679.58H32.63V683.05H32.84M46.4 685.76H32.18V687.3H46.4M32.63 681.32H31.97V686.53H32.18M31.97 683.92H31.28V688.84H46.4M46.4 691.93H33.29V693.48H46.4M46.4 695.02H33.49V696.56H46.4M46.4 698.11H33.49V699.65H46.4M33.49 695.79H33.29V698.88H33.49M33.29 692.7H33.09V697.34H33.29M46.4 701.2H33.09V702.74H46.4M33.09 695.02H32.89V701.97H33.09M46.4 690.39H32.32V698.49H32.89M32.32 694.44H32.1V704.28H46.4M32.1 699.36H30.85V705.83H46.4M31.28 686.38H29.67V702.6H30.85M29.41 663.09H27.99V694.49H29.67M27.68 610.19H25.04V678.79H27.99M24.16 568.89H21.9V644.49H25.04" stroke="#4c4c4c" stroke-width="0.5" fill="none"/>
<g font-family="Liberation Sans" font-size="4.45" font-weight="bold" fill="#111">
<text x="257.7" y="521.7" transform="rotate(0.03 257.7 521.7)">Gender</text>
<text x="257.7" y="527.2" transform="rotate(0.03 257.7 527.2)">Grade</text>
<text x="257.7" y="532.9" transform="rotate(0.03 257.7 532.9)">Project</text>
<text x="257.7" y="538.4" transform="rotate(0.03 257.7 538.4)">Age</text>
<text x="257.7" y="544" transform="rotate(0.03 257.7 544)">Status</text>
<text x="257.7" y="549.6" transform="rotate(0.03 257.7 549.6)">cluster</text>
<text x="274.3" y="555.1" transform="rotate(0.03 274.3 555.1)">Gender</text>
<text x="274.3" y="571.5" transform="rotate(0.03 274.3 571.5)">Grade</text>
<text x="274.3" y="601.4" transform="rotate(0.03 274.3 601.4)">Project</text>
<text x="274.3" y="617.8" transform="rotate(0.03 274.3 617.8)">Age</text>
<text x="274.3" y="641.3" transform="rotate(0.03 274.3 641.3)">Status</text>
<text x="274.3" y="664.3" transform="rotate(0.03 274.3 664.3)">cluster</text>
</g>
<defs><linearGradient id="fg" x1="0" y1="0" x2="0" y2="1"><stop offset="0" stop-color="#ff0000"/><stop offset="0.25" stop-color="#ff3030"/><stop offset="0.5" stop-color="#fff"/><stop offset="0.75" stop-color="#3030ff"/><stop offset="1" stop-color="#0000ff"/></linearGradient></defs>
<rect x="258.4" y="552.2" width="4.6" height="68.5" fill="url(#fg)"/>
<g font-family="Liberation Sans" font-size="4.4" fill="#111">
<text x="265.2" y="560.8" transform="rotate(0.03 265.2 560.8)">10</text>
<text x="265.2" y="574.5" transform="rotate(0.03 265.2 574.5)">5</text>
<text x="265.2" y="588.4" transform="rotate(0.03 265.2 588.4)">0</text>
<text x="265.2" y="602.1" transform="rotate(0.03 265.2 602.1)">−5</text>
<text x="265.2" y="615.9" transform="rotate(0.03 265.2 615.9)">−10</text>
<text x="282.2" y="562.05" font-size="3.2" transform="rotate(0.03 282.2 562.05)">FEMALE</text>
<text x="282.2" y="578.35" font-size="4.4" transform="rotate(0.03 282.2 578.35)">G1</text>
<text x="282.2" y="584.95" font-size="4.4" transform="rotate(0.03 282.2 584.95)">G2</text>
<text x="282.2" y="591.55" font-size="4.4" transform="rotate(0.03 282.2 591.55)">G3</text>
<text x="282.2" y="608.35" font-size="4.4" transform="rotate(0.03 282.2 608.35)">TCGA</text>
<text x="282.2" y="624.95" font-size="4.4" transform="rotate(0.03 282.2 624.95)">&lt;=65</text>
<text x="282.2" y="631.55" font-size="4.4" transform="rotate(0.03 282.2 631.55)">&gt;65</text>
<text x="282.2" y="648.25" font-size="4.4" transform="rotate(0.03 282.2 648.25)">Alive</text>
<text x="282.2" y="654.85" font-size="4.4" transform="rotate(0.03 282.2 654.85)">Dead</text>
<text x="282.2" y="671.25" font-size="4.4" transform="rotate(0.03 282.2 671.25)">A</text>
<text x="282.2" y="677.95" font-size="4.4" transform="rotate(0.03 282.2 677.95)">B</text>
<text x="282.2" y="684.55" font-size="4.4" transform="rotate(0.03 282.2 684.55)">C</text>
</g>
<rect x="274.3" y="557.4" width="6.6" height="6.45" fill="#f8a324"/>
<rect x="274.3" y="573.6" width="6.6" height="6.45" fill="#8fc31f"/>
<rect x="274.3" y="580.2" width="6.6" height="6.45" fill="#0fd3d3"/>
<rect x="274.3" y="586.8" width="6.6" height="6.45" fill="#08c8ff"/>
<rect x="274.3" y="603.5" width="6.6" height="6.45" fill="#0fd3a3"/>
<rect x="274.3" y="620.1" width="6.6" height="6.45" fill="#d8a0f8"/>
<rect x="274.3" y="626.7" width="6.6" height="6.45" fill="#f880f8"/>
<rect x="274.3" y="643.4" width="6.6" height="6.45" fill="#ff82c6"/>
<rect x="274.3" y="650" width="6.6" height="6.45" fill="#08cc66"/>
<rect x="274.3" y="666.4" width="6.6" height="6.45" fill="#f98f86"/>
<rect x="274.3" y="673.1" width="6.6" height="6.45" fill="#84b4f9"/>
<rect x="274.3" y="679.7" width="6.6" height="6.45" fill="#c7a806"/>
</g>
<g id="panel_g">
<path d="M391.9 522.6V636.2H645" stroke="#000" stroke-width="1" fill="none"/>
<path d="M391.9 631.3h-3M391.9 605.57h-3M391.9 579.85h-3M391.9 554.12h-3M391.9 528.4h-3M403.2 636.2v3M460.55 636.2v3M517.9 636.2v3M575.25 636.2v3M632.6 636.2v3" stroke="#000" stroke-width="0.6" fill="none"/>
<g font-family="Liberation Sans" font-size="6.75" fill="#262626">
<text x="388.1" y="633.75" text-anchor="end" transform="rotate(0.03 388.1 633.75)">0.00</text>
<text x="388.1" y="608.02" text-anchor="end" transform="rotate(0.03 388.1 608.02)">0.25</text>
<text x="388.1" y="582.3" text-anchor="end" transform="rotate(0.03 388.1 582.3)">0.50</text>
<text x="388.1" y="556.58" text-anchor="end" transform="rotate(0.03 388.1 556.58)">0.75</text>
<text x="388.1" y="530.85" text-anchor="end" transform="rotate(0.03 388.1 530.85)">1.00</text>
<text x="403.2" y="645.6" text-anchor="middle" transform="rotate(0.03 403.2 645.6)">0</text>
<text x="460.55" y="645.6" text-anchor="middle" transform="rotate(0.03 460.55 645.6)">5</text>
<text x="517.9" y="645.6" text-anchor="middle" transform="rotate(0.03 517.9 645.6)">10</text>
<text x="575.25" y="645.6" text-anchor="middle" transform="rotate(0.03 575.25 645.6)">15</text>
<text x="632.6" y="645.6" text-anchor="middle" transform="rotate(0.03 632.6 645.6)">20</text>
</g>
<text x="518.4" y="655.6" font-size="8.85" text-anchor="middle" transform="rotate(0.03 518.4 655.6)">Time(years)</text>
<text x="370.4" y="579.5" font-size="8.85" text-anchor="middle" transform="rotate(-89.97 370.4 579.5)">Survival probability</text>
<path d="M403.2 527.99H407.79V529.94H412.61V533.13H417.88V536.22H422.7V537.87H426.71V539.41H430.15V541.98H433.71V544.56H437.27V547.13H439.9V548.88H460.89V548.88H462.61V552.27H580.99V552.27" stroke="#e7b800" stroke-width="1.2" fill="none"/>
<path d="M406.64 526.49v3M405.14 527.99h3M410.08 528.44v3M408.58 529.94h3M414.67 531.63v3M413.17 533.13h3M418.11 534.72v3M416.61 536.22h3M424.99 536.37v3M423.49 537.87h3M430.73 540.48v3M429.23 541.98h3M442.2 547.38v3M440.7 548.88h3M445.64 547.38v3M444.14 548.88h3M449.08 547.38v3M447.58 548.88h3M452.52 547.38v3M451.02 548.88h3M455.96 547.38v3M454.46 548.88h3M459.4 547.38v3M457.9 548.88h3M466.28 550.77v3M464.78 552.27h3M472.02 550.77v3M470.52 552.27h3M476.61 550.77v3M475.11 552.27h3M485.78 550.77v3M484.28 552.27h3M492.67 550.77v3M491.17 552.27h3M494.96 550.77v3M493.46 552.27h3M527.08 550.77v3M525.58 552.27h3M580.99 550.77v3M579.49 552.27h3" stroke="#e7b800" stroke-width="0.65" fill="none"/>
<path d="M403.2 527.99H409.05V531.28H412.61V533.96H416.05V536.63H424.88V537.66H427.52V540.23H428.43V543.32H432.79V554.12H437.15V555.15H438.76V557.73H441.51V560.3H445.07V563.18H511.02V563.18H511.02V580.57H533.96V580.57" stroke="#fc4e07" stroke-width="1.2" fill="none"/>
<path d="M407.79 526.49v3M406.29 527.99h3M414.67 532.46v3M413.17 533.96h3M422.7 535.13v3M421.2 536.63h3M435.32 552.62v3M433.82 554.12h3M441.05 556.23v3M439.55 557.73h3M449.08 561.68v3M447.58 563.18h3M453.67 561.68v3M452.17 563.18h3M459.4 561.68v3M457.9 563.18h3M465.14 561.68v3M463.64 563.18h3M470.87 561.68v3M469.37 563.18h3M475.46 561.68v3M473.96 563.18h3M481.2 561.68v3M479.7 563.18h3M485.78 561.68v3M484.28 563.18h3M491.52 561.68v3M490.02 563.18h3M496.11 561.68v3M494.61 563.18h3M521.34 579.07v3M519.84 580.57h3M533.96 579.07v3M532.46 580.57h3" stroke="#fc4e07" stroke-width="0.65" fill="none"/>
<path d="M403.2 527.99H408.36V528.81H412.61V529.63H418.11V530.46H424.88V531.38H429.24V533.13H444.15V533.75H446.79V535.09H449.42V536.22H472.25V536.43H474.89V539H618.84V539" stroke="#2e9fdf" stroke-width="1.2" fill="none"/>
<path d="M405.49 526.49v3M403.99 527.99h3M406.64 526.49v3M405.14 527.99h3M408.94 527.31v3M407.44 528.81h3M410.08 527.31v3M408.58 528.81h3M413.52 528.13v3M412.02 529.63h3M416.96 528.13v3M415.46 529.63h3M419.26 528.96v3M417.76 530.46h3M423.85 528.96v3M422.35 530.46h3M429.58 531.63v3M428.08 533.13h3M435.32 531.63v3M433.82 533.13h3M437.61 531.63v3M436.11 533.13h3M441.05 531.63v3M439.55 533.13h3M443.34 531.63v3M441.84 533.13h3M446.79 533.59v3M445.29 535.09h3M451.37 534.72v3M449.87 536.22h3M454.81 534.72v3M453.31 536.22h3M458.26 534.72v3M456.76 536.22h3M460.55 534.72v3M459.05 536.22h3M463.99 534.72v3M462.49 536.22h3M467.43 534.72v3M465.93 536.22h3M470.87 534.72v3M469.37 536.22h3M478.9 537.5v3M477.4 539h3M483.49 537.5v3M481.99 539h3M486.93 537.5v3M485.43 539h3M492.67 537.5v3M491.17 539h3M496.11 537.5v3M494.61 539h3M499.55 537.5v3M498.05 539h3M505.28 537.5v3M503.78 539h3M508.72 537.5v3M507.22 539h3M512.16 537.5v3M510.66 539h3M516.75 537.5v3M515.25 539h3M618.84 537.5v3M617.34 539h3" stroke="#2e9fdf" stroke-width="0.65" fill="none"/>
<text x="408.4" y="613.6" font-size="6.65" transform="rotate(0.03 408.4 613.6)">p = 0.00052</text>
<text x="618.1" y="585.4" font-size="8.7" transform="rotate(0.03 618.1 585.4)">Cluster</text>
<path d="M618.7 594.5h7.5" stroke="#e7b800" stroke-width="1.25" fill="none"/><path d="M622.45 593v2.6" stroke="#e7b800" stroke-width="0.6" fill="none"/>
<text x="631" y="596.95" font-size="6.75" transform="rotate(0.03 631 596.95)">A</text>
<path d="M618.7 602.85h7.5" stroke="#fc4e07" stroke-width="1.25" fill="none"/><path d="M622.45 601.35v2.6" stroke="#fc4e07" stroke-width="0.6" fill="none"/>
<text x="631" y="605.3" font-size="6.75" transform="rotate(0.03 631 605.3)">B</text>
<path d="M618.7 611.2h7.5" stroke="#2e9fdf" stroke-width="1.25" fill="none"/><path d="M622.45 609.7v2.6" stroke="#2e9fdf" stroke-width="0.6" fill="none"/>
<text x="631" y="613.65" font-size="6.75" transform="rotate(0.03 631 613.65)">C</text>
<text x="389.8" y="674" font-size="10.6" transform="rotate(0.03 389.8 674)">Number at risk</text>
<path d="M389.2 679V697.1H645" stroke="#000" stroke-width="1" fill="none"/>
<path d="M389.2 683.4h-2.6M389.2 688.6h-2.6M389.2 693.8h-2.6M401 697.1v2.8M459.2 697.1v2.8M516.6 697.1v2.8M574.6 697.1v2.8M632.7 697.1v2.8" stroke="#000" stroke-width="0.6" fill="none"/>
<g font-family="Liberation Sans" font-size="5.75" text-anchor="middle">
<text x="401" y="685.5" transform="rotate(0.03 401 685.5)">157</text>
<text x="459.2" y="685.5" transform="rotate(0.03 459.2 685.5)">25</text>
<text x="516.6" y="685.5" transform="rotate(0.03 516.6 685.5)">2</text>
<text x="574.6" y="685.5" transform="rotate(0.03 574.6 685.5)">1</text>
<text x="632.7" y="685.5" transform="rotate(0.03 632.7 685.5)">0</text>
<text x="401" y="690.7" transform="rotate(0.03 401 690.7)">83</text>
<text x="459.2" y="690.7" transform="rotate(0.03 459.2 690.7)">14</text>
<text x="516.6" y="690.7" transform="rotate(0.03 516.6 690.7)">2</text>
<text x="574.6" y="690.7" transform="rotate(0.03 574.6 690.7)">0</text>
<text x="632.7" y="690.7" transform="rotate(0.03 632.7 690.7)">0</text>
<text x="401" y="695.9" transform="rotate(0.03 401 695.9)">159</text>
<text x="459.2" y="695.9" transform="rotate(0.03 459.2 695.9)">53</text>
<text x="516.6" y="695.9" transform="rotate(0.03 516.6 695.9)">1</text>
<text x="574.6" y="695.9" transform="rotate(0.03 574.6 695.9)">1</text>
<text x="632.7" y="695.9" transform="rotate(0.03 632.7 695.9)">0</text>
<text x="401" y="707" font-size="6.75" fill="#262626" transform="rotate(0.03 401 707)">0</text>
<text x="459.2" y="707" font-size="6.75" fill="#262626" transform="rotate(0.03 459.2 707)">5</text>
<text x="516.6" y="707" font-size="6.75" fill="#262626" transform="rotate(0.03 516.6 707)">10</text>
<text x="574.6" y="707" font-size="6.75" fill="#262626" transform="rotate(0.03 574.6 707)">15</text>
<text x="632.7" y="707" font-size="6.75" fill="#262626" transform="rotate(0.03 632.7 707)">20</text>
</g>
<text x="385.6" y="685.7" font-size="6.6" text-anchor="end" fill="#e7b800" transform="rotate(0.03 385.6 685.7)">A</text>
<text x="385.6" y="690.9" font-size="6.6" text-anchor="end" fill="#fc4e07" transform="rotate(0.03 385.6 690.9)">B</text>
<text x="385.6" y="696.1" font-size="6.6" text-anchor="end" fill="#2e9fdf" transform="rotate(0.03 385.6 696.1)">C</text>
<text x="518" y="716.4" font-size="8.85" text-anchor="middle" transform="rotate(0.03 518 716.4)">Time(years)</text>
<text x="370.2" y="687.5" font-size="8.85" text-anchor="middle" transform="rotate(-89.97 370.2 687.5)">Cluster</text>
</g>
<g id="panel_h">
<path d="M143.4 762.3V943.8H262.7" stroke="#000" stroke-width="0.8" fill="none"/>
<path d="M143.4 765.4h-1.7M143.4 769.69h-1.7M143.4 773.98h-1.7M143.4 778.26h-1.7M143.4 782.55h-1.7M143.4 786.84h-1.7M143.4 791.13h-1.7M143.4 795.42h-1.7M143.4 799.7h-1.7M143.4 803.99h-1.7M143.4 808.28h-1.7M143.4 812.57h-1.7M143.4 816.86h-1.7M143.4 821.14h-1.7M143.4 825.43h-1.7M143.4 829.72h-1.7M143.4 834.01h-1.7M143.4 838.3h-1.7M143.4 842.58h-1.7M143.4 846.87h-1.7M143.4 851.16h-1.7M143.4 855.45h-1.7M143.4 859.74h-1.7M143.4 864.02h-1.7M143.4 868.31h-1.7M143.4 872.6h-1.7M143.4 876.89h-1.7M143.4 881.18h-1.7M143.4 885.46h-1.7M143.4 889.75h-1.7M143.4 894.04h-1.7M143.4 898.33h-1.7M143.4 902.62h-1.7M143.4 906.9h-1.7M143.4 911.19h-1.7M143.4 915.48h-1.7M143.4 919.77h-1.7M143.4 924.06h-1.7M143.4 928.34h-1.7M143.4 932.63h-1.7M143.4 936.92h-1.7M143.4 941.21h-1.7M149.4 943.8v1.9M175.1 943.8v1.9M200.8 943.8v1.9M226.5 943.8v1.9M252.2 943.8v1.9" stroke="#333" stroke-width="0.45" fill="none"/>
<rect x="149.4" y="763.52" width="102.8" height="3.75" fill="#ff0000"/>
<rect x="149.4" y="767.81" width="105.37" height="3.75" fill="#ff0000"/>
<rect x="149.4" y="772.1" width="105.37" height="3.75" fill="#ff0001"/>
<rect x="149.4" y="776.39" width="61.68" height="3.75" fill="#ff0001"/>
<rect x="149.4" y="780.68" width="84.81" height="3.75" fill="#ff0001"/>
<rect x="149.4" y="784.97" width="64.25" height="3.75" fill="#ff0002"/>
<rect x="149.4" y="789.25" width="69.39" height="3.75" fill="#ff0002"/>
<rect x="149.4" y="793.54" width="69.39" height="3.75" fill="#ff0003"/>
<rect x="149.4" y="797.83" width="41.12" height="3.75" fill="#fe0003"/>
<rect x="149.4" y="802.12" width="64.25" height="3.75" fill="#fe0003"/>
<rect x="149.4" y="806.4" width="43.69" height="3.75" fill="#fe0006"/>
<rect x="149.4" y="810.69" width="69.39" height="3.75" fill="#fd000a"/>
<rect x="149.4" y="814.98" width="105.37" height="3.75" fill="#fc000e"/>
<rect x="149.4" y="819.27" width="33.41" height="3.75" fill="#fc0013"/>
<rect x="149.4" y="823.56" width="43.69" height="3.75" fill="#fb0018"/>
<rect x="149.4" y="827.85" width="30.84" height="3.75" fill="#fa001d"/>
<rect x="149.4" y="832.13" width="41.12" height="3.75" fill="#f80023"/>
<rect x="149.4" y="836.42" width="107.94" height="3.75" fill="#f60029"/>
<rect x="149.4" y="840.71" width="41.12" height="3.75" fill="#f4002f"/>
<rect x="149.4" y="845" width="51.4" height="3.75" fill="#f20035"/>
<rect x="149.4" y="849.28" width="38.55" height="3.75" fill="#f0003b"/>
<rect x="149.4" y="853.57" width="56.54" height="3.75" fill="#ee0042"/>
<rect x="149.4" y="857.86" width="43.69" height="3.75" fill="#ec0049"/>
<rect x="149.4" y="862.15" width="33.41" height="3.75" fill="#e9004e"/>
<rect x="149.4" y="866.44" width="38.55" height="3.75" fill="#e60054"/>
<rect x="149.4" y="870.73" width="38.55" height="3.75" fill="#e3005a"/>
<rect x="149.4" y="875.01" width="48.83" height="3.75" fill="#e0005f"/>
<rect x="149.4" y="879.3" width="56.54" height="3.75" fill="#dd0065"/>
<rect x="149.4" y="883.59" width="53.97" height="3.75" fill="#da006b"/>
<rect x="149.4" y="887.88" width="38.55" height="3.75" fill="#d70071"/>
<rect x="149.4" y="892.16" width="33.41" height="3.75" fill="#d30077"/>
<rect x="149.4" y="896.45" width="51.4" height="3.75" fill="#cf007d"/>
<rect x="149.4" y="900.74" width="38.55" height="3.75" fill="#cc0082"/>
<rect x="149.4" y="905.03" width="30.84" height="3.75" fill="#7100d3"/>
<rect x="149.4" y="909.32" width="33.41" height="3.75" fill="#6e00d4"/>
<rect x="149.4" y="913.61" width="48.83" height="3.75" fill="#6b00d6"/>
<rect x="149.4" y="917.89" width="53.97" height="3.75" fill="#6700d7"/>
<rect x="149.4" y="922.18" width="53.97" height="3.75" fill="#6200d8"/>
<rect x="149.4" y="926.47" width="48.83" height="3.75" fill="#5e00d9"/>
<rect x="149.4" y="930.76" width="20.56" height="3.75" fill="#5900da"/>
<rect x="149.4" y="935.04" width="38.55" height="3.75" fill="#5500db"/>
<rect x="149.4" y="939.33" width="17.99" height="3.75" fill="#0000f0"/>
<g font-family="Liberation Sans" font-size="5.05" fill="#3a3a3a" text-anchor="end">
<text x="141.1" y="767.2" transform="rotate(0.03 141.1 767.2)">Proteoglycans in cancer</text>
<text x="141.1" y="771.49" transform="rotate(0.03 141.1 771.49)">Regulation of actin cytoskeleton</text>
<text x="141.1" y="775.78" transform="rotate(0.03 141.1 775.78)">Cytoskeleton in muscle cells</text>
<text x="141.1" y="780.06" transform="rotate(0.03 141.1 780.06)">Thyroid hormone signaling pathway</text>
<text x="141.1" y="784.35" transform="rotate(0.03 141.1 784.35)">Focal adhesion</text>
<text x="141.1" y="788.64" transform="rotate(0.03 141.1 788.64)">Signaling pathways regulating pluripotency of stem cells</text>
<text x="141.1" y="792.93" transform="rotate(0.03 141.1 792.93)">Hepatocellular carcinoma</text>
<text x="141.1" y="797.22" transform="rotate(0.03 141.1 797.22)">Wnt signaling pathway</text>
<text x="141.1" y="801.5" transform="rotate(0.03 141.1 801.5)">Chronic myeloid leukemia</text>
<text x="141.1" y="805.79" transform="rotate(0.03 141.1 805.79)">Cell cycle</text>
<text x="141.1" y="810.08" transform="rotate(0.03 141.1 810.08)">ECM−receptor interaction</text>
<text x="141.1" y="814.37" transform="rotate(0.03 141.1 814.37)">Axon guidance</text>
<text x="141.1" y="818.66" transform="rotate(0.03 141.1 818.66)">Human papillomavirus infection</text>
<text x="141.1" y="822.94" transform="rotate(0.03 141.1 822.94)">Longevity regulating pathway − multiple species</text>
<text x="141.1" y="827.23" transform="rotate(0.03 141.1 827.23)">Prostate cancer</text>
<text x="141.1" y="831.52" transform="rotate(0.03 141.1 831.52)">Hedgehog signaling pathway</text>
<text x="141.1" y="835.81" transform="rotate(0.03 141.1 835.81)">Longevity regulating pathway</text>
<text x="141.1" y="840.1" transform="rotate(0.03 141.1 840.1)">PI3K−Akt signaling pathway</text>
<text x="141.1" y="844.38" transform="rotate(0.03 141.1 844.38)">Adherens junction</text>
<text x="141.1" y="848.67" transform="rotate(0.03 141.1 848.67)">FoxO signaling pathway</text>
<text x="141.1" y="852.96" transform="rotate(0.03 141.1 852.96)">Colorectal cancer</text>
<text x="141.1" y="857.25" transform="rotate(0.03 141.1 857.25)">Cellular senescence</text>
<text x="141.1" y="861.54" transform="rotate(0.03 141.1 861.54)">TGF−beta signaling pathway</text>
<text x="141.1" y="865.82" transform="rotate(0.03 141.1 865.82)">Melanoma</text>
<text x="141.1" y="870.11" transform="rotate(0.03 141.1 870.11)">Gap junction</text>
<text x="141.1" y="874.4" transform="rotate(0.03 141.1 874.4)">Small cell lung cancer</text>
<text x="141.1" y="878.69" transform="rotate(0.03 141.1 878.69)">Vascular smooth muscle contraction</text>
<text x="141.1" y="882.98" transform="rotate(0.03 141.1 882.98)">cGMP−PKG signaling pathway</text>
<text x="141.1" y="887.26" transform="rotate(0.03 141.1 887.26)">Hippo signaling pathway</text>
<text x="141.1" y="891.55" transform="rotate(0.03 141.1 891.55)">Endocrine resistance</text>
<text x="141.1" y="895.84" transform="rotate(0.03 141.1 895.84)">EGFR tyrosine kinase inhibitor resistance</text>
<text x="141.1" y="900.13" transform="rotate(0.03 141.1 900.13)">Gastric cancer</text>
<text x="141.1" y="904.42" transform="rotate(0.03 141.1 904.42)">Melanogenesis</text>
<text x="141.1" y="908.7" transform="rotate(0.03 141.1 908.7)">Glioma</text>
<text x="141.1" y="912.99" transform="rotate(0.03 141.1 912.99)">Arrhythmogenic right ventricular cardiomyopathy</text>
<text x="141.1" y="917.28" transform="rotate(0.03 141.1 917.28)">Breast cancer</text>
<text x="141.1" y="921.57" transform="rotate(0.03 141.1 921.57)">Protein processing in endoplasmic reticulum</text>
<text x="141.1" y="925.86" transform="rotate(0.03 141.1 925.86)">Tight junction</text>
<text x="141.1" y="930.14" transform="rotate(0.03 141.1 930.14)">Phospholipase D signaling pathway</text>
<text x="141.1" y="934.43" transform="rotate(0.03 141.1 934.43)">Bladder cancer</text>
<text x="141.1" y="938.72" transform="rotate(0.03 141.1 938.72)">Nucleocytoplasmic transport</text>
<text x="141.1" y="943.01" transform="rotate(0.03 141.1 943.01)">Circadian rhythm</text>
</g>
<g font-family="Liberation Sans" font-size="5.5" fill="#3a3a3a" text-anchor="middle">
<text x="149.4" y="950.8" transform="rotate(0.03 149.4 950.8)">0</text>
<text x="175.1" y="950.8" transform="rotate(0.03 175.1 950.8)">10</text>
<text x="200.8" y="950.8" transform="rotate(0.03 200.8 950.8)">20</text>
<text x="226.5" y="950.8" transform="rotate(0.03 226.5 950.8)">30</text>
<text x="252.2" y="950.8" transform="rotate(0.03 252.2 950.8)">40</text>
</g>
<text x="202.6" y="961.2" font-size="7.05" text-anchor="middle" transform="rotate(0.03 202.6 961.2)">Gene Number</text>
<text x="7.8" y="853" font-size="6.9" text-anchor="middle" transform="rotate(-89.97 7.8 853)">Pathways</text>
<text x="271.8" y="832.4" font-size="6.5" transform="rotate(0.03 271.8 832.4)">p.adjust</text>
<defs><linearGradient id="hg" x1="0" y1="0" x2="0" y2="1"><stop offset="0" stop-color="#2a10f4"/><stop offset="0.25" stop-color="#8c00c6"/><stop offset="0.5" stop-color="#cc0082"/><stop offset="0.75" stop-color="#ec0048"/><stop offset="1" stop-color="#ff0000"/></linearGradient></defs>
<rect x="272" y="836.2" width="8.8" height="43.6" fill="url(#hg)"/>
<g font-family="Liberation Sans" font-size="5" fill="#111">
<text x="283.9" y="845.8" transform="rotate(0.03 283.9 845.8)">0.04</text>
<text x="283.9" y="854.8" transform="rotate(0.03 283.9 854.8)">0.03</text>
<text x="283.9" y="864.1" transform="rotate(0.03 283.9 864.1)">0.02</text>
<text x="283.9" y="873.2" transform="rotate(0.03 283.9 873.2)">0.01</text>
</g>
</g>
<g id="panel_i">
<path d="M482.8 763.4V942.2H579.9" stroke="#000" stroke-width="0.8" fill="none"/>
<path d="M482.8 767.3h-1.8M482.8 773.21h-1.8M482.8 779.13h-1.8M482.8 785.04h-1.8M482.8 790.96h-1.8M482.8 796.87h-1.8M482.8 802.78h-1.8M482.8 808.7h-1.8M482.8 814.61h-1.8M482.8 820.53h-1.8M482.8 826.44h-1.8M482.8 832.35h-1.8M482.8 838.27h-1.8M482.8 844.18h-1.8M482.8 850.1h-1.8M482.8 856.01h-1.8M482.8 861.92h-1.8M482.8 867.84h-1.8M482.8 873.75h-1.8M482.8 879.67h-1.8M482.8 885.58h-1.8M482.8 891.49h-1.8M482.8 897.41h-1.8M482.8 903.32h-1.8M482.8 909.24h-1.8M482.8 915.15h-1.8M482.8 921.06h-1.8M482.8 926.98h-1.8M482.8 932.89h-1.8M482.8 938.81h-1.8M487 942.2v1.9M510.06 942.2v1.9M533.12 942.2v1.9M556.18 942.2v1.9M579.24 942.2v1.9" stroke="#333" stroke-width="0.45" fill="none"/>
<rect x="487" y="764.75" width="88.78" height="5.1" fill="#66c2a5"/>
<rect x="487" y="770.66" width="88.78" height="5.1" fill="#66c2a5"/>
<rect x="487" y="776.58" width="65.72" height="5.1" fill="#66c2a5"/>
<rect x="487" y="782.49" width="79.56" height="5.1" fill="#66c2a5"/>
<rect x="487" y="788.41" width="61.11" height="5.1" fill="#66c2a5"/>
<rect x="487" y="794.32" width="76.1" height="5.1" fill="#66c2a5"/>
<rect x="487" y="800.23" width="76.1" height="5.1" fill="#66c2a5"/>
<rect x="487" y="806.15" width="58.8" height="5.1" fill="#66c2a5"/>
<rect x="487" y="812.06" width="63.41" height="5.1" fill="#66c2a5"/>
<rect x="487" y="817.98" width="76.1" height="5.1" fill="#66c2a5"/>
<rect x="487" y="823.89" width="77.25" height="5.1" fill="#8da0cb"/>
<rect x="487" y="829.8" width="71.49" height="5.1" fill="#8da0cb"/>
<rect x="487" y="835.72" width="68.03" height="5.1" fill="#8da0cb"/>
<rect x="487" y="841.63" width="69.18" height="5.1" fill="#8da0cb"/>
<rect x="487" y="847.55" width="26.52" height="5.1" fill="#8da0cb"/>
<rect x="487" y="853.46" width="64.57" height="5.1" fill="#8da0cb"/>
<rect x="487" y="859.37" width="25.37" height="5.1" fill="#8da0cb"/>
<rect x="487" y="865.29" width="25.37" height="5.1" fill="#8da0cb"/>
<rect x="487" y="871.2" width="23.06" height="5.1" fill="#8da0cb"/>
<rect x="487" y="877.12" width="23.06" height="5.1" fill="#8da0cb"/>
<rect x="487" y="883.03" width="47.27" height="5.1" fill="#fc8d62"/>
<rect x="487" y="888.94" width="54.19" height="5.1" fill="#fc8d62"/>
<rect x="487" y="894.86" width="74.95" height="5.1" fill="#fc8d62"/>
<rect x="487" y="900.77" width="34.59" height="5.1" fill="#fc8d62"/>
<rect x="487" y="906.69" width="13.84" height="5.1" fill="#fc8d62"/>
<rect x="487" y="912.6" width="64.57" height="5.1" fill="#fc8d62"/>
<rect x="487" y="918.51" width="54.19" height="5.1" fill="#fc8d62"/>
<rect x="487" y="924.43" width="16.14" height="5.1" fill="#fc8d62"/>
<rect x="487" y="930.34" width="18.45" height="5.1" fill="#fc8d62"/>
<rect x="487" y="936.26" width="40.36" height="5.1" fill="#fc8d62"/>
<g font-family="Liberation Sans" font-size="5.55" fill="#3a3a3a" text-anchor="end" xml:space="preserve">
<text x="479.7" y="769.25" transform="rotate(0.03 479.7 769.25)">Wnt signaling pathway  </text>
<text x="479.7" y="775.16" transform="rotate(0.03 479.7 775.16)">cell−cell signaling by wnt</text>
<text x="479.7" y="781.08" transform="rotate(0.03 479.7 781.08)">mesenchyme development  </text>
<text x="479.7" y="786.99" transform="rotate(0.03 479.7 786.99)">mitotic cell cycle phase transition</text>
<text x="479.7" y="792.91" transform="rotate(0.03 479.7 792.91)">response to transforming growth factor</text>
<text x="479.7" y="798.82" transform="rotate(0.03 479.7 798.82)">muscle tissue development  </text>
<text x="479.7" y="804.73" transform="rotate(0.03 479.7 804.73)">ossification    </text>
<text x="479.7" y="810.65" transform="rotate(0.03 479.7 810.65)">cellular response to transforming growth</text>
<text x="479.7" y="816.56" transform="rotate(0.03 479.7 816.56)">regulation of Wnt signaling pathway</text>
<text x="479.7" y="822.48" transform="rotate(0.03 479.7 822.48)">regulation of cell cycle phase</text>
<text x="479.7" y="828.39" transform="rotate(0.03 479.7 828.39)">collagen−containing extracellular matrix  </text>
<text x="479.7" y="834.3" transform="rotate(0.03 479.7 834.3)">cell−substrate junction  </text>
<text x="479.7" y="840.22" transform="rotate(0.03 479.7 840.22)">focal adhesion   </text>
<text x="479.7" y="846.13" transform="rotate(0.03 479.7 846.13)">spindle    </text>
<text x="479.7" y="852.05" transform="rotate(0.03 479.7 852.05)">actin filament bundle  </text>
<text x="479.7" y="857.96" transform="rotate(0.03 479.7 857.96)">chromosomal region   </text>
<text x="479.7" y="863.87" transform="rotate(0.03 479.7 863.87)">actomyosin    </text>
<text x="479.7" y="869.79" transform="rotate(0.03 479.7 869.79)">basement membrane   </text>
<text x="479.7" y="875.7" transform="rotate(0.03 479.7 875.7)">stress fiber   </text>
<text x="479.7" y="881.62" transform="rotate(0.03 479.7 881.62)">contractile actin filament bundle </text>
<text x="479.7" y="887.53" transform="rotate(0.03 479.7 887.53)">extracellular matrix structural constituent </text>
<text x="479.7" y="893.44" transform="rotate(0.03 479.7 893.44)">histone binding   </text>
<text x="479.7" y="899.36" transform="rotate(0.03 479.7 899.36)">D−binding transcription factor binding </text>
<text x="479.7" y="905.27" transform="rotate(0.03 479.7 905.27)">integrin binding   </text>
<text x="479.7" y="911.19" transform="rotate(0.03 479.7 911.19)">Wnt−protein binding   </text>
<text x="479.7" y="917.1" transform="rotate(0.03 479.7 917.1)">actin binding   </text>
<text x="479.7" y="923.01" transform="rotate(0.03 479.7 923.01)">R polymerase II−specific D−binding transcription</text>
<text x="479.7" y="928.93" transform="rotate(0.03 479.7 928.93)">protein kinase A binding </text>
<text x="479.7" y="934.84" transform="rotate(0.03 479.7 934.84)">collagen binding   </text>
<text x="479.7" y="940.76" transform="rotate(0.03 479.7 940.76)">glycosaminoglycan binding   </text>
</g>
<g font-family="Liberation Sans" font-size="5.5" fill="#3a3a3a" text-anchor="middle">
<text x="487" y="949.6" transform="rotate(0.03 487 949.6)">0</text>
<text x="510.06" y="949.6" transform="rotate(0.03 510.06 949.6)">20</text>
<text x="533.12" y="949.6" transform="rotate(0.03 533.12 949.6)">40</text>
<text x="556.18" y="949.6" transform="rotate(0.03 556.18 949.6)">60</text>
<text x="579.24" y="949.6" transform="rotate(0.03 579.24 949.6)">80</text>
</g>
<text x="530.5" y="960.3" font-size="7.1" text-anchor="middle" transform="rotate(0.03 530.5 960.3)">Gene Number</text>
<text x="359.6" y="860" font-size="6.8" text-anchor="middle" transform="rotate(-89.97 359.6 860)">GO term</text>
<text x="591.4" y="840.4" font-size="6.8" transform="rotate(0.03 591.4 840.4)">type</text>
<rect x="591.7" y="845.7" width="8.2" height="8" fill="#66c2a5"/>
<text x="603.6" y="851.6" font-size="5.6" transform="rotate(0.03 603.6 851.6)">biological process</text>
<rect x="591.7" y="854.3" width="8.2" height="8" fill="#8da0cb"/>
<text x="603.6" y="860.2" font-size="5.6" transform="rotate(0.03 603.6 860.2)">cellular component</text>
<rect x="591.7" y="862.9" width="8.2" height="8" fill="#fc8d62"/>
<text x="603.6" y="868.8" font-size="5.6" transform="rotate(0.03 603.6 868.8)">molecular function</text>
</g>
<g id="panel_letters">
<path d="M23 1.4L17 19.7" stroke="#181818" stroke-width="0.85" fill="none"/>
<path d="M22.5 0.9L24.1 0.9L31 19.7L28.8 19.7Z" fill="#181818"/>
<path d="M19.1 13.85L27.3 13.85" stroke="#181818" stroke-width="0.85" fill="none"/>
<path d="M13.8 19.7L20.1 19.7" stroke="#181818" stroke-width="0.85" fill="none"/>
<path d="M26.5 19.7L32.7 19.7" stroke="#181818" stroke-width="0.85" fill="none"/>
<rect x="237.05" y="1.4" width="1.9" height="18.2" fill="#181818"/>
<path d="M234.05 1.47L243.3 1.47" stroke="#181818" stroke-width="0.85" fill="none"/>
<path d="M234.05 19.55L243.5 19.55" stroke="#181818" stroke-width="0.85" fill="none"/>
<path d="M238.9 9.75L243 9.75" stroke="#181818" stroke-width="0.85" fill="none"/>
<path d="M243.2 1.05L243.66 1.08L244.11 1.16L244.55 1.31L244.98 1.5L245.38 1.75L245.76 2.04L246.1 2.38L246.41 2.76L246.67 3.18L246.89 3.63L247.07 4.1L247.2 4.59L247.27 5.09L247.3 5.6L247.27 6.11L247.2 6.61L247.07 7.1L246.89 7.57L246.67 8.02L246.41 8.44L246.1 8.82L245.76 9.16L245.38 9.45L244.98 9.7L244.55 9.89L244.11 10.04L243.66 10.12L243.2 10.15L243.2 9.32L243.46 9.3L243.71 9.23L243.96 9.11L244.2 8.95L244.42 8.75L244.63 8.51L244.83 8.23L245 7.92L245.15 7.58L245.27 7.21L245.37 6.83L245.44 6.43L245.49 6.02L245.5 5.6L245.49 5.18L245.44 4.77L245.37 4.37L245.27 3.99L245.15 3.62L245 3.28L244.83 2.97L244.63 2.69L244.42 2.45L244.2 2.25L243.96 2.09L243.71 1.97L243.46 1.9L243.2 1.88Z" fill="#181818"/>
<path d="M243.3 9.33L243.9 9.36L244.49 9.46L245.07 9.63L245.62 9.86L246.15 10.15L246.64 10.49L247.08 10.89L247.48 11.33L247.83 11.82L248.12 12.34L248.35 12.89L248.52 13.47L248.62 14.05L248.65 14.65L248.62 15.25L248.52 15.83L248.35 16.41L248.12 16.96L247.83 17.48L247.48 17.97L247.08 18.41L246.64 18.81L246.15 19.15L245.62 19.44L245.07 19.67L244.49 19.84L243.9 19.94L243.3 19.97L243.3 19.13L243.68 19.1L244.06 19.02L244.42 18.88L244.78 18.69L245.11 18.44L245.42 18.15L245.7 17.82L245.96 17.44L246.18 17.03L246.36 16.59L246.51 16.13L246.61 15.65L246.68 15.15L246.7 14.65L246.68 14.15L246.61 13.65L246.51 13.17L246.36 12.71L246.18 12.27L245.96 11.86L245.7 11.48L245.42 11.15L245.11 10.86L244.78 10.61L244.42 10.42L244.06 10.28L243.68 10.2L243.3 10.17Z" fill="#181818"/>
<path d="M473.65 14.4L473.07 15.49L472.36 16.49L471.52 17.39L470.57 18.19L469.53 18.86L468.4 19.39L467.22 19.78L466 20.02L464.75 20.1L463.51 20.03L462.28 19.8L461.09 19.43L459.96 18.9L458.91 18.25L457.95 17.46L457.11 16.57L456.38 15.57L455.79 14.5L455.34 13.35L455.05 12.17L454.91 10.95L454.93 9.73L455.11 8.52L455.45 7.34L455.93 6.22L456.56 5.16L457.32 4.19L458.19 3.32L459.18 2.57L460.25 1.95L461.4 1.46L462.6 1.12L463.83 0.94L465.08 0.91L466.32 1.03L467.53 1.31L468.7 1.74L469.81 2.31L470.83 3.01L471.75 3.83L471.69 4.4L470.9 3.65L470.03 3.01L469.08 2.49L468.08 2.09L467.04 1.84L465.97 1.73L464.9 1.75L463.85 1.92L462.82 2.23L461.84 2.68L460.92 3.25L460.07 3.93L459.32 4.73L458.67 5.62L458.13 6.58L457.72 7.61L457.43 8.69L457.28 9.8L457.26 10.91L457.38 12.02L457.63 13.11L458.01 14.15L458.52 15.14L459.14 16.05L459.87 16.87L460.69 17.59L461.59 18.19L462.56 18.66L463.58 19.01L464.63 19.21L465.69 19.28L466.76 19.2L467.81 18.98L468.82 18.63L469.79 18.14L470.68 17.53L471.5 16.81L472.21 15.98L472.83 15.06L473.32 14.07Z" fill="#181818"/>
<path d="M472 1.6L472.8 1.6L473 6.9L472.6 6.9L470.9 3.3Z" fill="#181818"/>
<rect x="40.15" y="243.4" width="1.9" height="18.1" fill="#181818"/>
<path d="M37.3 243.43L47 243.43" stroke="#181818" stroke-width="0.85" fill="none"/>
<path d="M37.3 261.5L47 261.5" stroke="#181818" stroke-width="0.85" fill="none"/>
<path d="M46.6 243L47.75 243.06L48.89 243.24L50 243.53L51.07 243.94L52.08 244.45L53.02 245.06L53.88 245.77L54.65 246.56L55.32 247.42L55.88 248.35L56.32 249.33L56.64 250.35L56.84 251.39L56.9 252.45L56.84 253.51L56.64 254.55L56.32 255.57L55.88 256.55L55.32 257.48L54.65 258.34L53.88 259.13L53.02 259.84L52.08 260.45L51.07 260.96L50 261.37L48.89 261.66L47.75 261.84L46.6 261.9L46.6 261.05L47.51 261L48.4 260.83L49.28 260.57L50.11 260.2L50.91 259.73L51.65 259.17L52.33 258.53L52.93 257.81L53.46 257.03L53.9 256.18L54.25 255.29L54.5 254.36L54.65 253.41L54.7 252.45L54.65 251.49L54.5 250.54L54.25 249.61L53.9 248.72L53.46 247.87L52.93 247.09L52.33 246.37L51.65 245.73L50.91 245.17L50.11 244.7L49.28 244.33L48.4 244.07L47.51 243.9L46.6 243.85Z" fill="#181818"/>
<rect x="344.85" y="243.4" width="1.9" height="18.1" fill="#181818"/>
<path d="M342 243.43L355.9 243.43" stroke="#181818" stroke-width="0.85" fill="none"/>
<path d="M355.3 243L356.1 243L356.3 248.4L355.9 248.4L354.6 243.8Z" fill="#181818"/>
<path d="M346.7 252.3L353.4 252.3" stroke="#181818" stroke-width="0.85" fill="none"/>
<path d="M353.2 249.6L353.9 249.6L353.9 255L353.2 255L352.5 252.7L352.5 251.9Z" fill="#181818"/>
<path d="M342 261.5L356.3 261.5" stroke="#181818" stroke-width="0.85" fill="none"/>
<path d="M357.3 256.2L356.9 261.9L354 261.9L355.9 260.3Z" fill="#181818"/>
<rect x="43.35" y="487.1" width="1.9" height="17.6" fill="#181818"/>
<path d="M40.8 487.13L53.5 487.13" stroke="#181818" stroke-width="0.85" fill="none"/>
<path d="M52.9 486.7L53.7 486.7L53.9 492L53.5 492L52.2 487.5Z" fill="#181818"/>
<path d="M45.2 495.85L51.5 495.85" stroke="#181818" stroke-width="0.85" fill="none"/>
<path d="M51.3 493.2L52 493.2L52 498.5L51.3 498.5L50.6 496.25L50.6 495.45Z" fill="#181818"/>
<path d="M40.8 504.7L48.2 504.7" stroke="#181818" stroke-width="0.85" fill="none"/>
<path d="M357.15 503.32L356.16 504L355.09 504.57L353.96 505.02L352.78 505.35L351.57 505.54L350.34 505.6L349.11 505.53L347.9 505.32L346.72 504.98L345.59 504.52L344.53 503.94L343.55 503.24L342.67 502.45L341.89 501.56L341.23 500.6L340.69 499.57L340.29 498.48L340.03 497.37L339.91 496.23L339.93 495.09L340.1 493.95L340.41 492.85L340.86 491.78L341.44 490.77L342.14 489.83L342.96 488.97L343.87 488.21L344.88 487.55L345.97 487.01L347.11 486.59L348.3 486.3L349.52 486.13L350.75 486.11L351.98 486.21L353.18 486.45L354.35 486.82L355.46 487.31L356.5 487.92L357.46 488.64L358.32 489.45L358.21 489.99L357.46 489.24L356.62 488.58L355.71 488.03L354.74 487.58L353.73 487.24L352.68 487.02L351.61 486.93L350.53 486.95L349.47 487.1L348.43 487.37L347.44 487.76L346.49 488.25L345.61 488.85L344.81 489.55L344.1 490.34L343.49 491.2L342.99 492.12L342.6 493.1L342.33 494.11L342.18 495.15L342.16 496.2L342.26 497.24L342.49 498.26L342.84 499.25L343.31 500.2L343.88 501.08L344.56 501.89L345.33 502.62L346.19 503.26L347.11 503.79L348.09 504.21L349.12 504.52L350.17 504.71L351.24 504.78L352.32 504.72L353.37 504.55L354.4 504.25L355.39 503.84L356.32 503.32L357.18 502.69Z" fill="#181818"/>
<path d="M356.8 487L357.5 487L357.7 492.6L357.3 492.6L355.4 489.2Z" fill="#181818"/>
<rect x="355.5" y="496.9" width="1.8" height="7.1" fill="#181818"/>
<path d="M352.3 496.9L358.9 496.9" stroke="#181818" stroke-width="0.85" fill="none"/>
<rect x="39.85" y="730.1" width="1.9" height="17.6" fill="#181818"/>
<rect x="52.95" y="730.1" width="1.9" height="17.6" fill="#181818"/>
<path d="M41.7 738.3L53 738.3" stroke="#181818" stroke-width="0.9" fill="none"/>
<path d="M36.7 730.12L44.6 730.12" stroke="#181818" stroke-width="0.85" fill="none"/>
<path d="M36.7 747.7L44.6 747.7" stroke="#181818" stroke-width="0.85" fill="none"/>
<path d="M49.8 730.12L57.7 730.12" stroke="#181818" stroke-width="0.85" fill="none"/>
<path d="M49.8 747.7L57.7 747.7" stroke="#181818" stroke-width="0.85" fill="none"/>
<rect x="348.6" y="730.1" width="1.9" height="17.6" fill="#181818"/>
<path d="M345.8 730.12L352.8 730.12" stroke="#181818" stroke-width="0.85" fill="none"/>
<path d="M345.8 747.7L352.8 747.7" stroke="#181818" stroke-width="0.85" fill="none"/>
</g>
</svg></body></html>
